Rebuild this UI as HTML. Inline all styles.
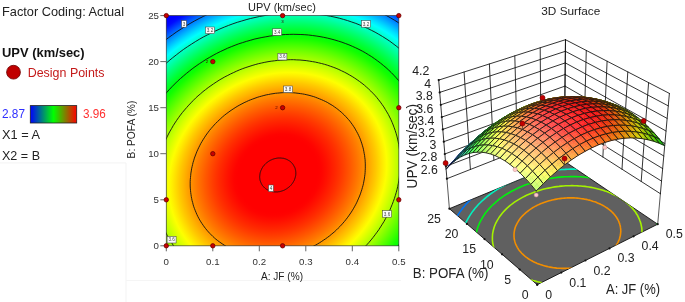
<!DOCTYPE html>
<html><head><meta charset="utf-8"><title>UPV response surface</title>
<style>
html,body{margin:0;padding:0;background:#fff}
body{width:685px;height:302px;overflow:hidden;position:relative;font-family:"Liberation Sans",sans-serif}
svg{position:absolute;left:0;top:0;font-family:"Liberation Sans",sans-serif}
</style></head><body>
<svg width="685" height="302" viewBox="0 0 685 302">
<rect x="0" y="0" width="685" height="302" fill="#fff"/>
<g id="legend">
<text x="2" y="15.8" font-size="13" textLength="122" lengthAdjust="spacingAndGlyphs" fill="#222">Factor Coding: Actual</text>
<text x="2" y="56.6" font-size="11.9" textLength="82.6" lengthAdjust="spacingAndGlyphs" font-weight="bold" fill="#111">UPV (km/sec)</text>
<circle cx="13.5" cy="72.2" r="6.9" fill="#c00000" stroke="#6a0000" stroke-width="0.8"/>
<text x="27.7" y="77" font-size="13.1" textLength="76.8" lengthAdjust="spacingAndGlyphs" fill="#c41a1a">Design Points</text>
<text x="2" y="118.4" font-size="12.4" textLength="23" lengthAdjust="spacingAndGlyphs" fill="#2f2fff">2.87</text>
<rect x="30.3" y="105.6" width="46.4" height="17.4" fill="url(#lg)" stroke="#222" stroke-width="0.8"/>
<text x="83" y="118.4" font-size="12.4" textLength="22.8" lengthAdjust="spacingAndGlyphs" fill="#ff2f2f">3.96</text>
<text x="2" y="139" font-size="12.5" textLength="38" lengthAdjust="spacingAndGlyphs" fill="#222">X1 = A</text>
<text x="2" y="159.8" font-size="12.5" textLength="38" lengthAdjust="spacingAndGlyphs" fill="#222">X2 = B</text>
</g>
<path d="M0 162.9H126V302" fill="none" stroke="#f3f3f3" stroke-width="1"/>
<path d="M126 280.5H401" fill="none" stroke="#f5f5f5" stroke-width="1"/>
<g id="contour">
<defs><radialGradient id="hg" gradientUnits="userSpaceOnUse" cx="0" cy="0" r="1" gradientTransform="matrix(-194.04421 112.27451 99.26805 171.56511 277.770 174.968)"><stop offset="0.0000" stop-color="#ff0000"/><stop offset="0.0167" stop-color="#ff0000"/><stop offset="0.0333" stop-color="#ff0000"/><stop offset="0.0500" stop-color="#ff0000"/><stop offset="0.0667" stop-color="#ff0000"/><stop offset="0.0833" stop-color="#ff0000"/><stop offset="0.1000" stop-color="#ff0000"/><stop offset="0.1167" stop-color="#ff0000"/><stop offset="0.1333" stop-color="#ff0000"/><stop offset="0.1500" stop-color="#ff0000"/><stop offset="0.1667" stop-color="#ff0000"/><stop offset="0.1833" stop-color="#ff0000"/><stop offset="0.2000" stop-color="#ff0300"/><stop offset="0.2167" stop-color="#ff0b00"/><stop offset="0.2333" stop-color="#ff1400"/><stop offset="0.2500" stop-color="#ff1e00"/><stop offset="0.2667" stop-color="#ff2800"/><stop offset="0.2833" stop-color="#ff3300"/><stop offset="0.3000" stop-color="#ff3f00"/><stop offset="0.3167" stop-color="#ff4c00"/><stop offset="0.3333" stop-color="#ff5900"/><stop offset="0.3500" stop-color="#ff6700"/><stop offset="0.3667" stop-color="#ff7500"/><stop offset="0.3833" stop-color="#ff8400"/><stop offset="0.4000" stop-color="#ff9400"/><stop offset="0.4167" stop-color="#ffa400"/><stop offset="0.4333" stop-color="#ffb600"/><stop offset="0.4500" stop-color="#ffc700"/><stop offset="0.4667" stop-color="#ffda00"/><stop offset="0.4833" stop-color="#ffed00"/><stop offset="0.5000" stop-color="#fdff00"/><stop offset="0.5167" stop-color="#e8ff00"/><stop offset="0.5333" stop-color="#d3ff00"/><stop offset="0.5500" stop-color="#bdff00"/><stop offset="0.5667" stop-color="#a7ff00"/><stop offset="0.5833" stop-color="#90ff00"/><stop offset="0.6000" stop-color="#78ff00"/><stop offset="0.6167" stop-color="#5fff00"/><stop offset="0.6333" stop-color="#46ff00"/><stop offset="0.6500" stop-color="#2cff00"/><stop offset="0.6667" stop-color="#12ff00"/><stop offset="0.6833" stop-color="#00ff0a"/><stop offset="0.7000" stop-color="#00ff26"/><stop offset="0.7167" stop-color="#00ff42"/><stop offset="0.7333" stop-color="#00ff5f"/><stop offset="0.7500" stop-color="#00ff7d"/><stop offset="0.7667" stop-color="#00ff9c"/><stop offset="0.7833" stop-color="#00ffbb"/><stop offset="0.8000" stop-color="#00ffdb"/><stop offset="0.8167" stop-color="#00fffc"/><stop offset="0.8333" stop-color="#00e1ff"/><stop offset="0.8500" stop-color="#00bfff"/><stop offset="0.8667" stop-color="#009cff"/><stop offset="0.8833" stop-color="#0079ff"/><stop offset="0.9000" stop-color="#0055ff"/><stop offset="0.9167" stop-color="#0030ff"/><stop offset="0.9333" stop-color="#000bff"/><stop offset="0.9500" stop-color="#0000ff"/><stop offset="0.9667" stop-color="#0000ff"/><stop offset="0.9833" stop-color="#0000ff"/><stop offset="1.0000" stop-color="#0000ff"/></radialGradient><clipPath id="pc"><rect x="166.3" y="15.6" width="232.5" height="230.2"/></clipPath><linearGradient id="lg" x1="0" x2="1" y1="0" y2="0"><stop offset="0" stop-color="#0000ff"/><stop offset="0.5" stop-color="#00ff00"/><stop offset="1" stop-color="#ff0000"/></linearGradient></defs>
<rect x="166.3" y="15.6" width="232.5" height="230.2" fill="url(#hg)"/>
<g clip-path="url(#pc)" fill="none" stroke="#111" stroke-width="0.9">
<path d="M106.4 274.1 L108.8 278.0 L111.3 281.9 L113.8 285.7 L116.5 289.4 L119.3 293.0 L122.3 296.6 L125.3 300.1 L128.4 303.4 L131.6 306.7 L135.0 309.9 L138.4 313.0 L141.9 316.1 L145.5 319.0 L149.2 321.8 L153.0 324.5 L156.9 327.1 L160.9 329.7 L164.9 332.1 L169.0 334.4 L173.2 336.6 L177.5 338.6 L181.8 340.6 L186.2 342.5 L190.7 344.2 L195.2 345.8 L199.8 347.3 L204.4 348.7 L209.1 350.0 L213.8 351.2 L218.6 352.2 L223.4 353.1 L228.3 353.9 L233.1 354.5 L238.1 355.1 L243.0 355.5 L248.0 355.8 L253.0 356.0 L258.0 356.0 L263.0 355.9 L268.0 355.7 L273.0 355.4 L278.1 355.0 L283.1 354.4 L288.2 353.7 L293.2 352.9 L298.2 351.9 L303.2 350.9 L308.2 349.7 L313.2 348.4 L318.1 347.0 L323.0 345.4 L327.9 343.8 L332.7 342.0 L337.5 340.1 L342.3 338.1 L347.0 336.0 L351.7 333.8 L356.3 331.4 L360.9 329.0 L365.4 326.5 L369.9 323.8 L374.3 321.1 L378.6 318.2 L382.9 315.3 L387.0 312.2 L391.1 309.1 L395.2 305.9 L399.1 302.5 L403.0 299.1 L406.8 295.6 L410.5 292.1 L414.1 288.4 L417.6 284.7 L421.0 280.9 L424.3 277.0 L427.5 273.0 L430.6 269.0 L433.7 264.9 L436.6 260.8 L439.3 256.6 L442.0 252.3 L444.6 248.0 L447.1 243.7 L449.4 239.3 L451.6 234.8 L453.7 230.3 L455.7 225.8 L457.6 221.2 L459.3 216.6 L460.9 212.0 L462.4 207.3 L463.7 202.7 L465.0 198.0 L466.1 193.3 L467.1 188.5 L467.9 183.8 L468.6 179.1 L469.2 174.3 L469.7 169.6 L470.0 164.9 L470.2 160.1 L470.2 155.4 L470.2 150.7 L469.9 146.0 L469.6 141.4 L469.1 136.7 L468.5 132.1 L467.8 127.5 L466.9 122.9 L466.0 118.4 L464.8 113.9 L463.6 109.5 L462.2 105.1 L460.7 100.8 L459.1 96.5 L457.3 92.2 L455.5 88.0 L453.5 83.9 L451.3 79.8 L449.1 75.8 L446.8 71.9 L444.3 68.0 L441.7 64.3 L439.0 60.5 L436.2 56.9 L433.3 53.4 L430.3 49.9 L427.1 46.5 L423.9 43.2 L420.6 40.0 L417.2 36.9 L413.6 33.9 L410.0 30.9 L406.3 28.1 L402.5 25.4 L398.6 22.8 L394.7 20.3 L390.6 17.9 L386.5 15.6 L382.3 13.4 L378.1 11.3 L373.7 9.3 L369.3 7.5 L364.9 5.7 L360.3 4.1 L355.8 2.6 L351.1 1.2 L346.4 -0.1 L341.7 -1.2 L336.9 -2.3 L332.1 -3.2 L327.3 -3.9 L322.4 -4.6 L317.5 -5.1 L312.5 -5.6 L307.6 -5.9 L302.6 -6.0 L297.6 -6.1 L292.6 -6.0 L287.5 -5.8 L282.5 -5.5 L277.5 -5.0 L272.4 -4.4 L267.4 -3.7 L262.4 -2.9 L257.3 -2.0 L252.3 -0.9 L247.4 0.3 L242.4 1.6 L237.5 3.0 L232.5 4.5 L227.7 6.2 L222.8 7.9 L218.0 9.8 L213.2 11.8 L208.5 13.9 L203.8 16.2 L199.2 18.5 L194.6 20.9 L190.1 23.5 L185.7 26.1 L181.3 28.9 L176.9 31.7 L172.7 34.7 L168.5 37.7 L164.4 40.9 L160.4 44.1 L156.4 47.4 L152.5 50.8 L148.8 54.3 L145.1 57.9 L141.5 61.5 L138.0 65.3 L134.5 69.1 L131.2 72.9 L128.0 76.9 L124.9 80.9 L121.9 85.0 L119.0 89.1 L116.2 93.3 L113.5 97.6 L110.9 101.9 L108.5 106.3 L106.1 110.7 L103.9 115.1 L101.8 119.6 L99.8 124.2 L98.0 128.7 L96.2 133.3 L94.6 137.9 L93.2 142.6 L91.8 147.3 L90.6 152.0 L89.5 156.7 L88.5 161.4 L87.6 166.1 L86.9 170.9 L86.3 175.6 L85.9 180.3 L85.6 185.1 L85.4 189.8 L85.3 194.5 L85.4 199.2 L85.6 203.9 L85.9 208.6 L86.4 213.2 L87.0 217.8 L87.7 222.4 L88.6 227.0 L89.6 231.5 L90.7 236.0 L92.0 240.4 L93.3 244.8 L94.8 249.2 L96.5 253.5 L98.2 257.7 L100.1 261.9 L102.1 266.0 L104.2 270.1 L106.4 274.1Z"/>
<path d="M124.4 263.7 L126.5 267.3 L128.7 270.7 L131.0 274.1 L133.4 277.4 L135.9 280.7 L138.5 283.9 L141.2 287.0 L144.0 290.0 L146.9 292.9 L149.9 295.8 L153.0 298.6 L156.1 301.3 L159.4 303.9 L162.7 306.5 L166.1 308.9 L169.5 311.2 L173.1 313.5 L176.7 315.6 L180.4 317.7 L184.1 319.7 L188.0 321.5 L191.8 323.3 L195.8 325.0 L199.8 326.5 L203.8 328.0 L207.9 329.3 L212.1 330.6 L216.3 331.7 L220.5 332.7 L224.8 333.7 L229.1 334.5 L233.4 335.2 L237.8 335.8 L242.2 336.2 L246.6 336.6 L251.1 336.9 L255.6 337.0 L260.0 337.1 L264.5 337.0 L269.0 336.8 L273.5 336.5 L278.1 336.1 L282.6 335.6 L287.1 335.0 L291.6 334.3 L296.1 333.4 L300.5 332.5 L305.0 331.4 L309.4 330.2 L313.9 329.0 L318.3 327.6 L322.6 326.1 L327.0 324.5 L331.3 322.8 L335.6 321.0 L339.8 319.1 L344.0 317.2 L348.1 315.1 L352.2 312.9 L356.3 310.6 L360.2 308.2 L364.2 305.8 L368.0 303.2 L371.9 300.6 L375.6 297.9 L379.3 295.1 L382.9 292.2 L386.4 289.2 L389.9 286.1 L393.3 283.0 L396.6 279.8 L399.8 276.5 L403.0 273.2 L406.0 269.8 L409.0 266.3 L411.9 262.8 L414.7 259.2 L417.4 255.5 L419.9 251.8 L422.4 248.1 L424.8 244.2 L427.1 240.4 L429.3 236.5 L431.4 232.5 L433.4 228.5 L435.3 224.5 L437.1 220.5 L438.8 216.4 L440.3 212.3 L441.7 208.1 L443.1 203.9 L444.3 199.8 L445.4 195.6 L446.4 191.3 L447.3 187.1 L448.0 182.9 L448.7 178.6 L449.2 174.4 L449.6 170.2 L449.9 165.9 L450.0 161.7 L450.1 157.5 L450.0 153.2 L449.8 149.0 L449.5 144.9 L449.1 140.7 L448.6 136.6 L447.9 132.5 L447.2 128.4 L446.3 124.3 L445.3 120.3 L444.2 116.3 L442.9 112.4 L441.6 108.5 L440.1 104.7 L438.6 100.9 L436.9 97.1 L435.1 93.4 L433.2 89.8 L431.2 86.2 L429.1 82.7 L426.9 79.2 L424.6 75.8 L422.1 72.5 L419.6 69.3 L417.0 66.1 L414.3 63.0 L411.5 59.9 L408.6 57.0 L405.6 54.1 L402.6 51.3 L399.4 48.6 L396.2 46.0 L392.9 43.5 L389.5 41.0 L386.0 38.7 L382.5 36.5 L378.8 34.3 L375.1 32.2 L371.4 30.3 L367.6 28.4 L363.7 26.6 L359.8 25.0 L355.8 23.4 L351.7 22.0 L347.6 20.6 L343.5 19.4 L339.3 18.2 L335.0 17.2 L330.8 16.3 L326.4 15.5 L322.1 14.8 L317.7 14.2 L313.3 13.7 L308.9 13.3 L304.5 13.1 L300.0 12.9 L295.5 12.9 L291.0 12.9 L286.5 13.1 L282.0 13.4 L277.5 13.8 L273.0 14.3 L268.5 14.9 L264.0 15.7 L259.5 16.5 L255.0 17.5 L250.5 18.5 L246.1 19.7 L241.7 21.0 L237.3 22.3 L232.9 23.8 L228.6 25.4 L224.3 27.1 L220.0 28.9 L215.8 30.8 L211.6 32.8 L207.4 34.9 L203.3 37.0 L199.3 39.3 L195.3 41.7 L191.4 44.2 L187.5 46.7 L183.7 49.3 L179.9 52.1 L176.3 54.9 L172.6 57.8 L169.1 60.7 L165.6 63.8 L162.3 66.9 L158.9 70.1 L155.7 73.4 L152.6 76.7 L149.5 80.1 L146.6 83.6 L143.7 87.2 L140.9 90.8 L138.2 94.4 L135.6 98.1 L133.1 101.9 L130.7 105.7 L128.4 109.6 L126.2 113.5 L124.1 117.4 L122.1 121.4 L120.2 125.4 L118.5 129.5 L116.8 133.6 L115.2 137.7 L113.8 141.8 L112.5 146.0 L111.2 150.2 L110.1 154.4 L109.2 158.6 L108.3 162.8 L107.5 167.1 L106.9 171.3 L106.4 175.5 L106.0 179.8 L105.7 184.0 L105.5 188.3 L105.4 192.5 L105.5 196.7 L105.7 200.9 L106.0 205.1 L106.4 209.2 L107.0 213.4 L107.6 217.5 L108.4 221.6 L109.3 225.6 L110.3 229.6 L111.4 233.6 L112.6 237.5 L114.0 241.4 L115.4 245.3 L117.0 249.1 L118.7 252.8 L120.5 256.5 L122.4 260.2 L124.4 263.7Z"/>
<path d="M144.7 252.0 L146.5 255.0 L148.4 258.0 L150.4 261.0 L152.5 263.9 L154.7 266.7 L157.0 269.4 L159.3 272.1 L161.7 274.8 L164.2 277.3 L166.8 279.8 L169.5 282.2 L172.2 284.6 L175.0 286.9 L177.9 289.0 L180.9 291.2 L183.9 293.2 L186.9 295.1 L190.1 297.0 L193.3 298.8 L196.5 300.5 L199.9 302.1 L203.2 303.7 L206.6 305.1 L210.1 306.4 L213.6 307.7 L217.2 308.9 L220.8 310.0 L224.4 310.9 L228.1 311.8 L231.8 312.6 L235.5 313.3 L239.3 314.0 L243.1 314.5 L246.9 314.9 L250.8 315.2 L254.6 315.4 L258.5 315.6 L262.4 315.6 L266.3 315.6 L270.2 315.4 L274.1 315.1 L278.0 314.8 L281.9 314.3 L285.8 313.8 L289.7 313.2 L293.6 312.4 L297.5 311.6 L301.4 310.7 L305.3 309.7 L309.1 308.6 L312.9 307.4 L316.7 306.1 L320.5 304.7 L324.2 303.3 L327.9 301.7 L331.6 300.1 L335.2 298.3 L338.8 296.5 L342.4 294.6 L345.9 292.7 L349.3 290.6 L352.7 288.5 L356.1 286.2 L359.4 284.0 L362.7 281.6 L365.8 279.2 L369.0 276.6 L372.1 274.1 L375.1 271.4 L378.0 268.7 L380.9 265.9 L383.7 263.1 L386.4 260.2 L389.0 257.2 L391.6 254.2 L394.1 251.2 L396.5 248.0 L398.9 244.9 L401.1 241.6 L403.3 238.4 L405.4 235.1 L407.4 231.7 L409.3 228.3 L411.1 224.9 L412.8 221.5 L414.5 218.0 L416.0 214.4 L417.4 210.9 L418.8 207.3 L420.0 203.7 L421.2 200.1 L422.3 196.5 L423.2 192.8 L424.1 189.2 L424.8 185.5 L425.5 181.8 L426.0 178.2 L426.5 174.5 L426.8 170.8 L427.1 167.1 L427.2 163.4 L427.3 159.8 L427.2 156.1 L427.1 152.5 L426.8 148.9 L426.4 145.2 L426.0 141.7 L425.4 138.1 L424.7 134.5 L424.0 131.0 L423.1 127.6 L422.1 124.1 L421.1 120.7 L419.9 117.3 L418.6 114.0 L417.3 110.7 L415.8 107.4 L414.3 104.2 L412.6 101.1 L410.9 98.0 L409.0 94.9 L407.1 91.9 L405.1 89.0 L403.0 86.1 L400.8 83.3 L398.6 80.5 L396.2 77.8 L393.8 75.2 L391.3 72.6 L388.7 70.1 L386.1 67.7 L383.3 65.4 L380.5 63.1 L377.6 60.9 L374.7 58.8 L371.7 56.7 L368.6 54.8 L365.5 52.9 L362.3 51.1 L359.0 49.4 L355.7 47.8 L352.3 46.3 L348.9 44.8 L345.4 43.5 L341.9 42.2 L338.4 41.1 L334.8 40.0 L331.1 39.0 L327.4 38.1 L323.7 37.3 L320.0 36.6 L316.2 36.0 L312.4 35.5 L308.6 35.0 L304.8 34.7 L300.9 34.5 L297.0 34.4 L293.2 34.3 L289.3 34.4 L285.4 34.5 L281.4 34.8 L277.5 35.1 L273.6 35.6 L269.7 36.1 L265.8 36.8 L261.9 37.5 L258.0 38.3 L254.1 39.2 L250.3 40.3 L246.4 41.4 L242.6 42.6 L238.8 43.8 L235.1 45.2 L231.3 46.7 L227.6 48.2 L224.0 49.9 L220.3 51.6 L216.7 53.4 L213.2 55.3 L209.7 57.3 L206.2 59.3 L202.8 61.5 L199.4 63.7 L196.1 66.0 L192.9 68.3 L189.7 70.8 L186.6 73.3 L183.5 75.9 L180.5 78.5 L177.5 81.2 L174.7 84.0 L171.9 86.8 L169.2 89.7 L166.5 92.7 L163.9 95.7 L161.4 98.8 L159.0 101.9 L156.7 105.1 L154.4 108.3 L152.2 111.6 L150.2 114.9 L148.2 118.2 L146.3 121.6 L144.4 125.0 L142.7 128.5 L141.1 132.0 L139.5 135.5 L138.1 139.0 L136.8 142.6 L135.5 146.2 L134.3 149.8 L133.3 153.5 L132.3 157.1 L131.5 160.8 L130.7 164.4 L130.1 168.1 L129.5 171.8 L129.1 175.5 L128.7 179.1 L128.5 182.8 L128.3 186.5 L128.3 190.2 L128.3 193.8 L128.5 197.5 L128.7 201.1 L129.1 204.7 L129.6 208.3 L130.1 211.8 L130.8 215.4 L131.6 218.9 L132.4 222.4 L133.4 225.8 L134.5 229.2 L135.7 232.6 L136.9 236.0 L138.3 239.3 L139.7 242.5 L141.3 245.7 L142.9 248.9 L144.7 252.0Z"/>
<path d="M168.7 238.1 L170.2 240.6 L171.8 243.0 L173.4 245.5 L175.1 247.8 L176.9 250.1 L178.8 252.4 L180.7 254.6 L182.7 256.8 L184.7 258.8 L186.9 260.9 L189.0 262.9 L191.3 264.8 L193.6 266.7 L195.9 268.4 L198.4 270.2 L200.8 271.8 L203.3 273.5 L205.9 275.0 L208.5 276.4 L211.2 277.8 L213.9 279.2 L216.7 280.4 L219.5 281.6 L222.3 282.7 L225.2 283.7 L228.1 284.7 L231.1 285.6 L234.0 286.4 L237.1 287.1 L240.1 287.8 L243.2 288.4 L246.3 288.9 L249.4 289.3 L252.5 289.6 L255.6 289.9 L258.8 290.1 L262.0 290.2 L265.2 290.2 L268.4 290.2 L271.6 290.0 L274.8 289.8 L278.0 289.5 L281.2 289.2 L284.4 288.7 L287.6 288.2 L290.8 287.6 L294.0 286.9 L297.1 286.2 L300.3 285.4 L303.4 284.5 L306.6 283.5 L309.7 282.4 L312.8 281.3 L315.8 280.1 L318.9 278.8 L321.9 277.5 L324.8 276.1 L327.8 274.6 L330.7 273.0 L333.6 271.4 L336.4 269.7 L339.2 268.0 L342.0 266.2 L344.7 264.3 L347.3 262.3 L349.9 260.3 L352.5 258.3 L355.0 256.2 L357.5 254.0 L359.9 251.8 L362.3 249.5 L364.5 247.2 L366.8 244.8 L369.0 242.4 L371.1 239.9 L373.1 237.4 L375.1 234.8 L377.0 232.2 L378.9 229.6 L380.6 226.9 L382.3 224.2 L384.0 221.5 L385.5 218.7 L387.0 215.9 L388.4 213.1 L389.8 210.2 L391.0 207.3 L392.2 204.4 L393.3 201.5 L394.4 198.5 L395.3 195.6 L396.2 192.6 L397.0 189.6 L397.7 186.6 L398.3 183.6 L398.8 180.6 L399.3 177.6 L399.6 174.6 L399.9 171.5 L400.1 168.5 L400.3 165.5 L400.3 162.5 L400.2 159.5 L400.1 156.5 L399.9 153.6 L399.6 150.6 L399.2 147.7 L398.8 144.7 L398.2 141.8 L397.6 139.0 L396.9 136.1 L396.1 133.3 L395.2 130.5 L394.2 127.7 L393.2 125.0 L392.1 122.3 L390.9 119.6 L389.6 117.0 L388.3 114.4 L386.8 111.9 L385.3 109.4 L383.8 106.9 L382.1 104.5 L380.4 102.1 L378.6 99.8 L376.8 97.5 L374.9 95.3 L372.9 93.2 L370.8 91.1 L368.7 89.0 L366.5 87.1 L364.3 85.1 L362.0 83.3 L359.6 81.5 L357.2 79.8 L354.7 78.1 L352.2 76.5 L349.6 75.0 L347.0 73.5 L344.3 72.1 L341.6 70.8 L338.9 69.5 L336.1 68.3 L333.2 67.2 L330.3 66.2 L327.4 65.2 L324.5 64.3 L321.5 63.5 L318.5 62.8 L315.4 62.1 L312.4 61.6 L309.3 61.1 L306.2 60.6 L303.0 60.3 L299.9 60.0 L296.7 59.9 L293.6 59.7 L290.4 59.7 L287.2 59.8 L284.0 59.9 L280.8 60.1 L277.6 60.4 L274.4 60.8 L271.2 61.2 L268.0 61.7 L264.8 62.3 L261.6 63.0 L258.4 63.7 L255.2 64.6 L252.1 65.5 L249.0 66.5 L245.9 67.5 L242.8 68.6 L239.7 69.8 L236.7 71.1 L233.7 72.5 L230.7 73.9 L227.8 75.4 L224.8 76.9 L222.0 78.5 L219.1 80.2 L216.3 82.0 L213.6 83.8 L210.9 85.7 L208.2 87.6 L205.6 89.6 L203.0 91.6 L200.5 93.8 L198.0 95.9 L195.6 98.1 L193.3 100.4 L191.0 102.8 L188.8 105.1 L186.6 107.6 L184.5 110.0 L182.4 112.5 L180.4 115.1 L178.5 117.7 L176.7 120.3 L174.9 123.0 L173.2 125.7 L171.6 128.5 L170.0 131.2 L168.5 134.0 L167.1 136.9 L165.8 139.7 L164.5 142.6 L163.3 145.5 L162.2 148.5 L161.2 151.4 L160.2 154.4 L159.4 157.3 L158.6 160.3 L157.9 163.3 L157.3 166.3 L156.7 169.3 L156.3 172.4 L155.9 175.4 L155.6 178.4 L155.4 181.4 L155.3 184.4 L155.3 187.4 L155.3 190.4 L155.4 193.4 L155.6 196.4 L155.9 199.3 L156.3 202.3 L156.8 205.2 L157.3 208.1 L158.0 211.0 L158.7 213.8 L159.5 216.6 L160.4 219.4 L161.3 222.2 L162.3 225.0 L163.5 227.7 L164.7 230.3 L165.9 232.9 L167.3 235.5 L168.7 238.1Z"/>
<path d="M199.8 220.1 L200.9 221.9 L202.0 223.6 L203.2 225.3 L204.4 227.0 L205.7 228.7 L207.0 230.3 L208.4 231.9 L209.8 233.4 L211.3 234.9 L212.8 236.4 L214.3 237.8 L215.9 239.2 L217.6 240.5 L219.3 241.8 L221.0 243.0 L222.8 244.2 L224.6 245.4 L226.4 246.5 L228.3 247.5 L230.2 248.5 L232.1 249.4 L234.1 250.3 L236.1 251.2 L238.1 252.0 L240.2 252.7 L242.3 253.4 L244.4 254.0 L246.5 254.6 L248.7 255.1 L250.8 255.6 L253.0 256.0 L255.2 256.4 L257.5 256.7 L259.7 256.9 L262.0 257.1 L264.2 257.2 L266.5 257.3 L268.8 257.3 L271.0 257.3 L273.3 257.2 L275.6 257.1 L277.9 256.9 L280.2 256.6 L282.5 256.3 L284.8 255.9 L287.1 255.5 L289.3 255.0 L291.6 254.5 L293.9 253.9 L296.1 253.2 L298.4 252.5 L300.6 251.8 L302.8 251.0 L305.0 250.1 L307.1 249.2 L309.3 248.2 L311.4 247.2 L313.5 246.2 L315.6 245.1 L317.7 243.9 L319.7 242.7 L321.7 241.4 L323.6 240.1 L325.6 238.8 L327.5 237.4 L329.4 236.0 L331.2 234.5 L333.0 233.0 L334.8 231.5 L336.5 229.9 L338.2 228.2 L339.8 226.6 L341.4 224.9 L342.9 223.2 L344.5 221.4 L345.9 219.6 L347.3 217.8 L348.7 215.9 L350.0 214.0 L351.3 212.1 L352.5 210.2 L353.7 208.2 L354.8 206.2 L355.9 204.2 L356.9 202.2 L357.8 200.1 L358.7 198.1 L359.6 196.0 L360.4 193.9 L361.1 191.8 L361.8 189.7 L362.4 187.6 L363.0 185.4 L363.5 183.3 L363.9 181.1 L364.3 179.0 L364.6 176.8 L364.9 174.7 L365.1 172.5 L365.2 170.4 L365.3 168.2 L365.3 166.1 L365.3 163.9 L365.2 161.8 L365.1 159.7 L364.8 157.6 L364.6 155.5 L364.2 153.4 L363.8 151.3 L363.4 149.2 L362.9 147.2 L362.3 145.2 L361.7 143.2 L361.0 141.2 L360.3 139.2 L359.5 137.3 L358.6 135.4 L357.7 133.5 L356.7 131.7 L355.7 129.9 L354.7 128.1 L353.5 126.3 L352.4 124.6 L351.1 122.9 L349.9 121.2 L348.5 119.6 L347.2 118.1 L345.7 116.5 L344.3 115.0 L342.8 113.6 L341.2 112.1 L339.6 110.8 L337.9 109.4 L336.3 108.2 L334.5 106.9 L332.8 105.7 L331.0 104.6 L329.1 103.5 L327.3 102.4 L325.3 101.4 L323.4 100.5 L321.4 99.6 L319.4 98.8 L317.4 98.0 L315.3 97.2 L313.3 96.5 L311.2 95.9 L309.0 95.3 L306.9 94.8 L304.7 94.3 L302.5 93.9 L300.3 93.6 L298.1 93.3 L295.8 93.0 L293.6 92.8 L291.3 92.7 L289.1 92.6 L286.8 92.6 L284.5 92.6 L282.2 92.7 L279.9 92.9 L277.6 93.1 L275.3 93.3 L273.0 93.7 L270.8 94.0 L268.5 94.5 L266.2 94.9 L263.9 95.5 L261.7 96.1 L259.4 96.7 L257.2 97.4 L255.0 98.2 L252.8 99.0 L250.6 99.8 L248.4 100.7 L246.3 101.7 L244.1 102.7 L242.0 103.8 L239.9 104.9 L237.9 106.0 L235.9 107.2 L233.9 108.5 L231.9 109.8 L230.0 111.1 L228.1 112.5 L226.2 113.9 L224.3 115.4 L222.5 116.9 L220.8 118.5 L219.1 120.1 L217.4 121.7 L215.7 123.4 L214.2 125.0 L212.6 126.8 L211.1 128.5 L209.6 130.3 L208.2 132.2 L206.8 134.0 L205.5 135.9 L204.3 137.8 L203.0 139.8 L201.9 141.7 L200.7 143.7 L199.7 145.7 L198.7 147.7 L197.7 149.8 L196.8 151.8 L196.0 153.9 L195.2 156.0 L194.4 158.1 L193.8 160.2 L193.1 162.4 L192.6 164.5 L192.1 166.6 L191.6 168.8 L191.3 170.9 L190.9 173.1 L190.7 175.3 L190.5 177.4 L190.3 179.6 L190.2 181.7 L190.2 183.9 L190.2 186.0 L190.3 188.1 L190.5 190.3 L190.7 192.4 L191.0 194.5 L191.3 196.6 L191.7 198.6 L192.1 200.7 L192.7 202.7 L193.2 204.8 L193.8 206.8 L194.5 208.7 L195.3 210.7 L196.1 212.6 L196.9 214.5 L197.8 216.4 L198.8 218.3 L199.8 220.1Z"/>
<path d="M261.7 184.3 L261.9 184.6 L262.2 185.0 L262.4 185.4 L262.6 185.7 L262.9 186.0 L263.2 186.4 L263.5 186.7 L263.8 187.0 L264.1 187.3 L264.4 187.6 L264.7 187.9 L265.0 188.2 L265.4 188.5 L265.7 188.7 L266.1 189.0 L266.4 189.2 L266.8 189.5 L267.2 189.7 L267.6 189.9 L268.0 190.1 L268.4 190.3 L268.8 190.5 L269.2 190.7 L269.6 190.8 L270.0 191.0 L270.5 191.1 L270.9 191.3 L271.3 191.4 L271.8 191.5 L272.2 191.6 L272.7 191.7 L273.1 191.7 L273.6 191.8 L274.0 191.9 L274.5 191.9 L275.0 191.9 L275.4 191.9 L275.9 191.9 L276.4 191.9 L276.9 191.9 L277.3 191.9 L277.8 191.9 L278.3 191.8 L278.7 191.7 L279.2 191.7 L279.7 191.6 L280.2 191.5 L280.6 191.4 L281.1 191.2 L281.6 191.1 L282.0 191.0 L282.5 190.8 L282.9 190.6 L283.4 190.5 L283.8 190.3 L284.3 190.1 L284.7 189.9 L285.1 189.6 L285.6 189.4 L286.0 189.2 L286.4 188.9 L286.8 188.7 L287.2 188.4 L287.6 188.1 L288.0 187.8 L288.4 187.5 L288.8 187.2 L289.2 186.9 L289.5 186.6 L289.9 186.3 L290.2 186.0 L290.6 185.6 L290.9 185.3 L291.2 184.9 L291.5 184.5 L291.8 184.2 L292.1 183.8 L292.4 183.4 L292.7 183.0 L292.9 182.6 L293.2 182.2 L293.4 181.8 L293.6 181.4 L293.9 181.0 L294.1 180.6 L294.3 180.2 L294.5 179.7 L294.6 179.3 L294.8 178.9 L294.9 178.4 L295.1 178.0 L295.2 177.6 L295.3 177.1 L295.4 176.7 L295.5 176.2 L295.6 175.8 L295.7 175.4 L295.7 174.9 L295.8 174.5 L295.8 174.0 L295.8 173.6 L295.8 173.1 L295.8 172.7 L295.8 172.3 L295.8 171.8 L295.7 171.4 L295.7 170.9 L295.6 170.5 L295.5 170.1 L295.4 169.7 L295.3 169.2 L295.2 168.8 L295.1 168.4 L294.9 168.0 L294.8 167.6 L294.6 167.2 L294.4 166.8 L294.2 166.4 L294.1 166.0 L293.8 165.7 L293.6 165.3 L293.4 164.9 L293.1 164.6 L292.9 164.2 L292.6 163.9 L292.4 163.6 L292.1 163.2 L291.8 162.9 L291.5 162.6 L291.2 162.3 L290.8 162.0 L290.5 161.7 L290.2 161.5 L289.8 161.2 L289.5 160.9 L289.1 160.7 L288.7 160.5 L288.4 160.2 L288.0 160.0 L287.6 159.8 L287.2 159.6 L286.8 159.4 L286.4 159.3 L285.9 159.1 L285.5 158.9 L285.1 158.8 L284.7 158.7 L284.2 158.5 L283.8 158.4 L283.3 158.3 L282.9 158.3 L282.4 158.2 L282.0 158.1 L281.5 158.1 L281.0 158.0 L280.6 158.0 L280.1 158.0 L279.6 158.0 L279.2 158.0 L278.7 158.0 L278.2 158.0 L277.7 158.1 L277.3 158.1 L276.8 158.2 L276.3 158.3 L275.9 158.4 L275.4 158.5 L274.9 158.6 L274.5 158.7 L274.0 158.8 L273.5 159.0 L273.1 159.1 L272.6 159.3 L272.2 159.5 L271.7 159.7 L271.3 159.9 L270.8 160.1 L270.4 160.3 L270.0 160.5 L269.5 160.8 L269.1 161.0 L268.7 161.3 L268.3 161.5 L267.9 161.8 L267.5 162.1 L267.1 162.4 L266.8 162.7 L266.4 163.0 L266.0 163.3 L265.7 163.6 L265.3 164.0 L265.0 164.3 L264.7 164.7 L264.3 165.0 L264.0 165.4 L263.7 165.8 L263.4 166.1 L263.1 166.5 L262.9 166.9 L262.6 167.3 L262.4 167.7 L262.1 168.1 L261.9 168.5 L261.7 168.9 L261.5 169.4 L261.3 169.8 L261.1 170.2 L260.9 170.6 L260.7 171.1 L260.6 171.5 L260.5 171.9 L260.3 172.4 L260.2 172.8 L260.1 173.3 L260.0 173.7 L259.9 174.1 L259.9 174.6 L259.8 175.0 L259.8 175.5 L259.7 175.9 L259.7 176.4 L259.7 176.8 L259.7 177.2 L259.7 177.7 L259.8 178.1 L259.8 178.6 L259.9 179.0 L259.9 179.4 L260.0 179.8 L260.1 180.3 L260.2 180.7 L260.3 181.1 L260.5 181.5 L260.6 181.9 L260.8 182.3 L260.9 182.7 L261.1 183.1 L261.3 183.5 L261.5 183.9 L261.7 184.3Z"/>
</g>
<rect x="166.3" y="15.6" width="232.5" height="230.2" fill="none" stroke="#1a1a1a" stroke-opacity="0.75" stroke-width="0.8"/>
<g stroke="#666" stroke-width="1">
<line x1="166.3" y1="245.8" x2="166.3" y2="251.3"/>
<line x1="160.3" y1="245.8" x2="166.3" y2="245.8"/>
<line x1="212.8" y1="245.8" x2="212.8" y2="251.3"/>
<line x1="160.3" y1="199.8" x2="166.3" y2="199.8"/>
<line x1="259.3" y1="245.8" x2="259.3" y2="251.3"/>
<line x1="160.3" y1="153.7" x2="166.3" y2="153.7"/>
<line x1="305.8" y1="245.8" x2="305.8" y2="251.3"/>
<line x1="160.3" y1="107.7" x2="166.3" y2="107.7"/>
<line x1="352.3" y1="245.8" x2="352.3" y2="251.3"/>
<line x1="160.3" y1="61.6" x2="166.3" y2="61.6"/>
<line x1="398.8" y1="245.8" x2="398.8" y2="251.3"/>
<line x1="160.3" y1="15.6" x2="166.3" y2="15.6"/>
</g>
<g font-size="9.7" fill="#333">
<text x="166.3" y="264.7" text-anchor="middle">0</text>
<text x="159" y="249.3" text-anchor="end">0</text>
<text x="212.8" y="264.7" text-anchor="middle">0.1</text>
<text x="159" y="203.3" text-anchor="end">5</text>
<text x="259.3" y="264.7" text-anchor="middle">0.2</text>
<text x="159" y="157.2" text-anchor="end">10</text>
<text x="305.8" y="264.7" text-anchor="middle">0.3</text>
<text x="159" y="111.2" text-anchor="end">15</text>
<text x="352.3" y="264.7" text-anchor="middle">0.4</text>
<text x="159" y="65.1" text-anchor="end">20</text>
<text x="398.8" y="264.7" text-anchor="middle">0.5</text>
<text x="159" y="19.1" text-anchor="end">25</text>
</g>
<text x="261" y="280.4" font-size="10.5" textLength="42" lengthAdjust="spacingAndGlyphs" fill="#222">A: JF (%)</text>
<text transform="translate(135.3 158.4) rotate(-90)" font-size="10.5" textLength="57.7" lengthAdjust="spacingAndGlyphs" fill="#222">B: POFA (%)</text>
<text x="248" y="10.8" font-size="10.6" textLength="67.8" lengthAdjust="spacingAndGlyphs" fill="#222">UPV (km/sec)</text>
<rect x="181.6" y="20.6" width="4.8" height="6.6" fill="#fbfbfb" stroke="#444" stroke-width="0.55"/>
<text x="184.0" y="25.6" font-size="4.6" text-anchor="middle" fill="#444">3</text>
<rect x="205.5" y="27.0" width="9.0" height="6.6" fill="#fbfbfb" stroke="#444" stroke-width="0.55"/>
<text x="210.0" y="32.0" font-size="4.6" text-anchor="middle" fill="#444">3.2</text>
<rect x="272.6" y="28.8" width="9.0" height="6.6" fill="#fbfbfb" stroke="#444" stroke-width="0.55"/>
<text x="277.1" y="33.8" font-size="4.6" text-anchor="middle" fill="#444">3.4</text>
<rect x="277.9" y="53.4" width="9.0" height="6.6" fill="#fbfbfb" stroke="#444" stroke-width="0.55"/>
<text x="282.4" y="58.4" font-size="4.6" text-anchor="middle" fill="#444">3.6</text>
<rect x="283.5" y="86.0" width="9.0" height="6.6" fill="#fbfbfb" stroke="#444" stroke-width="0.55"/>
<text x="288.0" y="91.0" font-size="4.6" text-anchor="middle" fill="#444">3.8</text>
<rect x="268.6" y="185.0" width="4.8" height="6.6" fill="#fbfbfb" stroke="#444" stroke-width="0.55"/>
<text x="271.0" y="190.0" font-size="4.6" text-anchor="middle" fill="#444">4</text>
<rect x="361.5" y="20.6" width="9.0" height="6.6" fill="#fbfbfb" stroke="#444" stroke-width="0.55"/>
<text x="366.0" y="25.6" font-size="4.6" text-anchor="middle" fill="#444">3.2</text>
<rect x="382.5" y="210.6" width="9.0" height="6.6" fill="#fbfbfb" stroke="#444" stroke-width="0.55"/>
<text x="387.0" y="215.6" font-size="4.6" text-anchor="middle" fill="#444">3.6</text>
<rect x="167.1" y="236.4" width="9.0" height="6.6" fill="#fbfbfb" stroke="#444" stroke-width="0.55"/>
<text x="171.6" y="241.4" font-size="4.6" text-anchor="middle" fill="#444">3.6</text>
<circle cx="166.3" cy="15.6" r="2.2" fill="#c80000" stroke="#6a0000" stroke-width="0.8"/>
<circle cx="282.6" cy="15.6" r="2.2" fill="#c80000" stroke="#6a0000" stroke-width="0.8"/>
<circle cx="398.8" cy="15.6" r="2.2" fill="#c80000" stroke="#6a0000" stroke-width="0.8"/>
<circle cx="212.8" cy="61.6" r="2.2" fill="#c80000" stroke="#6a0000" stroke-width="0.8"/>
<circle cx="282.6" cy="107.7" r="2.2" fill="#c80000" stroke="#6a0000" stroke-width="0.8"/>
<circle cx="398.8" cy="107.7" r="2.2" fill="#c80000" stroke="#6a0000" stroke-width="0.8"/>
<circle cx="212.8" cy="153.7" r="2.2" fill="#c80000" stroke="#6a0000" stroke-width="0.8"/>
<circle cx="166.3" cy="199.8" r="2.2" fill="#c80000" stroke="#6a0000" stroke-width="0.8"/>
<circle cx="398.8" cy="199.8" r="2.2" fill="#c80000" stroke="#6a0000" stroke-width="0.8"/>
<circle cx="166.3" cy="245.8" r="2.2" fill="#c80000" stroke="#6a0000" stroke-width="0.8"/>
<circle cx="212.8" cy="245.8" r="2.2" fill="#c80000" stroke="#6a0000" stroke-width="0.8"/>
<circle cx="282.6" cy="245.8" r="2.2" fill="#c80000" stroke="#6a0000" stroke-width="0.8"/>
<text x="207.0" y="63.2" font-size="4.4" text-anchor="middle" fill="#400">2</text>
<text x="282.5" y="22.6" font-size="4.4" text-anchor="middle" fill="#400">3</text>
<text x="276.6" y="109.2" font-size="4.4" text-anchor="middle" fill="#400">2</text>
</g>
<g id="surface">
<g stroke-linecap="round">
<line x1="438.7" y1="80.1" x2="446.9" y2="178.7" stroke="#111" stroke-width="0.85"/>
<line x1="565.5" y1="39.7" x2="564.5" y2="132.5" stroke="#111" stroke-width="0.85"/>
<line x1="464.1" y1="72.0" x2="470.4" y2="169.4" stroke="#111" stroke-width="0.85"/>
<line x1="586.3" y1="50.4" x2="583.7" y2="144.7" stroke="#111" stroke-width="0.85"/>
<line x1="489.4" y1="64.0" x2="493.9" y2="160.2" stroke="#111" stroke-width="0.85"/>
<line x1="607.1" y1="61.2" x2="602.9" y2="157.0" stroke="#111" stroke-width="0.85"/>
<line x1="514.8" y1="55.9" x2="517.5" y2="151.0" stroke="#111" stroke-width="0.85"/>
<line x1="627.8" y1="71.9" x2="622.0" y2="169.2" stroke="#111" stroke-width="0.85"/>
<line x1="540.2" y1="47.8" x2="541.0" y2="141.7" stroke="#111" stroke-width="0.85"/>
<line x1="648.6" y1="82.6" x2="641.2" y2="181.4" stroke="#111" stroke-width="0.85"/>
<line x1="565.5" y1="39.7" x2="564.5" y2="132.5" stroke="#111" stroke-width="0.85"/>
<line x1="669.4" y1="93.4" x2="660.4" y2="193.7" stroke="#111" stroke-width="0.85"/>
<line x1="438.7" y1="80.1" x2="565.5" y2="39.7" stroke="#111" stroke-width="0.85"/>
<line x1="565.5" y1="39.7" x2="669.4" y2="93.4" stroke="#111" stroke-width="0.85"/>
<line x1="439.7" y1="92.4" x2="565.4" y2="51.3" stroke="#111" stroke-width="0.85"/>
<line x1="565.4" y1="51.3" x2="668.3" y2="105.9" stroke="#111" stroke-width="0.85"/>
<line x1="440.8" y1="104.8" x2="565.3" y2="62.9" stroke="#111" stroke-width="0.85"/>
<line x1="565.3" y1="62.9" x2="667.1" y2="118.4" stroke="#111" stroke-width="0.85"/>
<line x1="441.8" y1="117.1" x2="565.1" y2="74.5" stroke="#111" stroke-width="0.85"/>
<line x1="565.1" y1="74.5" x2="666.0" y2="131.0" stroke="#111" stroke-width="0.85"/>
<line x1="442.8" y1="129.4" x2="565.0" y2="86.1" stroke="#111" stroke-width="0.85"/>
<line x1="565.0" y1="86.1" x2="664.9" y2="143.5" stroke="#111" stroke-width="0.85"/>
<line x1="443.8" y1="141.7" x2="564.9" y2="97.7" stroke="#111" stroke-width="0.85"/>
<line x1="564.9" y1="97.7" x2="663.8" y2="156.0" stroke="#111" stroke-width="0.85"/>
<line x1="444.8" y1="154.0" x2="564.8" y2="109.3" stroke="#111" stroke-width="0.85"/>
<line x1="564.8" y1="109.3" x2="662.7" y2="168.6" stroke="#111" stroke-width="0.85"/>
<line x1="445.9" y1="166.3" x2="564.6" y2="120.9" stroke="#111" stroke-width="0.85"/>
<line x1="564.6" y1="120.9" x2="661.5" y2="181.1" stroke="#111" stroke-width="0.85"/>
<line x1="446.9" y1="178.7" x2="564.5" y2="132.5" stroke="#111" stroke-width="0.85"/>
<line x1="564.5" y1="132.5" x2="660.4" y2="193.7" stroke="#111" stroke-width="0.85"/>
<line x1="446.9" y1="178.7" x2="449.4" y2="208.7" stroke="#111" stroke-width="0.7"/>
<line x1="660.4" y1="193.7" x2="657.7" y2="224.2" stroke="#111" stroke-width="0.7"/>
<line x1="564.5" y1="132.5" x2="564.2" y2="161.1" stroke="#111" stroke-width="0.7"/>
</g>
<polygon points="449.4,208.7 537.2,284.7 657.7,224.2 564.2,161.1" fill="#606060" stroke="#111" stroke-width="0.9" stroke-linejoin="round"/>
<clipPath id="fc"><polygon points="449.4,208.7 537.2,284.7 657.7,224.2 564.2,161.1"/></clipPath>
<g clip-path="url(#fc)" fill="none" stroke-width="1.6">
<path d="M514.2 313.7 L518.0 314.8 L521.9 315.7 L525.8 316.6 L529.8 317.3 L533.8 318.0 L537.9 318.6 L542.0 319.0 L546.2 319.4 L550.4 319.6 L554.6 319.8 L558.8 319.9 L563.0 319.8 L567.2 319.7 L571.5 319.5 L575.7 319.1 L579.9 318.7 L584.1 318.2 L588.2 317.5 L592.4 316.8 L596.5 316.0 L600.5 315.1 L604.5 314.0 L608.5 312.9 L612.4 311.8 L616.2 310.5 L619.9 309.1 L623.6 307.7 L627.2 306.2 L630.7 304.6 L634.2 302.9 L637.5 301.2 L640.7 299.3 L643.9 297.5 L646.9 295.5 L649.9 293.6 L652.7 291.5 L655.4 289.4 L658.0 287.2 L660.5 285.1 L662.9 282.8 L665.2 280.5 L667.3 278.2 L669.3 275.9 L671.2 273.5 L673.0 271.1 L674.6 268.7 L676.2 266.2 L677.6 263.7 L678.8 261.3 L680.0 258.8 L681.0 256.3 L681.9 253.8 L682.7 251.2 L683.3 248.7 L683.9 246.2 L684.3 243.7 L684.5 241.2 L684.7 238.7 L684.8 236.3 L684.7 233.8 L684.5 231.4 L684.2 229.0 L683.8 226.6 L683.3 224.2 L682.7 221.8 L681.9 219.5 L681.1 217.2 L680.1 215.0 L679.1 212.7 L678.0 210.5 L676.7 208.4 L675.4 206.3 L674.0 204.2 L672.5 202.2 L670.9 200.2 L669.2 198.2 L667.4 196.3 L665.6 194.4 L663.7 192.6 L661.7 190.8 L659.6 189.1 L657.4 187.4 L655.2 185.8 L652.9 184.2 L650.6 182.7 L648.2 181.2 L645.7 179.8 L643.2 178.5 L640.6 177.1 L638.0 175.9 L635.3 174.7 L632.6 173.5 L629.8 172.5 L627.0 171.4 L624.1 170.4 L621.2 169.5 L618.3 168.7 L615.3 167.9 L612.3 167.1 L609.2 166.4 L606.1 165.8 L603.1 165.2 L599.9 164.7 L596.8 164.2 L593.6 163.9 L590.4 163.5 L587.2 163.2 L584.0 163.0 L580.8 162.9 L577.6 162.8 L574.3 162.7 L571.1 162.8 L567.8 162.8 L564.5 163.0 L561.3 163.2 L558.0 163.4 L554.8 163.8 L551.6 164.1 L548.3 164.6 L545.1 165.1 L541.9 165.6 L538.7 166.2 L535.5 166.9 L532.4 167.6 L529.2 168.4 L526.1 169.3 L523.0 170.2 L520.0 171.1 L517.0 172.2 L514.0 173.2 L511.0 174.4 L508.1 175.6 L505.2 176.8 L502.4 178.1 L499.6 179.4 L496.9 180.9 L494.2 182.3 L491.5 183.8 L488.9 185.4 L486.4 187.0 L483.9 188.7 L481.5 190.4 L479.2 192.1 L476.9 193.9 L474.7 195.8 L472.6 197.7 L470.5 199.6 L468.5 201.6 L466.6 203.6 L464.8 205.7 L463.0 207.8 L461.4 210.0 L459.8 212.1 L458.3 214.4 L457.0 216.6 L455.7 218.9 L454.5 221.2 L453.4 223.5 L452.4 225.9 L451.5 228.3 L450.8 230.7 L450.1 233.1 L449.5 235.6 L449.1 238.1 L448.8 240.5 L448.6 243.0 L448.5 245.5 L448.5 248.0 L448.7 250.5 L448.9 253.1 L449.3 255.6 L449.9 258.1 L450.5 260.6 L451.3 263.1 L452.2 265.5 L453.2 268.0 L454.4 270.4 L455.7 272.8 L457.1 275.2 L458.7 277.6 L460.3 279.9 L462.1 282.2 L464.1 284.4 L466.1 286.6 L468.3 288.8 L470.6 290.9 L473.0 293.0 L475.6 295.0 L478.2 296.9 L481.0 298.8 L483.9 300.7 L486.9 302.4 L490.0 304.1 L493.2 305.7 L496.4 307.3 L499.8 308.7 L503.3 310.1 L506.9 311.4 L510.5 312.6 L514.2 313.7Z" stroke="#0074f2"/>
<path d="M520.5 304.0 L523.9 304.9 L527.3 305.7 L530.7 306.5 L534.3 307.1 L537.8 307.7 L541.4 308.2 L545.1 308.6 L548.7 308.9 L552.4 309.2 L556.1 309.3 L559.8 309.4 L563.5 309.3 L567.3 309.2 L571.0 309.0 L574.7 308.7 L578.4 308.3 L582.1 307.9 L585.8 307.3 L589.4 306.7 L593.1 306.0 L596.6 305.2 L600.2 304.3 L603.7 303.3 L607.1 302.3 L610.5 301.2 L613.8 300.0 L617.1 298.7 L620.3 297.4 L623.4 296.0 L626.4 294.6 L629.4 293.1 L632.3 291.5 L635.1 289.8 L637.8 288.1 L640.5 286.4 L643.0 284.6 L645.4 282.8 L647.8 280.9 L650.0 278.9 L652.2 277.0 L654.2 275.0 L656.1 272.9 L658.0 270.9 L659.7 268.8 L661.3 266.6 L662.8 264.5 L664.2 262.3 L665.5 260.1 L666.7 258.0 L667.7 255.7 L668.7 253.5 L669.5 251.3 L670.3 249.1 L670.9 246.8 L671.4 244.6 L671.8 242.4 L672.1 240.1 L672.3 237.9 L672.4 235.7 L672.4 233.5 L672.3 231.3 L672.1 229.2 L671.7 227.0 L671.3 224.9 L670.8 222.8 L670.2 220.7 L669.5 218.6 L668.7 216.6 L667.8 214.6 L666.8 212.6 L665.7 210.7 L664.6 208.8 L663.3 206.9 L662.0 205.0 L660.6 203.2 L659.1 201.5 L657.5 199.7 L655.9 198.0 L654.2 196.4 L652.4 194.8 L650.6 193.2 L648.7 191.7 L646.7 190.2 L644.7 188.8 L642.6 187.4 L640.4 186.1 L638.2 184.8 L635.9 183.5 L633.6 182.3 L631.2 181.2 L628.8 180.1 L626.4 179.0 L623.9 178.0 L621.3 177.1 L618.7 176.2 L616.1 175.3 L613.5 174.6 L610.8 173.8 L608.0 173.1 L605.3 172.5 L602.5 171.9 L599.7 171.4 L596.9 170.9 L594.0 170.5 L591.2 170.2 L588.3 169.8 L585.4 169.6 L582.5 169.4 L579.6 169.3 L576.6 169.2 L573.7 169.1 L570.7 169.1 L567.8 169.2 L564.8 169.4 L561.9 169.5 L558.9 169.8 L556.0 170.1 L553.1 170.4 L550.1 170.8 L547.2 171.3 L544.3 171.8 L541.4 172.3 L538.5 173.0 L535.7 173.6 L532.9 174.4 L530.1 175.1 L527.3 176.0 L524.5 176.8 L521.8 177.8 L519.1 178.8 L516.4 179.8 L513.8 180.9 L511.2 182.0 L508.7 183.2 L506.2 184.4 L503.7 185.7 L501.3 187.0 L498.9 188.4 L496.6 189.8 L494.3 191.3 L492.1 192.8 L490.0 194.4 L487.9 196.0 L485.9 197.6 L483.9 199.3 L482.0 201.0 L480.2 202.8 L478.4 204.5 L476.7 206.4 L475.1 208.3 L473.6 210.2 L472.1 212.1 L470.8 214.1 L469.5 216.1 L468.3 218.1 L467.2 220.1 L466.1 222.2 L465.2 224.3 L464.4 226.4 L463.6 228.6 L463.0 230.7 L462.4 232.9 L462.0 235.1 L461.6 237.3 L461.4 239.5 L461.2 241.8 L461.2 244.0 L461.3 246.2 L461.5 248.4 L461.8 250.7 L462.2 252.9 L462.7 255.1 L463.3 257.3 L464.0 259.5 L464.9 261.7 L465.9 263.9 L466.9 266.1 L468.1 268.2 L469.4 270.3 L470.8 272.4 L472.4 274.4 L474.0 276.4 L475.8 278.4 L477.6 280.3 L479.6 282.2 L481.7 284.1 L483.8 285.9 L486.1 287.7 L488.5 289.4 L491.0 291.0 L493.5 292.6 L496.2 294.2 L499.0 295.6 L501.8 297.0 L504.7 298.4 L507.7 299.7 L510.8 300.9 L514.0 302.0 L517.2 303.0 L520.5 304.0Z" stroke="#00f2bf"/>
<path d="M527.4 293.3 L530.3 294.1 L533.2 294.8 L536.2 295.4 L539.2 296.0 L542.2 296.4 L545.3 296.9 L548.4 297.2 L551.5 297.5 L554.6 297.7 L557.8 297.8 L561.0 297.8 L564.1 297.8 L567.3 297.7 L570.5 297.5 L573.7 297.3 L576.8 297.0 L580.0 296.6 L583.1 296.1 L586.2 295.6 L589.3 295.0 L592.4 294.3 L595.4 293.6 L598.4 292.8 L601.3 291.9 L604.2 291.0 L607.1 290.0 L609.9 288.9 L612.6 287.8 L615.3 286.6 L617.9 285.4 L620.5 284.1 L623.0 282.8 L625.4 281.4 L627.8 280.0 L630.0 278.5 L632.2 277.0 L634.4 275.4 L636.4 273.8 L638.3 272.2 L640.2 270.5 L642.0 268.8 L643.7 267.1 L645.3 265.3 L646.8 263.5 L648.2 261.7 L649.6 259.9 L650.8 258.0 L652.0 256.1 L653.0 254.2 L654.0 252.4 L654.9 250.4 L655.6 248.5 L656.3 246.6 L656.9 244.7 L657.4 242.8 L657.8 240.8 L658.1 238.9 L658.3 237.0 L658.4 235.1 L658.5 233.2 L658.4 231.3 L658.3 229.4 L658.0 227.6 L657.7 225.7 L657.3 223.9 L656.8 222.1 L656.2 220.3 L655.6 218.5 L654.8 216.7 L654.0 215.0 L653.1 213.3 L652.1 211.6 L651.1 210.0 L650.0 208.4 L648.8 206.8 L647.5 205.2 L646.2 203.7 L644.8 202.2 L643.3 200.7 L641.8 199.3 L640.2 197.9 L638.6 196.6 L636.8 195.3 L635.1 194.0 L633.3 192.8 L631.4 191.6 L629.5 190.5 L627.5 189.4 L625.5 188.3 L623.4 187.3 L621.3 186.3 L619.2 185.4 L617.0 184.5 L614.8 183.7 L612.5 182.9 L610.2 182.1 L607.9 181.4 L605.5 180.8 L603.1 180.1 L600.7 179.6 L598.3 179.1 L595.8 178.6 L593.4 178.2 L590.8 177.8 L588.3 177.5 L585.8 177.2 L583.2 177.0 L580.7 176.8 L578.1 176.7 L575.5 176.6 L572.9 176.6 L570.4 176.6 L567.8 176.7 L565.2 176.8 L562.6 176.9 L560.0 177.1 L557.4 177.4 L554.8 177.7 L552.2 178.1 L549.7 178.5 L547.1 178.9 L544.6 179.4 L542.1 180.0 L539.6 180.6 L537.1 181.2 L534.6 181.9 L532.2 182.7 L529.8 183.4 L527.4 184.3 L525.0 185.1 L522.7 186.1 L520.4 187.0 L518.1 188.0 L515.9 189.1 L513.7 190.2 L511.6 191.3 L509.5 192.5 L507.4 193.7 L505.4 194.9 L503.5 196.2 L501.5 197.6 L499.7 198.9 L497.9 200.4 L496.1 201.8 L494.5 203.3 L492.8 204.8 L491.3 206.3 L489.8 207.9 L488.3 209.5 L486.9 211.2 L485.6 212.8 L484.4 214.5 L483.3 216.3 L482.2 218.0 L481.2 219.8 L480.2 221.6 L479.4 223.4 L478.6 225.2 L477.9 227.0 L477.3 228.9 L476.8 230.8 L476.4 232.7 L476.0 234.6 L475.8 236.5 L475.6 238.4 L475.5 240.3 L475.6 242.2 L475.7 244.2 L475.9 246.1 L476.2 248.0 L476.6 249.9 L477.0 251.8 L477.6 253.7 L478.3 255.6 L479.1 257.5 L480.0 259.3 L480.9 261.2 L482.0 263.0 L483.2 264.8 L484.4 266.6 L485.8 268.3 L487.2 270.0 L488.7 271.7 L490.4 273.4 L492.1 275.0 L493.9 276.5 L495.8 278.1 L497.8 279.6 L499.8 281.0 L502.0 282.4 L504.2 283.7 L506.5 285.0 L508.9 286.3 L511.3 287.5 L513.9 288.6 L516.4 289.7 L519.1 290.7 L521.8 291.6 L524.6 292.5 L527.4 293.3Z" stroke="#00f20d"/>
<path d="M535.3 281.1 L537.6 281.7 L539.9 282.3 L542.3 282.8 L544.7 283.2 L547.2 283.6 L549.6 283.9 L552.1 284.2 L554.6 284.4 L557.2 284.5 L559.7 284.6 L562.3 284.7 L564.8 284.6 L567.4 284.6 L569.9 284.4 L572.5 284.2 L575.0 284.0 L577.5 283.7 L580.1 283.3 L582.6 282.9 L585.0 282.4 L587.5 281.9 L589.9 281.3 L592.4 280.7 L594.7 280.0 L597.1 279.3 L599.4 278.5 L601.6 277.6 L603.9 276.8 L606.0 275.8 L608.2 274.9 L610.2 273.8 L612.3 272.8 L614.2 271.7 L616.2 270.5 L618.0 269.4 L619.8 268.2 L621.6 266.9 L623.2 265.6 L624.8 264.3 L626.4 263.0 L627.9 261.6 L629.3 260.2 L630.6 258.8 L631.9 257.4 L633.1 255.9 L634.2 254.4 L635.2 253.0 L636.2 251.4 L637.1 249.9 L637.9 248.4 L638.7 246.9 L639.3 245.3 L639.9 243.7 L640.5 242.2 L640.9 240.6 L641.3 239.1 L641.6 237.5 L641.8 235.9 L641.9 234.4 L642.0 232.8 L642.0 231.3 L641.9 229.7 L641.8 228.2 L641.5 226.7 L641.2 225.1 L640.9 223.7 L640.5 222.2 L639.9 220.7 L639.4 219.3 L638.7 217.8 L638.0 216.4 L637.3 215.0 L636.4 213.7 L635.6 212.3 L634.6 211.0 L633.6 209.7 L632.5 208.4 L631.4 207.2 L630.2 206.0 L629.0 204.8 L627.7 203.6 L626.4 202.5 L625.0 201.4 L623.5 200.4 L622.0 199.3 L620.5 198.3 L618.9 197.4 L617.3 196.4 L615.7 195.6 L614.0 194.7 L612.2 193.9 L610.5 193.1 L608.7 192.3 L606.8 191.6 L604.9 191.0 L603.0 190.3 L601.1 189.7 L599.2 189.2 L597.2 188.7 L595.2 188.2 L593.2 187.8 L591.1 187.4 L589.0 187.0 L587.0 186.7 L584.9 186.4 L582.8 186.2 L580.6 186.0 L578.5 185.9 L576.4 185.7 L574.2 185.7 L572.0 185.6 L569.9 185.7 L567.7 185.7 L565.6 185.8 L563.4 186.0 L561.2 186.1 L559.1 186.4 L556.9 186.6 L554.8 186.9 L552.7 187.3 L550.5 187.7 L548.4 188.1 L546.3 188.5 L544.2 189.0 L542.2 189.6 L540.1 190.2 L538.1 190.8 L536.1 191.5 L534.1 192.2 L532.2 192.9 L530.3 193.7 L528.4 194.5 L526.5 195.3 L524.7 196.2 L522.9 197.1 L521.1 198.1 L519.4 199.1 L517.7 200.1 L516.1 201.1 L514.5 202.2 L512.9 203.3 L511.4 204.5 L509.9 205.7 L508.5 206.9 L507.1 208.1 L505.8 209.4 L504.6 210.6 L503.3 212.0 L502.2 213.3 L501.1 214.7 L500.1 216.0 L499.1 217.4 L498.2 218.9 L497.3 220.3 L496.5 221.8 L495.8 223.2 L495.1 224.7 L494.5 226.2 L494.0 227.8 L493.6 229.3 L493.2 230.8 L492.9 232.4 L492.6 233.9 L492.5 235.5 L492.4 237.1 L492.4 238.6 L492.4 240.2 L492.6 241.8 L492.8 243.3 L493.1 244.9 L493.4 246.4 L493.9 248.0 L494.4 249.5 L495.0 251.0 L495.6 252.5 L496.4 254.0 L497.2 255.5 L498.1 257.0 L499.1 258.4 L500.2 259.8 L501.3 261.2 L502.5 262.6 L503.8 264.0 L505.1 265.3 L506.5 266.6 L508.0 267.8 L509.6 269.0 L511.2 270.2 L512.9 271.4 L514.7 272.5 L516.5 273.5 L518.3 274.6 L520.3 275.6 L522.3 276.5 L524.3 277.4 L526.4 278.2 L528.6 279.0 L530.7 279.8 L533.0 280.5 L535.3 281.1Z" stroke="#a4f200"/>
<path d="M545.0 266.0 L546.6 266.4 L548.3 266.8 L550.0 267.1 L551.6 267.4 L553.4 267.7 L555.1 267.9 L556.8 268.1 L558.6 268.2 L560.3 268.3 L562.1 268.4 L563.9 268.4 L565.6 268.4 L567.4 268.3 L569.2 268.2 L571.0 268.1 L572.8 267.9 L574.5 267.7 L576.3 267.5 L578.0 267.2 L579.8 266.9 L581.5 266.5 L583.2 266.1 L584.9 265.7 L586.5 265.2 L588.2 264.7 L589.8 264.2 L591.4 263.6 L592.9 263.0 L594.5 262.4 L596.0 261.7 L597.4 261.0 L598.9 260.3 L600.3 259.5 L601.6 258.7 L603.0 257.9 L604.3 257.1 L605.5 256.2 L606.7 255.4 L607.9 254.5 L609.0 253.5 L610.0 252.6 L611.1 251.6 L612.0 250.6 L612.9 249.6 L613.8 248.6 L614.6 247.6 L615.4 246.5 L616.1 245.5 L616.8 244.4 L617.4 243.3 L618.0 242.3 L618.5 241.2 L619.0 240.1 L619.4 239.0 L619.7 237.9 L620.0 236.7 L620.3 235.6 L620.5 234.5 L620.6 233.4 L620.7 232.3 L620.8 231.2 L620.7 230.1 L620.7 229.0 L620.5 227.9 L620.4 226.8 L620.2 225.7 L619.9 224.7 L619.6 223.6 L619.2 222.6 L618.8 221.5 L618.3 220.5 L617.8 219.5 L617.2 218.5 L616.6 217.5 L615.9 216.6 L615.2 215.6 L614.5 214.7 L613.7 213.8 L612.9 212.9 L612.0 212.0 L611.1 211.2 L610.2 210.4 L609.2 209.6 L608.2 208.8 L607.1 208.0 L606.0 207.3 L604.9 206.6 L603.7 205.9 L602.5 205.2 L601.3 204.6 L600.1 204.0 L598.8 203.4 L597.5 202.9 L596.2 202.3 L594.8 201.8 L593.4 201.4 L592.0 200.9 L590.6 200.5 L589.2 200.1 L587.7 199.8 L586.2 199.4 L584.8 199.2 L583.2 198.9 L581.7 198.7 L580.2 198.5 L578.7 198.3 L577.1 198.1 L575.5 198.0 L574.0 197.9 L572.4 197.9 L570.8 197.9 L569.3 197.9 L567.7 197.9 L566.1 198.0 L564.5 198.1 L562.9 198.2 L561.4 198.4 L559.8 198.6 L558.2 198.8 L556.7 199.1 L555.1 199.4 L553.6 199.7 L552.1 200.0 L550.6 200.4 L549.1 200.8 L547.6 201.2 L546.1 201.7 L544.7 202.2 L543.2 202.7 L541.8 203.3 L540.4 203.8 L539.1 204.4 L537.7 205.1 L536.4 205.7 L535.1 206.4 L533.8 207.1 L532.6 207.8 L531.4 208.6 L530.2 209.4 L529.1 210.1 L528.0 211.0 L526.9 211.8 L525.9 212.7 L524.9 213.6 L523.9 214.5 L523.0 215.4 L522.1 216.3 L521.2 217.3 L520.4 218.2 L519.7 219.2 L519.0 220.2 L518.3 221.3 L517.7 222.3 L517.1 223.3 L516.6 224.4 L516.1 225.4 L515.6 226.5 L515.2 227.6 L514.9 228.7 L514.6 229.8 L514.4 230.9 L514.2 232.0 L514.1 233.1 L514.0 234.2 L514.0 235.3 L514.0 236.4 L514.1 237.5 L514.2 238.7 L514.4 239.8 L514.7 240.9 L515.0 242.0 L515.3 243.0 L515.7 244.1 L516.2 245.2 L516.7 246.2 L517.3 247.3 L517.9 248.3 L518.5 249.4 L519.3 250.4 L520.0 251.3 L520.9 252.3 L521.7 253.3 L522.7 254.2 L523.7 255.1 L524.7 256.0 L525.7 256.9 L526.9 257.7 L528.0 258.5 L529.2 259.3 L530.5 260.1 L531.8 260.8 L533.1 261.5 L534.5 262.2 L535.9 262.8 L537.3 263.4 L538.8 264.0 L540.3 264.6 L541.9 265.1 L543.4 265.6 L545.0 266.0Z" stroke="#f28e00"/>
</g>
<circle cx="537.2" cy="284.7" r="1.1" fill="#111"/>
<circle cx="537.2" cy="284.7" r="1.1" fill="#111"/>
<circle cx="519.7" cy="269.5" r="1.1" fill="#111"/>
<circle cx="561.3" cy="272.6" r="1.1" fill="#111"/>
<circle cx="502.1" cy="254.3" r="1.1" fill="#111"/>
<circle cx="585.4" cy="260.5" r="1.1" fill="#111"/>
<circle cx="484.5" cy="239.1" r="1.1" fill="#111"/>
<circle cx="609.5" cy="248.4" r="1.1" fill="#111"/>
<circle cx="466.9" cy="223.9" r="1.1" fill="#111"/>
<circle cx="633.6" cy="236.3" r="1.1" fill="#111"/>
<circle cx="449.4" cy="208.7" r="1.1" fill="#111"/>
<circle cx="657.7" cy="224.2" r="1.1" fill="#111"/>
<circle cx="438.7" cy="80.1" r="1.1" fill="#111"/>
<circle cx="439.7" cy="92.4" r="1.1" fill="#111"/>
<circle cx="440.8" cy="104.8" r="1.1" fill="#111"/>
<circle cx="441.8" cy="117.1" r="1.1" fill="#111"/>
<circle cx="442.8" cy="129.4" r="1.1" fill="#111"/>
<circle cx="443.8" cy="141.7" r="1.1" fill="#111"/>
<circle cx="444.8" cy="154.0" r="1.1" fill="#111"/>
<circle cx="445.9" cy="166.3" r="1.1" fill="#111"/>
<circle cx="446.9" cy="178.7" r="1.1" fill="#111"/>
<g stroke-linejoin="round">
<polygon points="563.7,109.6 566.4,110.3 564.2,111.8 561.4,111.1" fill="#0083bf" stroke="#0083bf" stroke-width="0.4"/>
<polygon points="561.4,111.1 564.2,111.8 562.0,113.4 559.2,112.7" fill="#0060be" stroke="#0060be" stroke-width="0.4"/>
<polygon points="566.4,110.3 569.1,111.1 566.9,112.6 564.2,111.8" fill="#006cbc" stroke="#006cbc" stroke-width="0.4"/>
<polygon points="564.2,111.8 566.9,112.6 564.7,114.1 562.0,113.4" fill="#004abc" stroke="#004abc" stroke-width="0.4"/>
<polygon points="563.7,109.6 569.1,111.1 564.7,114.1 559.2,112.7" fill="none" stroke="#101010" stroke-width="0.85"/>
<polygon points="558.1,108.5 560.9,109.0 558.7,110.5 555.9,110.1" fill="#01afc3" stroke="#01afc3" stroke-width="0.4"/>
<polygon points="555.9,110.1 558.7,110.5 556.5,112.2 553.7,111.7" fill="#018ac3" stroke="#018ac3" stroke-width="0.4"/>
<polygon points="560.9,109.0 563.7,109.6 561.4,111.1 558.7,110.5" fill="#009ac1" stroke="#009ac1" stroke-width="0.4"/>
<polygon points="558.7,110.5 561.4,111.1 559.2,112.7 556.5,112.2" fill="#0076c0" stroke="#0076c0" stroke-width="0.4"/>
<polygon points="558.1,108.5 563.7,109.6 559.2,112.7 553.7,111.7" fill="none" stroke="#101010" stroke-width="0.85"/>
<polygon points="568.2,106.9 570.9,107.7 568.6,108.9 565.9,108.2" fill="#00bfb8" stroke="#00bfb8" stroke-width="0.4"/>
<polygon points="565.9,108.2 568.6,108.9 566.4,110.3 563.7,109.6" fill="#00a6bf" stroke="#00a6bf" stroke-width="0.4"/>
<polygon points="570.9,107.7 573.6,108.5 571.4,109.8 568.6,108.9" fill="#00aebd" stroke="#00aebd" stroke-width="0.4"/>
<polygon points="568.6,108.9 571.4,109.8 569.1,111.1 566.4,110.3" fill="#008ebd" stroke="#008ebd" stroke-width="0.4"/>
<polygon points="568.2,106.9 573.6,108.5 569.1,111.1 563.7,109.6" fill="none" stroke="#101010" stroke-width="0.85"/>
<polygon points="552.5,107.8 555.3,108.1 553.1,109.7 550.3,109.4" fill="#01c8b8" stroke="#01c8b8" stroke-width="0.4"/>
<polygon points="550.3,109.4 553.1,109.7 550.9,111.3 548.1,111.1" fill="#01b1c7" stroke="#01b1c7" stroke-width="0.4"/>
<polygon points="555.3,108.1 558.1,108.5 555.9,110.1 553.1,109.7" fill="#01c4c5" stroke="#01c4c5" stroke-width="0.4"/>
<polygon points="553.1,109.7 555.9,110.1 553.7,111.7 550.9,111.3" fill="#019ec5" stroke="#019ec5" stroke-width="0.4"/>
<polygon points="552.5,107.8 558.1,108.5 553.7,111.7 548.1,111.1" fill="none" stroke="#101010" stroke-width="0.85"/>
<polygon points="562.6,105.8 565.4,106.3 563.1,107.6 560.3,107.1" fill="#01c493" stroke="#01c493" stroke-width="0.4"/>
<polygon points="560.3,107.1 563.1,107.6 560.9,109.0 558.1,108.5" fill="#01c4b5" stroke="#01c4b5" stroke-width="0.4"/>
<polygon points="565.4,106.3 568.2,106.9 565.9,108.2 563.1,107.6" fill="#00c2a5" stroke="#00c2a5" stroke-width="0.4"/>
<polygon points="563.1,107.6 565.9,108.2 563.7,109.6 560.9,109.0" fill="#00bdc1" stroke="#00bdc1" stroke-width="0.4"/>
<polygon points="562.6,105.8 568.2,106.9 563.7,109.6 558.1,108.5" fill="none" stroke="#101010" stroke-width="0.85"/>
<polygon points="572.7,104.7 575.5,105.4 573.2,106.5 570.4,105.7" fill="#00c07c" stroke="#00c07c" stroke-width="0.4"/>
<polygon points="570.4,105.7 573.2,106.5 570.9,107.7 568.2,106.9" fill="#00c099" stroke="#00c099" stroke-width="0.4"/>
<polygon points="575.5,105.4 578.2,106.3 575.9,107.4 573.2,106.5" fill="#00be90" stroke="#00be90" stroke-width="0.4"/>
<polygon points="573.2,106.5 575.9,107.4 573.6,108.5 570.9,107.7" fill="#00bdad" stroke="#00bdad" stroke-width="0.4"/>
<polygon points="572.7,104.7 578.2,106.3 573.6,108.5 568.2,106.9" fill="none" stroke="#101010" stroke-width="0.85"/>
<polygon points="546.8,107.6 549.6,107.7 547.4,109.3 544.6,109.2" fill="#02cc9d" stroke="#02cc9d" stroke-width="0.4"/>
<polygon points="544.6,109.2 547.4,109.3 545.3,111.0 542.4,110.9" fill="#01ccc3" stroke="#01ccc3" stroke-width="0.4"/>
<polygon points="549.6,107.7 552.5,107.8 550.3,109.4 547.4,109.3" fill="#01caaa" stroke="#01caaa" stroke-width="0.4"/>
<polygon points="547.4,109.3 550.3,109.4 548.1,111.1 545.3,111.0" fill="#01c3c9" stroke="#01c3c9" stroke-width="0.4"/>
<polygon points="546.8,107.6 552.5,107.8 548.1,111.1 542.4,110.9" fill="none" stroke="#101010" stroke-width="0.85"/>
<polygon points="556.9,105.0 559.8,105.3 557.5,106.7 554.7,106.4" fill="#01c972" stroke="#01c972" stroke-width="0.4"/>
<polygon points="554.7,106.4 557.5,106.7 555.3,108.1 552.5,107.8" fill="#01c894" stroke="#01c894" stroke-width="0.4"/>
<polygon points="559.8,105.3 562.6,105.8 560.3,107.1 557.5,106.7" fill="#01c682" stroke="#01c682" stroke-width="0.4"/>
<polygon points="557.5,106.7 560.3,107.1 558.1,108.5 555.3,108.1" fill="#01c6a4" stroke="#01c6a4" stroke-width="0.4"/>
<polygon points="556.9,105.0 562.6,105.8 558.1,108.5 552.5,107.8" fill="none" stroke="#101010" stroke-width="0.85"/>
<polygon points="541.0,107.8 543.9,107.6 541.7,109.2 538.8,109.4" fill="#02d186" stroke="#02d186" stroke-width="0.4"/>
<polygon points="538.8,109.4 541.7,109.2 539.6,111.0 536.7,111.2" fill="#02d0ad" stroke="#02d0ad" stroke-width="0.4"/>
<polygon points="543.9,107.6 546.8,107.6 544.6,109.2 541.7,109.2" fill="#02ce91" stroke="#02ce91" stroke-width="0.4"/>
<polygon points="541.7,109.2 544.6,109.2 542.4,110.9 539.6,111.0" fill="#02ceb8" stroke="#02ceb8" stroke-width="0.4"/>
<polygon points="541.0,107.8 546.8,107.6 542.4,110.9 536.7,111.2" fill="none" stroke="#101010" stroke-width="0.85"/>
<polygon points="567.1,103.4 569.9,104.0 567.6,105.1 564.8,104.5" fill="#01c555" stroke="#01c555" stroke-width="0.4"/>
<polygon points="564.8,104.5 567.6,105.1 565.4,106.3 562.6,105.8" fill="#01c473" stroke="#01c473" stroke-width="0.4"/>
<polygon points="569.9,104.0 572.7,104.7 570.4,105.7 567.6,105.1" fill="#01c268" stroke="#01c268" stroke-width="0.4"/>
<polygon points="567.6,105.1 570.4,105.7 568.2,106.9 565.4,106.3" fill="#00c286" stroke="#00c286" stroke-width="0.4"/>
<polygon points="567.1,103.4 572.7,104.7 568.2,106.9 562.6,105.8" fill="none" stroke="#101010" stroke-width="0.85"/>
<polygon points="577.4,102.8 580.2,103.6 577.8,104.5 575.0,103.7" fill="#00c145" stroke="#00c145" stroke-width="0.4"/>
<polygon points="575.0,103.7 577.8,104.5 575.5,105.4 572.7,104.7" fill="#00c060" stroke="#00c060" stroke-width="0.4"/>
<polygon points="580.2,103.6 582.9,104.6 580.6,105.4 577.8,104.5" fill="#00be5a" stroke="#00be5a" stroke-width="0.4"/>
<polygon points="577.8,104.5 580.6,105.4 578.2,106.3 575.5,105.4" fill="#00be75" stroke="#00be75" stroke-width="0.4"/>
<polygon points="577.4,102.8 582.9,104.6 578.2,106.3 572.7,104.7" fill="none" stroke="#101010" stroke-width="0.85"/>
<polygon points="551.2,104.7 554.1,104.8 551.8,106.2 549.0,106.1" fill="#02cd55" stroke="#02cd55" stroke-width="0.4"/>
<polygon points="549.0,106.1 551.8,106.2 549.6,107.7 546.8,107.6" fill="#02cd78" stroke="#02cd78" stroke-width="0.4"/>
<polygon points="554.1,104.8 556.9,105.0 554.7,106.4 551.8,106.2" fill="#01cb63" stroke="#01cb63" stroke-width="0.4"/>
<polygon points="551.8,106.2 554.7,106.4 552.5,107.8 549.6,107.7" fill="#01ca86" stroke="#01ca86" stroke-width="0.4"/>
<polygon points="551.2,104.7 556.9,105.0 552.5,107.8 546.8,107.6" fill="none" stroke="#101010" stroke-width="0.85"/>
<polygon points="535.1,108.4 538.1,108.0 535.9,109.7 533.0,110.1" fill="#03d575" stroke="#03d575" stroke-width="0.4"/>
<polygon points="533.0,110.1 535.9,109.7 533.8,111.4 530.9,111.8" fill="#03d49d" stroke="#03d49d" stroke-width="0.4"/>
<polygon points="538.1,108.0 541.0,107.8 538.8,109.4 535.9,109.7" fill="#03d37d" stroke="#03d37d" stroke-width="0.4"/>
<polygon points="535.9,109.7 538.8,109.4 536.7,111.2 533.8,111.4" fill="#03d2a4" stroke="#03d2a4" stroke-width="0.4"/>
<polygon points="535.1,108.4 541.0,107.8 536.7,111.2 530.9,111.8" fill="none" stroke="#101010" stroke-width="0.85"/>
<polygon points="561.4,102.6 564.3,102.9 562.0,104.1 559.2,103.7" fill="#01ca32" stroke="#01ca32" stroke-width="0.4"/>
<polygon points="559.2,103.7 562.0,104.1 559.8,105.3 556.9,105.0" fill="#01c951" stroke="#01c951" stroke-width="0.4"/>
<polygon points="564.3,102.9 567.1,103.4 564.8,104.5 562.0,104.1" fill="#01c743" stroke="#01c743" stroke-width="0.4"/>
<polygon points="562.0,104.1 564.8,104.5 562.6,105.8 559.8,105.3" fill="#01c762" stroke="#01c762" stroke-width="0.4"/>
<polygon points="561.4,102.6 567.1,103.4 562.6,105.8 556.9,105.0" fill="none" stroke="#101010" stroke-width="0.85"/>
<polygon points="571.8,101.5 574.6,102.1 572.3,103.0 569.4,102.4" fill="#01c61c" stroke="#01c61c" stroke-width="0.4"/>
<polygon points="569.4,102.4 572.3,103.0 569.9,104.0 567.1,103.4" fill="#01c538" stroke="#01c538" stroke-width="0.4"/>
<polygon points="574.6,102.1 577.4,102.8 575.0,103.7 572.3,103.0" fill="#01c330" stroke="#01c330" stroke-width="0.4"/>
<polygon points="572.3,103.0 575.0,103.7 572.7,104.7 569.9,104.0" fill="#01c34b" stroke="#01c34b" stroke-width="0.4"/>
<polygon points="571.8,101.5 577.4,102.8 572.7,104.7 567.1,103.4" fill="none" stroke="#101010" stroke-width="0.85"/>
<polygon points="545.4,104.8 548.3,104.7 546.1,106.1 543.2,106.2" fill="#03d23d" stroke="#03d23d" stroke-width="0.4"/>
<polygon points="543.2,106.2 546.1,106.1 543.9,107.6 541.0,107.8" fill="#02d161" stroke="#02d161" stroke-width="0.4"/>
<polygon points="548.3,104.7 551.2,104.7 549.0,106.1 546.1,106.1" fill="#02d048" stroke="#02d048" stroke-width="0.4"/>
<polygon points="546.1,106.1 549.0,106.1 546.8,107.6 543.9,107.6" fill="#02cf6c" stroke="#02cf6c" stroke-width="0.4"/>
<polygon points="545.4,104.8 551.2,104.7 546.8,107.6 541.0,107.8" fill="none" stroke="#101010" stroke-width="0.85"/>
<polygon points="529.2,109.4 532.2,108.9 530.1,110.5 527.1,111.1" fill="#05da68" stroke="#05da68" stroke-width="0.4"/>
<polygon points="527.1,111.1 530.1,110.5 528.0,112.3 525.0,112.9" fill="#04d991" stroke="#04d991" stroke-width="0.4"/>
<polygon points="532.2,108.9 535.1,108.4 533.0,110.1 530.1,110.5" fill="#04d76e" stroke="#04d76e" stroke-width="0.4"/>
<polygon points="530.1,110.5 533.0,110.1 530.9,111.8 528.0,112.3" fill="#04d796" stroke="#04d796" stroke-width="0.4"/>
<polygon points="529.2,109.4 535.1,108.4 530.9,111.8 525.0,112.9" fill="none" stroke="#101010" stroke-width="0.85"/>
<polygon points="582.1,101.5 584.9,102.3 582.5,102.9 579.7,102.1" fill="#00c113" stroke="#00c113" stroke-width="0.4"/>
<polygon points="579.7,102.1 582.5,102.9 580.2,103.6 577.4,102.8" fill="#00c12b" stroke="#00c12b" stroke-width="0.4"/>
<polygon points="584.9,102.3 587.7,103.3 585.3,103.9 582.5,102.9" fill="#00bf2a" stroke="#00bf2a" stroke-width="0.4"/>
<polygon points="582.5,102.9 585.3,103.9 582.9,104.6 580.2,103.6" fill="#00be41" stroke="#00be41" stroke-width="0.4"/>
<polygon points="582.1,101.5 587.7,103.3 582.9,104.6 577.4,102.8" fill="none" stroke="#101010" stroke-width="0.85"/>
<polygon points="555.7,102.2 558.6,102.3 556.3,103.5 553.4,103.4" fill="#02cf13" stroke="#02cf13" stroke-width="0.4"/>
<polygon points="553.4,103.4 556.3,103.5 554.1,104.8 551.2,104.7" fill="#02ce33" stroke="#02ce33" stroke-width="0.4"/>
<polygon points="558.6,102.3 561.4,102.6 559.2,103.7 556.3,103.5" fill="#02cc22" stroke="#02cc22" stroke-width="0.4"/>
<polygon points="556.3,103.5 559.2,103.7 556.9,105.0 554.1,104.8" fill="#01cc42" stroke="#01cc42" stroke-width="0.4"/>
<polygon points="555.7,102.2 561.4,102.6 556.9,105.0 551.2,104.7" fill="none" stroke="#101010" stroke-width="0.85"/>
<polygon points="539.5,105.3 542.4,105.0 540.2,106.5 537.3,106.8" fill="#04d729" stroke="#04d729" stroke-width="0.4"/>
<polygon points="537.3,106.8 540.2,106.5 538.1,108.0 535.1,108.4" fill="#04d64e" stroke="#04d64e" stroke-width="0.4"/>
<polygon points="542.4,105.0 545.4,104.8 543.2,106.2 540.2,106.5" fill="#03d532" stroke="#03d532" stroke-width="0.4"/>
<polygon points="540.2,106.5 543.2,106.2 541.0,107.8 538.1,108.0" fill="#03d457" stroke="#03d457" stroke-width="0.4"/>
<polygon points="539.5,105.3 545.4,104.8 541.0,107.8 535.1,108.4" fill="none" stroke="#101010" stroke-width="0.85"/>
<polygon points="523.3,111.0 526.3,110.1 524.2,111.9 521.2,112.7" fill="#06de61" stroke="#06de61" stroke-width="0.4"/>
<polygon points="521.2,112.7 524.2,111.9 522.1,113.7 519.1,114.5" fill="#06dd8b" stroke="#06dd8b" stroke-width="0.4"/>
<polygon points="526.3,110.1 529.2,109.4 527.1,111.1 524.2,111.9" fill="#05dc64" stroke="#05dc64" stroke-width="0.4"/>
<polygon points="524.2,111.9 527.1,111.1 525.0,112.9 522.1,113.7" fill="#05db8d" stroke="#05db8d" stroke-width="0.4"/>
<polygon points="523.3,111.0 529.2,109.4 525.0,112.9 519.1,114.5" fill="none" stroke="#101010" stroke-width="0.85"/>
<polygon points="566.1,100.6 568.9,101.0 566.6,101.9 563.7,101.5" fill="#0ccb01" stroke="#0ccb01" stroke-width="0.4"/>
<polygon points="563.7,101.5 566.6,101.9 564.3,102.9 561.4,102.6" fill="#01ca14" stroke="#01ca14" stroke-width="0.4"/>
<polygon points="568.9,101.0 571.8,101.5 569.4,102.4 566.6,101.9" fill="#01c809" stroke="#01c809" stroke-width="0.4"/>
<polygon points="566.6,101.9 569.4,102.4 567.1,103.4 564.3,102.9" fill="#01c825" stroke="#01c825" stroke-width="0.4"/>
<polygon points="566.1,100.6 571.8,101.5 567.1,103.4 561.4,102.6" fill="none" stroke="#101010" stroke-width="0.85"/>
<polygon points="576.5,100.1 579.3,100.7 576.9,101.4 574.1,100.7" fill="#19c601" stroke="#19c601" stroke-width="0.4"/>
<polygon points="574.1,100.7 576.9,101.4 574.6,102.1 571.8,101.5" fill="#01c601" stroke="#01c601" stroke-width="0.4"/>
<polygon points="579.3,100.7 582.1,101.5 579.7,102.1 576.9,101.4" fill="#04c401" stroke="#04c401" stroke-width="0.4"/>
<polygon points="576.9,101.4 579.7,102.1 577.4,102.8 574.6,102.1" fill="#01c416" stroke="#01c416" stroke-width="0.4"/>
<polygon points="576.5,100.1 582.1,101.5 577.4,102.8 571.8,101.5" fill="none" stroke="#101010" stroke-width="0.85"/>
<polygon points="549.8,102.2 552.8,102.2 550.5,103.4 547.6,103.5" fill="#0ed403" stroke="#0ed403" stroke-width="0.4"/>
<polygon points="547.6,103.5 550.5,103.4 548.3,104.7 545.4,104.8" fill="#03d31a" stroke="#03d31a" stroke-width="0.4"/>
<polygon points="552.8,102.2 555.7,102.2 553.4,103.4 550.5,103.4" fill="#02d105" stroke="#02d105" stroke-width="0.4"/>
<polygon points="550.5,103.4 553.4,103.4 551.2,104.7 548.3,104.7" fill="#02d026" stroke="#02d026" stroke-width="0.4"/>
<polygon points="549.8,102.2 555.7,102.2 551.2,104.7 545.4,104.8" fill="none" stroke="#101010" stroke-width="0.85"/>
<polygon points="586.9,100.6 589.7,101.5 587.3,101.8 584.5,101.0" fill="#1ac200" stroke="#1ac200" stroke-width="0.4"/>
<polygon points="584.5,101.0 587.3,101.8 584.9,102.3 582.1,101.5" fill="#05c200" stroke="#05c200" stroke-width="0.4"/>
<polygon points="589.7,101.5 592.5,102.4 590.1,102.8 587.3,101.8" fill="#02bf00" stroke="#02bf00" stroke-width="0.4"/>
<polygon points="587.3,101.8 590.1,102.8 587.7,103.3 584.9,102.3" fill="#00bf13" stroke="#00bf13" stroke-width="0.4"/>
<polygon points="586.9,100.6 592.5,102.4 587.7,103.3 582.1,101.5" fill="none" stroke="#101010" stroke-width="0.85"/>
<polygon points="517.3,112.9 520.3,111.9 518.2,113.6 515.2,114.7" fill="#08e260" stroke="#08e260" stroke-width="0.4"/>
<polygon points="515.2,114.7 518.2,113.6 516.1,115.5 513.1,116.5" fill="#08e18a" stroke="#08e18a" stroke-width="0.4"/>
<polygon points="520.3,111.9 523.3,111.0 521.2,112.7 518.2,113.6" fill="#07e060" stroke="#07e060" stroke-width="0.4"/>
<polygon points="518.2,113.6 521.2,112.7 519.1,114.5 516.1,115.5" fill="#07df8a" stroke="#07df8a" stroke-width="0.4"/>
<polygon points="517.3,112.9 523.3,111.0 519.1,114.5 513.1,116.5" fill="none" stroke="#101010" stroke-width="0.85"/>
<polygon points="533.5,106.3 536.5,105.8 534.3,107.3 531.4,107.8" fill="#05dc1b" stroke="#05dc1b" stroke-width="0.4"/>
<polygon points="531.4,107.8 534.3,107.3 532.2,108.9 529.2,109.4" fill="#05db41" stroke="#05db41" stroke-width="0.4"/>
<polygon points="536.5,105.8 539.5,105.3 537.3,106.8 534.3,107.3" fill="#05d921" stroke="#05d921" stroke-width="0.4"/>
<polygon points="534.3,107.3 537.3,106.8 535.1,108.4 532.2,108.9" fill="#04d847" stroke="#04d847" stroke-width="0.4"/>
<polygon points="533.5,106.3 539.5,105.3 535.1,108.4 529.2,109.4" fill="none" stroke="#101010" stroke-width="0.85"/>
<polygon points="560.3,100.2 563.2,100.3 560.9,101.3 558.0,101.1" fill="#2fd002" stroke="#2fd002" stroke-width="0.4"/>
<polygon points="558.0,101.1 560.9,101.3 558.6,102.3 555.7,102.2" fill="#11cf02" stroke="#11cf02" stroke-width="0.4"/>
<polygon points="563.2,100.3 566.1,100.6 563.7,101.5 560.9,101.3" fill="#1ecd02" stroke="#1ecd02" stroke-width="0.4"/>
<polygon points="560.9,101.3 563.7,101.5 561.4,102.6 558.6,102.3" fill="#02cd03" stroke="#02cd03" stroke-width="0.4"/>
<polygon points="560.3,100.2 566.1,100.6 561.4,102.6 555.7,102.2" fill="none" stroke="#101010" stroke-width="0.85"/>
<polygon points="511.2,115.4 514.2,114.1 512.2,115.8 509.2,117.1" fill="#0be665" stroke="#0be665" stroke-width="0.4"/>
<polygon points="509.2,117.1 512.2,115.8 510.2,117.7 507.1,119.0" fill="#0ae58f" stroke="#0ae58f" stroke-width="0.4"/>
<polygon points="514.2,114.1 517.3,112.9 515.2,114.7 512.2,115.8" fill="#09e462" stroke="#09e462" stroke-width="0.4"/>
<polygon points="512.2,115.8 515.2,114.7 513.1,116.5 510.2,117.7" fill="#09e38c" stroke="#09e38c" stroke-width="0.4"/>
<polygon points="511.2,115.4 517.3,112.9 513.1,116.5 507.1,119.0" fill="none" stroke="#101010" stroke-width="0.85"/>
<polygon points="570.8,99.1 573.6,99.5 571.3,100.2 568.4,99.8" fill="#42cc01" stroke="#42cc01" stroke-width="0.4"/>
<polygon points="568.4,99.8 571.3,100.2 568.9,101.0 566.1,100.6" fill="#27cb01" stroke="#27cb01" stroke-width="0.4"/>
<polygon points="573.6,99.5 576.5,100.1 574.1,100.7 571.3,100.2" fill="#2ec901" stroke="#2ec901" stroke-width="0.4"/>
<polygon points="571.3,100.2 574.1,100.7 571.8,101.5 568.9,101.0" fill="#14c901" stroke="#14c901" stroke-width="0.4"/>
<polygon points="570.8,99.1 576.5,100.1 571.8,101.5 566.1,100.6" fill="none" stroke="#101010" stroke-width="0.85"/>
<polygon points="543.9,102.7 546.9,102.4 544.6,103.7 541.7,104.0" fill="#26d904" stroke="#26d904" stroke-width="0.4"/>
<polygon points="541.7,104.0 544.6,103.7 542.4,105.0 539.5,105.3" fill="#04d805" stroke="#04d805" stroke-width="0.4"/>
<polygon points="546.9,102.4 549.8,102.2 547.6,103.5 544.6,103.7" fill="#1ad604" stroke="#1ad604" stroke-width="0.4"/>
<polygon points="544.6,103.7 547.6,103.5 545.4,104.8 542.4,105.0" fill="#03d50f" stroke="#03d50f" stroke-width="0.4"/>
<polygon points="543.9,102.7 549.8,102.2 545.4,104.8 539.5,105.3" fill="none" stroke="#101010" stroke-width="0.85"/>
<polygon points="527.5,107.8 530.6,107.0 528.4,108.5 525.4,109.3" fill="#07e012" stroke="#07e012" stroke-width="0.4"/>
<polygon points="525.4,109.3 528.4,108.5 526.3,110.1 523.3,111.0" fill="#07df39" stroke="#07df39" stroke-width="0.4"/>
<polygon points="530.6,107.0 533.5,106.3 531.4,107.8 528.4,108.5" fill="#06de16" stroke="#06de16" stroke-width="0.4"/>
<polygon points="528.4,108.5 531.4,107.8 529.2,109.4 526.3,110.1" fill="#06dd3c" stroke="#06dd3c" stroke-width="0.4"/>
<polygon points="527.5,107.8 533.5,106.3 529.2,109.4 523.3,111.0" fill="none" stroke="#101010" stroke-width="0.85"/>
<polygon points="581.3,99.1 584.1,99.8 581.7,100.2 578.9,99.5" fill="#47c701" stroke="#47c701" stroke-width="0.4"/>
<polygon points="578.9,99.5 581.7,100.2 579.3,100.7 576.5,100.1" fill="#31c701" stroke="#31c701" stroke-width="0.4"/>
<polygon points="584.1,99.8 586.9,100.6 584.5,101.0 581.7,100.2" fill="#31c401" stroke="#31c401" stroke-width="0.4"/>
<polygon points="581.7,100.2 584.5,101.0 582.1,101.5 579.3,100.7" fill="#1bc401" stroke="#1bc401" stroke-width="0.4"/>
<polygon points="581.3,99.1 586.9,100.6 582.1,101.5 576.5,100.1" fill="none" stroke="#101010" stroke-width="0.85"/>
<polygon points="591.8,100.1 594.6,101.1 592.1,101.2 589.3,100.3" fill="#41c201" stroke="#41c201" stroke-width="0.4"/>
<polygon points="589.3,100.3 592.1,101.2 589.7,101.5 586.9,100.6" fill="#2ec201" stroke="#2ec201" stroke-width="0.4"/>
<polygon points="594.6,101.1 597.3,102.1 594.9,102.2 592.1,101.2" fill="#28c000" stroke="#28c000" stroke-width="0.4"/>
<polygon points="592.1,101.2 594.9,102.2 592.5,102.4 589.7,101.5" fill="#16bf00" stroke="#16bf00" stroke-width="0.4"/>
<polygon points="591.8,100.1 597.3,102.1 592.5,102.4 586.9,100.6" fill="none" stroke="#101010" stroke-width="0.85"/>
<polygon points="554.4,100.1 557.3,100.1 555.0,101.1 552.1,101.1" fill="#4dd503" stroke="#4dd503" stroke-width="0.4"/>
<polygon points="552.1,101.1 555.0,101.1 552.8,102.2 549.8,102.2" fill="#2ed403" stroke="#2ed403" stroke-width="0.4"/>
<polygon points="557.3,100.1 560.3,100.2 558.0,101.1 555.0,101.1" fill="#3ed303" stroke="#3ed303" stroke-width="0.4"/>
<polygon points="555.0,101.1 558.0,101.1 555.7,102.2 552.8,102.2" fill="#20d203" stroke="#20d203" stroke-width="0.4"/>
<polygon points="554.4,100.1 560.3,100.2 555.7,102.2 549.8,102.2" fill="none" stroke="#101010" stroke-width="0.85"/>
<polygon points="505.1,118.3 508.2,116.7 506.1,118.5 503.1,120.0" fill="#0dea70" stroke="#0dea70" stroke-width="0.4"/>
<polygon points="503.1,120.0 506.1,118.5 504.1,120.4 501.1,121.9" fill="#0ce99b" stroke="#0ce99b" stroke-width="0.4"/>
<polygon points="508.2,116.7 511.2,115.4 509.2,117.1 506.1,118.5" fill="#0ce869" stroke="#0ce869" stroke-width="0.4"/>
<polygon points="506.1,118.5 509.2,117.1 507.1,119.0 504.1,120.4" fill="#0be794" stroke="#0be794" stroke-width="0.4"/>
<polygon points="505.1,118.3 511.2,115.4 507.1,119.0 501.1,121.9" fill="none" stroke="#101010" stroke-width="0.85"/>
<polygon points="537.9,103.7 540.9,103.2 538.7,104.4 535.7,105.0" fill="#39dd06" stroke="#39dd06" stroke-width="0.4"/>
<polygon points="535.7,105.0 538.7,104.4 536.5,105.8 533.5,106.3" fill="#15dd06" stroke="#15dd06" stroke-width="0.4"/>
<polygon points="540.9,103.2 543.9,102.7 541.7,104.0 538.7,104.4" fill="#30db05" stroke="#30db05" stroke-width="0.4"/>
<polygon points="538.7,104.4 541.7,104.0 539.5,105.3 536.5,105.8" fill="#0dda05" stroke="#0dda05" stroke-width="0.4"/>
<polygon points="537.9,103.7 543.9,102.7 539.5,105.3 533.5,106.3" fill="none" stroke="#101010" stroke-width="0.85"/>
<polygon points="521.5,109.7 524.5,108.7 522.4,110.2 519.4,111.3" fill="#09e410" stroke="#09e410" stroke-width="0.4"/>
<polygon points="519.4,111.3 522.4,110.2 520.3,111.9 517.3,112.9" fill="#09e337" stroke="#09e337" stroke-width="0.4"/>
<polygon points="524.5,108.7 527.5,107.8 525.4,109.3 522.4,110.2" fill="#08e210" stroke="#08e210" stroke-width="0.4"/>
<polygon points="522.4,110.2 525.4,109.3 523.3,111.0 520.3,111.9" fill="#08e137" stroke="#08e137" stroke-width="0.4"/>
<polygon points="521.5,109.7 527.5,107.8 523.3,111.0 517.3,112.9" fill="none" stroke="#101010" stroke-width="0.85"/>
<polygon points="564.9,98.6 567.9,98.8 565.5,99.5 562.6,99.3" fill="#66d102" stroke="#66d102" stroke-width="0.4"/>
<polygon points="562.6,99.3 565.5,99.5 563.2,100.3 560.3,100.2" fill="#4bd102" stroke="#4bd102" stroke-width="0.4"/>
<polygon points="567.9,98.8 570.8,99.1 568.4,99.8 565.5,99.5" fill="#54ce02" stroke="#54ce02" stroke-width="0.4"/>
<polygon points="565.5,99.5 568.4,99.8 566.1,100.6 563.2,100.3" fill="#3ace02" stroke="#3ace02" stroke-width="0.4"/>
<polygon points="564.9,98.6 570.8,99.1 566.1,100.6 560.3,100.2" fill="none" stroke="#101010" stroke-width="0.85"/>
<polygon points="499.0,121.6 502.1,119.9 500.1,121.7 497.0,123.4" fill="#10ed80" stroke="#10ed80" stroke-width="0.4"/>
<polygon points="497.0,123.4 500.1,121.7 498.1,123.6 495.0,125.3" fill="#0fecac" stroke="#0fecac" stroke-width="0.4"/>
<polygon points="502.1,119.9 505.1,118.3 503.1,120.0 500.1,121.7" fill="#0eec77" stroke="#0eec77" stroke-width="0.4"/>
<polygon points="500.1,121.7 503.1,120.0 501.1,121.9 498.1,123.6" fill="#0deaa3" stroke="#0deaa3" stroke-width="0.4"/>
<polygon points="499.0,121.6 505.1,118.3 501.1,121.9 495.0,125.3" fill="none" stroke="#101010" stroke-width="0.85"/>
<polygon points="575.5,98.1 578.4,98.5 576.0,99.0 573.1,98.5" fill="#72cd02" stroke="#72cd02" stroke-width="0.4"/>
<polygon points="573.1,98.5 576.0,99.0 573.6,99.5 570.8,99.1" fill="#5acc02" stroke="#5acc02" stroke-width="0.4"/>
<polygon points="578.4,98.5 581.3,99.1 578.9,99.5 576.0,99.0" fill="#5dca01" stroke="#5dca01" stroke-width="0.4"/>
<polygon points="576.0,99.0 578.9,99.5 576.5,100.1 573.6,99.5" fill="#46ca01" stroke="#46ca01" stroke-width="0.4"/>
<polygon points="575.5,98.1 581.3,99.1 576.5,100.1 570.8,99.1" fill="none" stroke="#101010" stroke-width="0.85"/>
<polygon points="548.5,100.6 551.4,100.3 549.2,101.3 546.2,101.6" fill="#67da05" stroke="#67da05" stroke-width="0.4"/>
<polygon points="546.2,101.6 549.2,101.3 546.9,102.4 543.9,102.7" fill="#47d905" stroke="#47d905" stroke-width="0.4"/>
<polygon points="551.4,100.3 554.4,100.1 552.1,101.1 549.2,101.3" fill="#5bd804" stroke="#5bd804" stroke-width="0.4"/>
<polygon points="549.2,101.3 552.1,101.1 549.8,102.2 546.9,102.4" fill="#3bd704" stroke="#3bd704" stroke-width="0.4"/>
<polygon points="548.5,100.6 554.4,100.1 549.8,102.2 543.9,102.7" fill="none" stroke="#101010" stroke-width="0.85"/>
<polygon points="515.4,112.1 518.5,110.9 516.3,112.4 513.3,113.7" fill="#0ce914" stroke="#0ce914" stroke-width="0.4"/>
<polygon points="513.3,113.7 516.3,112.4 514.2,114.1 511.2,115.4" fill="#0be73b" stroke="#0be73b" stroke-width="0.4"/>
<polygon points="518.5,110.9 521.5,109.7 519.4,111.3 516.3,112.4" fill="#0be711" stroke="#0be711" stroke-width="0.4"/>
<polygon points="516.3,112.4 519.4,111.3 517.3,112.9 514.2,114.1" fill="#0ae539" stroke="#0ae539" stroke-width="0.4"/>
<polygon points="515.4,112.1 521.5,109.7 517.3,112.9 511.2,115.4" fill="none" stroke="#101010" stroke-width="0.85"/>
<polygon points="586.1,98.6 589.0,99.3 586.5,99.5 583.7,98.8" fill="#70c801" stroke="#70c801" stroke-width="0.4"/>
<polygon points="583.7,98.8 586.5,99.5 584.1,99.8 581.3,99.1" fill="#5cc801" stroke="#5cc801" stroke-width="0.4"/>
<polygon points="589.0,99.3 591.8,100.1 589.3,100.3 586.5,99.5" fill="#58c501" stroke="#58c501" stroke-width="0.4"/>
<polygon points="586.5,99.5 589.3,100.3 586.9,100.6 584.1,99.8" fill="#45c501" stroke="#45c501" stroke-width="0.4"/>
<polygon points="586.1,98.6 591.8,100.1 586.9,100.6 581.3,99.1" fill="none" stroke="#101010" stroke-width="0.85"/>
<polygon points="596.7,100.2 599.5,101.2 597.0,101.1 594.2,100.1" fill="#61c301" stroke="#61c301" stroke-width="0.4"/>
<polygon points="594.2,100.1 597.0,101.1 594.6,101.1 591.8,100.1" fill="#52c301" stroke="#52c301" stroke-width="0.4"/>
<polygon points="599.5,101.2 602.3,102.2 599.8,102.1 597.0,101.1" fill="#48c000" stroke="#48c000" stroke-width="0.4"/>
<polygon points="597.0,101.1 599.8,102.1 597.3,102.1 594.6,101.1" fill="#39c000" stroke="#39c000" stroke-width="0.4"/>
<polygon points="596.7,100.2 602.3,102.2 597.3,102.1 591.8,100.1" fill="none" stroke="#101010" stroke-width="0.85"/>
<polygon points="531.9,105.1 534.9,104.3 532.7,105.6 529.7,106.4" fill="#47e208" stroke="#47e208" stroke-width="0.4"/>
<polygon points="529.7,106.4 532.7,105.6 530.6,107.0 527.5,107.8" fill="#22e108" stroke="#22e108" stroke-width="0.4"/>
<polygon points="534.9,104.3 537.9,103.7 535.7,105.0 532.7,105.6" fill="#41e007" stroke="#41e007" stroke-width="0.4"/>
<polygon points="532.7,105.6 535.7,105.0 533.5,106.3 530.6,107.0" fill="#1cdf07" stroke="#1cdf07" stroke-width="0.4"/>
<polygon points="531.9,105.1 537.9,103.7 533.5,106.3 527.5,107.8" fill="none" stroke="#101010" stroke-width="0.85"/>
<polygon points="492.9,125.5 495.9,123.5 493.9,125.3 490.9,127.3" fill="#13f197" stroke="#13f197" stroke-width="0.4"/>
<polygon points="490.9,127.3 493.9,125.3 492.0,127.2 488.9,129.2" fill="#12efc3" stroke="#12efc3" stroke-width="0.4"/>
<polygon points="495.9,123.5 499.0,121.6 497.0,123.4 493.9,125.3" fill="#11ef8b" stroke="#11ef8b" stroke-width="0.4"/>
<polygon points="493.9,125.3 497.0,123.4 495.0,125.3 492.0,127.2" fill="#10eeb7" stroke="#10eeb7" stroke-width="0.4"/>
<polygon points="492.9,125.5 499.0,121.6 495.0,125.3 488.9,129.2" fill="none" stroke="#101010" stroke-width="0.85"/>
<polygon points="559.0,98.5 562.0,98.5 559.7,99.2 556.7,99.3" fill="#87d704" stroke="#87d704" stroke-width="0.4"/>
<polygon points="556.7,99.3 559.7,99.2 557.3,100.1 554.4,100.1" fill="#6bd604" stroke="#6bd604" stroke-width="0.4"/>
<polygon points="562.0,98.5 564.9,98.6 562.6,99.3 559.7,99.2" fill="#77d403" stroke="#77d403" stroke-width="0.4"/>
<polygon points="559.7,99.2 562.6,99.3 560.3,100.2 557.3,100.1" fill="#5cd303" stroke="#5cd303" stroke-width="0.4"/>
<polygon points="559.0,98.5 564.9,98.6 560.3,100.2 554.4,100.1" fill="none" stroke="#101010" stroke-width="0.85"/>
<polygon points="486.7,129.8 489.8,127.6 487.8,129.4 484.7,131.6" fill="#16f4b4" stroke="#16f4b4" stroke-width="0.4"/>
<polygon points="484.7,131.6 487.8,129.4 485.9,131.3 482.8,133.5" fill="#15f2e0" stroke="#15f2e0" stroke-width="0.4"/>
<polygon points="489.8,127.6 492.9,125.5 490.9,127.3 487.8,129.4" fill="#14f2a5" stroke="#14f2a5" stroke-width="0.4"/>
<polygon points="487.8,129.4 490.9,127.3 488.9,129.2 485.9,131.3" fill="#13f1d1" stroke="#13f1d1" stroke-width="0.4"/>
<polygon points="486.7,129.8 492.9,125.5 488.9,129.2 482.8,133.5" fill="none" stroke="#101010" stroke-width="0.85"/>
<polygon points="509.3,115.0 512.3,113.5 510.2,115.1 507.2,116.6" fill="#0fec1e" stroke="#0fec1e" stroke-width="0.4"/>
<polygon points="507.2,116.6 510.2,115.1 508.2,116.7 505.1,118.3" fill="#0eeb46" stroke="#0eeb46" stroke-width="0.4"/>
<polygon points="512.3,113.5 515.4,112.1 513.3,113.7 510.2,115.1" fill="#0eeb18" stroke="#0eeb18" stroke-width="0.4"/>
<polygon points="510.2,115.1 513.3,113.7 511.2,115.4 508.2,116.7" fill="#0de940" stroke="#0de940" stroke-width="0.4"/>
<polygon points="509.3,115.0 515.4,112.1 511.2,115.4 505.1,118.3" fill="none" stroke="#101010" stroke-width="0.85"/>
<polygon points="542.4,101.5 545.5,101.0 543.2,102.0 540.2,102.5" fill="#7ddf07" stroke="#7ddf07" stroke-width="0.4"/>
<polygon points="540.2,102.5 543.2,102.0 540.9,103.2 537.9,103.7" fill="#5bde07" stroke="#5bde07" stroke-width="0.4"/>
<polygon points="545.5,101.0 548.5,100.6 546.2,101.6 543.2,102.0" fill="#73dd06" stroke="#73dd06" stroke-width="0.4"/>
<polygon points="543.2,102.0 546.2,101.6 543.9,102.7 540.9,103.2" fill="#52dc06" stroke="#52dc06" stroke-width="0.4"/>
<polygon points="542.4,101.5 548.5,100.6 543.9,102.7 537.9,103.7" fill="none" stroke="#101010" stroke-width="0.85"/>
<polygon points="569.7,97.5 572.6,97.7 570.2,98.2 567.3,98.0" fill="#98d203" stroke="#98d203" stroke-width="0.4"/>
<polygon points="567.3,98.0 570.2,98.2 567.9,98.8 564.9,98.6" fill="#80d203" stroke="#80d203" stroke-width="0.4"/>
<polygon points="572.6,97.7 575.5,98.1 573.1,98.5 570.2,98.2" fill="#85cf02" stroke="#85cf02" stroke-width="0.4"/>
<polygon points="570.2,98.2 573.1,98.5 570.8,99.1 567.9,98.8" fill="#6ecf02" stroke="#6ecf02" stroke-width="0.4"/>
<polygon points="569.7,97.5 575.5,98.1 570.8,99.1 564.9,98.6" fill="none" stroke="#101010" stroke-width="0.85"/>
<polygon points="525.8,107.0 528.9,106.0 526.7,107.3 523.6,108.3" fill="#50e70b" stroke="#50e70b" stroke-width="0.4"/>
<polygon points="523.6,108.3 526.7,107.3 524.5,108.7 521.5,109.7" fill="#2ae60a" stroke="#2ae60a" stroke-width="0.4"/>
<polygon points="528.9,106.0 531.9,105.1 529.7,106.4 526.7,107.3" fill="#4ce40a" stroke="#4ce40a" stroke-width="0.4"/>
<polygon points="526.7,107.3 529.7,106.4 527.5,107.8 524.5,108.7" fill="#27e309" stroke="#27e309" stroke-width="0.4"/>
<polygon points="525.8,107.0 531.9,105.1 527.5,107.8 521.5,109.7" fill="none" stroke="#101010" stroke-width="0.85"/>
<polygon points="480.5,134.6 483.6,132.1 481.7,133.9 478.6,136.4" fill="#19f6d7" stroke="#19f6d7" stroke-width="0.4"/>
<polygon points="478.6,136.4 481.7,133.9 479.8,135.8 476.7,138.3" fill="#18e6f5" stroke="#18e6f5" stroke-width="0.4"/>
<polygon points="483.6,132.1 486.7,129.8 484.7,131.6 481.7,133.9" fill="#18f5c5" stroke="#18f5c5" stroke-width="0.4"/>
<polygon points="481.7,133.9 484.7,131.6 482.8,133.5 479.8,135.8" fill="#16f4f1" stroke="#16f4f1" stroke-width="0.4"/>
<polygon points="480.5,134.6 486.7,129.8 482.8,133.5 476.7,138.3" fill="none" stroke="#101010" stroke-width="0.85"/>
<polygon points="580.4,97.5 583.3,98.0 580.8,98.2 577.9,97.7" fill="#9cce02" stroke="#9cce02" stroke-width="0.4"/>
<polygon points="577.9,97.7 580.8,98.2 578.4,98.5 575.5,98.1" fill="#88cd02" stroke="#88cd02" stroke-width="0.4"/>
<polygon points="583.3,98.0 586.1,98.6 583.7,98.8 580.8,98.2" fill="#86cb01" stroke="#86cb01" stroke-width="0.4"/>
<polygon points="580.8,98.2 583.7,98.8 581.3,99.1 578.4,98.5" fill="#72ca01" stroke="#72ca01" stroke-width="0.4"/>
<polygon points="580.4,97.5 586.1,98.6 581.3,99.1 575.5,98.1" fill="none" stroke="#101010" stroke-width="0.85"/>
<polygon points="591.1,98.6 593.9,99.4 591.4,99.3 588.6,98.6" fill="#92c801" stroke="#92c801" stroke-width="0.4"/>
<polygon points="588.6,98.6 591.4,99.3 589.0,99.3 586.1,98.6" fill="#82c801" stroke="#82c801" stroke-width="0.4"/>
<polygon points="593.9,99.4 596.7,100.2 594.2,100.1 591.4,99.3" fill="#7ac601" stroke="#7ac601" stroke-width="0.4"/>
<polygon points="591.4,99.3 594.2,100.1 591.8,100.1 589.0,99.3" fill="#6ac501" stroke="#6ac501" stroke-width="0.4"/>
<polygon points="591.1,98.6 596.7,100.2 591.8,100.1 586.1,98.6" fill="none" stroke="#101010" stroke-width="0.85"/>
<polygon points="503.1,118.3 506.2,116.6 504.1,118.2 501.0,119.9" fill="#12f02e" stroke="#12f02e" stroke-width="0.4"/>
<polygon points="501.0,119.9 504.1,118.2 502.1,119.9 499.0,121.6" fill="#11ef57" stroke="#11ef57" stroke-width="0.4"/>
<polygon points="506.2,116.6 509.3,115.0 507.2,116.6 504.1,118.2" fill="#11ee25" stroke="#11ee25" stroke-width="0.4"/>
<polygon points="504.1,118.2 507.2,116.6 505.1,118.3 502.1,119.9" fill="#10ed4d" stroke="#10ed4d" stroke-width="0.4"/>
<polygon points="503.1,118.3 509.3,115.0 505.1,118.3 499.0,121.6" fill="none" stroke="#101010" stroke-width="0.85"/>
<polygon points="601.7,100.8 604.5,101.8 602.0,101.4 599.2,100.5" fill="#7dc301" stroke="#7dc301" stroke-width="0.4"/>
<polygon points="599.2,100.5 602.0,101.4 599.5,101.2 596.7,100.2" fill="#70c301" stroke="#70c301" stroke-width="0.4"/>
<polygon points="604.5,101.8 607.3,102.9 604.8,102.5 602.0,101.4" fill="#62c000" stroke="#62c000" stroke-width="0.4"/>
<polygon points="602.0,101.4 604.8,102.5 602.3,102.2 599.5,101.2" fill="#56c000" stroke="#56c000" stroke-width="0.4"/>
<polygon points="601.7,100.8 607.3,102.9 602.3,102.2 596.7,100.2" fill="none" stroke="#101010" stroke-width="0.85"/>
<polygon points="553.1,98.9 556.1,98.6 553.7,99.4 550.8,99.7" fill="#a3dc06" stroke="#a3dc06" stroke-width="0.4"/>
<polygon points="550.8,99.7 553.7,99.4 551.4,100.3 548.5,100.6" fill="#86db05" stroke="#86db05" stroke-width="0.4"/>
<polygon points="556.1,98.6 559.0,98.5 556.7,99.3 553.7,99.4" fill="#96d905" stroke="#96d905" stroke-width="0.4"/>
<polygon points="553.7,99.4 556.7,99.3 554.4,100.1 551.4,100.3" fill="#79d904" stroke="#79d904" stroke-width="0.4"/>
<polygon points="553.1,98.9 559.0,98.5 554.4,100.1 548.5,100.6" fill="none" stroke="#101010" stroke-width="0.85"/>
<polygon points="474.3,139.8 477.4,137.1 475.5,139.0 472.4,141.6" fill="#1df2f9" stroke="#1df2f9" stroke-width="0.4"/>
<polygon points="472.4,141.6 475.5,139.0 473.6,140.9 470.6,143.6" fill="#1bc3f7" stroke="#1bc3f7" stroke-width="0.4"/>
<polygon points="477.4,137.1 480.5,134.6 478.6,136.4 475.5,139.0" fill="#1bf7ea" stroke="#1bf7ea" stroke-width="0.4"/>
<polygon points="475.5,139.0 478.6,136.4 476.7,138.3 473.6,140.9" fill="#19d5f6" stroke="#19d5f6" stroke-width="0.4"/>
<polygon points="474.3,139.8 480.5,134.6 476.7,138.3 470.6,143.6" fill="none" stroke="#101010" stroke-width="0.85"/>
<polygon points="519.7,109.3 522.8,108.1 520.6,109.4 517.5,110.7" fill="#53eb0e" stroke="#53eb0e" stroke-width="0.4"/>
<polygon points="517.5,110.7 520.6,109.4 518.5,110.9 515.4,112.1" fill="#2cea0d" stroke="#2cea0d" stroke-width="0.4"/>
<polygon points="522.8,108.1 525.8,107.0 523.6,108.3 520.6,109.4" fill="#52e90c" stroke="#52e90c" stroke-width="0.4"/>
<polygon points="520.6,109.4 523.6,108.3 521.5,109.7 518.5,110.9" fill="#2ce80c" stroke="#2ce80c" stroke-width="0.4"/>
<polygon points="519.7,109.3 525.8,107.0 521.5,109.7 515.4,112.1" fill="none" stroke="#101010" stroke-width="0.85"/>
<polygon points="536.4,102.8 539.4,102.1 537.2,103.2 534.1,103.9" fill="#8ce409" stroke="#8ce409" stroke-width="0.4"/>
<polygon points="534.1,103.9 537.2,103.2 534.9,104.3 531.9,105.1" fill="#6ae309" stroke="#6ae309" stroke-width="0.4"/>
<polygon points="539.4,102.1 542.4,101.5 540.2,102.5 537.2,103.2" fill="#85e208" stroke="#85e208" stroke-width="0.4"/>
<polygon points="537.2,103.2 540.2,102.5 537.9,103.7 534.9,104.3" fill="#64e108" stroke="#64e108" stroke-width="0.4"/>
<polygon points="536.4,102.8 542.4,101.5 537.9,103.7 531.9,105.1" fill="none" stroke="#101010" stroke-width="0.85"/>
<polygon points="496.9,122.2 500.0,120.2 497.9,121.8 494.8,123.8" fill="#16f345" stroke="#16f345" stroke-width="0.4"/>
<polygon points="494.8,123.8 497.9,121.8 495.9,123.5 492.9,125.5" fill="#14f26d" stroke="#14f26d" stroke-width="0.4"/>
<polygon points="500.0,120.2 503.1,118.3 501.0,119.9 497.9,121.8" fill="#14f239" stroke="#14f239" stroke-width="0.4"/>
<polygon points="497.9,121.8 501.0,119.9 499.0,121.6 495.9,123.5" fill="#13f061" stroke="#13f061" stroke-width="0.4"/>
<polygon points="496.9,122.2 503.1,118.3 499.0,121.6 492.9,125.5" fill="none" stroke="#101010" stroke-width="0.85"/>
<polygon points="563.8,97.3 566.7,97.4 564.4,97.9 561.4,97.9" fill="#bbd804" stroke="#bbd804" stroke-width="0.4"/>
<polygon points="561.4,97.9 564.4,97.9 562.0,98.5 559.0,98.5" fill="#a2d704" stroke="#a2d704" stroke-width="0.4"/>
<polygon points="566.7,97.4 569.7,97.5 567.3,98.0 564.4,97.9" fill="#aad503" stroke="#aad503" stroke-width="0.4"/>
<polygon points="564.4,97.9 567.3,98.0 564.9,98.6 562.0,98.5" fill="#91d503" stroke="#91d503" stroke-width="0.4"/>
<polygon points="563.8,97.3 569.7,97.5 564.9,98.6 559.0,98.5" fill="none" stroke="#101010" stroke-width="0.85"/>
<polygon points="468.1,145.5 471.2,142.6 469.3,144.4 466.3,147.4" fill="#20c9fb" stroke="#20c9fb" stroke-width="0.4"/>
<polygon points="466.3,147.4 469.3,144.4 467.5,146.4 464.4,149.3" fill="#1e9af9" stroke="#1e9af9" stroke-width="0.4"/>
<polygon points="471.2,142.6 474.3,139.8 472.4,141.6 469.3,144.4" fill="#1edefa" stroke="#1edefa" stroke-width="0.4"/>
<polygon points="469.3,144.4 472.4,141.6 470.6,143.6 467.5,146.4" fill="#1caff8" stroke="#1caff8" stroke-width="0.4"/>
<polygon points="468.1,145.5 474.3,139.8 470.6,143.6 464.4,149.3" fill="none" stroke="#101010" stroke-width="0.85"/>
<polygon points="461.9,151.7 465.0,148.6 463.2,150.4 460.1,153.5" fill="#239afd" stroke="#239afd" stroke-width="0.4"/>
<polygon points="460.1,153.5 463.2,150.4 461.4,152.3 458.3,155.4" fill="#216afb" stroke="#216afb" stroke-width="0.4"/>
<polygon points="465.0,148.6 468.1,145.5 466.3,147.4 463.2,150.4" fill="#21b2fc" stroke="#21b2fc" stroke-width="0.4"/>
<polygon points="463.2,150.4 466.3,147.4 464.4,149.3 461.4,152.3" fill="#1f83fa" stroke="#1f83fa" stroke-width="0.4"/>
<polygon points="461.9,151.7 468.1,145.5 464.4,149.3 458.3,155.4" fill="none" stroke="#101010" stroke-width="0.85"/>
<polygon points="574.5,96.9 577.5,97.1 575.0,97.4 572.1,97.1" fill="#c4d303" stroke="#c4d303" stroke-width="0.4"/>
<polygon points="572.1,97.1 575.0,97.4 572.6,97.7 569.7,97.5" fill="#afd303" stroke="#afd303" stroke-width="0.4"/>
<polygon points="577.5,97.1 580.4,97.5 577.9,97.7 575.0,97.4" fill="#b1d002" stroke="#b1d002" stroke-width="0.4"/>
<polygon points="575.0,97.4 577.9,97.7 575.5,98.1 572.6,97.7" fill="#9cd002" stroke="#9cd002" stroke-width="0.4"/>
<polygon points="574.5,96.9 580.4,97.5 575.5,98.1 569.7,97.5" fill="none" stroke="#101010" stroke-width="0.85"/>
<polygon points="513.5,112.2 516.6,110.7 514.4,112.0 511.4,113.5" fill="#50ef11" stroke="#50ef11" stroke-width="0.4"/>
<polygon points="511.4,113.5 514.4,112.0 512.3,113.5 509.3,115.0" fill="#29ee10" stroke="#29ee10" stroke-width="0.4"/>
<polygon points="516.6,110.7 519.7,109.3 517.5,110.7 514.4,112.0" fill="#52ed10" stroke="#52ed10" stroke-width="0.4"/>
<polygon points="514.4,112.0 517.5,110.7 515.4,112.1 512.3,113.5" fill="#2bec0f" stroke="#2bec0f" stroke-width="0.4"/>
<polygon points="513.5,112.2 519.7,109.3 515.4,112.1 509.3,115.0" fill="none" stroke="#101010" stroke-width="0.85"/>
<polygon points="547.0,99.7 550.1,99.2 547.8,100.0 544.7,100.5" fill="#bae108" stroke="#bae108" stroke-width="0.4"/>
<polygon points="544.7,100.5 547.8,100.0 545.5,101.0 542.4,101.5" fill="#9ce007" stroke="#9ce007" stroke-width="0.4"/>
<polygon points="550.1,99.2 553.1,98.9 550.8,99.7 547.8,100.0" fill="#afdf07" stroke="#afdf07" stroke-width="0.4"/>
<polygon points="547.8,100.0 550.8,99.7 548.5,100.6 545.5,101.0" fill="#92de06" stroke="#92de06" stroke-width="0.4"/>
<polygon points="547.0,99.7 553.1,98.9 548.5,100.6 542.4,101.5" fill="none" stroke="#101010" stroke-width="0.85"/>
<polygon points="490.6,126.5 493.8,124.2 491.8,125.9 488.6,128.1" fill="#19f661" stroke="#19f661" stroke-width="0.4"/>
<polygon points="488.6,128.1 491.8,125.9 489.8,127.6 486.7,129.8" fill="#18f58a" stroke="#18f58a" stroke-width="0.4"/>
<polygon points="493.8,124.2 496.9,122.2 494.8,123.8 491.8,125.9" fill="#18f552" stroke="#18f552" stroke-width="0.4"/>
<polygon points="491.8,125.9 494.8,123.8 492.9,125.5 489.8,127.6" fill="#16f37b" stroke="#16f37b" stroke-width="0.4"/>
<polygon points="490.6,126.5 496.9,122.2 492.9,125.5 486.7,129.8" fill="none" stroke="#101010" stroke-width="0.85"/>
<polygon points="585.3,97.5 588.2,98.0 585.7,97.9 582.8,97.4" fill="#c0ce02" stroke="#c0ce02" stroke-width="0.4"/>
<polygon points="582.8,97.4 585.7,97.9 583.3,98.0 580.4,97.5" fill="#afce02" stroke="#afce02" stroke-width="0.4"/>
<polygon points="588.2,98.0 591.1,98.6 588.6,98.6 585.7,97.9" fill="#aacb01" stroke="#aacb01" stroke-width="0.4"/>
<polygon points="585.7,97.9 588.6,98.6 586.1,98.6 583.3,98.0" fill="#99cb01" stroke="#99cb01" stroke-width="0.4"/>
<polygon points="585.3,97.5 591.1,98.6 586.1,98.6 580.4,97.5" fill="none" stroke="#101010" stroke-width="0.85"/>
<polygon points="455.7,158.4 458.8,155.0 457.0,156.8 453.9,160.2" fill="#2666fe" stroke="#2666fe" stroke-width="0.4"/>
<polygon points="453.9,160.2 457.0,156.8 455.2,158.7 452.2,162.1" fill="#2436fd" stroke="#2436fd" stroke-width="0.4"/>
<polygon points="458.8,155.0 461.9,151.7 460.1,153.5 457.0,156.8" fill="#2581fd" stroke="#2581fd" stroke-width="0.4"/>
<polygon points="457.0,156.8 460.1,153.5 458.3,155.4 455.2,158.7" fill="#2251fc" stroke="#2251fc" stroke-width="0.4"/>
<polygon points="455.7,158.4 461.9,151.7 458.3,155.4 452.2,162.1" fill="none" stroke="#101010" stroke-width="0.85"/>
<polygon points="530.2,104.7 533.3,103.7 531.1,104.8 528.0,105.8" fill="#97e90c" stroke="#97e90c" stroke-width="0.4"/>
<polygon points="528.0,105.8 531.1,104.8 528.9,106.0 525.8,107.0" fill="#74e80c" stroke="#74e80c" stroke-width="0.4"/>
<polygon points="533.3,103.7 536.4,102.8 534.1,103.9 531.1,104.8" fill="#92e70b" stroke="#92e70b" stroke-width="0.4"/>
<polygon points="531.1,104.8 534.1,103.9 531.9,105.1 528.9,106.0" fill="#70e60a" stroke="#70e60a" stroke-width="0.4"/>
<polygon points="530.2,104.7 536.4,102.8 531.9,105.1 525.8,107.0" fill="none" stroke="#101010" stroke-width="0.85"/>
<polygon points="606.8,101.9 609.6,102.9 607.0,102.3 604.2,101.3" fill="#92c301" stroke="#92c301" stroke-width="0.4"/>
<polygon points="604.2,101.3 607.0,102.3 604.5,101.8 601.7,100.8" fill="#88c301" stroke="#88c301" stroke-width="0.4"/>
<polygon points="609.6,102.9 612.3,104.1 609.8,103.4 607.0,102.3" fill="#77c000" stroke="#77c000" stroke-width="0.4"/>
<polygon points="607.0,102.3 609.8,103.4 607.3,102.9 604.5,101.8" fill="#6dc000" stroke="#6dc000" stroke-width="0.4"/>
<polygon points="606.8,101.9 612.3,104.1 607.3,102.9 601.7,100.8" fill="none" stroke="#101010" stroke-width="0.85"/>
<polygon points="596.1,99.2 598.9,99.9 596.4,99.6 593.5,98.8" fill="#afc901" stroke="#afc901" stroke-width="0.4"/>
<polygon points="593.5,98.8 596.4,99.6 593.9,99.4 591.1,98.6" fill="#a1c901" stroke="#a1c901" stroke-width="0.4"/>
<polygon points="598.9,99.9 601.7,100.8 599.2,100.5 596.4,99.6" fill="#96c601" stroke="#96c601" stroke-width="0.4"/>
<polygon points="596.4,99.6 599.2,100.5 596.7,100.2 593.9,99.4" fill="#89c601" stroke="#89c601" stroke-width="0.4"/>
<polygon points="596.1,99.2 601.7,100.8 596.7,100.2 591.1,98.6" fill="none" stroke="#101010" stroke-width="0.85"/>
<polygon points="449.6,165.5 452.6,161.9 450.9,163.7 447.8,167.3" fill="#292dff" stroke="#292dff" stroke-width="0.4"/>
<polygon points="447.8,167.3 450.9,163.7 449.1,165.6 446.1,169.2" fill="#2626fe" stroke="#2626fe" stroke-width="0.4"/>
<polygon points="452.6,161.9 455.7,158.4 453.9,160.2 450.9,163.7" fill="#274aff" stroke="#274aff" stroke-width="0.4"/>
<polygon points="450.9,163.7 453.9,160.2 452.2,162.1 449.1,165.6" fill="#2525fe" stroke="#2525fe" stroke-width="0.4"/>
<polygon points="449.6,165.5 455.7,158.4 452.2,162.1 446.1,169.2" fill="none" stroke="#101010" stroke-width="0.85"/>
<polygon points="557.8,97.7 560.8,97.5 558.4,98.0 555.4,98.2" fill="#d9de06" stroke="#d9de06" stroke-width="0.4"/>
<polygon points="555.4,98.2 558.4,98.0 556.1,98.6 553.1,98.9" fill="#bfdd06" stroke="#bfdd06" stroke-width="0.4"/>
<polygon points="560.8,97.5 563.8,97.3 561.4,97.9 558.4,98.0" fill="#cbdb05" stroke="#cbdb05" stroke-width="0.4"/>
<polygon points="558.4,98.0 561.4,97.9 559.0,98.5 556.1,98.6" fill="#b1da05" stroke="#b1da05" stroke-width="0.4"/>
<polygon points="557.8,97.7 563.8,97.3 559.0,98.5 553.1,98.9" fill="none" stroke="#101010" stroke-width="0.85"/>
<polygon points="484.4,131.2 487.5,128.8 485.5,130.4 482.4,132.8" fill="#1df984" stroke="#1df984" stroke-width="0.4"/>
<polygon points="482.4,132.8 485.5,130.4 483.6,132.1 480.5,134.6" fill="#1bf8ac" stroke="#1bf8ac" stroke-width="0.4"/>
<polygon points="487.5,128.8 490.6,126.5 488.6,128.1 485.5,130.4" fill="#1bf872" stroke="#1bf872" stroke-width="0.4"/>
<polygon points="485.5,130.4 488.6,128.1 486.7,129.8 483.6,132.1" fill="#19f69a" stroke="#19f69a" stroke-width="0.4"/>
<polygon points="484.4,131.2 490.6,126.5 486.7,129.8 480.5,134.6" fill="none" stroke="#101010" stroke-width="0.85"/>
<polygon points="507.3,115.5 510.4,113.8 508.3,115.1 505.2,116.9" fill="#47f315" stroke="#47f315" stroke-width="0.4"/>
<polygon points="505.2,116.9 508.3,115.1 506.2,116.6 503.1,118.3" fill="#1ff114" stroke="#1ff114" stroke-width="0.4"/>
<polygon points="510.4,113.8 513.5,112.2 511.4,113.5 508.3,115.1" fill="#4cf113" stroke="#4cf113" stroke-width="0.4"/>
<polygon points="508.3,115.1 511.4,113.5 509.3,115.0 506.2,116.6" fill="#25f012" stroke="#25f012" stroke-width="0.4"/>
<polygon points="507.3,115.5 513.5,112.2 509.3,115.0 503.1,118.3" fill="none" stroke="#101010" stroke-width="0.85"/>
<polygon points="540.9,101.0 544.0,100.3 541.7,101.2 538.6,101.9" fill="#cce60b" stroke="#cce60b" stroke-width="0.4"/>
<polygon points="538.6,101.9 541.7,101.2 539.4,102.1 536.4,102.8" fill="#ade50a" stroke="#ade50a" stroke-width="0.4"/>
<polygon points="544.0,100.3 547.0,99.7 544.7,100.5 541.7,101.2" fill="#c4e409" stroke="#c4e409" stroke-width="0.4"/>
<polygon points="541.7,101.2 544.7,100.5 542.4,101.5 539.4,102.1" fill="#a5e309" stroke="#a5e309" stroke-width="0.4"/>
<polygon points="540.9,101.0 547.0,99.7 542.4,101.5 536.4,102.8" fill="none" stroke="#101010" stroke-width="0.85"/>
<polygon points="524.1,107.0 527.2,105.8 524.9,106.9 521.9,108.1" fill="#9bed10" stroke="#9bed10" stroke-width="0.4"/>
<polygon points="521.9,108.1 524.9,106.9 522.8,108.1 519.7,109.3" fill="#78ec0f" stroke="#78ec0f" stroke-width="0.4"/>
<polygon points="527.2,105.8 530.2,104.7 528.0,105.8 524.9,106.9" fill="#99eb0e" stroke="#99eb0e" stroke-width="0.4"/>
<polygon points="524.9,106.9 528.0,105.8 525.8,107.0 522.8,108.1" fill="#76ea0d" stroke="#76ea0d" stroke-width="0.4"/>
<polygon points="524.1,107.0 530.2,104.7 525.8,107.0 519.7,109.3" fill="none" stroke="#101010" stroke-width="0.85"/>
<polygon points="568.6,96.7 571.6,96.7 569.2,97.0 566.2,97.0" fill="#d9c905" stroke="#d9c905" stroke-width="0.4"/>
<polygon points="566.2,97.0 569.2,97.0 566.7,97.4 563.8,97.3" fill="#d3d904" stroke="#d3d904" stroke-width="0.4"/>
<polygon points="571.6,96.7 574.5,96.9 572.1,97.1 569.2,97.0" fill="#d6d504" stroke="#d6d504" stroke-width="0.4"/>
<polygon points="569.2,97.0 572.1,97.1 569.7,97.5 566.7,97.4" fill="#c2d603" stroke="#c2d603" stroke-width="0.4"/>
<polygon points="568.6,96.7 574.5,96.9 569.7,97.5 563.8,97.3" fill="none" stroke="#101010" stroke-width="0.85"/>
<polygon points="478.1,136.5 481.3,133.8 479.3,135.4 476.2,138.1" fill="#21fbab" stroke="#21fbab" stroke-width="0.4"/>
<polygon points="476.2,138.1 479.3,135.4 477.4,137.1 474.3,139.8" fill="#1ffad4" stroke="#1ffad4" stroke-width="0.4"/>
<polygon points="481.3,133.8 484.4,131.2 482.4,132.8 479.3,135.4" fill="#1ffa97" stroke="#1ffa97" stroke-width="0.4"/>
<polygon points="479.3,135.4 482.4,132.8 480.5,134.6 477.4,137.1" fill="#1df9c0" stroke="#1df9c0" stroke-width="0.4"/>
<polygon points="478.1,136.5 484.4,131.2 480.5,134.6 474.3,139.8" fill="none" stroke="#101010" stroke-width="0.85"/>
<polygon points="579.4,96.8 582.4,97.1 579.9,97.0 577.0,96.8" fill="#d4be03" stroke="#d4be03" stroke-width="0.4"/>
<polygon points="577.0,96.8 579.9,97.0 577.5,97.1 574.5,96.9" fill="#d4cf03" stroke="#d4cf03" stroke-width="0.4"/>
<polygon points="582.4,97.1 585.3,97.5 582.8,97.4 579.9,97.0" fill="#d1cd02" stroke="#d1cd02" stroke-width="0.4"/>
<polygon points="579.9,97.0 582.8,97.4 580.4,97.5 577.5,97.1" fill="#c4d102" stroke="#c4d102" stroke-width="0.4"/>
<polygon points="579.4,96.8 585.3,97.5 580.4,97.5 574.5,96.9" fill="none" stroke="#101010" stroke-width="0.85"/>
<polygon points="501.0,119.3 504.1,117.3 502.0,118.7 498.9,120.7" fill="#38f619" stroke="#38f619" stroke-width="0.4"/>
<polygon points="498.9,120.7 502.0,118.7 500.0,120.2 496.9,122.2" fill="#17f51e" stroke="#17f51e" stroke-width="0.4"/>
<polygon points="504.1,117.3 507.3,115.5 505.2,116.9 502.0,118.7" fill="#40f417" stroke="#40f417" stroke-width="0.4"/>
<polygon points="502.0,118.7 505.2,116.9 503.1,118.3 500.0,120.2" fill="#19f315" stroke="#19f315" stroke-width="0.4"/>
<polygon points="501.0,119.3 507.3,115.5 503.1,118.3 496.9,122.2" fill="none" stroke="#101010" stroke-width="0.85"/>
<polygon points="611.9,103.6 614.7,104.6 612.1,103.7 609.3,102.7" fill="#a1c301" stroke="#a1c301" stroke-width="0.4"/>
<polygon points="609.3,102.7 612.1,103.7 609.6,102.9 606.8,101.9" fill="#9ac301" stroke="#9ac301" stroke-width="0.4"/>
<polygon points="614.7,104.6 617.4,105.7 614.9,104.8 612.1,103.7" fill="#86c000" stroke="#86c000" stroke-width="0.4"/>
<polygon points="612.1,103.7 614.9,104.8 612.3,104.1 609.6,102.9" fill="#7fc000" stroke="#7fc000" stroke-width="0.4"/>
<polygon points="611.9,103.6 617.4,105.7 612.3,104.1 606.8,101.9" fill="none" stroke="#101010" stroke-width="0.85"/>
<polygon points="471.9,142.2 475.0,139.3 473.1,140.9 470.0,143.8" fill="#24fdd8" stroke="#24fdd8" stroke-width="0.4"/>
<polygon points="470.0,143.8 473.1,140.9 471.2,142.6 468.1,145.5" fill="#22f7fc" stroke="#22f7fc" stroke-width="0.4"/>
<polygon points="475.0,139.3 478.1,136.5 476.2,138.1 473.1,140.9" fill="#23fcc1" stroke="#23fcc1" stroke-width="0.4"/>
<polygon points="473.1,140.9 476.2,138.1 474.3,139.8 471.2,142.6" fill="#20fbea" stroke="#20fbea" stroke-width="0.4"/>
<polygon points="471.9,142.2 478.1,136.5 474.3,139.8 468.1,145.5" fill="none" stroke="#101010" stroke-width="0.85"/>
<polygon points="590.3,98.0 593.2,98.5 590.7,98.2 587.8,97.7" fill="#cfbf02" stroke="#cfbf02" stroke-width="0.4"/>
<polygon points="587.8,97.7 590.7,98.2 588.2,98.0 585.3,97.5" fill="#cfcd02" stroke="#cfcd02" stroke-width="0.4"/>
<polygon points="593.2,98.5 596.1,99.2 593.5,98.8 590.7,98.2" fill="#c7cc01" stroke="#c7cc01" stroke-width="0.4"/>
<polygon points="590.7,98.2 593.5,98.8 591.1,98.6 588.2,98.0" fill="#b9cc01" stroke="#b9cc01" stroke-width="0.4"/>
<polygon points="590.3,98.0 596.1,99.2 591.1,98.6 585.3,97.5" fill="none" stroke="#101010" stroke-width="0.85"/>
<polygon points="601.1,100.2 604.0,101.0 601.4,100.4 598.6,99.6" fill="#c5c901" stroke="#c5c901" stroke-width="0.4"/>
<polygon points="598.6,99.6 601.4,100.4 598.9,99.9 596.1,99.2" fill="#bbc901" stroke="#bbc901" stroke-width="0.4"/>
<polygon points="604.0,101.0 606.8,101.9 604.2,101.3 601.4,100.4" fill="#acc601" stroke="#acc601" stroke-width="0.4"/>
<polygon points="601.4,100.4 604.2,101.3 601.7,100.8 598.9,99.9" fill="#a2c601" stroke="#a2c601" stroke-width="0.4"/>
<polygon points="601.1,100.2 606.8,101.9 601.7,100.8 596.1,99.2" fill="none" stroke="#101010" stroke-width="0.85"/>
<polygon points="551.7,98.5 554.8,98.0 552.4,98.6 549.4,99.0" fill="#e3d509" stroke="#e3d509" stroke-width="0.4"/>
<polygon points="549.4,99.0 552.4,98.6 550.1,99.2 547.0,99.7" fill="#d7e208" stroke="#d7e208" stroke-width="0.4"/>
<polygon points="554.8,98.0 557.8,97.7 555.4,98.2 552.4,98.6" fill="#e0db07" stroke="#e0db07" stroke-width="0.4"/>
<polygon points="552.4,98.6 555.4,98.2 553.1,98.9 550.1,99.2" fill="#cbe007" stroke="#cbe007" stroke-width="0.4"/>
<polygon points="551.7,98.5 557.8,97.7 553.1,98.9 547.0,99.7" fill="none" stroke="#101010" stroke-width="0.85"/>
<polygon points="517.8,109.8 520.9,108.3 518.8,109.5 515.6,110.9" fill="#99f214" stroke="#99f214" stroke-width="0.4"/>
<polygon points="515.6,110.9 518.8,109.5 516.6,110.7 513.5,112.2" fill="#75f013" stroke="#75f013" stroke-width="0.4"/>
<polygon points="520.9,108.3 524.1,107.0 521.9,108.1 518.8,109.5" fill="#9bf012" stroke="#9bf012" stroke-width="0.4"/>
<polygon points="518.8,109.5 521.9,108.1 519.7,109.3 516.6,110.7" fill="#77ee11" stroke="#77ee11" stroke-width="0.4"/>
<polygon points="517.8,109.8 524.1,107.0 519.7,109.3 513.5,112.2" fill="none" stroke="#101010" stroke-width="0.85"/>
<polygon points="465.6,148.4 468.7,145.3 466.9,146.9 463.7,150.0" fill="#28f4ff" stroke="#28f4ff" stroke-width="0.4"/>
<polygon points="463.7,150.0 466.9,146.9 465.0,148.6 461.9,151.7" fill="#25c8fe" stroke="#25c8fe" stroke-width="0.4"/>
<polygon points="468.7,145.3 471.9,142.2 470.0,143.8 466.9,146.9" fill="#26fef1" stroke="#26fef1" stroke-width="0.4"/>
<polygon points="466.9,146.9 470.0,143.8 468.1,145.5 465.0,148.6" fill="#24e0fd" stroke="#24e0fd" stroke-width="0.4"/>
<polygon points="465.6,148.4 471.9,142.2 468.1,145.5 461.9,151.7" fill="none" stroke="#101010" stroke-width="0.85"/>
<polygon points="534.8,102.8 537.9,101.9 535.6,102.7 532.5,103.7" fill="#d7eb0e" stroke="#d7eb0e" stroke-width="0.4"/>
<polygon points="532.5,103.7 535.6,102.7 533.3,103.7 530.2,104.7" fill="#b8ea0d" stroke="#b8ea0d" stroke-width="0.4"/>
<polygon points="537.9,101.9 540.9,101.0 538.6,101.9 535.6,102.7" fill="#d2e90c" stroke="#d2e90c" stroke-width="0.4"/>
<polygon points="535.6,102.7 538.6,101.9 536.4,102.8 533.3,103.7" fill="#b3e80c" stroke="#b3e80c" stroke-width="0.4"/>
<polygon points="534.8,102.8 540.9,101.0 536.4,102.8 530.2,104.7" fill="none" stroke="#101010" stroke-width="0.85"/>
<polygon points="494.7,123.6 497.9,121.4 495.8,122.8 492.7,125.0" fill="#24f91d" stroke="#24f91d" stroke-width="0.4"/>
<polygon points="492.7,125.0 495.8,122.8 493.8,124.2 490.6,126.5" fill="#1bf83b" stroke="#1bf83b" stroke-width="0.4"/>
<polygon points="497.9,121.4 501.0,119.3 498.9,120.7 495.8,122.8" fill="#2ff71b" stroke="#2ff71b" stroke-width="0.4"/>
<polygon points="495.8,122.8 498.9,120.7 496.9,122.2 493.8,124.2" fill="#19f62c" stroke="#19f62c" stroke-width="0.4"/>
<polygon points="494.7,123.6 501.0,119.3 496.9,122.2 490.6,126.5" fill="none" stroke="#101010" stroke-width="0.85"/>
<polygon points="459.4,155.1 462.5,151.7 460.6,153.3 457.5,156.7" fill="#2bbfff" stroke="#2bbfff" stroke-width="0.4"/>
<polygon points="457.5,156.7 460.6,153.3 458.8,155.0 455.7,158.4" fill="#2894ff" stroke="#2894ff" stroke-width="0.4"/>
<polygon points="462.5,151.7 465.6,148.4 463.7,150.0 460.6,153.3" fill="#29daff" stroke="#29daff" stroke-width="0.4"/>
<polygon points="460.6,153.3 463.7,150.0 461.9,151.7 458.8,155.0" fill="#27afff" stroke="#27afff" stroke-width="0.4"/>
<polygon points="459.4,155.1 465.6,148.4 461.9,151.7 455.7,158.4" fill="none" stroke="#101010" stroke-width="0.85"/>
<polygon points="562.6,97.0 565.6,96.8 563.2,97.0 560.2,97.2" fill="#dfb607" stroke="#dfb607" stroke-width="0.4"/>
<polygon points="560.2,97.2 563.2,97.0 560.8,97.5 557.8,97.7" fill="#decb06" stroke="#decb06" stroke-width="0.4"/>
<polygon points="565.6,96.8 568.6,96.7 566.2,97.0 563.2,97.0" fill="#dcbf06" stroke="#dcbf06" stroke-width="0.4"/>
<polygon points="563.2,97.0 566.2,97.0 563.8,97.3 560.8,97.5" fill="#dbd405" stroke="#dbd405" stroke-width="0.4"/>
<polygon points="562.6,97.0 568.6,96.7 563.8,97.3 557.8,97.7" fill="none" stroke="#101010" stroke-width="0.85"/>
<polygon points="453.1,162.2 456.2,158.6 454.4,160.2 451.3,163.8" fill="#2e87ff" stroke="#2e87ff" stroke-width="0.4"/>
<polygon points="451.3,163.8 454.4,160.2 452.6,161.9 449.6,165.5" fill="#2b5bff" stroke="#2b5bff" stroke-width="0.4"/>
<polygon points="456.2,158.6 459.4,155.1 457.5,156.7 454.4,160.2" fill="#2da4ff" stroke="#2da4ff" stroke-width="0.4"/>
<polygon points="454.4,160.2 457.5,156.7 455.7,158.4 452.6,161.9" fill="#2a78ff" stroke="#2a78ff" stroke-width="0.4"/>
<polygon points="453.1,162.2 459.4,155.1 455.7,158.4 449.6,165.5" fill="none" stroke="#101010" stroke-width="0.85"/>
<polygon points="488.4,128.3 491.6,125.9 489.5,127.3 486.4,129.7" fill="#21fc38" stroke="#21fc38" stroke-width="0.4"/>
<polygon points="486.4,129.7 489.5,127.3 487.5,128.8 484.4,131.2" fill="#1ffa5d" stroke="#1ffa5d" stroke-width="0.4"/>
<polygon points="491.6,125.9 494.7,123.6 492.7,125.0 489.5,127.3" fill="#1ffa27" stroke="#1ffa27" stroke-width="0.4"/>
<polygon points="489.5,127.3 492.7,125.0 490.6,126.5 487.5,128.8" fill="#1df94b" stroke="#1df94b" stroke-width="0.4"/>
<polygon points="488.4,128.3 494.7,123.6 490.6,126.5 484.4,131.2" fill="none" stroke="#101010" stroke-width="0.85"/>
<polygon points="511.5,113.1 514.7,111.4 512.5,112.5 509.4,114.2" fill="#91f518" stroke="#91f518" stroke-width="0.4"/>
<polygon points="509.4,114.2 512.5,112.5 510.4,113.8 507.3,115.5" fill="#6df417" stroke="#6df417" stroke-width="0.4"/>
<polygon points="514.7,111.4 517.8,109.8 515.6,110.9 512.5,112.5" fill="#96f316" stroke="#96f316" stroke-width="0.4"/>
<polygon points="512.5,112.5 515.6,110.9 513.5,112.2 510.4,113.8" fill="#72f215" stroke="#72f215" stroke-width="0.4"/>
<polygon points="511.5,113.1 517.8,109.8 513.5,112.2 507.3,115.5" fill="none" stroke="#101010" stroke-width="0.85"/>
<polygon points="573.5,96.5 576.5,96.6 574.0,96.6 571.0,96.5" fill="#daa405" stroke="#daa405" stroke-width="0.4"/>
<polygon points="571.0,96.5 574.0,96.6 571.6,96.7 568.6,96.7" fill="#dab605" stroke="#dab605" stroke-width="0.4"/>
<polygon points="576.5,96.6 579.4,96.8 577.0,96.8 574.0,96.6" fill="#d7b004" stroke="#d7b004" stroke-width="0.4"/>
<polygon points="574.0,96.6 577.0,96.8 574.5,96.9 571.6,96.7" fill="#d7c204" stroke="#d7c204" stroke-width="0.4"/>
<polygon points="573.5,96.5 579.4,96.8 574.5,96.9 568.6,96.7" fill="none" stroke="#101010" stroke-width="0.85"/>
<polygon points="545.6,99.7 548.7,99.0 546.3,99.6 543.2,100.3" fill="#e9cc0c" stroke="#e9cc0c" stroke-width="0.4"/>
<polygon points="543.2,100.3 546.3,99.6 544.0,100.3 540.9,101.0" fill="#e7e60b" stroke="#e7e60b" stroke-width="0.4"/>
<polygon points="548.7,99.0 551.7,98.5 549.4,99.0 546.3,99.6" fill="#e6d00a" stroke="#e6d00a" stroke-width="0.4"/>
<polygon points="546.3,99.6 549.4,99.0 547.0,99.7 544.0,100.3" fill="#e1e50a" stroke="#e1e50a" stroke-width="0.4"/>
<polygon points="545.6,99.7 551.7,98.5 547.0,99.7 540.9,101.0" fill="none" stroke="#101010" stroke-width="0.85"/>
<polygon points="617.0,105.7 619.8,106.8 617.2,105.6 614.5,104.6" fill="#abc301" stroke="#abc301" stroke-width="0.4"/>
<polygon points="614.5,104.6 617.2,105.6 614.7,104.6 611.9,103.6" fill="#a7c301" stroke="#a7c301" stroke-width="0.4"/>
<polygon points="619.8,106.8 622.6,108.0 620.0,106.8 617.2,105.6" fill="#8fc000" stroke="#8fc000" stroke-width="0.4"/>
<polygon points="617.2,105.6 620.0,106.8 617.4,105.7 614.7,104.6" fill="#8bc000" stroke="#8bc000" stroke-width="0.4"/>
<polygon points="617.0,105.7 622.6,108.0 617.4,105.7 611.9,103.6" fill="none" stroke="#101010" stroke-width="0.85"/>
<polygon points="528.5,105.1 531.7,103.9 529.4,104.8 526.3,106.0" fill="#ddf012" stroke="#ddf012" stroke-width="0.4"/>
<polygon points="526.3,106.0 529.4,104.8 527.2,105.8 524.1,107.0" fill="#bdef11" stroke="#bdef11" stroke-width="0.4"/>
<polygon points="531.7,103.9 534.8,102.8 532.5,103.7 529.4,104.8" fill="#dbee10" stroke="#dbee10" stroke-width="0.4"/>
<polygon points="529.4,104.8 532.5,103.7 530.2,104.7 527.2,105.8" fill="#bbec0f" stroke="#bbec0f" stroke-width="0.4"/>
<polygon points="528.5,105.1 534.8,102.8 530.2,104.7 524.1,107.0" fill="none" stroke="#101010" stroke-width="0.85"/>
<polygon points="584.4,97.2 587.4,97.5 584.9,97.2 581.9,96.9" fill="#d5a003" stroke="#d5a003" stroke-width="0.4"/>
<polygon points="581.9,96.9 584.9,97.2 582.4,97.1 579.4,96.8" fill="#d5ae03" stroke="#d5ae03" stroke-width="0.4"/>
<polygon points="587.4,97.5 590.3,98.0 587.8,97.7 584.9,97.2" fill="#d2af03" stroke="#d2af03" stroke-width="0.4"/>
<polygon points="584.9,97.2 587.8,97.7 585.3,97.5 582.4,97.1" fill="#d2bd02" stroke="#d2bd02" stroke-width="0.4"/>
<polygon points="584.4,97.2 590.3,98.0 585.3,97.5 579.4,96.8" fill="none" stroke="#101010" stroke-width="0.85"/>
<polygon points="606.2,101.8 609.1,102.6 606.5,101.8 603.7,100.9" fill="#c9bd01" stroke="#c9bd01" stroke-width="0.4"/>
<polygon points="603.7,100.9 606.5,101.8 604.0,101.0 601.1,100.2" fill="#c9c401" stroke="#c9c401" stroke-width="0.4"/>
<polygon points="609.1,102.6 611.9,103.6 609.3,102.7 606.5,101.8" fill="#bcc601" stroke="#bcc601" stroke-width="0.4"/>
<polygon points="606.5,101.8 609.3,102.7 606.8,101.9 604.0,101.0" fill="#b5c601" stroke="#b5c601" stroke-width="0.4"/>
<polygon points="606.2,101.8 611.9,103.6 606.8,101.9 601.1,100.2" fill="none" stroke="#101010" stroke-width="0.85"/>
<polygon points="595.3,98.9 598.2,99.5 595.7,98.9 592.8,98.4" fill="#cfa802" stroke="#cfa802" stroke-width="0.4"/>
<polygon points="592.8,98.4 595.7,98.9 593.2,98.5 590.3,98.0" fill="#cfb302" stroke="#cfb302" stroke-width="0.4"/>
<polygon points="598.2,99.5 601.1,100.2 598.6,99.6 595.7,98.9" fill="#ccba02" stroke="#ccba02" stroke-width="0.4"/>
<polygon points="595.7,98.9 598.6,99.6 596.1,99.2 593.2,98.5" fill="#ccc502" stroke="#ccc502" stroke-width="0.4"/>
<polygon points="595.3,98.9 601.1,100.2 596.1,99.2 590.3,98.0" fill="none" stroke="#101010" stroke-width="0.85"/>
<polygon points="482.1,133.6 485.3,130.9 483.2,132.3 480.1,135.0" fill="#25fe60" stroke="#25fe60" stroke-width="0.4"/>
<polygon points="480.1,135.0 483.2,132.3 481.3,133.8 478.1,136.5" fill="#23fd85" stroke="#23fd85" stroke-width="0.4"/>
<polygon points="485.3,130.9 488.4,128.3 486.4,129.7 483.2,132.3" fill="#23fd4c" stroke="#23fd4c" stroke-width="0.4"/>
<polygon points="483.2,132.3 486.4,129.7 484.4,131.2 481.3,133.8" fill="#21fb70" stroke="#21fb70" stroke-width="0.4"/>
<polygon points="482.1,133.6 488.4,128.3 484.4,131.2 478.1,136.5" fill="none" stroke="#101010" stroke-width="0.85"/>
<polygon points="505.2,116.9 508.4,114.9 506.3,116.1 503.1,118.0" fill="#83f91d" stroke="#83f91d" stroke-width="0.4"/>
<polygon points="503.1,118.0 506.3,116.1 504.1,117.3 501.0,119.3" fill="#5ff71b" stroke="#5ff71b" stroke-width="0.4"/>
<polygon points="508.4,114.9 511.5,113.1 509.4,114.2 506.3,116.1" fill="#8bf71a" stroke="#8bf71a" stroke-width="0.4"/>
<polygon points="506.3,116.1 509.4,114.2 507.3,115.5 504.1,117.3" fill="#67f619" stroke="#67f619" stroke-width="0.4"/>
<polygon points="505.2,116.9 511.5,113.1 507.3,115.5 501.0,119.3" fill="none" stroke="#101010" stroke-width="0.85"/>
<polygon points="556.5,97.7 559.5,97.3 557.1,97.6 554.1,98.0" fill="#e5a70a" stroke="#e5a70a" stroke-width="0.4"/>
<polygon points="554.1,98.0 557.1,97.6 554.8,98.0 551.7,98.5" fill="#e4bd09" stroke="#e4bd09" stroke-width="0.4"/>
<polygon points="559.5,97.3 562.6,97.0 560.2,97.2 557.1,97.6" fill="#e2ad08" stroke="#e2ad08" stroke-width="0.4"/>
<polygon points="557.1,97.6 560.2,97.2 557.8,97.7 554.8,98.0" fill="#e1c308" stroke="#e1c308" stroke-width="0.4"/>
<polygon points="556.5,97.7 562.6,97.0 557.8,97.7 551.7,98.5" fill="none" stroke="#101010" stroke-width="0.85"/>
<polygon points="475.8,139.3 478.9,136.4 477.0,137.8 473.8,140.7" fill="#29ff8c" stroke="#29ff8c" stroke-width="0.4"/>
<polygon points="473.8,140.7 477.0,137.8 475.0,139.3 471.9,142.2" fill="#27ffb1" stroke="#27ffb1" stroke-width="0.4"/>
<polygon points="478.9,136.4 482.1,133.6 480.1,135.0 477.0,137.8" fill="#27ff76" stroke="#27ff76" stroke-width="0.4"/>
<polygon points="477.0,137.8 480.1,135.0 478.1,136.5 475.0,139.3" fill="#25fe9a" stroke="#25fe9a" stroke-width="0.4"/>
<polygon points="475.8,139.3 482.1,133.6 478.1,136.5 471.9,142.2" fill="none" stroke="#101010" stroke-width="0.85"/>
<polygon points="522.3,107.9 525.4,106.4 523.2,107.3 520.0,108.8" fill="#dcf417" stroke="#dcf417" stroke-width="0.4"/>
<polygon points="520.0,108.8 523.2,107.3 520.9,108.3 517.8,109.8" fill="#bbf315" stroke="#bbf315" stroke-width="0.4"/>
<polygon points="525.4,106.4 528.5,105.1 526.3,106.0 523.2,107.3" fill="#ddf214" stroke="#ddf214" stroke-width="0.4"/>
<polygon points="523.2,107.3 526.3,106.0 524.1,107.0 520.9,108.3" fill="#bdf113" stroke="#bdf113" stroke-width="0.4"/>
<polygon points="522.3,107.9 528.5,105.1 524.1,107.0 517.8,109.8" fill="none" stroke="#101010" stroke-width="0.85"/>
<polygon points="539.4,101.5 542.5,100.6 540.2,101.2 537.1,102.1" fill="#eeca10" stroke="#eeca10" stroke-width="0.4"/>
<polygon points="537.1,102.1 540.2,101.2 537.9,101.9 534.8,102.8" fill="#ece40f" stroke="#ece40f" stroke-width="0.4"/>
<polygon points="542.5,100.6 545.6,99.7 543.2,100.3 540.2,101.2" fill="#ebca0e" stroke="#ebca0e" stroke-width="0.4"/>
<polygon points="540.2,101.2 543.2,100.3 540.9,101.0 537.9,101.9" fill="#eae40d" stroke="#eae40d" stroke-width="0.4"/>
<polygon points="539.4,101.5 545.6,99.7 540.9,101.0 534.8,102.8" fill="none" stroke="#101010" stroke-width="0.85"/>
<polygon points="567.4,96.7 570.5,96.6 568.0,96.6 565.0,96.8" fill="#e08f07" stroke="#e08f07" stroke-width="0.4"/>
<polygon points="565.0,96.8 568.0,96.6 565.6,96.8 562.6,97.0" fill="#e0a107" stroke="#e0a107" stroke-width="0.4"/>
<polygon points="570.5,96.6 573.5,96.5 571.0,96.5 568.0,96.6" fill="#dd9906" stroke="#dd9906" stroke-width="0.4"/>
<polygon points="568.0,96.6 571.0,96.5 568.6,96.7 565.6,96.8" fill="#ddab06" stroke="#ddab06" stroke-width="0.4"/>
<polygon points="567.4,96.7 573.5,96.5 568.6,96.7 562.6,97.0" fill="none" stroke="#101010" stroke-width="0.85"/>
<polygon points="469.4,145.5 472.6,142.4 470.7,143.8 467.5,146.9" fill="#2dffbc" stroke="#2dffbc" stroke-width="0.4"/>
<polygon points="467.5,146.9 470.7,143.8 468.7,145.3 465.6,148.4" fill="#2affe2" stroke="#2affe2" stroke-width="0.4"/>
<polygon points="472.6,142.4 475.8,139.3 473.8,140.7 470.7,143.8" fill="#2bffa4" stroke="#2bffa4" stroke-width="0.4"/>
<polygon points="470.7,143.8 473.8,140.7 471.9,142.2 468.7,145.3" fill="#29ffc9" stroke="#29ffc9" stroke-width="0.4"/>
<polygon points="469.4,145.5 475.8,139.3 471.9,142.2 465.6,148.4" fill="none" stroke="#101010" stroke-width="0.85"/>
<polygon points="498.9,121.1 502.1,118.9 500.0,120.1 496.8,122.3" fill="#70fc21" stroke="#70fc21" stroke-width="0.4"/>
<polygon points="496.8,122.3 500.0,120.1 497.9,121.4 494.7,123.6" fill="#4bfa1f" stroke="#4bfa1f" stroke-width="0.4"/>
<polygon points="502.1,118.9 505.2,116.9 503.1,118.0 500.0,120.1" fill="#7afa1f" stroke="#7afa1f" stroke-width="0.4"/>
<polygon points="500.0,120.1 503.1,118.0 501.0,119.3 497.9,121.4" fill="#56f91d" stroke="#56f91d" stroke-width="0.4"/>
<polygon points="498.9,121.1 505.2,116.9 501.0,119.3 494.7,123.6" fill="none" stroke="#101010" stroke-width="0.85"/>
<polygon points="622.2,108.5 625.0,109.5 622.4,108.1 619.6,107.0" fill="#aec301" stroke="#aec301" stroke-width="0.4"/>
<polygon points="619.6,107.0 622.4,108.1 619.8,106.8 617.0,105.7" fill="#adc301" stroke="#adc301" stroke-width="0.4"/>
<polygon points="625.0,109.5 627.8,110.7 625.2,109.3 622.4,108.1" fill="#92c000" stroke="#92c000" stroke-width="0.4"/>
<polygon points="622.4,108.1 625.2,109.3 622.6,108.0 619.8,106.8" fill="#91c000" stroke="#91c000" stroke-width="0.4"/>
<polygon points="622.2,108.5 627.8,110.7 622.6,108.0 617.0,105.7" fill="none" stroke="#101010" stroke-width="0.85"/>
<polygon points="578.4,96.9 581.4,97.0 578.9,96.7 576.0,96.6" fill="#db8505" stroke="#db8505" stroke-width="0.4"/>
<polygon points="576.0,96.6 578.9,96.7 576.5,96.6 573.5,96.5" fill="#db9405" stroke="#db9405" stroke-width="0.4"/>
<polygon points="581.4,97.0 584.4,97.2 581.9,96.9 578.9,96.7" fill="#d89204" stroke="#d89204" stroke-width="0.4"/>
<polygon points="578.9,96.7 581.9,96.9 579.4,96.8 576.5,96.6" fill="#d8a004" stroke="#d8a004" stroke-width="0.4"/>
<polygon points="578.4,96.9 584.4,97.2 579.4,96.8 573.5,96.5" fill="none" stroke="#101010" stroke-width="0.85"/>
<polygon points="463.1,152.2 466.3,148.8 464.4,150.2 461.2,153.6" fill="#31fff0" stroke="#31fff0" stroke-width="0.4"/>
<polygon points="461.2,153.6 464.4,150.2 462.5,151.7 459.4,155.1" fill="#2ee8ff" stroke="#2ee8ff" stroke-width="0.4"/>
<polygon points="466.3,148.8 469.4,145.5 467.5,146.9 464.4,150.2" fill="#2fffd6" stroke="#2fffd6" stroke-width="0.4"/>
<polygon points="464.4,150.2 467.5,146.9 465.6,148.4 462.5,151.7" fill="#2cfffb" stroke="#2cfffb" stroke-width="0.4"/>
<polygon points="463.1,152.2 469.4,145.5 465.6,148.4 459.4,155.1" fill="none" stroke="#101010" stroke-width="0.85"/>
<polygon points="611.4,103.9 614.2,104.8 611.6,103.6 608.8,102.8" fill="#c9b201" stroke="#c9b201" stroke-width="0.4"/>
<polygon points="608.8,102.8 611.6,103.6 609.1,102.6 606.2,101.8" fill="#c9b701" stroke="#c9b701" stroke-width="0.4"/>
<polygon points="614.2,104.8 617.0,105.7 614.5,104.6 611.6,103.6" fill="#c6c601" stroke="#c6c601" stroke-width="0.4"/>
<polygon points="611.6,103.6 614.5,104.6 611.9,103.6 609.1,102.6" fill="#c2c601" stroke="#c2c601" stroke-width="0.4"/>
<polygon points="611.4,103.9 617.0,105.7 611.9,103.6 606.2,101.8" fill="none" stroke="#101010" stroke-width="0.85"/>
<polygon points="589.4,98.1 592.4,98.5 589.9,97.9 586.9,97.6" fill="#d68803" stroke="#d68803" stroke-width="0.4"/>
<polygon points="586.9,97.6 589.9,97.9 587.4,97.5 584.4,97.2" fill="#d59303" stroke="#d59303" stroke-width="0.4"/>
<polygon points="592.4,98.5 595.3,98.9 592.8,98.4 589.9,97.9" fill="#d29703" stroke="#d29703" stroke-width="0.4"/>
<polygon points="589.9,97.9 592.8,98.4 590.3,98.0 587.4,97.5" fill="#d2a203" stroke="#d2a203" stroke-width="0.4"/>
<polygon points="589.4,98.1 595.3,98.9 590.3,98.0 584.4,97.2" fill="none" stroke="#101010" stroke-width="0.85"/>
<polygon points="600.4,100.5 603.3,101.1 600.8,100.2 597.9,99.6" fill="#d09702" stroke="#d09702" stroke-width="0.4"/>
<polygon points="597.9,99.6 600.8,100.2 598.2,99.5 595.3,98.9" fill="#cf9f02" stroke="#cf9f02" stroke-width="0.4"/>
<polygon points="603.3,101.1 606.2,101.8 603.7,100.9 600.8,100.2" fill="#cca902" stroke="#cca902" stroke-width="0.4"/>
<polygon points="600.8,100.2 603.7,100.9 601.1,100.2 598.2,99.5" fill="#ccb102" stroke="#ccb102" stroke-width="0.4"/>
<polygon points="600.4,100.5 606.2,101.8 601.1,100.2 595.3,98.9" fill="none" stroke="#101010" stroke-width="0.85"/>
<polygon points="550.3,98.9 553.4,98.2 551.0,98.6 547.9,99.3" fill="#ea9e0e" stroke="#ea9e0e" stroke-width="0.4"/>
<polygon points="547.9,99.3 551.0,98.6 548.7,99.0 545.6,99.7" fill="#e9b40d" stroke="#e9b40d" stroke-width="0.4"/>
<polygon points="553.4,98.2 556.5,97.7 554.1,98.0 551.0,98.6" fill="#e8a10c" stroke="#e8a10c" stroke-width="0.4"/>
<polygon points="551.0,98.6 554.1,98.0 551.7,98.5 548.7,99.0" fill="#e7b80b" stroke="#e7b80b" stroke-width="0.4"/>
<polygon points="550.3,98.9 556.5,97.7 551.7,98.5 545.6,99.7" fill="none" stroke="#101010" stroke-width="0.85"/>
<polygon points="515.9,111.2 519.1,109.5 516.9,110.4 513.7,112.1" fill="#d5f81c" stroke="#d5f81c" stroke-width="0.4"/>
<polygon points="513.7,112.1 516.9,110.4 514.7,111.4 511.5,113.1" fill="#b4f71a" stroke="#b4f71a" stroke-width="0.4"/>
<polygon points="519.1,109.5 522.3,107.9 520.0,108.8 516.9,110.4" fill="#d9f619" stroke="#d9f619" stroke-width="0.4"/>
<polygon points="516.9,110.4 520.0,108.8 517.8,109.8 514.7,111.4" fill="#b8f518" stroke="#b8f518" stroke-width="0.4"/>
<polygon points="515.9,111.2 522.3,107.9 517.8,109.8 511.5,113.1" fill="none" stroke="#101010" stroke-width="0.85"/>
<polygon points="456.8,159.4 460.0,155.8 458.1,157.1 455.0,160.8" fill="#34d6ff" stroke="#34d6ff" stroke-width="0.4"/>
<polygon points="455.0,160.8 458.1,157.1 456.2,158.6 453.1,162.2" fill="#31b0ff" stroke="#31b0ff" stroke-width="0.4"/>
<polygon points="460.0,155.8 463.1,152.2 461.2,153.6 458.1,157.1" fill="#32f3ff" stroke="#32f3ff" stroke-width="0.4"/>
<polygon points="458.1,157.1 461.2,153.6 459.4,155.1 456.2,158.6" fill="#2fccff" stroke="#2fccff" stroke-width="0.4"/>
<polygon points="456.8,159.4 463.1,152.2 459.4,155.1 453.1,162.2" fill="none" stroke="#101010" stroke-width="0.85"/>
<polygon points="492.5,125.9 495.7,123.5 493.6,124.6 490.5,127.1" fill="#57fe26" stroke="#57fe26" stroke-width="0.4"/>
<polygon points="490.5,127.1 493.6,124.6 491.6,125.9 488.4,128.3" fill="#31fd24" stroke="#31fd24" stroke-width="0.4"/>
<polygon points="495.7,123.5 498.9,121.1 496.8,122.3 493.6,124.6" fill="#64fd24" stroke="#64fd24" stroke-width="0.4"/>
<polygon points="493.6,124.6 496.8,122.3 494.7,123.6 491.6,125.9" fill="#3ffc21" stroke="#3ffc21" stroke-width="0.4"/>
<polygon points="492.5,125.9 498.9,121.1 494.7,123.6 488.4,128.3" fill="none" stroke="#101010" stroke-width="0.85"/>
<polygon points="533.1,103.7 536.2,102.5 533.9,103.2 530.8,104.4" fill="#f2cd15" stroke="#f2cd15" stroke-width="0.4"/>
<polygon points="530.8,104.4 533.9,103.2 531.7,103.9 528.5,105.1" fill="#f1e713" stroke="#f1e713" stroke-width="0.4"/>
<polygon points="536.2,102.5 539.4,101.5 537.1,102.1 533.9,103.2" fill="#f0cb12" stroke="#f0cb12" stroke-width="0.4"/>
<polygon points="533.9,103.2 537.1,102.1 534.8,102.8 531.7,103.9" fill="#efe511" stroke="#efe511" stroke-width="0.4"/>
<polygon points="533.1,103.7 539.4,101.5 534.8,102.8 528.5,105.1" fill="none" stroke="#101010" stroke-width="0.85"/>
<polygon points="561.3,97.4 564.4,97.0 562.0,97.1 558.9,97.5" fill="#e67f0b" stroke="#e67f0b" stroke-width="0.4"/>
<polygon points="558.9,97.5 562.0,97.1 559.5,97.3 556.5,97.7" fill="#e6920a" stroke="#e6920a" stroke-width="0.4"/>
<polygon points="564.4,97.0 567.4,96.7 565.0,96.8 562.0,97.1" fill="#e48609" stroke="#e48609" stroke-width="0.4"/>
<polygon points="562.0,97.1 565.0,96.8 562.6,97.0 559.5,97.3" fill="#e39909" stroke="#e39909" stroke-width="0.4"/>
<polygon points="561.3,97.4 567.4,96.7 562.6,97.0 556.5,97.7" fill="none" stroke="#101010" stroke-width="0.85"/>
<polygon points="486.2,131.1 489.3,128.5 487.3,129.6 484.1,132.3" fill="#38ff2b" stroke="#38ff2b" stroke-width="0.4"/>
<polygon points="484.1,132.3 487.3,129.6 485.3,130.9 482.1,133.6" fill="#28ff3d" stroke="#28ff3d" stroke-width="0.4"/>
<polygon points="489.3,128.5 492.5,125.9 490.5,127.1 487.3,129.6" fill="#48ff28" stroke="#48ff28" stroke-width="0.4"/>
<polygon points="487.3,129.6 490.5,127.1 488.4,128.3 485.3,130.9" fill="#26fe29" stroke="#26fe29" stroke-width="0.4"/>
<polygon points="486.2,131.1 492.5,125.9 488.4,128.3 482.1,133.6" fill="none" stroke="#101010" stroke-width="0.85"/>
<polygon points="627.5,111.7 630.2,112.8 627.6,111.1 624.8,110.0" fill="#acc301" stroke="#acc301" stroke-width="0.4"/>
<polygon points="624.8,110.0 627.6,111.1 625.0,109.5 622.2,108.5" fill="#adc301" stroke="#adc301" stroke-width="0.4"/>
<polygon points="630.2,112.8 633.0,114.1 630.4,112.3 627.6,111.1" fill="#8fc000" stroke="#8fc000" stroke-width="0.4"/>
<polygon points="627.6,111.1 630.4,112.3 627.8,110.7 625.0,109.5" fill="#91c000" stroke="#91c000" stroke-width="0.4"/>
<polygon points="627.5,111.7 633.0,114.1 627.8,110.7 622.2,108.5" fill="none" stroke="#101010" stroke-width="0.85"/>
<polygon points="509.6,114.9 512.8,113.0 510.6,113.9 507.4,115.8" fill="#c7fb21" stroke="#c7fb21" stroke-width="0.4"/>
<polygon points="507.4,115.8 510.6,113.9 508.4,114.9 505.2,116.9" fill="#a6fa1f" stroke="#a6fa1f" stroke-width="0.4"/>
<polygon points="512.8,113.0 515.9,111.2 513.7,112.1 510.6,113.9" fill="#cffa1e" stroke="#cffa1e" stroke-width="0.4"/>
<polygon points="510.6,113.9 513.7,112.1 511.5,113.1 508.4,114.9" fill="#aef81c" stroke="#aef81c" stroke-width="0.4"/>
<polygon points="509.6,114.9 515.9,111.2 511.5,113.1 505.2,116.9" fill="none" stroke="#101010" stroke-width="0.85"/>
<polygon points="572.4,97.1 575.4,96.9 572.9,96.7 569.9,96.8" fill="#e26e08" stroke="#e26e08" stroke-width="0.4"/>
<polygon points="569.9,96.8 572.9,96.7 570.5,96.6 567.4,96.7" fill="#e17e08" stroke="#e17e08" stroke-width="0.4"/>
<polygon points="575.4,96.9 578.4,96.9 576.0,96.6 572.9,96.7" fill="#df7907" stroke="#df7907" stroke-width="0.4"/>
<polygon points="572.9,96.7 576.0,96.6 573.5,96.5 570.5,96.6" fill="#de8806" stroke="#de8806" stroke-width="0.4"/>
<polygon points="572.4,97.1 578.4,96.9 573.5,96.5 567.4,96.7" fill="none" stroke="#101010" stroke-width="0.85"/>
<polygon points="544.1,100.6 547.2,99.7 544.8,100.1 541.7,101.0" fill="#f09a12" stroke="#f09a12" stroke-width="0.4"/>
<polygon points="541.7,101.0 544.8,100.1 542.5,100.6 539.4,101.5" fill="#efb111" stroke="#efb111" stroke-width="0.4"/>
<polygon points="547.2,99.7 550.3,98.9 547.9,99.3 544.8,100.1" fill="#ed9b10" stroke="#ed9b10" stroke-width="0.4"/>
<polygon points="544.8,100.1 547.9,99.3 545.6,99.7 542.5,100.6" fill="#ecb20f" stroke="#ecb20f" stroke-width="0.4"/>
<polygon points="544.1,100.6 550.3,98.9 545.6,99.7 539.4,101.5" fill="none" stroke="#101010" stroke-width="0.85"/>
<polygon points="616.6,106.6 619.4,107.5 616.8,106.1 614.0,105.2" fill="#c9ae01" stroke="#c9ae01" stroke-width="0.4"/>
<polygon points="614.0,105.2 616.8,106.1 614.2,104.8 611.4,103.9" fill="#c9af01" stroke="#c9af01" stroke-width="0.4"/>
<polygon points="619.4,107.5 622.2,108.5 619.6,107.0 616.8,106.1" fill="#c6c301" stroke="#c6c301" stroke-width="0.4"/>
<polygon points="616.8,106.1 619.6,107.0 617.0,105.7 614.2,104.8" fill="#c6c401" stroke="#c6c401" stroke-width="0.4"/>
<polygon points="616.6,106.6 622.2,108.5 617.0,105.7 611.4,103.9" fill="none" stroke="#101010" stroke-width="0.85"/>
<polygon points="526.8,106.5 530.0,105.0 527.7,105.7 524.5,107.1" fill="#f7d61a" stroke="#f7d61a" stroke-width="0.4"/>
<polygon points="524.5,107.1 527.7,105.7 525.4,106.4 522.3,107.9" fill="#f5f018" stroke="#f5f018" stroke-width="0.4"/>
<polygon points="530.0,105.0 533.1,103.7 530.8,104.4 527.7,105.7" fill="#f5d117" stroke="#f5d117" stroke-width="0.4"/>
<polygon points="527.7,105.7 530.8,104.4 528.5,105.1 525.4,106.4" fill="#f3eb16" stroke="#f3eb16" stroke-width="0.4"/>
<polygon points="526.8,106.5 533.1,103.7 528.5,105.1 522.3,107.9" fill="none" stroke="#101010" stroke-width="0.85"/>
<polygon points="479.8,136.9 483.0,134.0 480.9,135.1 477.8,138.0" fill="#2fff49" stroke="#2fff49" stroke-width="0.4"/>
<polygon points="477.8,138.0 480.9,135.1 478.9,136.4 475.8,139.3" fill="#2cff69" stroke="#2cff69" stroke-width="0.4"/>
<polygon points="483.0,134.0 486.2,131.1 484.1,132.3 480.9,135.1" fill="#2dff33" stroke="#2dff33" stroke-width="0.4"/>
<polygon points="480.9,135.1 484.1,132.3 482.1,133.6 478.9,136.4" fill="#2aff53" stroke="#2aff53" stroke-width="0.4"/>
<polygon points="479.8,136.9 486.2,131.1 482.1,133.6 475.8,139.3" fill="none" stroke="#101010" stroke-width="0.85"/>
<polygon points="583.5,97.8 586.5,97.9 583.9,97.4 581.0,97.3" fill="#dc6b06" stroke="#dc6b06" stroke-width="0.4"/>
<polygon points="581.0,97.3 583.9,97.4 581.4,97.0 578.4,96.9" fill="#dc7705" stroke="#dc7705" stroke-width="0.4"/>
<polygon points="586.5,97.9 589.4,98.1 586.9,97.6 583.9,97.4" fill="#d97904" stroke="#d97904" stroke-width="0.4"/>
<polygon points="583.9,97.4 586.9,97.6 584.4,97.2 581.4,97.0" fill="#d98404" stroke="#d98404" stroke-width="0.4"/>
<polygon points="583.5,97.8 589.4,98.1 584.4,97.2 578.4,96.9" fill="none" stroke="#101010" stroke-width="0.85"/>
<polygon points="605.6,102.6 608.5,103.2 605.9,102.1 603.0,101.5" fill="#d08c02" stroke="#d08c02" stroke-width="0.4"/>
<polygon points="603.0,101.5 605.9,102.1 603.3,101.1 600.4,100.5" fill="#d09102" stroke="#d09102" stroke-width="0.4"/>
<polygon points="608.5,103.2 611.4,103.9 608.8,102.8 605.9,102.1" fill="#cc9f02" stroke="#cc9f02" stroke-width="0.4"/>
<polygon points="605.9,102.1 608.8,102.8 606.2,101.8 603.3,101.1" fill="#cca302" stroke="#cca302" stroke-width="0.4"/>
<polygon points="605.6,102.6 611.4,103.9 606.2,101.8 600.4,100.5" fill="none" stroke="#101010" stroke-width="0.85"/>
<polygon points="594.6,99.6 597.5,100.0 594.9,99.2 592.0,98.8" fill="#d67504" stroke="#d67504" stroke-width="0.4"/>
<polygon points="592.0,98.8 594.9,99.2 592.4,98.5 589.4,98.1" fill="#d67e04" stroke="#d67e04" stroke-width="0.4"/>
<polygon points="597.5,100.0 600.4,100.5 597.9,99.6 594.9,99.2" fill="#d38603" stroke="#d38603" stroke-width="0.4"/>
<polygon points="594.9,99.2 597.9,99.6 595.3,98.9 592.4,98.5" fill="#d38e03" stroke="#d38e03" stroke-width="0.4"/>
<polygon points="594.6,99.6 600.4,100.5 595.3,98.9 589.4,98.1" fill="none" stroke="#101010" stroke-width="0.85"/>
<polygon points="503.2,119.2 506.4,117.0 504.2,117.9 501.0,120.1" fill="#b4fe26" stroke="#b4fe26" stroke-width="0.4"/>
<polygon points="501.0,120.1 504.2,117.9 502.1,118.9 498.9,121.1" fill="#93fd24" stroke="#93fd24" stroke-width="0.4"/>
<polygon points="506.4,117.0 509.6,114.9 507.4,115.8 504.2,117.9" fill="#befd23" stroke="#befd23" stroke-width="0.4"/>
<polygon points="504.2,117.9 507.4,115.8 505.2,116.9 502.1,118.9" fill="#9dfb21" stroke="#9dfb21" stroke-width="0.4"/>
<polygon points="503.2,119.2 509.6,114.9 505.2,116.9 498.9,121.1" fill="none" stroke="#101010" stroke-width="0.85"/>
<polygon points="473.4,143.1 476.6,139.9 474.6,141.1 471.4,144.3" fill="#33ff79" stroke="#33ff79" stroke-width="0.4"/>
<polygon points="471.4,144.3 474.6,141.1 472.6,142.4 469.4,145.5" fill="#30ff99" stroke="#30ff99" stroke-width="0.4"/>
<polygon points="476.6,139.9 479.8,136.9 477.8,138.0 474.6,141.1" fill="#31ff61" stroke="#31ff61" stroke-width="0.4"/>
<polygon points="474.6,141.1 477.8,138.0 475.8,139.3 472.6,142.4" fill="#2eff81" stroke="#2eff81" stroke-width="0.4"/>
<polygon points="473.4,143.1 479.8,136.9 475.8,139.3 469.4,145.5" fill="none" stroke="#101010" stroke-width="0.85"/>
<polygon points="555.1,98.6 558.2,98.0 555.8,98.0 552.7,98.7" fill="#ec750f" stroke="#ec750f" stroke-width="0.4"/>
<polygon points="552.7,98.7 555.8,98.0 553.4,98.2 550.3,98.9" fill="#eb890e" stroke="#eb890e" stroke-width="0.4"/>
<polygon points="558.2,98.0 561.3,97.4 558.9,97.5 555.8,98.0" fill="#e9790d" stroke="#e9790d" stroke-width="0.4"/>
<polygon points="555.8,98.0 558.9,97.5 556.5,97.7 553.4,98.2" fill="#e98d0c" stroke="#e98d0c" stroke-width="0.4"/>
<polygon points="555.1,98.6 561.3,97.4 556.5,97.7 550.3,98.9" fill="none" stroke="#101010" stroke-width="0.85"/>
<polygon points="632.7,115.6 635.5,116.7 632.9,114.7 630.1,113.6" fill="#a3c201" stroke="#a3c201" stroke-width="0.4"/>
<polygon points="630.1,113.6 632.9,114.7 630.2,112.8 627.5,111.7" fill="#a8c301" stroke="#a8c301" stroke-width="0.4"/>
<polygon points="635.5,116.7 638.2,117.9 635.6,115.9 632.9,114.7" fill="#87bf00" stroke="#87bf00" stroke-width="0.4"/>
<polygon points="632.9,114.7 635.6,115.9 633.0,114.1 630.2,112.8" fill="#8cc000" stroke="#8cc000" stroke-width="0.4"/>
<polygon points="632.7,115.6 638.2,117.9 633.0,114.1 627.5,111.7" fill="none" stroke="#101010" stroke-width="0.85"/>
<polygon points="467.0,149.8 470.2,146.4 468.2,147.6 465.0,151.0" fill="#37ffac" stroke="#37ffac" stroke-width="0.4"/>
<polygon points="465.0,151.0 468.2,147.6 466.3,148.8 463.1,152.2" fill="#34ffcd" stroke="#34ffcd" stroke-width="0.4"/>
<polygon points="470.2,146.4 473.4,143.1 471.4,144.3 468.2,147.6" fill="#35ff92" stroke="#35ff92" stroke-width="0.4"/>
<polygon points="468.2,147.6 471.4,144.3 469.4,145.5 466.3,148.8" fill="#32ffb2" stroke="#32ffb2" stroke-width="0.4"/>
<polygon points="467.0,149.8 473.4,143.1 469.4,145.5 463.1,152.2" fill="none" stroke="#101010" stroke-width="0.85"/>
<polygon points="520.4,109.7 523.6,108.0 521.3,108.7 518.2,110.4" fill="#fae41f" stroke="#fae41f" stroke-width="0.4"/>
<polygon points="518.2,110.4 521.3,108.7 519.1,109.5 515.9,111.2" fill="#f3f91e" stroke="#f3f91e" stroke-width="0.4"/>
<polygon points="523.6,108.0 526.8,106.5 524.5,107.1 521.3,108.7" fill="#f9dc1d" stroke="#f9dc1d" stroke-width="0.4"/>
<polygon points="521.3,108.7 524.5,107.1 522.3,107.9 519.1,109.5" fill="#f7f71b" stroke="#f7f71b" stroke-width="0.4"/>
<polygon points="520.4,109.7 526.8,106.5 522.3,107.9 515.9,111.2" fill="none" stroke="#101010" stroke-width="0.85"/>
<polygon points="537.8,102.8 540.9,101.7 538.6,102.0 535.4,103.2" fill="#f59d17" stroke="#f59d17" stroke-width="0.4"/>
<polygon points="535.4,103.2 538.6,102.0 536.2,102.5 533.1,103.7" fill="#f3b416" stroke="#f3b416" stroke-width="0.4"/>
<polygon points="540.9,101.7 544.1,100.6 541.7,101.0 538.6,102.0" fill="#f29b15" stroke="#f29b15" stroke-width="0.4"/>
<polygon points="538.6,102.0 541.7,101.0 539.4,101.5 536.2,102.5" fill="#f1b213" stroke="#f1b213" stroke-width="0.4"/>
<polygon points="537.8,102.8 544.1,100.6 539.4,101.5 533.1,103.7" fill="none" stroke="#101010" stroke-width="0.85"/>
<polygon points="496.8,123.9 500.0,121.5 497.8,122.4 494.6,124.8" fill="#9bff2b" stroke="#9bff2b" stroke-width="0.4"/>
<polygon points="494.6,124.8 497.8,122.4 495.7,123.5 492.5,125.9" fill="#7aff29" stroke="#7aff29" stroke-width="0.4"/>
<polygon points="500.0,121.5 503.2,119.2 501.0,120.1 497.8,122.4" fill="#a8ff29" stroke="#a8ff29" stroke-width="0.4"/>
<polygon points="497.8,122.4 501.0,120.1 498.9,121.1 495.7,123.5" fill="#87fe26" stroke="#87fe26" stroke-width="0.4"/>
<polygon points="496.8,123.9 503.2,119.2 498.9,121.1 492.5,125.9" fill="none" stroke="#101010" stroke-width="0.85"/>
<polygon points="460.6,157.0 463.8,153.4 461.9,154.5 458.7,158.1" fill="#3bffe2" stroke="#3bffe2" stroke-width="0.4"/>
<polygon points="458.7,158.1 461.9,154.5 460.0,155.8 456.8,159.4" fill="#37faff" stroke="#37faff" stroke-width="0.4"/>
<polygon points="463.8,153.4 467.0,149.8 465.0,151.0 461.9,154.5" fill="#39ffc7" stroke="#39ffc7" stroke-width="0.4"/>
<polygon points="461.9,154.5 465.0,151.0 463.1,152.2 460.0,155.8" fill="#36ffe8" stroke="#36ffe8" stroke-width="0.4"/>
<polygon points="460.6,157.0 467.0,149.8 463.1,152.2 456.8,159.4" fill="none" stroke="#101010" stroke-width="0.85"/>
<polygon points="566.3,97.7 569.3,97.3 566.9,97.1 563.8,97.5" fill="#e85e0c" stroke="#e85e0c" stroke-width="0.4"/>
<polygon points="563.8,97.5 566.9,97.1 564.4,97.0 561.3,97.4" fill="#e76e0b" stroke="#e76e0b" stroke-width="0.4"/>
<polygon points="569.3,97.3 572.4,97.1 569.9,96.8 566.9,97.1" fill="#e5650a" stroke="#e5650a" stroke-width="0.4"/>
<polygon points="566.9,97.1 569.9,96.8 567.4,96.7 564.4,97.0" fill="#e47509" stroke="#e47509" stroke-width="0.4"/>
<polygon points="566.3,97.7 572.4,97.1 567.4,96.7 561.3,97.4" fill="none" stroke="#101010" stroke-width="0.85"/>
<polygon points="621.8,109.8 624.7,110.7 622.0,109.0 619.2,108.2" fill="#c9af01" stroke="#c9af01" stroke-width="0.4"/>
<polygon points="619.2,108.2 622.0,109.0 619.4,107.5 616.6,106.6" fill="#c9ae01" stroke="#c9ae01" stroke-width="0.4"/>
<polygon points="624.7,110.7 627.5,111.7 624.8,110.0 622.0,109.0" fill="#c6c401" stroke="#c6c401" stroke-width="0.4"/>
<polygon points="622.0,109.0 624.8,110.0 622.2,108.5 619.4,107.5" fill="#c6c301" stroke="#c6c301" stroke-width="0.4"/>
<polygon points="621.8,109.8 627.5,111.7 622.2,108.5 616.6,106.6" fill="none" stroke="#101010" stroke-width="0.85"/>
<polygon points="577.4,97.9 580.5,97.8 577.9,97.3 574.9,97.4" fill="#e35409" stroke="#e35409" stroke-width="0.4"/>
<polygon points="574.9,97.4 577.9,97.3 575.4,96.9 572.4,97.1" fill="#e26008" stroke="#e26008" stroke-width="0.4"/>
<polygon points="580.5,97.8 583.5,97.8 581.0,97.3 577.9,97.3" fill="#df5f07" stroke="#df5f07" stroke-width="0.4"/>
<polygon points="577.9,97.3 581.0,97.3 578.4,96.9 575.4,96.9" fill="#df6b07" stroke="#df6b07" stroke-width="0.4"/>
<polygon points="577.4,97.9 583.5,97.8 578.4,96.9 572.4,97.1" fill="none" stroke="#101010" stroke-width="0.85"/>
<polygon points="610.8,105.2 613.7,105.8 611.1,104.4 608.2,103.8" fill="#cf8702" stroke="#cf8702" stroke-width="0.4"/>
<polygon points="608.2,103.8 611.1,104.4 608.5,103.2 605.6,102.6" fill="#d08902" stroke="#d08902" stroke-width="0.4"/>
<polygon points="613.7,105.8 616.6,106.6 614.0,105.2 611.1,104.4" fill="#cc9a02" stroke="#cc9a02" stroke-width="0.4"/>
<polygon points="611.1,104.4 614.0,105.2 611.4,103.9 608.5,103.2" fill="#cc9b02" stroke="#cc9b02" stroke-width="0.4"/>
<polygon points="610.8,105.2 616.6,106.6 611.4,103.9 605.6,102.6" fill="none" stroke="#101010" stroke-width="0.85"/>
<polygon points="490.3,129.2 493.6,126.5 491.4,127.4 488.2,130.1" fill="#7cff31" stroke="#7cff31" stroke-width="0.4"/>
<polygon points="488.2,130.1 491.4,127.4 489.3,128.5 486.2,131.1" fill="#5bff2e" stroke="#5bff2e" stroke-width="0.4"/>
<polygon points="493.6,126.5 496.8,123.9 494.6,124.8 491.4,127.4" fill="#8cff2e" stroke="#8cff2e" stroke-width="0.4"/>
<polygon points="491.4,127.4 494.6,124.8 492.5,125.9 489.3,128.5" fill="#6bff2b" stroke="#6bff2b" stroke-width="0.4"/>
<polygon points="490.3,129.2 496.8,123.9 492.5,125.9 486.2,131.1" fill="none" stroke="#101010" stroke-width="0.85"/>
<polygon points="514.0,113.4 517.2,111.5 515.0,112.2 511.8,114.1" fill="#fef825" stroke="#fef825" stroke-width="0.4"/>
<polygon points="511.8,114.1 515.0,112.2 512.8,113.0 509.6,114.9" fill="#e6fd23" stroke="#e6fd23" stroke-width="0.4"/>
<polygon points="517.2,111.5 520.4,109.7 518.2,110.4 515.0,112.2" fill="#fcee22" stroke="#fcee22" stroke-width="0.4"/>
<polygon points="515.0,112.2 518.2,110.4 515.9,111.2 512.8,113.0" fill="#eefb20" stroke="#eefb20" stroke-width="0.4"/>
<polygon points="514.0,113.4 520.4,109.7 515.9,111.2 509.6,114.9" fill="none" stroke="#101010" stroke-width="0.85"/>
<polygon points="588.6,99.2 591.6,99.4 589.0,98.6 586.0,98.4" fill="#dd5806" stroke="#dd5806" stroke-width="0.4"/>
<polygon points="586.0,98.4 589.0,98.6 586.5,97.9 583.5,97.8" fill="#dc6106" stroke="#dc6106" stroke-width="0.4"/>
<polygon points="591.6,99.4 594.6,99.6 592.0,98.8 589.0,98.6" fill="#d96605" stroke="#d96605" stroke-width="0.4"/>
<polygon points="589.0,98.6 592.0,98.8 589.4,98.1 586.5,97.9" fill="#d96f04" stroke="#d96f04" stroke-width="0.4"/>
<polygon points="588.6,99.2 594.6,99.6 589.4,98.1 583.5,97.8" fill="none" stroke="#101010" stroke-width="0.85"/>
<polygon points="599.7,101.7 602.7,102.1 600.1,101.0 597.1,100.6" fill="#d66904" stroke="#d66904" stroke-width="0.4"/>
<polygon points="597.1,100.6 600.1,101.0 597.5,100.0 594.6,99.6" fill="#d66f04" stroke="#d66f04" stroke-width="0.4"/>
<polygon points="602.7,102.1 605.6,102.6 603.0,101.5 600.1,101.0" fill="#d37a03" stroke="#d37a03" stroke-width="0.4"/>
<polygon points="600.1,101.0 603.0,101.5 600.4,100.5 597.5,100.0" fill="#d37f03" stroke="#d37f03" stroke-width="0.4"/>
<polygon points="599.7,101.7 605.6,102.6 600.4,100.5 594.6,99.6" fill="none" stroke="#101010" stroke-width="0.85"/>
<polygon points="548.9,100.3 552.0,99.4 549.6,99.5 546.5,100.4" fill="#f27214" stroke="#f27214" stroke-width="0.4"/>
<polygon points="546.5,100.4 549.6,99.5 547.2,99.7 544.1,100.6" fill="#f18513" stroke="#f18513" stroke-width="0.4"/>
<polygon points="552.0,99.4 555.1,98.6 552.7,98.7 549.6,99.5" fill="#ef7311" stroke="#ef7311" stroke-width="0.4"/>
<polygon points="549.6,99.5 552.7,98.7 550.3,98.9 547.2,99.7" fill="#ee8611" stroke="#ee8611" stroke-width="0.4"/>
<polygon points="548.9,100.3 555.1,98.6 550.3,98.9 544.1,100.6" fill="none" stroke="#101010" stroke-width="0.85"/>
<polygon points="638.0,120.0 640.8,121.1 638.1,118.8 635.4,117.7" fill="#95c200" stroke="#95c200" stroke-width="0.4"/>
<polygon points="635.4,117.7 638.1,118.8 635.5,116.7 632.7,115.6" fill="#9dc200" stroke="#9dc200" stroke-width="0.4"/>
<polygon points="640.8,121.1 643.5,122.4 640.9,120.1 638.1,118.8" fill="#79bf00" stroke="#79bf00" stroke-width="0.4"/>
<polygon points="638.1,118.8 640.9,120.1 638.2,117.9 635.5,116.7" fill="#80bf00" stroke="#80bf00" stroke-width="0.4"/>
<polygon points="638.0,120.0 643.5,122.4 638.2,117.9 632.7,115.6" fill="none" stroke="#101010" stroke-width="0.85"/>
<polygon points="531.4,105.5 534.6,104.1 532.3,104.5 529.1,105.9" fill="#f9a61d" stroke="#f9a61d" stroke-width="0.4"/>
<polygon points="529.1,105.9 532.3,104.5 530.0,105.0 526.8,106.5" fill="#f8bd1c" stroke="#f8bd1c" stroke-width="0.4"/>
<polygon points="534.6,104.1 537.8,102.8 535.4,103.2 532.3,104.5" fill="#f7a11a" stroke="#f7a11a" stroke-width="0.4"/>
<polygon points="532.3,104.5 535.4,103.2 533.1,103.7 530.0,105.0" fill="#f6b819" stroke="#f6b819" stroke-width="0.4"/>
<polygon points="531.4,105.5 537.8,102.8 533.1,103.7 526.8,106.5" fill="none" stroke="#101010" stroke-width="0.85"/>
<polygon points="483.9,134.9 487.1,132.0 485.0,132.9 481.8,135.8" fill="#5aff35" stroke="#5aff35" stroke-width="0.4"/>
<polygon points="481.8,135.8 485.0,132.9 483.0,134.0 479.8,136.9" fill="#39ff32" stroke="#39ff32" stroke-width="0.4"/>
<polygon points="487.1,132.0 490.3,129.2 488.2,130.1 485.0,132.9" fill="#6cff33" stroke="#6cff33" stroke-width="0.4"/>
<polygon points="485.0,132.9 488.2,130.1 486.2,131.1 483.0,134.0" fill="#4bff30" stroke="#4bff30" stroke-width="0.4"/>
<polygon points="483.9,134.9 490.3,129.2 486.2,131.1 479.8,136.9" fill="none" stroke="#101010" stroke-width="0.85"/>
<polygon points="560.0,98.8 563.2,98.2 560.7,98.0 557.6,98.7" fill="#ee5310" stroke="#ee5310" stroke-width="0.4"/>
<polygon points="557.6,98.7 560.7,98.0 558.2,98.0 555.1,98.6" fill="#ed6410" stroke="#ed6410" stroke-width="0.4"/>
<polygon points="563.2,98.2 566.3,97.7 563.8,97.5 560.7,98.0" fill="#eb580e" stroke="#eb580e" stroke-width="0.4"/>
<polygon points="560.7,98.0 563.8,97.5 561.3,97.4 558.2,98.0" fill="#ea680d" stroke="#ea680d" stroke-width="0.4"/>
<polygon points="560.0,98.8 566.3,97.7 561.3,97.4 555.1,98.6" fill="none" stroke="#101010" stroke-width="0.85"/>
<polygon points="507.6,117.7 510.8,115.5 508.6,116.2 505.4,118.4" fill="#efff2b" stroke="#efff2b" stroke-width="0.4"/>
<polygon points="505.4,118.4 508.6,116.2 506.4,117.0 503.2,119.2" fill="#d3ff29" stroke="#d3ff29" stroke-width="0.4"/>
<polygon points="510.8,115.5 514.0,113.4 511.8,114.1 508.6,116.2" fill="#fbff28" stroke="#fbff28" stroke-width="0.4"/>
<polygon points="508.6,116.2 511.8,114.1 509.6,114.9 506.4,117.0" fill="#defe26" stroke="#defe26" stroke-width="0.4"/>
<polygon points="507.6,117.7 514.0,113.4 509.6,114.9 503.2,119.2" fill="none" stroke="#101010" stroke-width="0.85"/>
<polygon points="627.1,113.7 629.9,114.6 627.3,112.6 624.5,111.7" fill="#c8b601" stroke="#c8b601" stroke-width="0.4"/>
<polygon points="624.5,111.7 627.3,112.6 624.7,110.7 621.8,109.8" fill="#c9b201" stroke="#c9b201" stroke-width="0.4"/>
<polygon points="629.9,114.6 632.7,115.6 630.1,113.6 627.3,112.6" fill="#bfc501" stroke="#bfc501" stroke-width="0.4"/>
<polygon points="627.3,112.6 630.1,113.6 627.5,111.7 624.7,110.7" fill="#c4c601" stroke="#c4c601" stroke-width="0.4"/>
<polygon points="627.1,113.7 632.7,115.6 627.5,111.7 621.8,109.8" fill="none" stroke="#101010" stroke-width="0.85"/>
<polygon points="477.4,141.1 480.7,138.0 478.6,138.9 475.4,142.1" fill="#3aff40" stroke="#3aff40" stroke-width="0.4"/>
<polygon points="475.4,142.1 478.6,138.9 476.6,139.9 473.4,143.1" fill="#37ff5b" stroke="#37ff5b" stroke-width="0.4"/>
<polygon points="480.7,138.0 483.9,134.9 481.8,135.8 478.6,138.9" fill="#47ff38" stroke="#47ff38" stroke-width="0.4"/>
<polygon points="478.6,138.9 481.8,135.8 479.8,136.9 476.6,139.9" fill="#34ff43" stroke="#34ff43" stroke-width="0.4"/>
<polygon points="477.4,141.1 483.9,134.9 479.8,136.9 473.4,143.1" fill="none" stroke="#101010" stroke-width="0.85"/>
<polygon points="542.5,102.5 545.7,101.3 543.3,101.4 540.1,102.6" fill="#f7741a" stroke="#f7741a" stroke-width="0.4"/>
<polygon points="540.1,102.6 543.3,101.4 540.9,101.7 537.8,102.8" fill="#f68819" stroke="#f68819" stroke-width="0.4"/>
<polygon points="545.7,101.3 548.9,100.3 546.5,100.4 543.3,101.4" fill="#f47217" stroke="#f47217" stroke-width="0.4"/>
<polygon points="543.3,101.4 546.5,100.4 544.1,100.6 540.9,101.7" fill="#f38616" stroke="#f38616" stroke-width="0.4"/>
<polygon points="542.5,102.5 548.9,100.3 544.1,100.6 537.8,102.8" fill="none" stroke="#101010" stroke-width="0.85"/>
<polygon points="571.2,98.5 574.3,98.2 571.8,97.7 568.7,98.0" fill="#e9430c" stroke="#e9430c" stroke-width="0.4"/>
<polygon points="568.7,98.0 571.8,97.7 569.3,97.3 566.3,97.7" fill="#e8500c" stroke="#e8500c" stroke-width="0.4"/>
<polygon points="574.3,98.2 577.4,97.9 574.9,97.4 571.8,97.7" fill="#e64b0a" stroke="#e64b0a" stroke-width="0.4"/>
<polygon points="571.8,97.7 574.9,97.4 572.4,97.1 569.3,97.3" fill="#e5570a" stroke="#e5570a" stroke-width="0.4"/>
<polygon points="571.2,98.5 577.4,97.9 572.4,97.1 566.3,97.7" fill="none" stroke="#101010" stroke-width="0.85"/>
<polygon points="525.0,108.8 528.2,107.1 525.9,107.5 522.7,109.2" fill="#fdb424" stroke="#fdb424" stroke-width="0.4"/>
<polygon points="522.7,109.2 525.9,107.5 523.6,108.0 520.4,109.7" fill="#fccb22" stroke="#fccb22" stroke-width="0.4"/>
<polygon points="528.2,107.1 531.4,105.5 529.1,105.9 525.9,107.5" fill="#fbad20" stroke="#fbad20" stroke-width="0.4"/>
<polygon points="525.9,107.5 529.1,105.9 526.8,106.5 523.6,108.0" fill="#fac41e" stroke="#fac41e" stroke-width="0.4"/>
<polygon points="525.0,108.8 531.4,105.5 526.8,106.5 520.4,109.7" fill="none" stroke="#101010" stroke-width="0.85"/>
<polygon points="616.1,108.4 619.0,109.1 616.3,107.4 613.4,106.7" fill="#cf8802" stroke="#cf8802" stroke-width="0.4"/>
<polygon points="613.4,106.7 616.3,107.4 613.7,105.8 610.8,105.2" fill="#cf8602" stroke="#cf8602" stroke-width="0.4"/>
<polygon points="619.0,109.1 621.8,109.8 619.2,108.2 616.3,107.4" fill="#cc9b01" stroke="#cc9b01" stroke-width="0.4"/>
<polygon points="616.3,107.4 619.2,108.2 616.6,106.6 613.7,105.8" fill="#cc9a02" stroke="#cc9a02" stroke-width="0.4"/>
<polygon points="616.1,108.4 621.8,109.8 616.6,106.6 610.8,105.2" fill="none" stroke="#101010" stroke-width="0.85"/>
<polygon points="643.3,125.0 646.1,126.1 643.4,123.5 640.7,122.4" fill="#81c100" stroke="#81c100" stroke-width="0.4"/>
<polygon points="640.7,122.4 643.4,123.5 640.8,121.1 638.0,120.0" fill="#8cc100" stroke="#8cc100" stroke-width="0.4"/>
<polygon points="646.1,126.1 648.8,127.4 646.2,124.8 643.4,123.5" fill="#65be00" stroke="#65be00" stroke-width="0.4"/>
<polygon points="643.4,123.5 646.2,124.8 643.5,122.4 640.8,121.1" fill="#6fbf00" stroke="#6fbf00" stroke-width="0.4"/>
<polygon points="643.3,125.0 648.8,127.4 643.5,122.4 638.0,120.0" fill="none" stroke="#101010" stroke-width="0.85"/>
<polygon points="471.0,147.9 474.2,144.4 472.2,145.4 469.0,148.8" fill="#3eff72" stroke="#3eff72" stroke-width="0.4"/>
<polygon points="469.0,148.8 472.2,145.4 470.2,146.4 467.0,149.8" fill="#3bff8e" stroke="#3bff8e" stroke-width="0.4"/>
<polygon points="474.2,144.4 477.4,141.1 475.4,142.1 472.2,145.4" fill="#3cff59" stroke="#3cff59" stroke-width="0.4"/>
<polygon points="472.2,145.4 475.4,142.1 473.4,143.1 470.2,146.4" fill="#39ff74" stroke="#39ff74" stroke-width="0.4"/>
<polygon points="471.0,147.9 477.4,141.1 473.4,143.1 467.0,149.8" fill="none" stroke="#101010" stroke-width="0.85"/>
<polygon points="582.5,99.3 585.5,99.2 583.0,98.4 579.9,98.5" fill="#e34009" stroke="#e34009" stroke-width="0.4"/>
<polygon points="579.9,98.5 583.0,98.4 580.5,97.8 577.4,97.9" fill="#e34909" stroke="#e34909" stroke-width="0.4"/>
<polygon points="585.5,99.2 588.6,99.2 586.0,98.4 583.0,98.4" fill="#e04b07" stroke="#e04b07" stroke-width="0.4"/>
<polygon points="583.0,98.4 586.0,98.4 583.5,97.8 580.5,97.8" fill="#e05407" stroke="#e05407" stroke-width="0.4"/>
<polygon points="582.5,99.3 588.6,99.2 583.5,97.8 577.4,97.9" fill="none" stroke="#101010" stroke-width="0.85"/>
<polygon points="604.9,104.3 607.9,104.7 605.3,103.3 602.3,102.9" fill="#d66304" stroke="#d66304" stroke-width="0.4"/>
<polygon points="602.3,102.9 605.3,103.3 602.7,102.1 599.7,101.7" fill="#d66604" stroke="#d66604" stroke-width="0.4"/>
<polygon points="607.9,104.7 610.8,105.2 608.2,103.8 605.3,103.3" fill="#d37503" stroke="#d37503" stroke-width="0.4"/>
<polygon points="605.3,103.3 608.2,103.8 605.6,102.6 602.7,102.1" fill="#d37703" stroke="#d37703" stroke-width="0.4"/>
<polygon points="604.9,104.3 610.8,105.2 605.6,102.6 599.7,101.7" fill="none" stroke="#101010" stroke-width="0.85"/>
<polygon points="501.1,122.4 504.3,120.0 502.2,120.7 498.9,123.1" fill="#d5ff31" stroke="#d5ff31" stroke-width="0.4"/>
<polygon points="498.9,123.1 502.2,120.7 500.0,121.5 496.8,123.9" fill="#b9ff2e" stroke="#b9ff2e" stroke-width="0.4"/>
<polygon points="504.3,120.0 507.6,117.7 505.4,118.4 502.2,120.7" fill="#e3ff2e" stroke="#e3ff2e" stroke-width="0.4"/>
<polygon points="502.2,120.7 505.4,118.4 503.2,119.2 500.0,121.5" fill="#c7ff2c" stroke="#c7ff2c" stroke-width="0.4"/>
<polygon points="501.1,122.4 507.6,117.7 503.2,119.2 496.8,123.9" fill="none" stroke="#101010" stroke-width="0.85"/>
<polygon points="593.7,101.2 596.7,101.4 594.1,100.3 591.1,100.2" fill="#dd4b06" stroke="#dd4b06" stroke-width="0.4"/>
<polygon points="591.1,100.2 594.1,100.3 591.6,99.4 588.6,99.2" fill="#dd5106" stroke="#dd5106" stroke-width="0.4"/>
<polygon points="596.7,101.4 599.7,101.7 597.1,100.6 594.1,100.3" fill="#da5a05" stroke="#da5a05" stroke-width="0.4"/>
<polygon points="594.1,100.3 597.1,100.6 594.6,99.6 591.6,99.4" fill="#d95f05" stroke="#d95f05" stroke-width="0.4"/>
<polygon points="593.7,101.2 599.7,101.7 594.6,99.6 588.6,99.2" fill="none" stroke="#101010" stroke-width="0.85"/>
<polygon points="464.6,155.1 467.8,151.4 465.8,152.3 462.6,156.0" fill="#42ffa8" stroke="#42ffa8" stroke-width="0.4"/>
<polygon points="462.6,156.0 465.8,152.3 463.8,153.4 460.6,157.0" fill="#3effc4" stroke="#3effc4" stroke-width="0.4"/>
<polygon points="467.8,151.4 471.0,147.9 469.0,148.8 465.8,152.3" fill="#40ff8d" stroke="#40ff8d" stroke-width="0.4"/>
<polygon points="465.8,152.3 469.0,148.8 467.0,149.8 463.8,153.4" fill="#3cffa8" stroke="#3cffa8" stroke-width="0.4"/>
<polygon points="464.6,155.1 471.0,147.9 467.0,149.8 460.6,157.0" fill="none" stroke="#101010" stroke-width="0.85"/>
<polygon points="553.7,100.5 556.9,99.6 554.4,99.4 551.3,100.3" fill="#f35016" stroke="#f35016" stroke-width="0.4"/>
<polygon points="551.3,100.3 554.4,99.4 552.0,99.4 548.9,100.3" fill="#f36015" stroke="#f36015" stroke-width="0.4"/>
<polygon points="556.9,99.6 560.0,98.8 557.6,98.7 554.4,99.4" fill="#f15113" stroke="#f15113" stroke-width="0.4"/>
<polygon points="554.4,99.4 557.6,98.7 555.1,98.6 552.0,99.4" fill="#f06112" stroke="#f06112" stroke-width="0.4"/>
<polygon points="553.7,100.5 560.0,98.8 555.1,98.6 548.9,100.3" fill="none" stroke="#101010" stroke-width="0.85"/>
<polygon points="632.4,118.0 635.2,118.9 632.6,116.7 629.7,115.8" fill="#c8c301" stroke="#c8c301" stroke-width="0.4"/>
<polygon points="629.7,115.8 632.6,116.7 629.9,114.6 627.1,113.7" fill="#c8bc01" stroke="#c8bc01" stroke-width="0.4"/>
<polygon points="635.2,118.9 638.0,120.0 635.4,117.7 632.6,116.7" fill="#b1c501" stroke="#b1c501" stroke-width="0.4"/>
<polygon points="632.6,116.7 635.4,117.7 632.7,115.6 629.9,114.6" fill="#b9c501" stroke="#b9c501" stroke-width="0.4"/>
<polygon points="632.4,118.0 638.0,120.0 632.7,115.6 627.1,113.7" fill="none" stroke="#101010" stroke-width="0.85"/>
<polygon points="518.6,112.5 521.8,110.5 519.5,111.0 516.3,112.9" fill="#ffc72a" stroke="#ffc72a" stroke-width="0.4"/>
<polygon points="516.3,112.9 519.5,111.0 517.2,111.5 514.0,113.4" fill="#ffdf28" stroke="#ffdf28" stroke-width="0.4"/>
<polygon points="521.8,110.5 525.0,108.8 522.7,109.2 519.5,111.0" fill="#ffbe27" stroke="#ffbe27" stroke-width="0.4"/>
<polygon points="519.5,111.0 522.7,109.2 520.4,109.7 517.2,111.5" fill="#fdd525" stroke="#fdd525" stroke-width="0.4"/>
<polygon points="518.6,112.5 525.0,108.8 520.4,109.7 514.0,113.4" fill="none" stroke="#101010" stroke-width="0.85"/>
<polygon points="494.6,127.7 497.9,125.0 495.7,125.7 492.5,128.3" fill="#b7ff37" stroke="#b7ff37" stroke-width="0.4"/>
<polygon points="492.5,128.3 495.7,125.7 493.6,126.5 490.3,129.2" fill="#9bff34" stroke="#9bff34" stroke-width="0.4"/>
<polygon points="497.9,125.0 501.1,122.4 498.9,123.1 495.7,125.7" fill="#c7ff34" stroke="#c7ff34" stroke-width="0.4"/>
<polygon points="495.7,125.7 498.9,123.1 496.8,123.9 493.6,126.5" fill="#abff31" stroke="#abff31" stroke-width="0.4"/>
<polygon points="494.6,127.7 501.1,122.4 496.8,123.9 490.3,129.2" fill="none" stroke="#101010" stroke-width="0.85"/>
<polygon points="536.1,105.1 539.3,103.7 537.0,103.9 533.8,105.3" fill="#fb7d21" stroke="#fb7d21" stroke-width="0.4"/>
<polygon points="533.8,105.3 537.0,103.9 534.6,104.1 531.4,105.5" fill="#fa911f" stroke="#fa911f" stroke-width="0.4"/>
<polygon points="539.3,103.7 542.5,102.5 540.1,102.6 537.0,103.9" fill="#f9781d" stroke="#f9781d" stroke-width="0.4"/>
<polygon points="537.0,103.9 540.1,102.6 537.8,102.8 534.6,104.1" fill="#f88c1c" stroke="#f88c1c" stroke-width="0.4"/>
<polygon points="536.1,105.1 542.5,102.5 537.8,102.8 531.4,105.5" fill="none" stroke="#101010" stroke-width="0.85"/>
<polygon points="648.7,130.5 651.4,131.7 648.7,128.8 646.0,127.7" fill="#67c000" stroke="#67c000" stroke-width="0.4"/>
<polygon points="646.0,127.7 648.7,128.8 646.1,126.1 643.3,125.0" fill="#75c100" stroke="#75c100" stroke-width="0.4"/>
<polygon points="651.4,131.7 654.1,132.9 651.5,130.1 648.7,128.8" fill="#4bbe00" stroke="#4bbe00" stroke-width="0.4"/>
<polygon points="648.7,128.8 651.5,130.1 648.8,127.4 646.1,126.1" fill="#59be00" stroke="#59be00" stroke-width="0.4"/>
<polygon points="648.7,130.5 654.1,132.9 648.8,127.4 643.3,125.0" fill="none" stroke="#101010" stroke-width="0.85"/>
<polygon points="565.0,99.6 568.1,99.0 565.6,98.5 562.5,99.2" fill="#ef3812" stroke="#ef3812" stroke-width="0.4"/>
<polygon points="562.5,99.2 565.6,98.5 563.2,98.2 560.0,98.8" fill="#ef4511" stroke="#ef4511" stroke-width="0.4"/>
<polygon points="568.1,99.0 571.2,98.5 568.7,98.0 565.6,98.5" fill="#ec3d0f" stroke="#ec3d0f" stroke-width="0.4"/>
<polygon points="565.6,98.5 568.7,98.0 566.3,97.7 563.2,98.2" fill="#ec490e" stroke="#ec490e" stroke-width="0.4"/>
<polygon points="565.0,99.6 571.2,98.5 566.3,97.7 560.0,98.8" fill="none" stroke="#101010" stroke-width="0.85"/>
<polygon points="621.3,112.2 624.2,112.9 621.6,110.9 618.7,110.2" fill="#cf8e02" stroke="#cf8e02" stroke-width="0.4"/>
<polygon points="618.7,110.2 621.6,110.9 619.0,109.1 616.1,108.4" fill="#cf8a02" stroke="#cf8a02" stroke-width="0.4"/>
<polygon points="624.2,112.9 627.1,113.7 624.5,111.7 621.6,110.9" fill="#cba201" stroke="#cba201" stroke-width="0.4"/>
<polygon points="621.6,110.9 624.5,111.7 621.8,109.8 619.0,109.1" fill="#cc9e01" stroke="#cc9e01" stroke-width="0.4"/>
<polygon points="621.3,112.2 627.1,113.7 621.8,109.8 616.1,108.4" fill="none" stroke="#101010" stroke-width="0.85"/>
<polygon points="488.1,133.4 491.4,130.5 489.2,131.2 486.0,134.1" fill="#96ff3c" stroke="#96ff3c" stroke-width="0.4"/>
<polygon points="486.0,134.1 489.2,131.2 487.1,132.0 483.9,134.9" fill="#79ff39" stroke="#79ff39" stroke-width="0.4"/>
<polygon points="491.4,130.5 494.6,127.7 492.5,128.3 489.2,131.2" fill="#a7ff3a" stroke="#a7ff3a" stroke-width="0.4"/>
<polygon points="489.2,131.2 492.5,128.3 490.3,129.2 487.1,132.0" fill="#8aff36" stroke="#8aff36" stroke-width="0.4"/>
<polygon points="488.1,133.4 494.6,127.7 490.3,129.2 483.9,134.9" fill="none" stroke="#101010" stroke-width="0.85"/>
<polygon points="576.3,99.9 579.4,99.5 576.9,98.8 573.8,99.1" fill="#ea2e0d" stroke="#ea2e0d" stroke-width="0.4"/>
<polygon points="573.8,99.1 576.9,98.8 574.3,98.2 571.2,98.5" fill="#e9380d" stroke="#e9380d" stroke-width="0.4"/>
<polygon points="579.4,99.5 582.5,99.3 579.9,98.5 576.9,98.8" fill="#e7360b" stroke="#e7360b" stroke-width="0.4"/>
<polygon points="576.9,98.8 579.9,98.5 577.4,97.9 574.3,98.2" fill="#e6400b" stroke="#e6400b" stroke-width="0.4"/>
<polygon points="576.3,99.9 582.5,99.3 577.4,97.9 571.2,98.5" fill="none" stroke="#101010" stroke-width="0.85"/>
<polygon points="512.1,116.7 515.3,114.5 513.1,114.9 509.8,117.1" fill="#ffdd31" stroke="#ffdd31" stroke-width="0.4"/>
<polygon points="509.8,117.1 513.1,114.9 510.8,115.5 507.6,117.7" fill="#fff52e" stroke="#fff52e" stroke-width="0.4"/>
<polygon points="515.3,114.5 518.6,112.5 516.3,112.9 513.1,114.9" fill="#ffd22e" stroke="#ffd22e" stroke-width="0.4"/>
<polygon points="513.1,114.9 516.3,112.9 514.0,113.4 510.8,115.5" fill="#ffe92b" stroke="#ffe92b" stroke-width="0.4"/>
<polygon points="512.1,116.7 518.6,112.5 514.0,113.4 507.6,117.7" fill="none" stroke="#101010" stroke-width="0.85"/>
<polygon points="610.2,107.4 613.1,107.9 610.5,106.2 607.5,105.8" fill="#d66403" stroke="#d66403" stroke-width="0.4"/>
<polygon points="607.5,105.8 610.5,106.2 607.9,104.7 604.9,104.3" fill="#d66304" stroke="#d66304" stroke-width="0.4"/>
<polygon points="613.1,107.9 616.1,108.4 613.4,106.7 610.5,106.2" fill="#d27503" stroke="#d27503" stroke-width="0.4"/>
<polygon points="610.5,106.2 613.4,106.7 610.8,105.2 607.9,104.7" fill="#d37403" stroke="#d37403" stroke-width="0.4"/>
<polygon points="610.2,107.4 616.1,108.4 610.8,105.2 604.9,104.3" fill="none" stroke="#101010" stroke-width="0.85"/>
<polygon points="547.4,102.6 550.6,101.5 548.1,101.3 544.9,102.5" fill="#f9521d" stroke="#f9521d" stroke-width="0.4"/>
<polygon points="544.9,102.5 548.1,101.3 545.7,101.3 542.5,102.5" fill="#f8621b" stroke="#f8621b" stroke-width="0.4"/>
<polygon points="550.6,101.5 553.7,100.5 551.3,100.3 548.1,101.3" fill="#f65019" stroke="#f65019" stroke-width="0.4"/>
<polygon points="548.1,101.3 551.3,100.3 548.9,100.3 545.7,101.3" fill="#f56018" stroke="#f56018" stroke-width="0.4"/>
<polygon points="547.4,102.6 553.7,100.5 548.9,100.3 542.5,102.5" fill="none" stroke="#101010" stroke-width="0.85"/>
<polygon points="587.6,101.3 590.7,101.2 588.1,100.1 585.1,100.2" fill="#e43209" stroke="#e43209" stroke-width="0.4"/>
<polygon points="585.1,100.2 588.1,100.1 585.5,99.2 582.5,99.3" fill="#e43809" stroke="#e43809" stroke-width="0.4"/>
<polygon points="590.7,101.2 593.7,101.2 591.1,100.2 588.1,100.1" fill="#e03e07" stroke="#e03e07" stroke-width="0.4"/>
<polygon points="588.1,100.1 591.1,100.2 588.6,99.2 585.5,99.2" fill="#e04407" stroke="#e04407" stroke-width="0.4"/>
<polygon points="587.6,101.3 593.7,101.2 588.6,99.2 582.5,99.3" fill="none" stroke="#101010" stroke-width="0.85"/>
<polygon points="598.9,103.8 601.9,104.0 599.3,102.6 596.3,102.4" fill="#dd4506" stroke="#dd4506" stroke-width="0.4"/>
<polygon points="596.3,102.4 599.3,102.6 596.7,101.4 593.7,101.2" fill="#dd4706" stroke="#dd4706" stroke-width="0.4"/>
<polygon points="601.9,104.0 604.9,104.3 602.3,102.9 599.3,102.6" fill="#d95305" stroke="#d95305" stroke-width="0.4"/>
<polygon points="599.3,102.6 602.3,102.9 599.7,101.7 596.7,101.4" fill="#da5605" stroke="#da5605" stroke-width="0.4"/>
<polygon points="598.9,103.8 604.9,104.3 599.7,101.7 593.7,101.2" fill="none" stroke="#101010" stroke-width="0.85"/>
<polygon points="637.7,123.0 640.5,123.9 637.9,121.4 635.1,120.4" fill="#b8c701" stroke="#b8c701" stroke-width="0.4"/>
<polygon points="635.1,120.4 637.9,121.4 635.2,118.9 632.4,118.0" fill="#c3c701" stroke="#c3c701" stroke-width="0.4"/>
<polygon points="640.5,123.9 643.3,125.0 640.7,122.4 637.9,121.4" fill="#9dc401" stroke="#9dc401" stroke-width="0.4"/>
<polygon points="637.9,121.4 640.7,122.4 638.0,120.0 635.2,118.9" fill="#a7c401" stroke="#a7c401" stroke-width="0.4"/>
<polygon points="637.7,123.0 643.3,125.0 638.0,120.0 632.4,118.0" fill="none" stroke="#101010" stroke-width="0.85"/>
<polygon points="529.7,108.3 532.9,106.7 530.6,106.8 527.3,108.5" fill="#ff8c28" stroke="#ff8c28" stroke-width="0.4"/>
<polygon points="527.3,108.5 530.6,106.8 528.2,107.1 525.0,108.8" fill="#fe9f26" stroke="#fe9f26" stroke-width="0.4"/>
<polygon points="532.9,106.7 536.1,105.1 533.8,105.3 530.6,106.8" fill="#fd8424" stroke="#fd8424" stroke-width="0.4"/>
<polygon points="530.6,106.8 533.8,105.3 531.4,105.5 528.2,107.1" fill="#fc9722" stroke="#fc9722" stroke-width="0.4"/>
<polygon points="529.7,108.3 536.1,105.1 531.4,105.5 525.0,108.8" fill="none" stroke="#101010" stroke-width="0.85"/>
<polygon points="481.6,139.6 484.9,136.5 482.8,137.1 479.5,140.3" fill="#71ff41" stroke="#71ff41" stroke-width="0.4"/>
<polygon points="479.5,140.3 482.8,137.1 480.7,138.0 477.4,141.1" fill="#53ff3e" stroke="#53ff3e" stroke-width="0.4"/>
<polygon points="484.9,136.5 488.1,133.4 486.0,134.1 482.8,137.1" fill="#84ff3f" stroke="#84ff3f" stroke-width="0.4"/>
<polygon points="482.8,137.1 486.0,134.1 483.9,134.9 480.7,138.0" fill="#67ff3b" stroke="#67ff3b" stroke-width="0.4"/>
<polygon points="481.6,139.6 488.1,133.4 483.9,134.9 477.4,141.1" fill="none" stroke="#101010" stroke-width="0.85"/>
<polygon points="654.0,136.6 656.7,137.8 654.1,134.6 651.3,133.5" fill="#48c000" stroke="#48c000" stroke-width="0.4"/>
<polygon points="651.3,133.5 654.1,134.6 651.4,131.7 648.7,130.5" fill="#58c000" stroke="#58c000" stroke-width="0.4"/>
<polygon points="656.7,137.8 659.4,139.0 656.8,135.9 654.1,134.6" fill="#2cbd00" stroke="#2cbd00" stroke-width="0.4"/>
<polygon points="654.1,134.6 656.8,135.9 654.1,132.9 651.4,131.7" fill="#3cbd00" stroke="#3cbd00" stroke-width="0.4"/>
<polygon points="654.0,136.6 659.4,139.0 654.1,132.9 648.7,130.5" fill="none" stroke="#101010" stroke-width="0.85"/>
<polygon points="475.1,146.4 478.4,142.9 476.3,143.6 473.0,147.1" fill="#48ff46" stroke="#48ff46" stroke-width="0.4"/>
<polygon points="473.0,147.1 476.3,143.6 474.2,144.4 471.0,147.9" fill="#42ff5a" stroke="#42ff5a" stroke-width="0.4"/>
<polygon points="478.4,142.9 481.6,139.6 479.5,140.3 476.3,143.6" fill="#5dff44" stroke="#5dff44" stroke-width="0.4"/>
<polygon points="476.3,143.6 479.5,140.3 477.4,141.1 474.2,144.4" fill="#40ff40" stroke="#40ff40" stroke-width="0.4"/>
<polygon points="475.1,146.4 481.6,139.6 477.4,141.1 471.0,147.9" fill="none" stroke="#101010" stroke-width="0.85"/>
<polygon points="505.6,121.4 508.8,119.0 506.6,119.4 503.3,121.8" fill="#fff738" stroke="#fff738" stroke-width="0.4"/>
<polygon points="503.3,121.8 506.6,119.4 504.3,120.0 501.1,122.4" fill="#efff34" stroke="#efff34" stroke-width="0.4"/>
<polygon points="508.8,119.0 512.1,116.7 509.8,117.1 506.6,119.4" fill="#ffea34" stroke="#ffea34" stroke-width="0.4"/>
<polygon points="506.6,119.4 509.8,117.1 507.6,117.7 504.3,120.0" fill="#fdff31" stroke="#fdff31" stroke-width="0.4"/>
<polygon points="505.6,121.4 512.1,116.7 507.6,117.7 501.1,122.4" fill="none" stroke="#101010" stroke-width="0.85"/>
<polygon points="558.7,101.2 561.9,100.4 559.4,99.9 556.2,100.8" fill="#f53418" stroke="#f53418" stroke-width="0.4"/>
<polygon points="556.2,100.8 559.4,99.9 556.9,99.6 553.7,100.5" fill="#f44117" stroke="#f44117" stroke-width="0.4"/>
<polygon points="561.9,100.4 565.0,99.6 562.5,99.2 559.4,99.9" fill="#f23514" stroke="#f23514" stroke-width="0.4"/>
<polygon points="559.4,99.9 562.5,99.2 560.0,98.8 556.9,99.6" fill="#f14214" stroke="#f14214" stroke-width="0.4"/>
<polygon points="558.7,101.2 565.0,99.6 560.0,98.8 553.7,100.5" fill="none" stroke="#101010" stroke-width="0.85"/>
<polygon points="626.7,116.5 629.5,117.2 626.9,115.0 624.0,114.3" fill="#ce9b02" stroke="#ce9b02" stroke-width="0.4"/>
<polygon points="624.0,114.3 626.9,115.0 624.2,112.9 621.3,112.2" fill="#ce9402" stroke="#ce9402" stroke-width="0.4"/>
<polygon points="629.5,117.2 632.4,118.0 629.7,115.8 626.9,115.0" fill="#cbaf01" stroke="#cbaf01" stroke-width="0.4"/>
<polygon points="626.9,115.0 629.7,115.8 627.1,113.7 624.2,112.9" fill="#cba801" stroke="#cba801" stroke-width="0.4"/>
<polygon points="626.7,116.5 632.4,118.0 627.1,113.7 621.3,112.2" fill="none" stroke="#101010" stroke-width="0.85"/>
<polygon points="468.6,153.6 471.9,149.9 469.8,150.6 466.6,154.3" fill="#4aff77" stroke="#4aff77" stroke-width="0.4"/>
<polygon points="466.6,154.3 469.8,150.6 467.8,151.4 464.6,155.1" fill="#46ff8e" stroke="#46ff8e" stroke-width="0.4"/>
<polygon points="471.9,149.9 475.1,146.4 473.0,147.1 469.8,150.6" fill="#48ff5d" stroke="#48ff5d" stroke-width="0.4"/>
<polygon points="469.8,150.6 473.0,147.1 471.0,147.9 467.8,151.4" fill="#44ff74" stroke="#44ff74" stroke-width="0.4"/>
<polygon points="468.6,153.6 475.1,146.4 471.0,147.9 464.6,155.1" fill="none" stroke="#101010" stroke-width="0.85"/>
<polygon points="523.2,112.0 526.5,110.1 524.1,110.3 520.9,112.2" fill="#ff9e2f" stroke="#ff9e2f" stroke-width="0.4"/>
<polygon points="520.9,112.2 524.1,110.3 521.8,110.5 518.6,112.5" fill="#ffb22d" stroke="#ffb22d" stroke-width="0.4"/>
<polygon points="526.5,110.1 529.7,108.3 527.3,108.5 524.1,110.3" fill="#ff942c" stroke="#ff942c" stroke-width="0.4"/>
<polygon points="524.1,110.3 527.3,108.5 525.0,108.8 521.8,110.5" fill="#ffa829" stroke="#ffa829" stroke-width="0.4"/>
<polygon points="523.2,112.0 529.7,108.3 525.0,108.8 518.6,112.5" fill="none" stroke="#101010" stroke-width="0.85"/>
<polygon points="541.0,105.3 544.2,103.9 541.7,103.7 538.5,105.1" fill="#fd5b24" stroke="#fd5b24" stroke-width="0.4"/>
<polygon points="538.5,105.1 541.7,103.7 539.3,103.7 536.1,105.1" fill="#fc6b22" stroke="#fc6b22" stroke-width="0.4"/>
<polygon points="544.2,103.9 547.4,102.6 544.9,102.5 541.7,103.7" fill="#fb5620" stroke="#fb5620" stroke-width="0.4"/>
<polygon points="541.7,103.7 544.9,102.5 542.5,102.5 539.3,103.7" fill="#fa661f" stroke="#fa661f" stroke-width="0.4"/>
<polygon points="541.0,105.3 547.4,102.6 542.5,102.5 536.1,105.1" fill="none" stroke="#101010" stroke-width="0.85"/>
<polygon points="659.3,143.3 662.0,144.5 659.4,141.1 656.7,139.9" fill="#23bf00" stroke="#23bf00" stroke-width="0.4"/>
<polygon points="656.7,139.9 659.4,141.1 656.7,137.8 654.0,136.6" fill="#36bf00" stroke="#36bf00" stroke-width="0.4"/>
<polygon points="662.0,144.5 664.7,145.7 662.1,142.3 659.4,141.1" fill="#08bc00" stroke="#08bc00" stroke-width="0.4"/>
<polygon points="659.4,141.1 662.1,142.3 659.4,139.0 656.7,137.8" fill="#1abd00" stroke="#1abd00" stroke-width="0.4"/>
<polygon points="659.3,143.3 664.7,145.7 659.4,139.0 654.0,136.6" fill="none" stroke="#101010" stroke-width="0.85"/>
<polygon points="570.1,100.9 573.2,100.3 570.7,99.6 567.5,100.2" fill="#f02313" stroke="#f02313" stroke-width="0.4"/>
<polygon points="567.5,100.2 570.7,99.6 568.1,99.0 565.0,99.6" fill="#f02d12" stroke="#f02d12" stroke-width="0.4"/>
<polygon points="573.2,100.3 576.3,99.9 573.8,99.1 570.7,99.6" fill="#ed2810" stroke="#ed2810" stroke-width="0.4"/>
<polygon points="570.7,99.6 573.8,99.1 571.2,98.5 568.1,99.0" fill="#ed310f" stroke="#ed310f" stroke-width="0.4"/>
<polygon points="570.1,100.9 576.3,99.9 571.2,98.5 565.0,99.6" fill="none" stroke="#101010" stroke-width="0.85"/>
<polygon points="643.1,128.5 645.9,129.5 643.2,126.6 640.4,125.7" fill="#9ec601" stroke="#9ec601" stroke-width="0.4"/>
<polygon points="640.4,125.7 643.2,126.6 640.5,123.9 637.7,123.0" fill="#abc701" stroke="#abc701" stroke-width="0.4"/>
<polygon points="645.9,129.5 648.7,130.5 646.0,127.7 643.2,126.6" fill="#83c301" stroke="#83c301" stroke-width="0.4"/>
<polygon points="643.2,126.6 646.0,127.7 643.3,125.0 640.5,123.9" fill="#90c401" stroke="#90c401" stroke-width="0.4"/>
<polygon points="643.1,128.5 648.7,130.5 643.3,125.0 637.7,123.0" fill="none" stroke="#101010" stroke-width="0.85"/>
<polygon points="615.5,111.2 618.4,111.6 615.8,109.7 612.8,109.2" fill="#d56a03" stroke="#d56a03" stroke-width="0.4"/>
<polygon points="612.8,109.2 615.8,109.7 613.1,107.9 610.2,107.4" fill="#d66603" stroke="#d66603" stroke-width="0.4"/>
<polygon points="618.4,111.6 621.3,112.2 618.7,110.2 615.8,109.7" fill="#d27c03" stroke="#d27c03" stroke-width="0.4"/>
<polygon points="615.8,109.7 618.7,110.2 616.1,108.4 613.1,107.9" fill="#d27803" stroke="#d27803" stroke-width="0.4"/>
<polygon points="615.5,111.2 621.3,112.2 616.1,108.4 610.2,107.4" fill="none" stroke="#101010" stroke-width="0.85"/>
<polygon points="499.0,126.7 502.3,124.0 500.1,124.4 496.8,127.1" fill="#e9ff3e" stroke="#e9ff3e" stroke-width="0.4"/>
<polygon points="496.8,127.1 500.1,124.4 497.9,125.0 494.6,127.7" fill="#d1ff3a" stroke="#d1ff3a" stroke-width="0.4"/>
<polygon points="502.3,124.0 505.6,121.4 503.3,121.8 500.1,124.4" fill="#f8ff3b" stroke="#f8ff3b" stroke-width="0.4"/>
<polygon points="500.1,124.4 503.3,121.8 501.1,122.4 497.9,125.0" fill="#e1ff37" stroke="#e1ff37" stroke-width="0.4"/>
<polygon points="499.0,126.7 505.6,121.4 501.1,122.4 494.6,127.7" fill="none" stroke="#101010" stroke-width="0.85"/>
<polygon points="581.5,101.8 584.6,101.5 582.0,100.4 578.9,100.8" fill="#ea200d" stroke="#ea200d" stroke-width="0.4"/>
<polygon points="578.9,100.8 582.0,100.4 579.4,99.5 576.3,99.9" fill="#ea260d" stroke="#ea260d" stroke-width="0.4"/>
<polygon points="584.6,101.5 587.6,101.3 585.1,100.2 582.0,100.4" fill="#e7280b" stroke="#e7280b" stroke-width="0.4"/>
<polygon points="582.0,100.4 585.1,100.2 582.5,99.3 579.4,99.5" fill="#e72e0b" stroke="#e72e0b" stroke-width="0.4"/>
<polygon points="581.5,101.8 587.6,101.3 582.5,99.3 576.3,99.9" fill="none" stroke="#101010" stroke-width="0.85"/>
<polygon points="604.2,106.9 607.2,107.1 604.6,105.5 601.6,105.3" fill="#dd4406" stroke="#dd4406" stroke-width="0.4"/>
<polygon points="601.6,105.3 604.6,105.5 601.9,104.0 598.9,103.8" fill="#dd4406" stroke="#dd4406" stroke-width="0.4"/>
<polygon points="607.2,107.1 610.2,107.4 607.5,105.8 604.6,105.5" fill="#d95305" stroke="#d95305" stroke-width="0.4"/>
<polygon points="604.6,105.5 607.5,105.8 604.9,104.3 601.9,104.0" fill="#d95305" stroke="#d95305" stroke-width="0.4"/>
<polygon points="604.2,106.9 610.2,107.4 604.9,104.3 598.9,103.8" fill="none" stroke="#101010" stroke-width="0.85"/>
<polygon points="592.8,103.8 595.9,103.7 593.3,102.4 590.2,102.5" fill="#e42b09" stroke="#e42b09" stroke-width="0.4"/>
<polygon points="590.2,102.5 593.3,102.4 590.7,101.2 587.6,101.3" fill="#e42e09" stroke="#e42e09" stroke-width="0.4"/>
<polygon points="595.9,103.7 598.9,103.8 596.3,102.4 593.3,102.4" fill="#e03707" stroke="#e03707" stroke-width="0.4"/>
<polygon points="593.3,102.4 596.3,102.4 593.7,101.2 590.7,101.2" fill="#e03a07" stroke="#e03a07" stroke-width="0.4"/>
<polygon points="592.8,103.8 598.9,103.8 593.7,101.2 587.6,101.3" fill="none" stroke="#101010" stroke-width="0.85"/>
<polygon points="492.5,132.4 495.7,129.5 493.5,129.9 490.3,132.8" fill="#c8ff44" stroke="#c8ff44" stroke-width="0.4"/>
<polygon points="490.3,132.8 493.5,129.9 491.4,130.5 488.1,133.4" fill="#b0ff40" stroke="#b0ff40" stroke-width="0.4"/>
<polygon points="495.7,129.5 499.0,126.7 496.8,127.1 493.5,129.9" fill="#d9ff41" stroke="#d9ff41" stroke-width="0.4"/>
<polygon points="493.5,129.9 496.8,127.1 494.6,127.7 491.4,130.5" fill="#c1ff3d" stroke="#c1ff3d" stroke-width="0.4"/>
<polygon points="492.5,132.4 499.0,126.7 494.6,127.7 488.1,133.4" fill="none" stroke="#101010" stroke-width="0.85"/>
<polygon points="552.3,103.3 555.5,102.2 553.0,101.8 549.8,102.9" fill="#fa371f" stroke="#fa371f" stroke-width="0.4"/>
<polygon points="549.8,102.9 553.0,101.8 550.6,101.5 547.4,102.6" fill="#f9441e" stroke="#f9441e" stroke-width="0.4"/>
<polygon points="555.5,102.2 558.7,101.2 556.2,100.8 553.0,101.8" fill="#f8341b" stroke="#f8341b" stroke-width="0.4"/>
<polygon points="553.0,101.8 556.2,100.8 553.7,100.5 550.6,101.5" fill="#f7411a" stroke="#f7411a" stroke-width="0.4"/>
<polygon points="552.3,103.3 558.7,101.2 553.7,100.5 547.4,102.6" fill="none" stroke="#101010" stroke-width="0.85"/>
<polygon points="516.7,116.2 519.9,114.0 517.6,114.2 514.4,116.4" fill="#ffb537" stroke="#ffb537" stroke-width="0.4"/>
<polygon points="514.4,116.4 517.6,114.2 515.3,114.5 512.1,116.7" fill="#ffc834" stroke="#ffc834" stroke-width="0.4"/>
<polygon points="519.9,114.0 523.2,112.0 520.9,112.2 517.6,114.2" fill="#ffa933" stroke="#ffa933" stroke-width="0.4"/>
<polygon points="517.6,114.2 520.9,112.2 518.6,112.5 515.3,114.5" fill="#ffbc30" stroke="#ffbc30" stroke-width="0.4"/>
<polygon points="516.7,116.2 523.2,112.0 518.6,112.5 512.1,116.7" fill="none" stroke="#101010" stroke-width="0.85"/>
<polygon points="632.0,121.5 634.9,122.2 632.2,119.6 629.3,118.9" fill="#cdae02" stroke="#cdae02" stroke-width="0.4"/>
<polygon points="629.3,118.9 632.2,119.6 629.5,117.2 626.7,116.5" fill="#cea402" stroke="#cea402" stroke-width="0.4"/>
<polygon points="634.9,122.2 637.7,123.0 635.1,120.4 632.2,119.6" fill="#cac201" stroke="#cac201" stroke-width="0.4"/>
<polygon points="632.2,119.6 635.1,120.4 632.4,118.0 629.5,117.2" fill="#cab801" stroke="#cab801" stroke-width="0.4"/>
<polygon points="632.0,121.5 637.7,123.0 632.4,118.0 626.7,116.5" fill="none" stroke="#101010" stroke-width="0.85"/>
<polygon points="534.5,108.4 537.7,106.8 535.3,106.7 532.1,108.3" fill="#ff6a2c" stroke="#ff6a2c" stroke-width="0.4"/>
<polygon points="532.1,108.3 535.3,106.7 532.9,106.7 529.7,108.3" fill="#ff7a2a" stroke="#ff7a2a" stroke-width="0.4"/>
<polygon points="537.7,106.8 541.0,105.3 538.5,105.1 535.3,106.7" fill="#ff6228" stroke="#ff6228" stroke-width="0.4"/>
<polygon points="535.3,106.7 538.5,105.1 536.1,105.1 532.9,106.7" fill="#fe7226" stroke="#fe7226" stroke-width="0.4"/>
<polygon points="534.5,108.4 541.0,105.3 536.1,105.1 529.7,108.3" fill="none" stroke="#101010" stroke-width="0.85"/>
<polygon points="648.4,134.6 651.2,135.6 648.6,132.4 645.8,131.5" fill="#7ec501" stroke="#7ec501" stroke-width="0.4"/>
<polygon points="645.8,131.5 648.6,132.4 645.9,129.5 643.1,128.5" fill="#8ec601" stroke="#8ec601" stroke-width="0.4"/>
<polygon points="651.2,135.6 654.0,136.6 651.3,133.5 648.6,132.4" fill="#63c201" stroke="#63c201" stroke-width="0.4"/>
<polygon points="648.6,132.4 651.3,133.5 648.7,130.5 645.9,129.5" fill="#74c301" stroke="#74c301" stroke-width="0.4"/>
<polygon points="648.4,134.6 654.0,136.6 648.7,130.5 643.1,128.5" fill="none" stroke="#101010" stroke-width="0.85"/>
<polygon points="485.9,138.6 489.2,135.5 487.0,135.9 483.7,139.1" fill="#a4ff49" stroke="#a4ff49" stroke-width="0.4"/>
<polygon points="483.7,139.1 487.0,135.9 484.9,136.5 481.6,139.6" fill="#8bff45" stroke="#8bff45" stroke-width="0.4"/>
<polygon points="489.2,135.5 492.5,132.4 490.3,132.8 487.0,135.9" fill="#b6ff47" stroke="#b6ff47" stroke-width="0.4"/>
<polygon points="487.0,135.9 490.3,132.8 488.1,133.4 484.9,136.5" fill="#9eff43" stroke="#9eff43" stroke-width="0.4"/>
<polygon points="485.9,138.6 492.5,132.4 488.1,133.4 481.6,139.6" fill="none" stroke="#101010" stroke-width="0.85"/>
<polygon points="563.7,102.5 566.9,101.7 564.4,100.9 561.2,101.8" fill="#f61f19" stroke="#f61f19" stroke-width="0.4"/>
<polygon points="561.2,101.8 564.4,100.9 561.9,100.4 558.7,101.2" fill="#f62819" stroke="#f62819" stroke-width="0.4"/>
<polygon points="566.9,101.7 570.1,100.9 567.5,100.2 564.4,100.9" fill="#f32016" stroke="#f32016" stroke-width="0.4"/>
<polygon points="564.4,100.9 567.5,100.2 565.0,99.6 561.9,100.4" fill="#f32a15" stroke="#f32a15" stroke-width="0.4"/>
<polygon points="563.7,102.5 570.1,100.9 565.0,99.6 558.7,101.2" fill="none" stroke="#101010" stroke-width="0.85"/>
<polygon points="620.8,115.5 623.7,116.0 621.1,113.7 618.1,113.3" fill="#d47703" stroke="#d47703" stroke-width="0.4"/>
<polygon points="618.1,113.3 621.1,113.7 618.4,111.6 615.5,111.2" fill="#d57003" stroke="#d57003" stroke-width="0.4"/>
<polygon points="623.7,116.0 626.7,116.5 624.0,114.3 621.1,113.7" fill="#d18802" stroke="#d18802" stroke-width="0.4"/>
<polygon points="621.1,113.7 624.0,114.3 621.3,112.2 618.4,111.6" fill="#d28102" stroke="#d28102" stroke-width="0.4"/>
<polygon points="620.8,115.5 626.7,116.5 621.3,112.2 615.5,111.2" fill="none" stroke="#101010" stroke-width="0.85"/>
<polygon points="510.1,120.9 513.4,118.5 511.1,118.7 507.8,121.1" fill="#ffcf3e" stroke="#ffcf3e" stroke-width="0.4"/>
<polygon points="507.8,121.1 511.1,118.7 508.8,119.0 505.6,121.4" fill="#ffe23b" stroke="#ffe23b" stroke-width="0.4"/>
<polygon points="513.4,118.5 516.7,116.2 514.4,116.4 511.1,118.7" fill="#ffc13b" stroke="#ffc13b" stroke-width="0.4"/>
<polygon points="511.1,118.7 514.4,116.4 512.1,116.7 508.8,119.0" fill="#ffd537" stroke="#ffd537" stroke-width="0.4"/>
<polygon points="510.1,120.9 516.7,116.2 512.1,116.7 505.6,121.4" fill="none" stroke="#101010" stroke-width="0.85"/>
<polygon points="479.3,145.4 482.6,142.0 480.5,142.4 477.2,145.8" fill="#7dff4e" stroke="#7dff4e" stroke-width="0.4"/>
<polygon points="477.2,145.8 480.5,142.4 478.4,142.9 475.1,146.4" fill="#64ff4a" stroke="#64ff4a" stroke-width="0.4"/>
<polygon points="482.6,142.0 485.9,138.6 483.7,139.1 480.5,142.4" fill="#91ff4c" stroke="#91ff4c" stroke-width="0.4"/>
<polygon points="480.5,142.4 483.7,139.1 481.6,139.6 478.4,142.9" fill="#78ff48" stroke="#78ff48" stroke-width="0.4"/>
<polygon points="479.3,145.4 485.9,138.6 481.6,139.6 475.1,146.4" fill="none" stroke="#101010" stroke-width="0.85"/>
<polygon points="575.2,102.8 578.3,102.2 575.8,101.2 572.6,101.8" fill="#f11413" stroke="#f11413" stroke-width="0.4"/>
<polygon points="572.6,101.8 575.8,101.2 573.2,100.3 570.1,100.9" fill="#f11b13" stroke="#f11b13" stroke-width="0.4"/>
<polygon points="578.3,102.2 581.5,101.8 578.9,100.8 575.8,101.2" fill="#ee1910" stroke="#ee1910" stroke-width="0.4"/>
<polygon points="575.8,101.2 578.9,100.8 576.3,99.9 573.2,100.3" fill="#ed1f10" stroke="#ed1f10" stroke-width="0.4"/>
<polygon points="575.2,102.8 581.5,101.8 576.3,99.9 570.1,100.9" fill="none" stroke="#101010" stroke-width="0.85"/>
<polygon points="609.5,110.6 612.5,110.8 609.8,108.9 606.8,108.7" fill="#dc4a06" stroke="#dc4a06" stroke-width="0.4"/>
<polygon points="606.8,108.7 609.8,108.9 607.2,107.1 604.2,106.9" fill="#dc4606" stroke="#dc4606" stroke-width="0.4"/>
<polygon points="612.5,110.8 615.5,111.2 612.8,109.2 609.8,108.9" fill="#d95a04" stroke="#d95a04" stroke-width="0.4"/>
<polygon points="609.8,108.9 612.8,109.2 610.2,107.4 607.2,107.1" fill="#d95604" stroke="#d95604" stroke-width="0.4"/>
<polygon points="609.5,110.6 615.5,111.2 610.2,107.4 604.2,106.9" fill="none" stroke="#101010" stroke-width="0.85"/>
<polygon points="545.9,105.9 549.1,104.6 546.6,104.1 543.4,105.5" fill="#ff4027" stroke="#ff4027" stroke-width="0.4"/>
<polygon points="543.4,105.5 546.6,104.1 544.2,103.9 541.0,105.3" fill="#fe4d26" stroke="#fe4d26" stroke-width="0.4"/>
<polygon points="549.1,104.6 552.3,103.3 549.8,102.9 546.6,104.1" fill="#fd3b23" stroke="#fd3b23" stroke-width="0.4"/>
<polygon points="546.6,104.1 549.8,102.9 547.4,102.6 544.2,103.9" fill="#fc4822" stroke="#fc4822" stroke-width="0.4"/>
<polygon points="545.9,105.9 552.3,103.3 547.4,102.6 541.0,105.3" fill="none" stroke="#101010" stroke-width="0.85"/>
<polygon points="637.4,127.0 640.2,127.7 637.6,124.9 634.7,124.1" fill="#ccc702" stroke="#ccc702" stroke-width="0.4"/>
<polygon points="634.7,124.1 637.6,124.9 634.9,122.2 632.0,121.5" fill="#cdba02" stroke="#cdba02" stroke-width="0.4"/>
<polygon points="640.2,127.7 643.1,128.5 640.4,125.7 637.6,124.9" fill="#b8c901" stroke="#b8c901" stroke-width="0.4"/>
<polygon points="637.6,124.9 640.4,125.7 637.7,123.0 634.9,122.2" fill="#c6ca01" stroke="#c6ca01" stroke-width="0.4"/>
<polygon points="637.4,127.0 643.1,128.5 637.7,123.0 632.0,121.5" fill="none" stroke="#101010" stroke-width="0.85"/>
<polygon points="586.7,104.3 589.8,104.0 587.1,102.6 584.0,103.0" fill="#eb180e" stroke="#eb180e" stroke-width="0.4"/>
<polygon points="584.0,103.0 587.1,102.6 584.6,101.5 581.5,101.8" fill="#eb1b0e" stroke="#eb1b0e" stroke-width="0.4"/>
<polygon points="589.8,104.0 592.8,103.8 590.2,102.5 587.1,102.6" fill="#e7210b" stroke="#e7210b" stroke-width="0.4"/>
<polygon points="587.1,102.6 590.2,102.5 587.6,101.3 584.6,101.5" fill="#e7240b" stroke="#e7240b" stroke-width="0.4"/>
<polygon points="586.7,104.3 592.8,103.8 587.6,101.3 581.5,101.8" fill="none" stroke="#101010" stroke-width="0.85"/>
<polygon points="598.1,106.9 601.2,106.8 598.5,105.2 595.5,105.3" fill="#e32a09" stroke="#e32a09" stroke-width="0.4"/>
<polygon points="595.5,105.3 598.5,105.2 595.9,103.7 592.8,103.8" fill="#e42a09" stroke="#e42a09" stroke-width="0.4"/>
<polygon points="601.2,106.8 604.2,106.9 601.6,105.3 598.5,105.2" fill="#e03607" stroke="#e03607" stroke-width="0.4"/>
<polygon points="598.5,105.2 601.6,105.3 598.9,103.8 595.9,103.7" fill="#e03607" stroke="#e03607" stroke-width="0.4"/>
<polygon points="598.1,106.9 604.2,106.9 598.9,103.8 592.8,103.8" fill="none" stroke="#101010" stroke-width="0.85"/>
<polygon points="527.9,112.1 531.2,110.2 528.8,110.1 525.6,112.0" fill="#ff7d35" stroke="#ff7d35" stroke-width="0.4"/>
<polygon points="525.6,112.0 528.8,110.1 526.5,110.1 523.2,112.0" fill="#ff8d32" stroke="#ff8d32" stroke-width="0.4"/>
<polygon points="531.2,110.2 534.5,108.4 532.1,108.3 528.8,110.1" fill="#ff7330" stroke="#ff7330" stroke-width="0.4"/>
<polygon points="528.8,110.1 532.1,108.3 529.7,108.3 526.5,110.1" fill="#ff832e" stroke="#ff832e" stroke-width="0.4"/>
<polygon points="527.9,112.1 534.5,108.4 529.7,108.3 523.2,112.0" fill="none" stroke="#101010" stroke-width="0.85"/>
<polygon points="653.8,141.3 656.6,142.3 653.9,138.8 651.1,137.9" fill="#58c401" stroke="#58c401" stroke-width="0.4"/>
<polygon points="651.1,137.9 653.9,138.8 651.2,135.6 648.4,134.6" fill="#6cc501" stroke="#6cc501" stroke-width="0.4"/>
<polygon points="656.6,142.3 659.3,143.3 656.7,139.9 653.9,138.8" fill="#3ec200" stroke="#3ec200" stroke-width="0.4"/>
<polygon points="653.9,138.8 656.7,139.9 654.0,136.6 651.2,135.6" fill="#51c200" stroke="#51c200" stroke-width="0.4"/>
<polygon points="653.8,141.3 659.3,143.3 654.0,136.6 648.4,134.6" fill="none" stroke="#101010" stroke-width="0.85"/>
<polygon points="472.8,152.6 476.0,149.0 473.9,149.4 470.7,153.1" fill="#53ff52" stroke="#53ff52" stroke-width="0.4"/>
<polygon points="470.7,153.1 473.9,149.4 471.9,149.9 468.6,153.6" fill="#4eff63" stroke="#4eff63" stroke-width="0.4"/>
<polygon points="476.0,149.0 479.3,145.4 477.2,145.8 473.9,149.4" fill="#68ff50" stroke="#68ff50" stroke-width="0.4"/>
<polygon points="473.9,149.4 477.2,145.8 475.1,146.4 471.9,149.9" fill="#4eff4c" stroke="#4eff4c" stroke-width="0.4"/>
<polygon points="472.8,152.6 479.3,145.4 475.1,146.4 468.6,153.6" fill="none" stroke="#101010" stroke-width="0.85"/>
<polygon points="503.5,126.2 506.8,123.5 504.5,123.7 501.3,126.3" fill="#ffed45" stroke="#ffed45" stroke-width="0.4"/>
<polygon points="501.3,126.3 504.5,123.7 502.3,124.0 499.0,126.7" fill="#feff42" stroke="#feff42" stroke-width="0.4"/>
<polygon points="506.8,123.5 510.1,120.9 507.8,121.1 504.5,123.7" fill="#ffdd42" stroke="#ffdd42" stroke-width="0.4"/>
<polygon points="504.5,123.7 507.8,121.1 505.6,121.4 502.3,124.0" fill="#fff13e" stroke="#fff13e" stroke-width="0.4"/>
<polygon points="503.5,126.2 510.1,120.9 505.6,121.4 499.0,126.7" fill="none" stroke="#101010" stroke-width="0.85"/>
<polygon points="557.3,104.6 560.5,103.5 558.0,102.8 554.8,103.9" fill="#fb2221" stroke="#fb2221" stroke-width="0.4"/>
<polygon points="554.8,103.9 558.0,102.8 555.5,102.2 552.3,103.3" fill="#fb2b20" stroke="#fb2b20" stroke-width="0.4"/>
<polygon points="560.5,103.5 563.7,102.5 561.2,101.8 558.0,102.8" fill="#f91f1d" stroke="#f91f1d" stroke-width="0.4"/>
<polygon points="558.0,102.8 561.2,101.8 558.7,101.2 555.5,102.2" fill="#f8291c" stroke="#f8291c" stroke-width="0.4"/>
<polygon points="557.3,104.6 563.7,102.5 558.7,101.2 552.3,103.3" fill="none" stroke="#101010" stroke-width="0.85"/>
<polygon points="626.2,120.4 629.1,120.9 626.4,118.3 623.5,117.9" fill="#d38903" stroke="#d38903" stroke-width="0.4"/>
<polygon points="623.5,117.9 626.4,118.3 623.7,116.0 620.8,115.5" fill="#d47f03" stroke="#d47f03" stroke-width="0.4"/>
<polygon points="629.1,120.9 632.0,121.5 629.3,118.9 626.4,118.3" fill="#d09b02" stroke="#d09b02" stroke-width="0.4"/>
<polygon points="626.4,118.3 629.3,118.9 626.7,116.5 623.7,116.0" fill="#d19102" stroke="#d19102" stroke-width="0.4"/>
<polygon points="626.2,120.4 632.0,121.5 626.7,116.5 620.8,115.5" fill="none" stroke="#101010" stroke-width="0.85"/>
<polygon points="521.4,116.3 524.7,114.1 522.3,114.0 519.0,116.2" fill="#ff943d" stroke="#ff943d" stroke-width="0.4"/>
<polygon points="519.0,116.2 522.3,114.0 519.9,114.0 516.7,116.2" fill="#ffa43a" stroke="#ffa43a" stroke-width="0.4"/>
<polygon points="524.7,114.1 527.9,112.1 525.6,112.0 522.3,114.0" fill="#ff8839" stroke="#ff8839" stroke-width="0.4"/>
<polygon points="522.3,114.0 525.6,112.0 523.2,112.0 519.9,114.0" fill="#ff9836" stroke="#ff9836" stroke-width="0.4"/>
<polygon points="521.4,116.3 527.9,112.1 523.2,112.0 516.7,116.2" fill="none" stroke="#101010" stroke-width="0.85"/>
<polygon points="496.9,131.9 500.2,129.0 498.0,129.1 494.7,132.1" fill="#f1ff4c" stroke="#f1ff4c" stroke-width="0.4"/>
<polygon points="494.7,132.1 498.0,129.1 495.7,129.5 492.5,132.4" fill="#deff48" stroke="#deff48" stroke-width="0.4"/>
<polygon points="500.2,129.0 503.5,126.2 501.3,126.3 498.0,129.1" fill="#fffc49" stroke="#fffc49" stroke-width="0.4"/>
<polygon points="498.0,129.1 501.3,126.3 499.0,126.7 495.7,129.5" fill="#eeff45" stroke="#eeff45" stroke-width="0.4"/>
<polygon points="496.9,131.9 503.5,126.2 499.0,126.7 492.5,132.4" fill="none" stroke="#101010" stroke-width="0.85"/>
<polygon points="539.3,109.1 542.6,107.4 540.2,107.0 536.9,108.7" fill="#ff4f30" stroke="#ff4f30" stroke-width="0.4"/>
<polygon points="536.9,108.7 540.2,107.0 537.7,106.8 534.5,108.4" fill="#ff5c2e" stroke="#ff5c2e" stroke-width="0.4"/>
<polygon points="542.6,107.4 545.9,105.9 543.4,105.5 540.2,107.0" fill="#ff472c" stroke="#ff472c" stroke-width="0.4"/>
<polygon points="540.2,107.0 543.4,105.5 541.0,105.3 537.7,106.8" fill="#ff542a" stroke="#ff542a" stroke-width="0.4"/>
<polygon points="539.3,109.1 545.9,105.9 541.0,105.3 534.5,108.4" fill="none" stroke="#101010" stroke-width="0.85"/>
<polygon points="642.8,133.1 645.6,133.8 642.9,130.7 640.1,130.0" fill="#b1cb01" stroke="#b1cb01" stroke-width="0.4"/>
<polygon points="640.1,130.0 642.9,130.7 640.2,127.7 637.4,127.0" fill="#c2cc01" stroke="#c2cc01" stroke-width="0.4"/>
<polygon points="645.6,133.8 648.4,134.6 645.8,131.5 642.9,130.7" fill="#98c801" stroke="#98c801" stroke-width="0.4"/>
<polygon points="642.9,130.7 645.8,131.5 643.1,128.5 640.2,127.7" fill="#a9c901" stroke="#a9c901" stroke-width="0.4"/>
<polygon points="642.8,133.1 648.4,134.6 643.1,128.5 637.4,127.0" fill="none" stroke="#101010" stroke-width="0.85"/>
<polygon points="568.8,104.3 572.0,103.5 569.5,102.5 566.3,103.3" fill="#f71a1a" stroke="#f71a1a" stroke-width="0.4"/>
<polygon points="566.3,103.3 569.5,102.5 566.9,101.7 563.7,102.5" fill="#f71a1a" stroke="#f71a1a" stroke-width="0.4"/>
<polygon points="572.0,103.5 575.2,102.8 572.6,101.8 569.5,102.5" fill="#f41717" stroke="#f41717" stroke-width="0.4"/>
<polygon points="569.5,102.5 572.6,101.8 570.1,100.9 566.9,101.7" fill="#f41716" stroke="#f41716" stroke-width="0.4"/>
<polygon points="568.8,104.3 575.2,102.8 570.1,100.9 563.7,102.5" fill="none" stroke="#101010" stroke-width="0.85"/>
<polygon points="614.8,114.9 617.8,115.1 615.2,112.9 612.2,112.7" fill="#db5605" stroke="#db5605" stroke-width="0.4"/>
<polygon points="612.2,112.7 615.2,112.9 612.5,110.8 609.5,110.6" fill="#dc5005" stroke="#dc5005" stroke-width="0.4"/>
<polygon points="617.8,115.1 620.8,115.5 618.1,113.3 615.2,112.9" fill="#d86604" stroke="#d86604" stroke-width="0.4"/>
<polygon points="615.2,112.9 618.1,113.3 615.5,111.2 612.5,110.8" fill="#d85f04" stroke="#d85f04" stroke-width="0.4"/>
<polygon points="614.8,114.9 620.8,115.5 615.5,111.2 609.5,110.6" fill="none" stroke="#101010" stroke-width="0.85"/>
<polygon points="580.4,105.3 583.5,104.7 580.9,103.4 577.8,104.0" fill="#f11313" stroke="#f11313" stroke-width="0.4"/>
<polygon points="577.8,104.0 580.9,103.4 578.3,102.2 575.2,102.8" fill="#f11313" stroke="#f11313" stroke-width="0.4"/>
<polygon points="583.5,104.7 586.7,104.3 584.0,103.0 580.9,103.4" fill="#ee1110" stroke="#ee1110" stroke-width="0.4"/>
<polygon points="580.9,103.4 584.0,103.0 581.5,101.8 578.3,102.2" fill="#ee1410" stroke="#ee1410" stroke-width="0.4"/>
<polygon points="580.4,105.3 586.7,104.3 581.5,101.8 575.2,102.8" fill="none" stroke="#101010" stroke-width="0.85"/>
<polygon points="603.4,110.6 606.5,110.5 603.8,108.6 600.7,108.7" fill="#e32f09" stroke="#e32f09" stroke-width="0.4"/>
<polygon points="600.7,108.7 603.8,108.6 601.2,106.8 598.1,106.9" fill="#e32c09" stroke="#e32c09" stroke-width="0.4"/>
<polygon points="606.5,110.5 609.5,110.6 606.8,108.7 603.8,108.6" fill="#df3c07" stroke="#df3c07" stroke-width="0.4"/>
<polygon points="603.8,108.6 606.8,108.7 604.2,106.9 601.2,106.8" fill="#e03907" stroke="#e03907" stroke-width="0.4"/>
<polygon points="603.4,110.6 609.5,110.6 604.2,106.9 598.1,106.9" fill="none" stroke="#101010" stroke-width="0.85"/>
<polygon points="490.3,138.2 493.6,135.0 491.4,135.1 488.1,138.3" fill="#ceff51" stroke="#ceff51" stroke-width="0.4"/>
<polygon points="488.1,138.3 491.4,135.1 489.2,135.5 485.9,138.6" fill="#baff4d" stroke="#baff4d" stroke-width="0.4"/>
<polygon points="493.6,135.0 496.9,131.9 494.7,132.1 491.4,135.1" fill="#e0ff4f" stroke="#e0ff4f" stroke-width="0.4"/>
<polygon points="491.4,135.1 494.7,132.1 492.5,132.4 489.2,135.5" fill="#ccff4b" stroke="#ccff4b" stroke-width="0.4"/>
<polygon points="490.3,138.2 496.9,131.9 492.5,132.4 485.9,138.6" fill="none" stroke="#101010" stroke-width="0.85"/>
<polygon points="591.9,107.3 595.0,107.1 592.4,105.4 589.3,105.7" fill="#ea160d" stroke="#ea160d" stroke-width="0.4"/>
<polygon points="589.3,105.7 592.4,105.4 589.8,104.0 586.7,104.3" fill="#ea160e" stroke="#ea160e" stroke-width="0.4"/>
<polygon points="595.0,107.1 598.1,106.9 595.5,105.3 592.4,105.4" fill="#e71f0b" stroke="#e71f0b" stroke-width="0.4"/>
<polygon points="592.4,105.4 595.5,105.3 592.8,103.8 589.8,104.0" fill="#e71f0b" stroke="#e71f0b" stroke-width="0.4"/>
<polygon points="591.9,107.3 598.1,106.9 592.8,103.8 586.7,104.3" fill="none" stroke="#101010" stroke-width="0.85"/>
<polygon points="514.8,121.0 518.1,118.6 515.7,118.5 512.4,120.9" fill="#ffaf45" stroke="#ffaf45" stroke-width="0.4"/>
<polygon points="512.4,120.9 515.7,118.5 513.4,118.5 510.1,120.9" fill="#ffbe42" stroke="#ffbe42" stroke-width="0.4"/>
<polygon points="518.1,118.6 521.4,116.3 519.0,116.2 515.7,118.5" fill="#ffa141" stroke="#ffa141" stroke-width="0.4"/>
<polygon points="515.7,118.5 519.0,116.2 516.7,116.2 513.4,118.5" fill="#ffb03e" stroke="#ffb03e" stroke-width="0.4"/>
<polygon points="514.8,121.0 521.4,116.3 516.7,116.2 510.1,120.9" fill="none" stroke="#101010" stroke-width="0.85"/>
<polygon points="550.8,107.2 554.1,105.8 551.6,105.1 548.3,106.5" fill="#ff2c2a" stroke="#ff2c2a" stroke-width="0.4"/>
<polygon points="548.3,106.5 551.6,105.1 549.1,104.6 545.9,105.9" fill="#ff3529" stroke="#ff3529" stroke-width="0.4"/>
<polygon points="554.1,105.8 557.3,104.6 554.8,103.9 551.6,105.1" fill="#fe2625" stroke="#fe2625" stroke-width="0.4"/>
<polygon points="551.6,105.1 554.8,103.9 552.3,103.3 549.1,104.6" fill="#fd2f24" stroke="#fd2f24" stroke-width="0.4"/>
<polygon points="550.8,107.2 557.3,104.6 552.3,103.3 545.9,105.9" fill="none" stroke="#101010" stroke-width="0.85"/>
<polygon points="631.5,125.9 634.5,126.4 631.8,123.6 628.9,123.1" fill="#d2a203" stroke="#d2a203" stroke-width="0.4"/>
<polygon points="628.9,123.1 631.8,123.6 629.1,120.9 626.2,120.4" fill="#d39503" stroke="#d39503" stroke-width="0.4"/>
<polygon points="634.5,126.4 637.4,127.0 634.7,124.1 631.8,123.6" fill="#cfb402" stroke="#cfb402" stroke-width="0.4"/>
<polygon points="631.8,123.6 634.7,124.1 632.0,121.5 629.1,120.9" fill="#d0a702" stroke="#d0a702" stroke-width="0.4"/>
<polygon points="631.5,125.9 637.4,127.0 632.0,121.5 626.2,120.4" fill="none" stroke="#101010" stroke-width="0.85"/>
<polygon points="648.1,139.8 651.0,140.5 648.3,137.1 645.4,136.4" fill="#8bca01" stroke="#8bca01" stroke-width="0.4"/>
<polygon points="645.4,136.4 648.3,137.1 645.6,133.8 642.8,133.1" fill="#9fca01" stroke="#9fca01" stroke-width="0.4"/>
<polygon points="651.0,140.5 653.8,141.3 651.1,137.9 648.3,137.1" fill="#72c701" stroke="#72c701" stroke-width="0.4"/>
<polygon points="648.3,137.1 651.1,137.9 648.4,134.6 645.6,133.8" fill="#86c801" stroke="#86c801" stroke-width="0.4"/>
<polygon points="648.1,139.8 653.8,141.3 648.4,134.6 642.8,133.1" fill="none" stroke="#101010" stroke-width="0.85"/>
<polygon points="483.7,144.9 487.0,141.5 484.8,141.6 481.5,145.1" fill="#a9ff56" stroke="#a9ff56" stroke-width="0.4"/>
<polygon points="481.5,145.1 484.8,141.6 482.6,142.0 479.3,145.4" fill="#94ff52" stroke="#94ff52" stroke-width="0.4"/>
<polygon points="487.0,141.5 490.3,138.2 488.1,138.3 484.8,141.6" fill="#bcff54" stroke="#bcff54" stroke-width="0.4"/>
<polygon points="484.8,141.6 488.1,138.3 485.9,138.6 482.6,142.0" fill="#a7ff50" stroke="#a7ff50" stroke-width="0.4"/>
<polygon points="483.7,144.9 490.3,138.2 485.9,138.6 479.3,145.4" fill="none" stroke="#101010" stroke-width="0.85"/>
<polygon points="532.8,112.7 536.1,110.8 533.6,110.4 530.3,112.3" fill="#ff6439" stroke="#ff6439" stroke-width="0.4"/>
<polygon points="530.3,112.3 533.6,110.4 531.2,110.2 527.9,112.1" fill="#ff6f37" stroke="#ff6f37" stroke-width="0.4"/>
<polygon points="536.1,110.8 539.3,109.1 536.9,108.7 533.6,110.4" fill="#ff5935" stroke="#ff5935" stroke-width="0.4"/>
<polygon points="533.6,110.4 536.9,108.7 534.5,108.4 531.2,110.2" fill="#ff6533" stroke="#ff6533" stroke-width="0.4"/>
<polygon points="532.8,112.7 539.3,109.1 534.5,108.4 527.9,112.1" fill="none" stroke="#101010" stroke-width="0.85"/>
<polygon points="477.0,152.2 480.4,148.5 478.2,148.7 474.9,152.3" fill="#81ff5b" stroke="#81ff5b" stroke-width="0.4"/>
<polygon points="474.9,152.3 478.2,148.7 476.0,149.0 472.8,152.6" fill="#6bff56" stroke="#6bff56" stroke-width="0.4"/>
<polygon points="480.4,148.5 483.7,144.9 481.5,145.1 478.2,148.7" fill="#95ff59" stroke="#95ff59" stroke-width="0.4"/>
<polygon points="478.2,148.7 481.5,145.1 479.3,145.4 476.0,149.0" fill="#80ff54" stroke="#80ff54" stroke-width="0.4"/>
<polygon points="477.0,152.2 483.7,144.9 479.3,145.4 472.8,152.6" fill="none" stroke="#101010" stroke-width="0.85"/>
<polygon points="562.4,106.4 565.6,105.3 563.1,104.3 559.8,105.4" fill="#fc2323" stroke="#fc2323" stroke-width="0.4"/>
<polygon points="559.8,105.4 563.1,104.3 560.5,103.5 557.3,104.6" fill="#fc2222" stroke="#fc2222" stroke-width="0.4"/>
<polygon points="565.6,105.3 568.8,104.3 566.3,103.3 563.1,104.3" fill="#fa1e1e" stroke="#fa1e1e" stroke-width="0.4"/>
<polygon points="563.1,104.3 566.3,103.3 563.7,102.5 560.5,103.5" fill="#f91e1e" stroke="#f91e1e" stroke-width="0.4"/>
<polygon points="562.4,106.4 568.8,104.3 563.7,102.5 557.3,104.6" fill="none" stroke="#101010" stroke-width="0.85"/>
<polygon points="620.2,119.8 623.2,120.0 620.5,117.5 617.5,117.3" fill="#da6905" stroke="#da6905" stroke-width="0.4"/>
<polygon points="617.5,117.3 620.5,117.5 617.8,115.1 614.8,114.9" fill="#db5f05" stroke="#db5f05" stroke-width="0.4"/>
<polygon points="623.2,120.0 626.2,120.4 623.5,117.9 620.5,117.5" fill="#d77804" stroke="#d77804" stroke-width="0.4"/>
<polygon points="620.5,117.5 623.5,117.9 620.8,115.5 617.8,115.1" fill="#d76e04" stroke="#d76e04" stroke-width="0.4"/>
<polygon points="620.2,119.8 626.2,120.4 620.8,115.5 614.8,114.9" fill="none" stroke="#101010" stroke-width="0.85"/>
<polygon points="508.1,126.2 511.4,123.5 509.1,123.4 505.8,126.1" fill="#ffcc4d" stroke="#ffcc4d" stroke-width="0.4"/>
<polygon points="505.8,126.1 509.1,123.4 506.8,123.5 503.5,126.2" fill="#ffdb49" stroke="#ffdb49" stroke-width="0.4"/>
<polygon points="511.4,123.5 514.8,121.0 512.4,120.9 509.1,123.4" fill="#ffbd49" stroke="#ffbd49" stroke-width="0.4"/>
<polygon points="509.1,123.4 512.4,120.9 510.1,120.9 506.8,123.5" fill="#ffcc45" stroke="#ffcc45" stroke-width="0.4"/>
<polygon points="508.1,126.2 514.8,121.0 510.1,120.9 503.5,126.2" fill="none" stroke="#101010" stroke-width="0.85"/>
<polygon points="574.0,106.8 577.2,106.0 574.6,104.7 571.4,105.5" fill="#f71b1b" stroke="#f71b1b" stroke-width="0.4"/>
<polygon points="571.4,105.5 574.6,104.7 572.0,103.5 568.8,104.3" fill="#f71b1b" stroke="#f71b1b" stroke-width="0.4"/>
<polygon points="577.2,106.0 580.4,105.3 577.8,104.0 574.6,104.7" fill="#f41717" stroke="#f41717" stroke-width="0.4"/>
<polygon points="574.6,104.7 577.8,104.0 575.2,102.8 572.0,103.5" fill="#f41717" stroke="#f41717" stroke-width="0.4"/>
<polygon points="574.0,106.8 580.4,105.3 575.2,102.8 568.8,104.3" fill="none" stroke="#101010" stroke-width="0.85"/>
<polygon points="608.7,114.8 611.8,114.8 609.1,112.6 606.1,112.6" fill="#e23b08" stroke="#e23b08" stroke-width="0.4"/>
<polygon points="606.1,112.6 609.1,112.6 606.5,110.5 603.4,110.6" fill="#e23508" stroke="#e23508" stroke-width="0.4"/>
<polygon points="611.8,114.8 614.8,114.9 612.2,112.7 609.1,112.6" fill="#df4807" stroke="#df4807" stroke-width="0.4"/>
<polygon points="609.1,112.6 612.2,112.7 609.5,110.6 606.5,110.5" fill="#df4107" stroke="#df4107" stroke-width="0.4"/>
<polygon points="608.7,114.8 614.8,114.9 609.5,110.6 603.4,110.6" fill="none" stroke="#101010" stroke-width="0.85"/>
<polygon points="636.9,132.0 639.9,132.5 637.2,129.4 634.2,128.9" fill="#d1c002" stroke="#d1c002" stroke-width="0.4"/>
<polygon points="634.2,128.9 637.2,129.4 634.5,126.4 631.5,125.9" fill="#d2b003" stroke="#d2b003" stroke-width="0.4"/>
<polygon points="639.9,132.5 642.8,133.1 640.1,130.0 637.2,129.4" fill="#cace02" stroke="#cace02" stroke-width="0.4"/>
<polygon points="637.2,129.4 640.1,130.0 637.4,127.0 634.5,126.4" fill="#cfc202" stroke="#cfc202" stroke-width="0.4"/>
<polygon points="636.9,132.0 642.8,133.1 637.4,127.0 631.5,125.9" fill="none" stroke="#101010" stroke-width="0.85"/>
<polygon points="544.3,110.3 547.6,108.6 545.1,108.0 541.8,109.6" fill="#ff3c34" stroke="#ff3c34" stroke-width="0.4"/>
<polygon points="541.8,109.6 545.1,108.0 542.6,107.4 539.3,109.1" fill="#ff4532" stroke="#ff4532" stroke-width="0.4"/>
<polygon points="547.6,108.6 550.8,107.2 548.3,106.5 545.1,108.0" fill="#ff332f" stroke="#ff332f" stroke-width="0.4"/>
<polygon points="545.1,108.0 548.3,106.5 545.9,105.9 542.6,107.4" fill="#ff3c2d" stroke="#ff3c2d" stroke-width="0.4"/>
<polygon points="544.3,110.3 550.8,107.2 545.9,105.9 539.3,109.1" fill="none" stroke="#101010" stroke-width="0.85"/>
<polygon points="526.2,116.9 529.5,114.7 527.1,114.3 523.8,116.5" fill="#ff7c43" stroke="#ff7c43" stroke-width="0.4"/>
<polygon points="523.8,116.5 527.1,114.3 524.7,114.1 521.4,116.3" fill="#ff8740" stroke="#ff8740" stroke-width="0.4"/>
<polygon points="529.5,114.7 532.8,112.7 530.3,112.3 527.1,114.3" fill="#ff6f3e" stroke="#ff6f3e" stroke-width="0.4"/>
<polygon points="527.1,114.3 530.3,112.3 527.9,112.1 524.7,114.1" fill="#ff7b3b" stroke="#ff7b3b" stroke-width="0.4"/>
<polygon points="526.2,116.9 532.8,112.7 527.9,112.1 521.4,116.3" fill="none" stroke="#101010" stroke-width="0.85"/>
<polygon points="585.6,108.3 588.8,107.8 586.1,106.2 583.0,106.7" fill="#f11313" stroke="#f11313" stroke-width="0.4"/>
<polygon points="583.0,106.7 586.1,106.2 583.5,104.7 580.4,105.3" fill="#f11313" stroke="#f11313" stroke-width="0.4"/>
<polygon points="588.8,107.8 591.9,107.3 589.3,105.7 586.1,106.2" fill="#ee1010" stroke="#ee1010" stroke-width="0.4"/>
<polygon points="586.1,106.2 589.3,105.7 586.7,104.3 583.5,104.7" fill="#ee1010" stroke="#ee1010" stroke-width="0.4"/>
<polygon points="585.6,108.3 591.9,107.3 586.7,104.3 580.4,105.3" fill="none" stroke="#101010" stroke-width="0.85"/>
<polygon points="597.2,111.0 600.3,110.7 597.7,108.8 594.5,109.1" fill="#ea1b0d" stroke="#ea1b0d" stroke-width="0.4"/>
<polygon points="594.5,109.1 597.7,108.8 595.0,107.1 591.9,107.3" fill="#ea180d" stroke="#ea180d" stroke-width="0.4"/>
<polygon points="600.3,110.7 603.4,110.6 600.7,108.7 597.7,108.8" fill="#e6240b" stroke="#e6240b" stroke-width="0.4"/>
<polygon points="597.7,108.8 600.7,108.7 598.1,106.9 595.0,107.1" fill="#e7210b" stroke="#e7210b" stroke-width="0.4"/>
<polygon points="597.2,111.0 603.4,110.6 598.1,106.9 591.9,107.3" fill="none" stroke="#101010" stroke-width="0.85"/>
<polygon points="501.5,131.9 504.8,129.0 502.5,128.9 499.2,131.9" fill="#ffec54" stroke="#ffec54" stroke-width="0.4"/>
<polygon points="499.2,131.9 502.5,128.9 500.2,129.0 496.9,131.9" fill="#fffb50" stroke="#fffb50" stroke-width="0.4"/>
<polygon points="504.8,129.0 508.1,126.2 505.8,126.1 502.5,128.9" fill="#ffdc50" stroke="#ffdc50" stroke-width="0.4"/>
<polygon points="502.5,128.9 505.8,126.1 503.5,126.2 500.2,129.0" fill="#ffeb4c" stroke="#ffeb4c" stroke-width="0.4"/>
<polygon points="501.5,131.9 508.1,126.2 503.5,126.2 496.9,131.9" fill="none" stroke="#101010" stroke-width="0.85"/>
<polygon points="625.6,125.3 628.6,125.5 625.9,122.7 622.9,122.5" fill="#d98104" stroke="#d98104" stroke-width="0.4"/>
<polygon points="622.9,122.5 625.9,122.7 623.2,120.0 620.2,119.8" fill="#d97405" stroke="#d97405" stroke-width="0.4"/>
<polygon points="628.6,125.5 631.5,125.9 628.9,123.1 625.9,122.7" fill="#d69103" stroke="#d69103" stroke-width="0.4"/>
<polygon points="625.9,122.7 628.9,123.1 626.2,120.4 623.2,120.0" fill="#d68404" stroke="#d68404" stroke-width="0.4"/>
<polygon points="625.6,125.3 631.5,125.9 626.2,120.4 620.2,119.8" fill="none" stroke="#101010" stroke-width="0.85"/>
<polygon points="555.9,108.9 559.2,107.6 556.6,106.6 553.4,108.0" fill="#ff2c2c" stroke="#ff2c2c" stroke-width="0.4"/>
<polygon points="553.4,108.0 556.6,106.6 554.1,105.8 550.8,107.2" fill="#ff2b2b" stroke="#ff2b2b" stroke-width="0.4"/>
<polygon points="559.2,107.6 562.4,106.4 559.8,105.4 556.6,106.6" fill="#ff2727" stroke="#ff2727" stroke-width="0.4"/>
<polygon points="556.6,106.6 559.8,105.4 557.3,104.6 554.1,105.8" fill="#fe2626" stroke="#fe2626" stroke-width="0.4"/>
<polygon points="555.9,108.9 562.4,106.4 557.3,104.6 550.8,107.2" fill="none" stroke="#101010" stroke-width="0.85"/>
<polygon points="494.8,138.2 498.1,135.0 495.9,134.9 492.5,138.1" fill="#f0ff5a" stroke="#f0ff5a" stroke-width="0.4"/>
<polygon points="492.5,138.1 495.9,134.9 493.6,135.0 490.3,138.2" fill="#e0ff56" stroke="#e0ff56" stroke-width="0.4"/>
<polygon points="498.1,135.0 501.5,131.9 499.2,131.9 495.9,134.9" fill="#fffd57" stroke="#fffd57" stroke-width="0.4"/>
<polygon points="495.9,134.9 499.2,131.9 496.9,131.9 493.6,135.0" fill="#f2ff53" stroke="#f2ff53" stroke-width="0.4"/>
<polygon points="494.8,138.2 501.5,131.9 496.9,131.9 490.3,138.2" fill="none" stroke="#101010" stroke-width="0.85"/>
<polygon points="519.5,121.6 522.8,119.2 520.4,118.8 517.1,121.2" fill="#ff974c" stroke="#ff974c" stroke-width="0.4"/>
<polygon points="517.1,121.2 520.4,118.8 518.1,118.6 514.8,121.0" fill="#ffa248" stroke="#ffa248" stroke-width="0.4"/>
<polygon points="522.8,119.2 526.2,116.9 523.8,116.5 520.4,118.8" fill="#ff8947" stroke="#ff8947" stroke-width="0.4"/>
<polygon points="520.4,118.8 523.8,116.5 521.4,116.3 518.1,118.6" fill="#ff9444" stroke="#ff9444" stroke-width="0.4"/>
<polygon points="519.5,121.6 526.2,116.9 521.4,116.3 514.8,121.0" fill="none" stroke="#101010" stroke-width="0.85"/>
<polygon points="642.4,138.7 645.3,139.2 642.6,135.7 639.7,135.3" fill="#bbd002" stroke="#bbd002" stroke-width="0.4"/>
<polygon points="639.7,135.3 642.6,135.7 639.9,132.5 636.9,132.0" fill="#cfd002" stroke="#cfd002" stroke-width="0.4"/>
<polygon points="645.3,139.2 648.1,139.8 645.4,136.4 642.6,135.7" fill="#a3cd02" stroke="#a3cd02" stroke-width="0.4"/>
<polygon points="642.6,135.7 645.4,136.4 642.8,133.1 639.9,132.5" fill="#b7cd02" stroke="#b7cd02" stroke-width="0.4"/>
<polygon points="642.4,138.7 648.1,139.8 642.8,133.1 636.9,132.0" fill="none" stroke="#101010" stroke-width="0.85"/>
<polygon points="537.7,113.9 541.0,112.0 538.5,111.3 535.2,113.2" fill="#ff513e" stroke="#ff513e" stroke-width="0.4"/>
<polygon points="535.2,113.2 538.5,111.3 536.1,110.8 532.8,112.7" fill="#ff593c" stroke="#ff593c" stroke-width="0.4"/>
<polygon points="541.0,112.0 544.3,110.3 541.8,109.6 538.5,111.3" fill="#ff4639" stroke="#ff4639" stroke-width="0.4"/>
<polygon points="538.5,111.3 541.8,109.6 539.3,109.1 536.1,110.8" fill="#ff4f37" stroke="#ff4f37" stroke-width="0.4"/>
<polygon points="537.7,113.9 544.3,110.3 539.3,109.1 532.8,112.7" fill="none" stroke="#101010" stroke-width="0.85"/>
<polygon points="614.1,119.7 617.2,119.7 614.5,117.2 611.4,117.2" fill="#e14d08" stroke="#e14d08" stroke-width="0.4"/>
<polygon points="611.4,117.2 614.5,117.2 611.8,114.8 608.7,114.8" fill="#e14308" stroke="#e14308" stroke-width="0.4"/>
<polygon points="617.2,119.7 620.2,119.8 617.5,117.3 614.5,117.2" fill="#dd5a06" stroke="#dd5a06" stroke-width="0.4"/>
<polygon points="614.5,117.2 617.5,117.3 614.8,114.9 611.8,114.8" fill="#de5006" stroke="#de5006" stroke-width="0.4"/>
<polygon points="614.1,119.7 620.2,119.8 614.8,114.9 608.7,114.8" fill="none" stroke="#101010" stroke-width="0.85"/>
<polygon points="567.6,108.8 570.8,107.7 568.2,106.4 565.0,107.5" fill="#fd2323" stroke="#fd2323" stroke-width="0.4"/>
<polygon points="565.0,107.5 568.2,106.4 565.6,105.3 562.4,106.4" fill="#fd2323" stroke="#fd2323" stroke-width="0.4"/>
<polygon points="570.8,107.7 574.0,106.8 571.4,105.5 568.2,106.4" fill="#fa1f1f" stroke="#fa1f1f" stroke-width="0.4"/>
<polygon points="568.2,106.4 571.4,105.5 568.8,104.3 565.6,105.3" fill="#fa1f1f" stroke="#fa1f1f" stroke-width="0.4"/>
<polygon points="567.6,108.8 574.0,106.8 568.8,104.3 562.4,106.4" fill="none" stroke="#101010" stroke-width="0.85"/>
<polygon points="488.1,145.0 491.5,141.5 489.2,141.4 485.9,144.9" fill="#ccff5f" stroke="#ccff5f" stroke-width="0.4"/>
<polygon points="485.9,144.9 489.2,141.4 487.0,141.5 483.7,144.9" fill="#bbff5b" stroke="#bbff5b" stroke-width="0.4"/>
<polygon points="491.5,141.5 494.8,138.2 492.5,138.1 489.2,141.4" fill="#deff5d" stroke="#deff5d" stroke-width="0.4"/>
<polygon points="489.2,141.4 492.5,138.1 490.3,138.2 487.0,141.5" fill="#ceff58" stroke="#ceff58" stroke-width="0.4"/>
<polygon points="488.1,145.0 494.8,138.2 490.3,138.2 483.7,144.9" fill="none" stroke="#101010" stroke-width="0.85"/>
<polygon points="602.6,115.2 605.7,115.0 603.0,112.8 599.9,113.1" fill="#e9260c" stroke="#e9260c" stroke-width="0.4"/>
<polygon points="599.9,113.1 603.0,112.8 600.3,110.7 597.2,111.0" fill="#e9200d" stroke="#e9200d" stroke-width="0.4"/>
<polygon points="605.7,115.0 608.7,114.8 606.1,112.6 603.0,112.8" fill="#e5300a" stroke="#e5300a" stroke-width="0.4"/>
<polygon points="603.0,112.8 606.1,112.6 603.4,110.6 600.3,110.7" fill="#e6290a" stroke="#e6290a" stroke-width="0.4"/>
<polygon points="602.6,115.2 608.7,114.8 603.4,110.6 597.2,111.0" fill="none" stroke="#101010" stroke-width="0.85"/>
<polygon points="579.2,109.8 582.4,109.0 579.8,107.4 576.6,108.2" fill="#f71b1b" stroke="#f71b1b" stroke-width="0.4"/>
<polygon points="576.6,108.2 579.8,107.4 577.2,106.0 574.0,106.8" fill="#f71b1b" stroke="#f71b1b" stroke-width="0.4"/>
<polygon points="582.4,109.0 585.6,108.3 583.0,106.7 579.8,107.4" fill="#f41717" stroke="#f41717" stroke-width="0.4"/>
<polygon points="579.8,107.4 583.0,106.7 580.4,105.3 577.2,106.0" fill="#f41717" stroke="#f41717" stroke-width="0.4"/>
<polygon points="579.2,109.8 585.6,108.3 580.4,105.3 574.0,106.8" fill="none" stroke="#101010" stroke-width="0.85"/>
<polygon points="512.8,126.8 516.2,124.1 513.8,123.7 510.5,126.4" fill="#ffb454" stroke="#ffb454" stroke-width="0.4"/>
<polygon points="510.5,126.4 513.8,123.7 511.4,123.5 508.1,126.2" fill="#ffbf50" stroke="#ffbf50" stroke-width="0.4"/>
<polygon points="516.2,124.1 519.5,121.6 517.1,121.2 513.8,123.7" fill="#ffa550" stroke="#ffa550" stroke-width="0.4"/>
<polygon points="513.8,123.7 517.1,121.2 514.8,121.0 511.4,123.5" fill="#ffb04c" stroke="#ffb04c" stroke-width="0.4"/>
<polygon points="512.8,126.8 519.5,121.6 514.8,121.0 508.1,126.2" fill="none" stroke="#101010" stroke-width="0.85"/>
<polygon points="590.9,111.9 594.1,111.4 591.4,109.5 588.3,110.0" fill="#f01313" stroke="#f01313" stroke-width="0.4"/>
<polygon points="588.3,110.0 591.4,109.5 588.8,107.8 585.6,108.3" fill="#f11313" stroke="#f11313" stroke-width="0.4"/>
<polygon points="594.1,111.4 597.2,111.0 594.5,109.1 591.4,109.5" fill="#ed1310" stroke="#ed1310" stroke-width="0.4"/>
<polygon points="591.4,109.5 594.5,109.1 591.9,107.3 588.8,107.8" fill="#ed1010" stroke="#ed1010" stroke-width="0.4"/>
<polygon points="590.9,111.9 597.2,111.0 591.9,107.3 585.6,108.3" fill="none" stroke="#101010" stroke-width="0.85"/>
<polygon points="481.4,152.2 484.8,148.5 482.5,148.4 479.2,152.1" fill="#a6ff63" stroke="#a6ff63" stroke-width="0.4"/>
<polygon points="479.2,152.1 482.5,148.4 480.4,148.5 477.0,152.2" fill="#94ff5f" stroke="#94ff5f" stroke-width="0.4"/>
<polygon points="484.8,148.5 488.1,145.0 485.9,144.9 482.5,148.4" fill="#b9ff61" stroke="#b9ff61" stroke-width="0.4"/>
<polygon points="482.5,148.4 485.9,144.9 483.7,144.9 480.4,148.5" fill="#a8ff5d" stroke="#a8ff5d" stroke-width="0.4"/>
<polygon points="481.4,152.2 488.1,145.0 483.7,144.9 477.0,152.2" fill="none" stroke="#101010" stroke-width="0.85"/>
<polygon points="631.0,131.4 634.0,131.6 631.3,128.5 628.3,128.3" fill="#d7a004" stroke="#d7a004" stroke-width="0.4"/>
<polygon points="628.3,128.3 631.3,128.5 628.6,125.5 625.6,125.3" fill="#d89004" stroke="#d89004" stroke-width="0.4"/>
<polygon points="634.0,131.6 636.9,132.0 634.2,128.9 631.3,128.5" fill="#d4b003" stroke="#d4b003" stroke-width="0.4"/>
<polygon points="631.3,128.5 634.2,128.9 631.5,125.9 628.6,125.5" fill="#d5a003" stroke="#d5a003" stroke-width="0.4"/>
<polygon points="631.0,131.4 636.9,132.0 631.5,125.9 625.6,125.3" fill="none" stroke="#101010" stroke-width="0.85"/>
<polygon points="549.3,112.0 552.6,110.4 550.1,109.5 546.8,111.1" fill="#ff3737" stroke="#ff3737" stroke-width="0.4"/>
<polygon points="546.8,111.1 550.1,109.5 547.6,108.6 544.3,110.3" fill="#ff3535" stroke="#ff3535" stroke-width="0.4"/>
<polygon points="552.6,110.4 555.9,108.9 553.4,108.0 550.1,109.5" fill="#ff3131" stroke="#ff3131" stroke-width="0.4"/>
<polygon points="550.1,109.5 553.4,108.0 550.8,107.2 547.6,108.6" fill="#ff3030" stroke="#ff3030" stroke-width="0.4"/>
<polygon points="549.3,112.0 555.9,108.9 550.8,107.2 544.3,110.3" fill="none" stroke="#101010" stroke-width="0.85"/>
<polygon points="531.0,118.0 534.4,115.9 531.9,115.2 528.6,117.4" fill="#ff6a48" stroke="#ff6a48" stroke-width="0.4"/>
<polygon points="528.6,117.4 531.9,115.2 529.5,114.7 526.2,116.9" fill="#ff7245" stroke="#ff7245" stroke-width="0.4"/>
<polygon points="534.4,115.9 537.7,113.9 535.2,113.2 531.9,115.2" fill="#ff5d43" stroke="#ff5d43" stroke-width="0.4"/>
<polygon points="531.9,115.2 535.2,113.2 532.8,112.7 529.5,114.7" fill="#ff6541" stroke="#ff6541" stroke-width="0.4"/>
<polygon points="531.0,118.0 537.7,113.9 532.8,112.7 526.2,116.9" fill="none" stroke="#101010" stroke-width="0.85"/>
<polygon points="506.1,132.5 509.5,129.6 507.1,129.2 503.8,132.2" fill="#ffd35c" stroke="#ffd35c" stroke-width="0.4"/>
<polygon points="503.8,132.2 507.1,129.2 504.8,129.0 501.5,131.9" fill="#ffdf58" stroke="#ffdf58" stroke-width="0.4"/>
<polygon points="509.5,129.6 512.8,126.8 510.5,126.4 507.1,129.2" fill="#ffc458" stroke="#ffc458" stroke-width="0.4"/>
<polygon points="507.1,129.2 510.5,126.4 508.1,126.2 504.8,129.0" fill="#ffcf54" stroke="#ffcf54" stroke-width="0.4"/>
<polygon points="506.1,132.5 512.8,126.8 508.1,126.2 501.5,131.9" fill="none" stroke="#101010" stroke-width="0.85"/>
<polygon points="619.5,125.2 622.6,125.2 619.9,122.4 616.8,122.4" fill="#df6507" stroke="#df6507" stroke-width="0.4"/>
<polygon points="616.8,122.4 619.9,122.4 617.2,119.7 614.1,119.7" fill="#e05907" stroke="#e05907" stroke-width="0.4"/>
<polygon points="622.6,125.2 625.6,125.3 622.9,122.5 619.9,122.4" fill="#dc7306" stroke="#dc7306" stroke-width="0.4"/>
<polygon points="619.9,122.4 622.9,122.5 620.2,119.8 617.2,119.7" fill="#dd6606" stroke="#dd6606" stroke-width="0.4"/>
<polygon points="619.5,125.2 625.6,125.3 620.2,119.8 614.1,119.7" fill="none" stroke="#101010" stroke-width="0.85"/>
<polygon points="561.0,111.3 564.3,110.0 561.7,108.7 558.5,110.1" fill="#ff2d2d" stroke="#ff2d2d" stroke-width="0.4"/>
<polygon points="558.5,110.1 561.7,108.7 559.2,107.6 555.9,108.9" fill="#ff2d2d" stroke="#ff2d2d" stroke-width="0.4"/>
<polygon points="564.3,110.0 567.6,108.8 565.0,107.5 561.7,108.7" fill="#ff2828" stroke="#ff2828" stroke-width="0.4"/>
<polygon points="561.7,108.7 565.0,107.5 562.4,106.4 559.2,107.6" fill="#ff2828" stroke="#ff2828" stroke-width="0.4"/>
<polygon points="561.0,111.3 567.6,108.8 562.4,106.4 555.9,108.9" fill="none" stroke="#101010" stroke-width="0.85"/>
<polygon points="636.4,138.1 639.4,138.3 636.7,134.9 633.7,134.6" fill="#d6c404" stroke="#d6c404" stroke-width="0.4"/>
<polygon points="633.7,134.6 636.7,134.9 634.0,131.6 631.0,131.4" fill="#d7b104" stroke="#d7b104" stroke-width="0.4"/>
<polygon points="639.4,138.3 642.4,138.7 639.7,135.3 636.7,134.9" fill="#d2d303" stroke="#d2d303" stroke-width="0.4"/>
<polygon points="636.7,134.9 639.7,135.3 636.9,132.0 634.0,131.6" fill="#d4c103" stroke="#d4c103" stroke-width="0.4"/>
<polygon points="636.4,138.1 642.4,138.7 636.9,132.0 631.0,131.4" fill="none" stroke="#101010" stroke-width="0.85"/>
<polygon points="607.9,120.1 611.0,119.8 608.3,117.3 605.2,117.6" fill="#e8370b" stroke="#e8370b" stroke-width="0.4"/>
<polygon points="605.2,117.6 608.3,117.3 605.7,115.0 602.6,115.2" fill="#e82e0c" stroke="#e82e0c" stroke-width="0.4"/>
<polygon points="611.0,119.8 614.1,119.7 611.4,117.2 608.3,117.3" fill="#e44109" stroke="#e44109" stroke-width="0.4"/>
<polygon points="608.3,117.3 611.4,117.2 608.7,114.8 605.7,115.0" fill="#e5380a" stroke="#e5380a" stroke-width="0.4"/>
<polygon points="607.9,120.1 614.1,119.7 608.7,114.8 602.6,115.2" fill="none" stroke="#101010" stroke-width="0.85"/>
<polygon points="524.4,122.7 527.7,120.3 525.3,119.7 521.9,122.1" fill="#ff8552" stroke="#ff8552" stroke-width="0.4"/>
<polygon points="521.9,122.1 525.3,119.7 522.8,119.2 519.5,121.6" fill="#ff8d4f" stroke="#ff8d4f" stroke-width="0.4"/>
<polygon points="527.7,120.3 531.0,118.0 528.6,117.4 525.3,119.7" fill="#ff774d" stroke="#ff774d" stroke-width="0.4"/>
<polygon points="525.3,119.7 528.6,117.4 526.2,116.9 522.8,119.2" fill="#ff7f4a" stroke="#ff7f4a" stroke-width="0.4"/>
<polygon points="524.4,122.7 531.0,118.0 526.2,116.9 519.5,121.6" fill="none" stroke="#101010" stroke-width="0.85"/>
<polygon points="572.8,111.8 576.0,110.7 573.4,109.1 570.2,110.2" fill="#fd2424" stroke="#fd2424" stroke-width="0.4"/>
<polygon points="570.2,110.2 573.4,109.1 570.8,107.7 567.6,108.8" fill="#fd2424" stroke="#fd2424" stroke-width="0.4"/>
<polygon points="576.0,110.7 579.2,109.8 576.6,108.2 573.4,109.1" fill="#fa1f1f" stroke="#fa1f1f" stroke-width="0.4"/>
<polygon points="573.4,109.1 576.6,108.2 574.0,106.8 570.8,107.7" fill="#fa1f1f" stroke="#fa1f1f" stroke-width="0.4"/>
<polygon points="572.8,111.8 579.2,109.8 574.0,106.8 567.6,108.8" fill="none" stroke="#101010" stroke-width="0.85"/>
<polygon points="499.4,138.8 502.8,135.6 500.4,135.2 497.1,138.4" fill="#fff462" stroke="#fff462" stroke-width="0.4"/>
<polygon points="497.1,138.4 500.4,135.2 498.1,135.0 494.8,138.2" fill="#feff5e" stroke="#feff5e" stroke-width="0.4"/>
<polygon points="502.8,135.6 506.1,132.5 503.8,132.2 500.4,135.2" fill="#ffe45f" stroke="#ffe45f" stroke-width="0.4"/>
<polygon points="500.4,135.2 503.8,132.2 501.5,131.9 498.1,135.0" fill="#ffef5b" stroke="#ffef5b" stroke-width="0.4"/>
<polygon points="499.4,138.8 506.1,132.5 501.5,131.9 494.8,138.2" fill="none" stroke="#101010" stroke-width="0.85"/>
<polygon points="542.7,115.6 546.0,113.8 543.5,112.8 540.2,114.7" fill="#ff4441" stroke="#ff4441" stroke-width="0.4"/>
<polygon points="540.2,114.7 543.5,112.8 541.0,112.0 537.7,113.9" fill="#ff4a40" stroke="#ff4a40" stroke-width="0.4"/>
<polygon points="546.0,113.8 549.3,112.0 546.8,111.1 543.5,112.8" fill="#ff3c3c" stroke="#ff3c3c" stroke-width="0.4"/>
<polygon points="543.5,112.8 546.8,111.1 544.3,110.3 541.0,112.0" fill="#ff3e3a" stroke="#ff3e3a" stroke-width="0.4"/>
<polygon points="542.7,115.6 549.3,112.0 544.3,110.3 537.7,113.9" fill="none" stroke="#101010" stroke-width="0.85"/>
<polygon points="596.3,116.2 599.4,115.6 596.7,113.4 593.6,114.0" fill="#f01712" stroke="#f01712" stroke-width="0.4"/>
<polygon points="593.6,114.0 596.7,113.4 594.1,111.4 590.9,111.9" fill="#f01212" stroke="#f01212" stroke-width="0.4"/>
<polygon points="599.4,115.6 602.6,115.2 599.9,113.1 596.7,113.4" fill="#ec1e0f" stroke="#ec1e0f" stroke-width="0.4"/>
<polygon points="596.7,113.4 599.9,113.1 597.2,111.0 594.1,111.4" fill="#ed180f" stroke="#ed180f" stroke-width="0.4"/>
<polygon points="596.3,116.2 602.6,115.2 597.2,111.0 590.9,111.9" fill="none" stroke="#101010" stroke-width="0.85"/>
<polygon points="584.5,113.4 587.7,112.6 585.1,110.7 581.9,111.5" fill="#f71a1a" stroke="#f71a1a" stroke-width="0.4"/>
<polygon points="581.9,111.5 585.1,110.7 582.4,109.0 579.2,109.8" fill="#f71a1a" stroke="#f71a1a" stroke-width="0.4"/>
<polygon points="587.7,112.6 590.9,111.9 588.3,110.0 585.1,110.7" fill="#f41616" stroke="#f41616" stroke-width="0.4"/>
<polygon points="585.1,110.7 588.3,110.0 585.6,108.3 582.4,109.0" fill="#f41717" stroke="#f41717" stroke-width="0.4"/>
<polygon points="584.5,113.4 590.9,111.9 585.6,108.3 579.2,109.8" fill="none" stroke="#101010" stroke-width="0.85"/>
<polygon points="492.7,145.6 496.0,142.1 493.7,141.7 490.4,145.2" fill="#e7ff68" stroke="#e7ff68" stroke-width="0.4"/>
<polygon points="490.4,145.2 493.7,141.7 491.5,141.5 488.1,145.0" fill="#dbff63" stroke="#dbff63" stroke-width="0.4"/>
<polygon points="496.0,142.1 499.4,138.8 497.1,138.4 493.7,141.7" fill="#f9ff65" stroke="#f9ff65" stroke-width="0.4"/>
<polygon points="493.7,141.7 497.1,138.4 494.8,138.2 491.5,141.5" fill="#edff61" stroke="#edff61" stroke-width="0.4"/>
<polygon points="492.7,145.6 499.4,138.8 494.8,138.2 488.1,145.0" fill="none" stroke="#101010" stroke-width="0.85"/>
<polygon points="625.0,131.2 628.0,131.2 625.3,128.1 622.2,128.1" fill="#de8406" stroke="#de8406" stroke-width="0.4"/>
<polygon points="622.2,128.1 625.3,128.1 622.6,125.2 619.5,125.2" fill="#df7407" stroke="#df7407" stroke-width="0.4"/>
<polygon points="628.0,131.2 631.0,131.4 628.3,128.3 625.3,128.1" fill="#db9105" stroke="#db9105" stroke-width="0.4"/>
<polygon points="625.3,128.1 628.3,128.3 625.6,125.3 622.6,125.2" fill="#db8105" stroke="#db8105" stroke-width="0.4"/>
<polygon points="625.0,131.2 631.0,131.4 625.6,125.3 619.5,125.2" fill="none" stroke="#101010" stroke-width="0.85"/>
<polygon points="554.4,114.4 557.7,112.8 555.2,111.5 551.9,113.1" fill="#ff3838" stroke="#ff3838" stroke-width="0.4"/>
<polygon points="551.9,113.1 555.2,111.5 552.6,110.4 549.3,112.0" fill="#ff3838" stroke="#ff3838" stroke-width="0.4"/>
<polygon points="557.7,112.8 561.0,111.3 558.5,110.1 555.2,111.5" fill="#ff3333" stroke="#ff3333" stroke-width="0.4"/>
<polygon points="555.2,111.5 558.5,110.1 555.9,108.9 552.6,110.4" fill="#ff3232" stroke="#ff3232" stroke-width="0.4"/>
<polygon points="554.4,114.4 561.0,111.3 555.9,108.9 549.3,112.0" fill="none" stroke="#101010" stroke-width="0.85"/>
<polygon points="517.6,127.9 521.0,125.3 518.6,124.6 515.2,127.3" fill="#ffa35b" stroke="#ffa35b" stroke-width="0.4"/>
<polygon points="515.2,127.3 518.6,124.6 516.2,124.1 512.8,126.8" fill="#ffab57" stroke="#ffab57" stroke-width="0.4"/>
<polygon points="521.0,125.3 524.4,122.7 521.9,122.1 518.6,124.6" fill="#ff9456" stroke="#ff9456" stroke-width="0.4"/>
<polygon points="518.6,124.6 521.9,122.1 519.5,121.6 516.2,124.1" fill="#ff9c53" stroke="#ff9c53" stroke-width="0.4"/>
<polygon points="517.6,127.9 524.4,122.7 519.5,121.6 512.8,126.8" fill="none" stroke="#101010" stroke-width="0.85"/>
<polygon points="485.9,152.8 489.3,149.1 487.0,148.8 483.7,152.5" fill="#c3ff6c" stroke="#c3ff6c" stroke-width="0.4"/>
<polygon points="483.7,152.5 487.0,148.8 484.8,148.5 481.4,152.2" fill="#b5ff68" stroke="#b5ff68" stroke-width="0.4"/>
<polygon points="489.3,149.1 492.7,145.6 490.4,145.2 487.0,148.8" fill="#d6ff6a" stroke="#d6ff6a" stroke-width="0.4"/>
<polygon points="487.0,148.8 490.4,145.2 488.1,145.0 484.8,148.5" fill="#c8ff66" stroke="#c8ff66" stroke-width="0.4"/>
<polygon points="485.9,152.8 492.7,145.6 488.1,145.0 481.4,152.2" fill="none" stroke="#101010" stroke-width="0.85"/>
<polygon points="536.0,119.8 539.4,117.6 536.9,116.7 533.5,118.8" fill="#ff5e4c" stroke="#ff5e4c" stroke-width="0.4"/>
<polygon points="533.5,118.8 536.9,116.7 534.4,115.9 531.0,118.0" fill="#ff634a" stroke="#ff634a" stroke-width="0.4"/>
<polygon points="539.4,117.6 542.7,115.6 540.2,114.7 536.9,116.7" fill="#ff5047" stroke="#ff5047" stroke-width="0.4"/>
<polygon points="536.9,116.7 540.2,114.7 537.7,113.9 534.4,115.9" fill="#ff5645" stroke="#ff5645" stroke-width="0.4"/>
<polygon points="536.0,119.8 542.7,115.6 537.7,113.9 531.0,118.0" fill="none" stroke="#101010" stroke-width="0.85"/>
<polygon points="613.4,125.5 616.5,125.3 613.7,122.5 610.6,122.7" fill="#e64f0a" stroke="#e64f0a" stroke-width="0.4"/>
<polygon points="610.6,122.7 613.7,122.5 611.0,119.8 607.9,120.1" fill="#e7420b" stroke="#e7420b" stroke-width="0.4"/>
<polygon points="616.5,125.3 619.5,125.2 616.8,122.4 613.7,122.5" fill="#e35909" stroke="#e35909" stroke-width="0.4"/>
<polygon points="613.7,122.5 616.8,122.4 614.1,119.7 611.0,119.8" fill="#e44d09" stroke="#e44d09" stroke-width="0.4"/>
<polygon points="613.4,125.5 619.5,125.2 614.1,119.7 607.9,120.1" fill="none" stroke="#101010" stroke-width="0.85"/>
<polygon points="566.2,114.3 569.5,113.0 566.9,111.4 563.6,112.7" fill="#ff2e2e" stroke="#ff2e2e" stroke-width="0.4"/>
<polygon points="563.6,112.7 566.9,111.4 564.3,110.0 561.0,111.3" fill="#ff2e2e" stroke="#ff2e2e" stroke-width="0.4"/>
<polygon points="569.5,113.0 572.8,111.8 570.2,110.2 566.9,111.4" fill="#ff2929" stroke="#ff2929" stroke-width="0.4"/>
<polygon points="566.9,111.4 570.2,110.2 567.6,108.8 564.3,110.0" fill="#ff2929" stroke="#ff2929" stroke-width="0.4"/>
<polygon points="566.2,114.3 572.8,111.8 567.6,108.8 561.0,111.3" fill="none" stroke="#101010" stroke-width="0.85"/>
<polygon points="510.9,133.7 514.3,130.7 511.9,130.1 508.5,133.0" fill="#ffc163" stroke="#ffc163" stroke-width="0.4"/>
<polygon points="508.5,133.0 511.9,130.1 509.5,129.6 506.1,132.5" fill="#ffca5f" stroke="#ffca5f" stroke-width="0.4"/>
<polygon points="514.3,130.7 517.6,127.9 515.2,127.3 511.9,130.1" fill="#ffb25f" stroke="#ffb25f" stroke-width="0.4"/>
<polygon points="511.9,130.1 515.2,127.3 512.8,126.8 509.5,129.6" fill="#ffba5b" stroke="#ffba5b" stroke-width="0.4"/>
<polygon points="510.9,133.7 517.6,127.9 512.8,126.8 506.1,132.5" fill="none" stroke="#101010" stroke-width="0.85"/>
<polygon points="601.6,121.0 604.8,120.5 602.1,118.0 598.9,118.5" fill="#ee2811" stroke="#ee2811" stroke-width="0.4"/>
<polygon points="598.9,118.5 602.1,118.0 599.4,115.6 596.3,116.2" fill="#ef1f11" stroke="#ef1f11" stroke-width="0.4"/>
<polygon points="604.8,120.5 607.9,120.1 605.2,117.6 602.1,118.0" fill="#eb2f0e" stroke="#eb2f0e" stroke-width="0.4"/>
<polygon points="602.1,118.0 605.2,117.6 602.6,115.2 599.4,115.6" fill="#ec250e" stroke="#ec250e" stroke-width="0.4"/>
<polygon points="601.6,121.0 607.9,120.1 602.6,115.2 596.3,116.2" fill="none" stroke="#101010" stroke-width="0.85"/>
<polygon points="578.1,115.3 581.3,114.3 578.6,112.4 575.4,113.5" fill="#fc2323" stroke="#fc2323" stroke-width="0.4"/>
<polygon points="575.4,113.5 578.6,112.4 576.0,110.7 572.8,111.8" fill="#fd2323" stroke="#fd2323" stroke-width="0.4"/>
<polygon points="581.3,114.3 584.5,113.4 581.9,111.5 578.6,112.4" fill="#fa1e1e" stroke="#fa1e1e" stroke-width="0.4"/>
<polygon points="578.6,112.4 581.9,111.5 579.2,109.8 576.0,110.7" fill="#fa1f1f" stroke="#fa1f1f" stroke-width="0.4"/>
<polygon points="578.1,115.3 584.5,113.4 579.2,109.8 572.8,111.8" fill="none" stroke="#101010" stroke-width="0.85"/>
<polygon points="589.9,117.6 593.1,116.8 590.4,114.6 587.2,115.4" fill="#f61919" stroke="#f61919" stroke-width="0.4"/>
<polygon points="587.2,115.4 590.4,114.6 587.7,112.6 584.5,113.4" fill="#f61a1a" stroke="#f61a1a" stroke-width="0.4"/>
<polygon points="593.1,116.8 596.3,116.2 593.6,114.0 590.4,114.6" fill="#f31515" stroke="#f31515" stroke-width="0.4"/>
<polygon points="590.4,114.6 593.6,114.0 590.9,111.9 587.7,112.6" fill="#f31616" stroke="#f31616" stroke-width="0.4"/>
<polygon points="589.9,117.6 596.3,116.2 590.9,111.9 584.5,113.4" fill="none" stroke="#101010" stroke-width="0.85"/>
<polygon points="630.4,137.9 633.4,137.9 630.7,134.5 627.7,134.5" fill="#dca806" stroke="#dca806" stroke-width="0.4"/>
<polygon points="627.7,134.5 630.7,134.5 628.0,131.2 625.0,131.2" fill="#dd9506" stroke="#dd9506" stroke-width="0.4"/>
<polygon points="633.4,137.9 636.4,138.1 633.7,134.6 630.7,134.5" fill="#d9b604" stroke="#d9b604" stroke-width="0.4"/>
<polygon points="630.7,134.5 633.7,134.6 631.0,131.4 628.0,131.2" fill="#daa305" stroke="#daa305" stroke-width="0.4"/>
<polygon points="630.4,137.9 636.4,138.1 631.0,131.4 625.0,131.2" fill="none" stroke="#101010" stroke-width="0.85"/>
<polygon points="547.8,118.0 551.1,116.1 548.6,114.9 545.2,116.7" fill="#ff4444" stroke="#ff4444" stroke-width="0.4"/>
<polygon points="545.2,116.7 548.6,114.9 546.0,113.8 542.7,115.6" fill="#ff4343" stroke="#ff4343" stroke-width="0.4"/>
<polygon points="551.1,116.1 554.4,114.4 551.9,113.1 548.6,114.9" fill="#ff3e3e" stroke="#ff3e3e" stroke-width="0.4"/>
<polygon points="548.6,114.9 551.9,113.1 549.3,112.0 546.0,113.8" fill="#ff3d3d" stroke="#ff3d3d" stroke-width="0.4"/>
<polygon points="547.8,118.0 554.4,114.4 549.3,112.0 542.7,115.6" fill="none" stroke="#101010" stroke-width="0.85"/>
<polygon points="529.3,124.4 532.7,122.0 530.2,121.1 526.8,123.5" fill="#ff7a57" stroke="#ff7a57" stroke-width="0.4"/>
<polygon points="526.8,123.5 530.2,121.1 527.7,120.3 524.4,122.7" fill="#ff7f54" stroke="#ff7f54" stroke-width="0.4"/>
<polygon points="532.7,122.0 536.0,119.8 533.5,118.8 530.2,121.1" fill="#ff6b52" stroke="#ff6b52" stroke-width="0.4"/>
<polygon points="530.2,121.1 533.5,118.8 531.0,118.0 527.7,120.3" fill="#ff714f" stroke="#ff714f" stroke-width="0.4"/>
<polygon points="529.3,124.4 536.0,119.8 531.0,118.0 524.4,122.7" fill="none" stroke="#101010" stroke-width="0.85"/>
<polygon points="504.1,139.9 507.5,136.7 505.1,136.1 501.7,139.3" fill="#ffe16a" stroke="#ffe16a" stroke-width="0.4"/>
<polygon points="501.7,139.3 505.1,136.1 502.8,135.6 499.4,138.8" fill="#ffea66" stroke="#ffea66" stroke-width="0.4"/>
<polygon points="507.5,136.7 510.9,133.7 508.5,133.0 505.1,136.1" fill="#ffd166" stroke="#ffd166" stroke-width="0.4"/>
<polygon points="505.1,136.1 508.5,133.0 506.1,132.5 502.8,135.6" fill="#ffda63" stroke="#ffda63" stroke-width="0.4"/>
<polygon points="504.1,139.9 510.9,133.7 506.1,132.5 499.4,138.8" fill="none" stroke="#101010" stroke-width="0.85"/>
<polygon points="618.8,131.6 621.9,131.4 619.2,128.3 616.1,128.5" fill="#e46d09" stroke="#e46d09" stroke-width="0.4"/>
<polygon points="616.1,128.5 619.2,128.3 616.5,125.3 613.4,125.5" fill="#e55d0a" stroke="#e55d0a" stroke-width="0.4"/>
<polygon points="621.9,131.4 625.0,131.2 622.2,128.1 619.2,128.3" fill="#e17808" stroke="#e17808" stroke-width="0.4"/>
<polygon points="619.2,128.3 622.2,128.1 619.5,125.2 616.5,125.3" fill="#e26808" stroke="#e26808" stroke-width="0.4"/>
<polygon points="618.8,131.6 625.0,131.2 619.5,125.2 613.4,125.5" fill="none" stroke="#101010" stroke-width="0.85"/>
<polygon points="559.6,117.3 562.9,115.7 560.3,114.2 557.0,115.8" fill="#ff3939" stroke="#ff3939" stroke-width="0.4"/>
<polygon points="557.0,115.8 560.3,114.2 557.7,112.8 554.4,114.4" fill="#ff3939" stroke="#ff3939" stroke-width="0.4"/>
<polygon points="562.9,115.7 566.2,114.3 563.6,112.7 560.3,114.2" fill="#ff3333" stroke="#ff3333" stroke-width="0.4"/>
<polygon points="560.3,114.2 563.6,112.7 561.0,111.3 557.7,112.8" fill="#ff3333" stroke="#ff3333" stroke-width="0.4"/>
<polygon points="559.6,117.3 566.2,114.3 561.0,111.3 554.4,114.4" fill="none" stroke="#101010" stroke-width="0.85"/>
<polygon points="497.3,146.7 500.7,143.2 498.4,142.6 495.0,146.1" fill="#fcff70" stroke="#fcff70" stroke-width="0.4"/>
<polygon points="495.0,146.1 498.4,142.6 496.0,142.1 492.7,145.6" fill="#f2ff6c" stroke="#f2ff6c" stroke-width="0.4"/>
<polygon points="500.7,143.2 504.1,139.9 501.7,139.3 498.4,142.6" fill="#fff26d" stroke="#fff26d" stroke-width="0.4"/>
<polygon points="498.4,142.6 501.7,139.3 499.4,138.8 496.0,142.1" fill="#fffa69" stroke="#fffa69" stroke-width="0.4"/>
<polygon points="497.3,146.7 504.1,139.9 499.4,138.8 492.7,145.6" fill="none" stroke="#101010" stroke-width="0.85"/>
<polygon points="522.5,129.6 525.9,127.0 523.4,126.0 520.1,128.7" fill="#ff9760" stroke="#ff9760" stroke-width="0.4"/>
<polygon points="520.1,128.7 523.4,126.0 521.0,125.3 517.6,127.9" fill="#ff9c5e" stroke="#ff9c5e" stroke-width="0.4"/>
<polygon points="525.9,127.0 529.3,124.4 526.8,123.5 523.4,126.0" fill="#ff885c" stroke="#ff885c" stroke-width="0.4"/>
<polygon points="523.4,126.0 526.8,123.5 524.4,122.7 521.0,125.3" fill="#ff8d59" stroke="#ff8d59" stroke-width="0.4"/>
<polygon points="522.5,129.6 529.3,124.4 524.4,122.7 517.6,127.9" fill="none" stroke="#101010" stroke-width="0.85"/>
<polygon points="607.1,126.4 610.2,125.9 607.5,123.1 604.4,123.6" fill="#ed3f0f" stroke="#ed3f0f" stroke-width="0.4"/>
<polygon points="604.4,123.6 607.5,123.1 604.8,120.5 601.6,121.0" fill="#ed3210" stroke="#ed3210" stroke-width="0.4"/>
<polygon points="610.2,125.9 613.4,125.5 610.6,122.7 607.5,123.1" fill="#e9460d" stroke="#e9460d" stroke-width="0.4"/>
<polygon points="607.5,123.1 610.6,122.7 607.9,120.1 604.8,120.5" fill="#ea3a0d" stroke="#ea3a0d" stroke-width="0.4"/>
<polygon points="607.1,126.4 613.4,125.5 607.9,120.1 601.6,121.0" fill="none" stroke="#101010" stroke-width="0.85"/>
<polygon points="541.1,122.1 544.4,120.0 541.9,118.7 538.5,120.9" fill="#ff564f" stroke="#ff564f" stroke-width="0.4"/>
<polygon points="538.5,120.9 541.9,118.7 539.4,117.6 536.0,119.8" fill="#ff594e" stroke="#ff594e" stroke-width="0.4"/>
<polygon points="544.4,120.0 547.8,118.0 545.2,116.7 541.9,118.7" fill="#ff4a4a" stroke="#ff4a4a" stroke-width="0.4"/>
<polygon points="541.9,118.7 545.2,116.7 542.7,115.6 539.4,117.6" fill="#ff4c48" stroke="#ff4c48" stroke-width="0.4"/>
<polygon points="541.1,122.1 547.8,118.0 542.7,115.6 536.0,119.8" fill="none" stroke="#101010" stroke-width="0.85"/>
<polygon points="571.5,117.8 574.8,116.5 572.1,114.7 568.9,116.0" fill="#ff2d2d" stroke="#ff2d2d" stroke-width="0.4"/>
<polygon points="568.9,116.0 572.1,114.7 569.5,113.0 566.2,114.3" fill="#ff2e2e" stroke="#ff2e2e" stroke-width="0.4"/>
<polygon points="574.8,116.5 578.1,115.3 575.4,113.5 572.1,114.7" fill="#ff2828" stroke="#ff2828" stroke-width="0.4"/>
<polygon points="572.1,114.7 575.4,113.5 572.8,111.8 569.5,113.0" fill="#ff2828" stroke="#ff2828" stroke-width="0.4"/>
<polygon points="571.5,117.8 578.1,115.3 572.8,111.8 566.2,114.3" fill="none" stroke="#101010" stroke-width="0.85"/>
<polygon points="595.3,122.4 598.5,121.6 595.8,119.1 592.6,119.9" fill="#f52017" stroke="#f52017" stroke-width="0.4"/>
<polygon points="592.6,119.9 595.8,119.1 593.1,116.8 589.9,117.6" fill="#f51818" stroke="#f51818" stroke-width="0.4"/>
<polygon points="598.5,121.6 601.6,121.0 598.9,118.5 595.8,119.1" fill="#f12314" stroke="#f12314" stroke-width="0.4"/>
<polygon points="595.8,119.1 598.9,118.5 596.3,116.2 593.1,116.8" fill="#f21a15" stroke="#f21a15" stroke-width="0.4"/>
<polygon points="595.3,122.4 601.6,121.0 596.3,116.2 589.9,117.6" fill="none" stroke="#101010" stroke-width="0.85"/>
<polygon points="490.5,154.0 493.9,150.3 491.6,149.6 488.2,153.3" fill="#d9ff74" stroke="#d9ff74" stroke-width="0.4"/>
<polygon points="488.2,153.3 491.6,149.6 489.3,149.1 485.9,152.8" fill="#cfff70" stroke="#cfff70" stroke-width="0.4"/>
<polygon points="493.9,150.3 497.3,146.7 495.0,146.1 491.6,149.6" fill="#ebff72" stroke="#ebff72" stroke-width="0.4"/>
<polygon points="491.6,149.6 495.0,146.1 492.7,145.6 489.3,149.1" fill="#e1ff6e" stroke="#e1ff6e" stroke-width="0.4"/>
<polygon points="490.5,154.0 497.3,146.7 492.7,145.6 485.9,152.8" fill="none" stroke="#101010" stroke-width="0.85"/>
<polygon points="583.4,119.5 586.6,118.5 584.0,116.3 580.7,117.4" fill="#fc2121" stroke="#fc2121" stroke-width="0.4"/>
<polygon points="580.7,117.4 584.0,116.3 581.3,114.3 578.1,115.3" fill="#fc2222" stroke="#fc2222" stroke-width="0.4"/>
<polygon points="586.6,118.5 589.9,117.6 587.2,115.4 584.0,116.3" fill="#f91d1d" stroke="#f91d1d" stroke-width="0.4"/>
<polygon points="584.0,116.3 587.2,115.4 584.5,113.4 581.3,114.3" fill="#f91e1e" stroke="#f91e1e" stroke-width="0.4"/>
<polygon points="583.4,119.5 589.9,117.6 584.5,113.4 578.1,115.3" fill="none" stroke="#101010" stroke-width="0.85"/>
<polygon points="624.3,138.3 627.4,138.0 624.6,134.6 621.5,134.9" fill="#e29108" stroke="#e29108" stroke-width="0.4"/>
<polygon points="621.5,134.9 624.6,134.6 621.9,131.4 618.8,131.6" fill="#e37e09" stroke="#e37e09" stroke-width="0.4"/>
<polygon points="627.4,138.0 630.4,137.9 627.7,134.5 624.6,134.6" fill="#df9c07" stroke="#df9c07" stroke-width="0.4"/>
<polygon points="624.6,134.6 627.7,134.5 625.0,131.2 621.9,131.4" fill="#e08907" stroke="#e08907" stroke-width="0.4"/>
<polygon points="624.3,138.3 630.4,137.9 625.0,131.2 618.8,131.6" fill="none" stroke="#101010" stroke-width="0.85"/>
<polygon points="515.7,135.4 519.1,132.4 516.7,131.5 513.3,134.4" fill="#ffb569" stroke="#ffb569" stroke-width="0.4"/>
<polygon points="513.3,134.4 516.7,131.5 514.3,130.7 510.9,133.7" fill="#ffbb66" stroke="#ffbb66" stroke-width="0.4"/>
<polygon points="519.1,132.4 522.5,129.6 520.1,128.7 516.7,131.5" fill="#ffa665" stroke="#ffa665" stroke-width="0.4"/>
<polygon points="516.7,131.5 520.1,128.7 517.6,127.9 514.3,130.7" fill="#ffab62" stroke="#ffab62" stroke-width="0.4"/>
<polygon points="515.7,135.4 522.5,129.6 517.6,127.9 510.9,133.7" fill="none" stroke="#101010" stroke-width="0.85"/>
<polygon points="552.9,120.9 556.3,119.0 553.7,117.5 550.3,119.4" fill="#ff4545" stroke="#ff4545" stroke-width="0.4"/>
<polygon points="550.3,119.4 553.7,117.5 551.1,116.1 547.8,118.0" fill="#ff4545" stroke="#ff4545" stroke-width="0.4"/>
<polygon points="556.3,119.0 559.6,117.3 557.0,115.8 553.7,117.5" fill="#ff3f3f" stroke="#ff3f3f" stroke-width="0.4"/>
<polygon points="553.7,117.5 557.0,115.8 554.4,114.4 551.1,116.1" fill="#ff3f3f" stroke="#ff3f3f" stroke-width="0.4"/>
<polygon points="552.9,120.9 559.6,117.3 554.4,114.4 547.8,118.0" fill="none" stroke="#101010" stroke-width="0.85"/>
<polygon points="534.3,126.7 537.7,124.3 535.2,123.1 531.8,125.5" fill="#ff735b" stroke="#ff735b" stroke-width="0.4"/>
<polygon points="531.8,125.5 535.2,123.1 532.7,122.0 529.3,124.4" fill="#ff7659" stroke="#ff7659" stroke-width="0.4"/>
<polygon points="537.7,124.3 541.1,122.1 538.5,120.9 535.2,123.1" fill="#ff6455" stroke="#ff6455" stroke-width="0.4"/>
<polygon points="535.2,123.1 538.5,120.9 536.0,119.8 532.7,122.0" fill="#ff6753" stroke="#ff6753" stroke-width="0.4"/>
<polygon points="534.3,126.7 541.1,122.1 536.0,119.8 529.3,124.4" fill="none" stroke="#101010" stroke-width="0.85"/>
<polygon points="612.5,132.5 615.7,132.0 612.9,128.9 609.8,129.4" fill="#eb5c0e" stroke="#eb5c0e" stroke-width="0.4"/>
<polygon points="609.8,129.4 612.9,128.9 610.2,125.9 607.1,126.4" fill="#ec4d0f" stroke="#ec4d0f" stroke-width="0.4"/>
<polygon points="615.7,132.0 618.8,131.6 616.1,128.5 612.9,128.9" fill="#e8640b" stroke="#e8640b" stroke-width="0.4"/>
<polygon points="612.9,128.9 616.1,128.5 613.4,125.5 610.2,125.9" fill="#e9540c" stroke="#e9540c" stroke-width="0.4"/>
<polygon points="612.5,132.5 618.8,131.6 613.4,125.5 607.1,126.4" fill="none" stroke="#101010" stroke-width="0.85"/>
<polygon points="508.9,141.6 512.3,138.4 509.9,137.5 506.5,140.7" fill="#ffd471" stroke="#ffd471" stroke-width="0.4"/>
<polygon points="506.5,140.7 509.9,137.5 507.5,136.7 504.1,139.9" fill="#ffda6d" stroke="#ffda6d" stroke-width="0.4"/>
<polygon points="512.3,138.4 515.7,135.4 513.3,134.4 509.9,137.5" fill="#ffc56d" stroke="#ffc56d" stroke-width="0.4"/>
<polygon points="509.9,137.5 513.3,134.4 510.9,133.7 507.5,136.7" fill="#ffca6a" stroke="#ffca6a" stroke-width="0.4"/>
<polygon points="508.9,141.6 515.7,135.4 510.9,133.7 504.1,139.9" fill="none" stroke="#101010" stroke-width="0.85"/>
<polygon points="564.9,120.9 568.2,119.3 565.6,117.4 562.2,119.0" fill="#ff3838" stroke="#ff3838" stroke-width="0.4"/>
<polygon points="562.2,119.0 565.6,117.4 562.9,115.7 559.6,117.3" fill="#ff3939" stroke="#ff3939" stroke-width="0.4"/>
<polygon points="568.2,119.3 571.5,117.8 568.9,116.0 565.6,117.4" fill="#ff3333" stroke="#ff3333" stroke-width="0.4"/>
<polygon points="565.6,117.4 568.9,116.0 566.2,114.3 562.9,115.7" fill="#ff3333" stroke="#ff3333" stroke-width="0.4"/>
<polygon points="564.9,120.9 571.5,117.8 566.2,114.3 559.6,117.3" fill="none" stroke="#101010" stroke-width="0.85"/>
<polygon points="600.7,127.8 603.9,127.1 601.2,124.3 598.0,125.0" fill="#f33515" stroke="#f33515" stroke-width="0.4"/>
<polygon points="598.0,125.0 601.2,124.3 598.5,121.6 595.3,122.4" fill="#f42a16" stroke="#f42a16" stroke-width="0.4"/>
<polygon points="603.9,127.1 607.1,126.4 604.4,123.6 601.2,124.3" fill="#f03912" stroke="#f03912" stroke-width="0.4"/>
<polygon points="601.2,124.3 604.4,123.6 601.6,121.0 598.5,121.6" fill="#f12d13" stroke="#f12d13" stroke-width="0.4"/>
<polygon points="600.7,127.8 607.1,126.4 601.6,121.0 595.3,122.4" fill="none" stroke="#101010" stroke-width="0.85"/>
<polygon points="576.8,122.0 580.1,120.7 577.4,118.5 574.2,119.8" fill="#ff2b2b" stroke="#ff2b2b" stroke-width="0.4"/>
<polygon points="574.2,119.8 577.4,118.5 574.8,116.5 571.5,117.8" fill="#ff2c2c" stroke="#ff2c2c" stroke-width="0.4"/>
<polygon points="580.1,120.7 583.4,119.5 580.7,117.4 577.4,118.5" fill="#fe2626" stroke="#fe2626" stroke-width="0.4"/>
<polygon points="577.4,118.5 580.7,117.4 578.1,115.3 574.8,116.5" fill="#ff2727" stroke="#ff2727" stroke-width="0.4"/>
<polygon points="576.8,122.0 583.4,119.5 578.1,115.3 571.5,117.8" fill="none" stroke="#101010" stroke-width="0.85"/>
<polygon points="588.8,124.3 592.0,123.3 589.3,120.8 586.1,121.9" fill="#fa1f1f" stroke="#fa1f1f" stroke-width="0.4"/>
<polygon points="586.1,121.9 589.3,120.8 586.6,118.5 583.4,119.5" fill="#fb2121" stroke="#fb2121" stroke-width="0.4"/>
<polygon points="592.0,123.3 595.3,122.4 592.6,119.9 589.3,120.8" fill="#f81e1b" stroke="#f81e1b" stroke-width="0.4"/>
<polygon points="589.3,120.8 592.6,119.9 589.9,117.6 586.6,118.5" fill="#f81c1c" stroke="#f81c1c" stroke-width="0.4"/>
<polygon points="588.8,124.3 595.3,122.4 589.9,117.6 583.4,119.5" fill="none" stroke="#101010" stroke-width="0.85"/>
<polygon points="527.5,131.9 530.9,129.3 528.4,128.0 525.0,130.7" fill="#ff9065" stroke="#ff9065" stroke-width="0.4"/>
<polygon points="525.0,130.7 528.4,128.0 525.9,127.0 522.5,129.6" fill="#ff9363" stroke="#ff9363" stroke-width="0.4"/>
<polygon points="530.9,129.3 534.3,126.7 531.8,125.5 528.4,128.0" fill="#ff8160" stroke="#ff8160" stroke-width="0.4"/>
<polygon points="528.4,128.0 531.8,125.5 529.3,124.4 525.9,127.0" fill="#ff845e" stroke="#ff845e" stroke-width="0.4"/>
<polygon points="527.5,131.9 534.3,126.7 529.3,124.4 522.5,129.6" fill="none" stroke="#101010" stroke-width="0.85"/>
<polygon points="546.2,125.0 549.6,122.9 547.0,121.3 543.6,123.5" fill="#ff5351" stroke="#ff5351" stroke-width="0.4"/>
<polygon points="543.6,123.5 547.0,121.3 544.4,120.0 541.1,122.1" fill="#ff5450" stroke="#ff5450" stroke-width="0.4"/>
<polygon points="549.6,122.9 552.9,120.9 550.3,119.4 547.0,121.3" fill="#ff4b4b" stroke="#ff4b4b" stroke-width="0.4"/>
<polygon points="547.0,121.3 550.3,119.4 547.8,118.0 544.4,120.0" fill="#ff4b4b" stroke="#ff4b4b" stroke-width="0.4"/>
<polygon points="546.2,125.0 552.9,120.9 547.8,118.0 541.1,122.1" fill="none" stroke="#101010" stroke-width="0.85"/>
<polygon points="502.1,148.4 505.5,145.0 503.1,144.0 499.7,147.5" fill="#fff477" stroke="#fff477" stroke-width="0.4"/>
<polygon points="499.7,147.5 503.1,144.0 500.7,143.2 497.3,146.7" fill="#fffa73" stroke="#fffa73" stroke-width="0.4"/>
<polygon points="505.5,145.0 508.9,141.6 506.5,140.7 503.1,144.0" fill="#ffe474" stroke="#ffe474" stroke-width="0.4"/>
<polygon points="503.1,144.0 506.5,140.7 504.1,139.9 500.7,143.2" fill="#ffea70" stroke="#ffea70" stroke-width="0.4"/>
<polygon points="502.1,148.4 508.9,141.6 504.1,139.9 497.3,146.7" fill="none" stroke="#101010" stroke-width="0.85"/>
<polygon points="495.2,155.7 498.7,152.0 496.3,151.1 492.9,154.8" fill="#e9ff7c" stroke="#e9ff7c" stroke-width="0.4"/>
<polygon points="492.9,154.8 496.3,151.1 493.9,150.3 490.5,154.0" fill="#e2ff78" stroke="#e2ff78" stroke-width="0.4"/>
<polygon points="498.7,152.0 502.1,148.4 499.7,147.5 496.3,151.1" fill="#faff79" stroke="#faff79" stroke-width="0.4"/>
<polygon points="496.3,151.1 499.7,147.5 497.3,146.7 493.9,150.3" fill="#f3ff76" stroke="#f3ff76" stroke-width="0.4"/>
<polygon points="495.2,155.7 502.1,148.4 497.3,146.7 490.5,154.0" fill="none" stroke="#101010" stroke-width="0.85"/>
<polygon points="618.0,139.1 621.1,138.6 618.4,135.2 615.3,135.7" fill="#e9800c" stroke="#e9800c" stroke-width="0.4"/>
<polygon points="615.3,135.7 618.4,135.2 615.7,132.0 612.5,132.5" fill="#ea6d0d" stroke="#ea6d0d" stroke-width="0.4"/>
<polygon points="621.1,138.6 624.3,138.3 621.5,134.9 618.4,135.2" fill="#e6880a" stroke="#e6880a" stroke-width="0.4"/>
<polygon points="618.4,135.2 621.5,134.9 618.8,131.6 615.7,132.0" fill="#e7750b" stroke="#e7750b" stroke-width="0.4"/>
<polygon points="618.0,139.1 624.3,138.3 618.8,131.6 612.5,132.5" fill="none" stroke="#101010" stroke-width="0.85"/>
<polygon points="558.2,124.4 561.5,122.6 558.9,120.7 555.5,122.6" fill="#ff4545" stroke="#ff4545" stroke-width="0.4"/>
<polygon points="555.5,122.6 558.9,120.7 556.3,119.0 552.9,120.9" fill="#ff4545" stroke="#ff4545" stroke-width="0.4"/>
<polygon points="561.5,122.6 564.9,120.9 562.2,119.0 558.9,120.7" fill="#ff3e3e" stroke="#ff3e3e" stroke-width="0.4"/>
<polygon points="558.9,120.7 562.2,119.0 559.6,117.3 556.3,119.0" fill="#ff3f3f" stroke="#ff3f3f" stroke-width="0.4"/>
<polygon points="558.2,124.4 564.9,120.9 559.6,117.3 552.9,120.9" fill="none" stroke="#101010" stroke-width="0.85"/>
<polygon points="520.7,137.7 524.1,134.7 521.6,133.5 518.2,136.4" fill="#ffae6e" stroke="#ffae6e" stroke-width="0.4"/>
<polygon points="518.2,136.4 521.6,133.5 519.1,132.4 515.7,135.4" fill="#ffb16c" stroke="#ffb16c" stroke-width="0.4"/>
<polygon points="524.1,134.7 527.5,131.9 525.0,130.7 521.6,133.5" fill="#ff9f6a" stroke="#ff9f6a" stroke-width="0.4"/>
<polygon points="521.6,133.5 525.0,130.7 522.5,129.6 519.1,132.4" fill="#ffa267" stroke="#ffa267" stroke-width="0.4"/>
<polygon points="520.7,137.7 527.5,131.9 522.5,129.6 515.7,135.4" fill="none" stroke="#101010" stroke-width="0.85"/>
<polygon points="539.4,129.6 542.8,127.2 540.2,125.7 536.9,128.1" fill="#ff6f5d" stroke="#ff6f5d" stroke-width="0.4"/>
<polygon points="536.9,128.1 540.2,125.7 537.7,124.3 534.3,126.7" fill="#ff705c" stroke="#ff705c" stroke-width="0.4"/>
<polygon points="542.8,127.2 546.2,125.0 543.6,123.5 540.2,125.7" fill="#ff6157" stroke="#ff6157" stroke-width="0.4"/>
<polygon points="540.2,125.7 543.6,123.5 541.1,122.1 537.7,124.3" fill="#ff6256" stroke="#ff6256" stroke-width="0.4"/>
<polygon points="539.4,129.6 546.2,125.0 541.1,122.1 534.3,126.7" fill="none" stroke="#101010" stroke-width="0.85"/>
<polygon points="606.1,133.8 609.3,133.1 606.6,130.0 603.4,130.8" fill="#f15213" stroke="#f15213" stroke-width="0.4"/>
<polygon points="603.4,130.8 606.6,130.0 603.9,127.1 600.7,127.8" fill="#f24314" stroke="#f24314" stroke-width="0.4"/>
<polygon points="609.3,133.1 612.5,132.5 609.8,129.4 606.6,130.0" fill="#ee5610" stroke="#ee5610" stroke-width="0.4"/>
<polygon points="606.6,130.0 609.8,129.4 607.1,126.4 603.9,127.1" fill="#ef4711" stroke="#ef4711" stroke-width="0.4"/>
<polygon points="606.1,133.8 612.5,132.5 607.1,126.4 600.7,127.8" fill="none" stroke="#101010" stroke-width="0.85"/>
<polygon points="570.2,125.0 573.5,123.4 570.8,121.3 567.5,122.9" fill="#ff3737" stroke="#ff3737" stroke-width="0.4"/>
<polygon points="567.5,122.9 570.8,121.3 568.2,119.3 564.9,120.9" fill="#ff3838" stroke="#ff3838" stroke-width="0.4"/>
<polygon points="573.5,123.4 576.8,122.0 574.2,119.8 570.8,121.3" fill="#ff3131" stroke="#ff3131" stroke-width="0.4"/>
<polygon points="570.8,121.3 574.2,119.8 571.5,117.8 568.2,119.3" fill="#ff3232" stroke="#ff3232" stroke-width="0.4"/>
<polygon points="570.2,125.0 576.8,122.0 571.5,117.8 564.9,120.9" fill="none" stroke="#101010" stroke-width="0.85"/>
<polygon points="594.2,129.7 597.4,128.7 594.7,125.9 591.5,126.9" fill="#f9331d" stroke="#f9331d" stroke-width="0.4"/>
<polygon points="591.5,126.9 594.7,125.9 592.0,123.3 588.8,124.3" fill="#fa281e" stroke="#fa281e" stroke-width="0.4"/>
<polygon points="597.4,128.7 600.7,127.8 598.0,125.0 594.7,125.9" fill="#f63319" stroke="#f63319" stroke-width="0.4"/>
<polygon points="594.7,125.9 598.0,125.0 595.3,122.4 592.0,123.3" fill="#f7281a" stroke="#f7281a" stroke-width="0.4"/>
<polygon points="594.2,129.7 600.7,127.8 595.3,122.4 588.8,124.3" fill="none" stroke="#101010" stroke-width="0.85"/>
<polygon points="582.2,126.8 585.5,125.5 582.8,123.0 579.5,124.3" fill="#ff2929" stroke="#ff2929" stroke-width="0.4"/>
<polygon points="579.5,124.3 582.8,123.0 580.1,120.7 576.8,122.0" fill="#ff2a2a" stroke="#ff2a2a" stroke-width="0.4"/>
<polygon points="585.5,125.5 588.8,124.3 586.1,121.9 582.8,123.0" fill="#fd2424" stroke="#fd2424" stroke-width="0.4"/>
<polygon points="582.8,123.0 586.1,121.9 583.4,119.5 580.1,120.7" fill="#fe2525" stroke="#fe2525" stroke-width="0.4"/>
<polygon points="582.2,126.8 588.8,124.3 583.4,119.5 576.8,122.0" fill="none" stroke="#101010" stroke-width="0.85"/>
<polygon points="513.8,143.9 517.2,140.7 514.8,139.5 511.4,142.7" fill="#ffcc76" stroke="#ffcc76" stroke-width="0.4"/>
<polygon points="511.4,142.7 514.8,139.5 512.3,138.4 508.9,141.6" fill="#ffd073" stroke="#ffd073" stroke-width="0.4"/>
<polygon points="517.2,140.7 520.7,137.7 518.2,136.4 514.8,139.5" fill="#ffbd72" stroke="#ffbd72" stroke-width="0.4"/>
<polygon points="514.8,139.5 518.2,136.4 515.7,135.4 512.3,138.4" fill="#ffc070" stroke="#ffc070" stroke-width="0.4"/>
<polygon points="513.8,143.9 520.7,137.7 515.7,135.4 508.9,141.6" fill="none" stroke="#101010" stroke-width="0.85"/>
<polygon points="551.4,128.5 554.8,126.4 552.2,124.6 548.8,126.7" fill="#ff5351" stroke="#ff5351" stroke-width="0.4"/>
<polygon points="548.8,126.7 552.2,124.6 549.6,122.9 546.2,125.0" fill="#ff5251" stroke="#ff5251" stroke-width="0.4"/>
<polygon points="554.8,126.4 558.2,124.4 555.5,122.6 552.2,124.6" fill="#ff4b4b" stroke="#ff4b4b" stroke-width="0.4"/>
<polygon points="552.2,124.6 555.5,122.6 552.9,120.9 549.6,122.9" fill="#ff4b4b" stroke="#ff4b4b" stroke-width="0.4"/>
<polygon points="551.4,128.5 558.2,124.4 552.9,120.9 546.2,125.0" fill="none" stroke="#101010" stroke-width="0.85"/>
<polygon points="532.6,134.8 536.0,132.2 533.4,130.6 530.0,133.3" fill="#ff8d67" stroke="#ff8d67" stroke-width="0.4"/>
<polygon points="530.0,133.3 533.4,130.6 530.9,129.3 527.5,131.9" fill="#ff8e66" stroke="#ff8e66" stroke-width="0.4"/>
<polygon points="536.0,132.2 539.4,129.6 536.9,128.1 533.4,130.6" fill="#ff7e62" stroke="#ff7e62" stroke-width="0.4"/>
<polygon points="533.4,130.6 536.9,128.1 534.3,126.7 530.9,129.3" fill="#ff7f61" stroke="#ff7f61" stroke-width="0.4"/>
<polygon points="532.6,134.8 539.4,129.6 534.3,126.7 527.5,131.9" fill="none" stroke="#101010" stroke-width="0.85"/>
<polygon points="506.9,150.7 510.4,147.2 507.9,146.0 504.5,149.5" fill="#ffeb7c" stroke="#ffeb7c" stroke-width="0.4"/>
<polygon points="504.5,149.5 507.9,146.0 505.5,145.0 502.1,148.4" fill="#ffef7a" stroke="#ffef7a" stroke-width="0.4"/>
<polygon points="510.4,147.2 513.8,143.9 511.4,142.7 507.9,146.0" fill="#ffdc79" stroke="#ffdc79" stroke-width="0.4"/>
<polygon points="507.9,146.0 511.4,142.7 508.9,141.6 505.5,145.0" fill="#ffdf77" stroke="#ffdf77" stroke-width="0.4"/>
<polygon points="506.9,150.7 513.8,143.9 508.9,141.6 502.1,148.4" fill="none" stroke="#101010" stroke-width="0.85"/>
<polygon points="611.6,140.5 614.8,139.7 612.1,136.3 608.9,137.1" fill="#ef7511" stroke="#ef7511" stroke-width="0.4"/>
<polygon points="608.9,137.1 612.1,136.3 609.3,133.1 606.1,133.8" fill="#f06212" stroke="#f06212" stroke-width="0.4"/>
<polygon points="614.8,139.7 618.0,139.1 615.3,135.7 612.1,136.3" fill="#ec7a0f" stroke="#ec7a0f" stroke-width="0.4"/>
<polygon points="612.1,136.3 615.3,135.7 612.5,132.5 609.3,133.1" fill="#ed670f" stroke="#ed670f" stroke-width="0.4"/>
<polygon points="611.6,140.5 618.0,139.1 612.5,132.5 606.1,133.8" fill="none" stroke="#101010" stroke-width="0.85"/>
<polygon points="563.5,128.5 566.8,126.7 564.2,124.6 560.8,126.4" fill="#ff4343" stroke="#ff4343" stroke-width="0.4"/>
<polygon points="560.8,126.4 564.2,124.6 561.5,122.6 558.2,124.4" fill="#ff4444" stroke="#ff4444" stroke-width="0.4"/>
<polygon points="566.8,126.7 570.2,125.0 567.5,122.9 564.2,124.6" fill="#ff3d3d" stroke="#ff3d3d" stroke-width="0.4"/>
<polygon points="564.2,124.6 567.5,122.9 564.9,120.9 561.5,122.6" fill="#ff3e3e" stroke="#ff3e3e" stroke-width="0.4"/>
<polygon points="563.5,128.5 570.2,125.0 564.9,120.9 558.2,124.4" fill="none" stroke="#101010" stroke-width="0.85"/>
<polygon points="599.7,135.7 602.9,134.7 600.2,131.6 596.9,132.7" fill="#f74e1a" stroke="#f74e1a" stroke-width="0.4"/>
<polygon points="596.9,132.7 600.2,131.6 597.4,128.7 594.2,129.7" fill="#f8401c" stroke="#f8401c" stroke-width="0.4"/>
<polygon points="602.9,134.7 606.1,133.8 603.4,130.8 600.2,131.6" fill="#f44f17" stroke="#f44f17" stroke-width="0.4"/>
<polygon points="600.2,131.6 603.4,130.8 600.7,127.8 597.4,128.7" fill="#f54018" stroke="#f54018" stroke-width="0.4"/>
<polygon points="599.7,135.7 606.1,133.8 600.7,127.8 594.2,129.7" fill="none" stroke="#101010" stroke-width="0.85"/>
<polygon points="500.0,158.0 503.5,154.3 501.1,153.1 497.6,156.8" fill="#f4ff82" stroke="#f4ff82" stroke-width="0.4"/>
<polygon points="497.6,156.8 501.1,153.1 498.7,152.0 495.2,155.7" fill="#efff7f" stroke="#efff7f" stroke-width="0.4"/>
<polygon points="503.5,154.3 506.9,150.7 504.5,149.5 501.1,153.1" fill="#fffa7f" stroke="#fffa7f" stroke-width="0.4"/>
<polygon points="501.1,153.1 504.5,149.5 502.1,148.4 498.7,152.0" fill="#ffff7c" stroke="#ffff7c" stroke-width="0.4"/>
<polygon points="500.0,158.0 506.9,150.7 502.1,148.4 495.2,155.7" fill="none" stroke="#101010" stroke-width="0.85"/>
<polygon points="575.5,129.8 578.9,128.2 576.2,125.7 572.9,127.3" fill="#ff3434" stroke="#ff3434" stroke-width="0.4"/>
<polygon points="572.9,127.3 576.2,125.7 573.5,123.4 570.2,125.0" fill="#ff3535" stroke="#ff3535" stroke-width="0.4"/>
<polygon points="578.9,128.2 582.2,126.8 579.5,124.3 576.2,125.7" fill="#ff2e2e" stroke="#ff2e2e" stroke-width="0.4"/>
<polygon points="576.2,125.7 579.5,124.3 576.8,122.0 573.5,123.4" fill="#ff3030" stroke="#ff3030" stroke-width="0.4"/>
<polygon points="575.5,129.8 582.2,126.8 576.8,122.0 570.2,125.0" fill="none" stroke="#101010" stroke-width="0.85"/>
<polygon points="525.7,140.5 529.1,137.6 526.6,136.1 523.2,139.0" fill="#ffab71" stroke="#ffab71" stroke-width="0.4"/>
<polygon points="523.2,139.0 526.6,136.1 524.1,134.7 520.7,137.7" fill="#ffac70" stroke="#ffac70" stroke-width="0.4"/>
<polygon points="529.1,137.6 532.6,134.8 530.0,133.3 526.6,136.1" fill="#ff9c6c" stroke="#ff9c6c" stroke-width="0.4"/>
<polygon points="526.6,136.1 530.0,133.3 527.5,131.9 524.1,134.7" fill="#ff9d6b" stroke="#ff9d6b" stroke-width="0.4"/>
<polygon points="525.7,140.5 532.6,134.8 527.5,131.9 520.7,137.7" fill="none" stroke="#101010" stroke-width="0.85"/>
<polygon points="587.6,132.2 590.9,130.9 588.2,128.1 584.9,129.4" fill="#fe3826" stroke="#fe3826" stroke-width="0.4"/>
<polygon points="584.9,129.4 588.2,128.1 585.5,125.5 582.2,126.8" fill="#ff2e28" stroke="#ff2e28" stroke-width="0.4"/>
<polygon points="590.9,130.9 594.2,129.7 591.5,126.9 588.2,128.1" fill="#fc3521" stroke="#fc3521" stroke-width="0.4"/>
<polygon points="588.2,128.1 591.5,126.9 588.8,124.3 585.5,125.5" fill="#fc2a23" stroke="#fc2a23" stroke-width="0.4"/>
<polygon points="587.6,132.2 594.2,129.7 588.8,124.3 582.2,126.8" fill="none" stroke="#101010" stroke-width="0.85"/>
<polygon points="544.6,133.1 548.0,130.8 545.4,128.9 542.0,131.3" fill="#ff6f5d" stroke="#ff6f5d" stroke-width="0.4"/>
<polygon points="542.0,131.3 545.4,128.9 542.8,127.2 539.4,129.6" fill="#ff6f5d" stroke="#ff6f5d" stroke-width="0.4"/>
<polygon points="548.0,130.8 551.4,128.5 548.8,126.7 545.4,128.9" fill="#ff6157" stroke="#ff6157" stroke-width="0.4"/>
<polygon points="545.4,128.9 548.8,126.7 546.2,125.0 542.8,127.2" fill="#ff6157" stroke="#ff6157" stroke-width="0.4"/>
<polygon points="544.6,133.1 551.4,128.5 546.2,125.0 539.4,129.6" fill="none" stroke="#101010" stroke-width="0.85"/>
<polygon points="518.8,146.8 522.3,143.6 519.7,142.1 516.3,145.3" fill="#ffc87a" stroke="#ffc87a" stroke-width="0.4"/>
<polygon points="516.3,145.3 519.7,142.1 517.2,140.7 513.8,143.9" fill="#ffca78" stroke="#ffca78" stroke-width="0.4"/>
<polygon points="522.3,143.6 525.7,140.5 523.2,139.0 519.7,142.1" fill="#ffb976" stroke="#ffb976" stroke-width="0.4"/>
<polygon points="519.7,142.1 523.2,139.0 520.7,137.7 517.2,140.7" fill="#ffbb74" stroke="#ffbb74" stroke-width="0.4"/>
<polygon points="518.8,146.8 525.7,140.5 520.7,137.7 513.8,143.9" fill="none" stroke="#101010" stroke-width="0.85"/>
<polygon points="556.7,132.6 560.1,130.5 557.4,128.4 554.0,130.5" fill="#ff574f" stroke="#ff574f" stroke-width="0.4"/>
<polygon points="554.0,130.5 557.4,128.4 554.8,126.4 551.4,128.5" fill="#ff5550" stroke="#ff5550" stroke-width="0.4"/>
<polygon points="560.1,130.5 563.5,128.5 560.8,126.4 557.4,128.4" fill="#ff4a49" stroke="#ff4a49" stroke-width="0.4"/>
<polygon points="557.4,128.4 560.8,126.4 558.2,124.4 554.8,126.4" fill="#ff4a4a" stroke="#ff4a4a" stroke-width="0.4"/>
<polygon points="556.7,132.6 563.5,128.5 558.2,124.4 551.4,128.5" fill="none" stroke="#101010" stroke-width="0.85"/>
<polygon points="537.7,138.3 541.2,135.7 538.6,133.8 535.1,136.5" fill="#ff8d68" stroke="#ff8d68" stroke-width="0.4"/>
<polygon points="535.1,136.5 538.6,133.8 536.0,132.2 532.6,134.8" fill="#ff8c68" stroke="#ff8c68" stroke-width="0.4"/>
<polygon points="541.2,135.7 544.6,133.1 542.0,131.3 538.6,133.8" fill="#ff7e63" stroke="#ff7e63" stroke-width="0.4"/>
<polygon points="538.6,133.8 542.0,131.3 539.4,129.6 536.0,132.2" fill="#ff7e63" stroke="#ff7e63" stroke-width="0.4"/>
<polygon points="537.7,138.3 544.6,133.1 539.4,129.6 532.6,134.8" fill="none" stroke="#101010" stroke-width="0.85"/>
<polygon points="605.1,142.4 608.4,141.4 605.7,138.0 602.4,139.0" fill="#f57017" stroke="#f57017" stroke-width="0.4"/>
<polygon points="602.4,139.0 605.7,138.0 602.9,134.7 599.7,135.7" fill="#f65e19" stroke="#f65e19" stroke-width="0.4"/>
<polygon points="608.4,141.4 611.6,140.5 608.9,137.1 605.7,138.0" fill="#f27114" stroke="#f27114" stroke-width="0.4"/>
<polygon points="605.7,138.0 608.9,137.1 606.1,133.8 602.9,134.7" fill="#f35f15" stroke="#f35f15" stroke-width="0.4"/>
<polygon points="605.1,142.4 611.6,140.5 606.1,133.8 599.7,135.7" fill="none" stroke="#101010" stroke-width="0.85"/>
<polygon points="568.8,133.3 572.2,131.5 569.5,129.0 566.1,130.8" fill="#ff4740" stroke="#ff4740" stroke-width="0.4"/>
<polygon points="566.1,130.8 569.5,129.0 566.8,126.7 563.5,128.5" fill="#ff4241" stroke="#ff4241" stroke-width="0.4"/>
<polygon points="572.2,131.5 575.5,129.8 572.9,127.3 569.5,129.0" fill="#ff3d3a" stroke="#ff3d3a" stroke-width="0.4"/>
<polygon points="569.5,129.0 572.9,127.3 570.2,125.0 566.8,126.7" fill="#ff3b3b" stroke="#ff3b3b" stroke-width="0.4"/>
<polygon points="568.8,133.3 575.5,129.8 570.2,125.0 563.5,128.5" fill="none" stroke="#101010" stroke-width="0.85"/>
<polygon points="593.1,138.2 596.4,136.9 593.6,133.8 590.3,135.1" fill="#fc5223" stroke="#fc5223" stroke-width="0.4"/>
<polygon points="590.3,135.1 593.6,133.8 590.9,130.9 587.6,132.2" fill="#fd4424" stroke="#fd4424" stroke-width="0.4"/>
<polygon points="596.4,136.9 599.7,135.7 596.9,132.7 593.6,133.8" fill="#fa4f1e" stroke="#fa4f1e" stroke-width="0.4"/>
<polygon points="593.6,133.8 596.9,132.7 594.2,129.7 590.9,130.9" fill="#fb4120" stroke="#fb4120" stroke-width="0.4"/>
<polygon points="593.1,138.2 599.7,135.7 594.2,129.7 587.6,132.2" fill="none" stroke="#101010" stroke-width="0.85"/>
<polygon points="511.9,153.6 515.3,150.1 512.9,148.6 509.4,152.1" fill="#ffe680" stroke="#ffe680" stroke-width="0.4"/>
<polygon points="509.4,152.1 512.9,148.6 510.4,147.2 506.9,150.7" fill="#ffe87f" stroke="#ffe87f" stroke-width="0.4"/>
<polygon points="515.3,150.1 518.8,146.8 516.3,145.3 512.9,148.6" fill="#ffd77d" stroke="#ffd77d" stroke-width="0.4"/>
<polygon points="512.9,148.6 516.3,145.3 513.8,143.9 510.4,147.2" fill="#ffd97c" stroke="#ffd97c" stroke-width="0.4"/>
<polygon points="511.9,153.6 518.8,146.8 513.8,143.9 506.9,150.7" fill="none" stroke="#101010" stroke-width="0.85"/>
<polygon points="581.0,135.1 584.3,133.6 581.6,130.8 578.2,132.4" fill="#ff4430" stroke="#ff4430" stroke-width="0.4"/>
<polygon points="578.2,132.4 581.6,130.8 578.9,128.2 575.5,129.8" fill="#ff3b32" stroke="#ff3b32" stroke-width="0.4"/>
<polygon points="584.3,133.6 587.6,132.2 584.9,129.4 581.6,130.8" fill="#ff3d2b" stroke="#ff3d2b" stroke-width="0.4"/>
<polygon points="581.6,130.8 584.9,129.4 582.2,126.8 578.9,128.2" fill="#ff342d" stroke="#ff342d" stroke-width="0.4"/>
<polygon points="581.0,135.1 587.6,132.2 582.2,126.8 575.5,129.8" fill="none" stroke="#101010" stroke-width="0.85"/>
<polygon points="549.8,137.2 553.3,134.9 550.6,132.7 547.2,135.1" fill="#ff735b" stroke="#ff735b" stroke-width="0.4"/>
<polygon points="547.2,135.1 550.6,132.7 548.0,130.8 544.6,133.1" fill="#ff715c" stroke="#ff715c" stroke-width="0.4"/>
<polygon points="553.3,134.9 556.7,132.6 554.0,130.5 550.6,132.7" fill="#ff6555" stroke="#ff6555" stroke-width="0.4"/>
<polygon points="550.6,132.7 554.0,130.5 551.4,128.5 548.0,130.8" fill="#ff6256" stroke="#ff6256" stroke-width="0.4"/>
<polygon points="549.8,137.2 556.7,132.6 551.4,128.5 544.6,133.1" fill="none" stroke="#101010" stroke-width="0.85"/>
<polygon points="530.8,144.0 534.3,141.1 531.7,139.3 528.3,142.2" fill="#ffaa72" stroke="#ffaa72" stroke-width="0.4"/>
<polygon points="528.3,142.2 531.7,139.3 529.1,137.6 525.7,140.5" fill="#ffaa72" stroke="#ffaa72" stroke-width="0.4"/>
<polygon points="534.3,141.1 537.7,138.3 535.1,136.5 531.7,139.3" fill="#ff9b6d" stroke="#ff9b6d" stroke-width="0.4"/>
<polygon points="531.7,139.3 535.1,136.5 532.6,134.8 529.1,137.6" fill="#ff9b6d" stroke="#ff9b6d" stroke-width="0.4"/>
<polygon points="530.8,144.0 537.7,138.3 532.6,134.8 525.7,140.5" fill="none" stroke="#101010" stroke-width="0.85"/>
<polygon points="505.0,160.9 508.4,157.2 505.9,155.7 502.5,159.4" fill="#faff86" stroke="#faff86" stroke-width="0.4"/>
<polygon points="502.5,159.4 505.9,155.7 503.5,154.3 500.0,158.0" fill="#f7ff84" stroke="#f7ff84" stroke-width="0.4"/>
<polygon points="508.4,157.2 511.9,153.6 509.4,152.1 505.9,155.7" fill="#fff583" stroke="#fff583" stroke-width="0.4"/>
<polygon points="505.9,155.7 509.4,152.1 506.9,150.7 503.5,154.3" fill="#fff781" stroke="#fff781" stroke-width="0.4"/>
<polygon points="505.0,160.9 511.9,153.6 506.9,150.7 500.0,158.0" fill="none" stroke="#101010" stroke-width="0.85"/>
<polygon points="562.0,137.4 565.4,135.3 562.7,132.8 559.3,134.9" fill="#ff5f4c" stroke="#ff5f4c" stroke-width="0.4"/>
<polygon points="559.3,134.9 562.7,132.8 560.1,130.5 556.7,132.6" fill="#ff5a4e" stroke="#ff5a4e" stroke-width="0.4"/>
<polygon points="565.4,135.3 568.8,133.3 566.1,130.8 562.7,132.8" fill="#ff5246" stroke="#ff5246" stroke-width="0.4"/>
<polygon points="562.7,132.8 566.1,130.8 563.5,128.5 560.1,130.5" fill="#ff4e47" stroke="#ff4e47" stroke-width="0.4"/>
<polygon points="562.0,137.4 568.8,133.3 563.5,128.5 556.7,132.6" fill="none" stroke="#101010" stroke-width="0.85"/>
<polygon points="598.6,144.8 601.9,143.5 599.1,140.1 595.8,141.4" fill="#fa721f" stroke="#fa721f" stroke-width="0.4"/>
<polygon points="595.8,141.4 599.1,140.1 596.4,136.9 593.1,138.2" fill="#fb6121" stroke="#fb6121" stroke-width="0.4"/>
<polygon points="601.9,143.5 605.1,142.4 602.4,139.0 599.1,140.1" fill="#f7701b" stroke="#f7701b" stroke-width="0.4"/>
<polygon points="599.1,140.1 602.4,139.0 599.7,135.7 596.4,136.9" fill="#f95f1d" stroke="#f95f1d" stroke-width="0.4"/>
<polygon points="598.6,144.8 605.1,142.4 599.7,135.7 593.1,138.2" fill="none" stroke="#101010" stroke-width="0.85"/>
<polygon points="523.9,150.3 527.4,147.1 524.8,145.3 521.3,148.5" fill="#ffc87b" stroke="#ffc87b" stroke-width="0.4"/>
<polygon points="521.3,148.5 524.8,145.3 522.3,143.6 518.8,146.8" fill="#ffc87b" stroke="#ffc87b" stroke-width="0.4"/>
<polygon points="527.4,147.1 530.8,144.0 528.3,142.2 524.8,145.3" fill="#ffb977" stroke="#ffb977" stroke-width="0.4"/>
<polygon points="524.8,145.3 528.3,142.2 525.7,140.5 522.3,143.6" fill="#ffb976" stroke="#ffb976" stroke-width="0.4"/>
<polygon points="523.9,150.3 530.8,144.0 525.7,140.5 518.8,146.8" fill="none" stroke="#101010" stroke-width="0.85"/>
<polygon points="574.2,138.7 577.6,136.8 574.9,134.1 571.5,135.9" fill="#ff563b" stroke="#ff563b" stroke-width="0.4"/>
<polygon points="571.5,135.9 574.9,134.1 572.2,131.5 568.8,133.3" fill="#ff4e3e" stroke="#ff4e3e" stroke-width="0.4"/>
<polygon points="577.6,136.8 581.0,135.1 578.2,132.4 574.9,134.1" fill="#ff4c36" stroke="#ff4c36" stroke-width="0.4"/>
<polygon points="574.9,134.1 578.2,132.4 575.5,129.8 572.2,131.5" fill="#ff4438" stroke="#ff4438" stroke-width="0.4"/>
<polygon points="574.2,138.7 581.0,135.1 575.5,129.8 568.8,133.3" fill="none" stroke="#101010" stroke-width="0.85"/>
<polygon points="586.4,141.1 589.8,139.6 587.0,136.5 583.7,138.1" fill="#ff5b2c" stroke="#ff5b2c" stroke-width="0.4"/>
<polygon points="583.7,138.1 587.0,136.5 584.3,133.6 581.0,135.1" fill="#ff4f2e" stroke="#ff4f2e" stroke-width="0.4"/>
<polygon points="589.8,139.6 593.1,138.2 590.3,135.1 587.0,136.5" fill="#ff5627" stroke="#ff5627" stroke-width="0.4"/>
<polygon points="587.0,136.5 590.3,135.1 587.6,132.2 584.3,133.6" fill="#ff4929" stroke="#ff4929" stroke-width="0.4"/>
<polygon points="586.4,141.1 593.1,138.2 587.6,132.2 581.0,135.1" fill="none" stroke="#101010" stroke-width="0.85"/>
<polygon points="542.9,142.4 546.4,139.8 543.8,137.6 540.3,140.3" fill="#ff9067" stroke="#ff9067" stroke-width="0.4"/>
<polygon points="540.3,140.3 543.8,137.6 541.2,135.7 537.7,138.3" fill="#ff8e68" stroke="#ff8e68" stroke-width="0.4"/>
<polygon points="546.4,139.8 549.8,137.2 547.2,135.1 543.8,137.6" fill="#ff8161" stroke="#ff8161" stroke-width="0.4"/>
<polygon points="543.8,137.6 547.2,135.1 544.6,133.1 541.2,135.7" fill="#ff7f62" stroke="#ff7f62" stroke-width="0.4"/>
<polygon points="542.9,142.4 549.8,137.2 544.6,133.1 537.7,138.3" fill="none" stroke="#101010" stroke-width="0.85"/>
<polygon points="516.9,157.1 520.4,153.6 517.9,151.8 514.4,155.2" fill="#ffe582" stroke="#ffe582" stroke-width="0.4"/>
<polygon points="514.4,155.2 517.9,151.8 515.3,150.1 511.9,153.6" fill="#ffe582" stroke="#ffe582" stroke-width="0.4"/>
<polygon points="520.4,153.6 523.9,150.3 521.3,148.5 517.9,151.8" fill="#ffd67f" stroke="#ffd67f" stroke-width="0.4"/>
<polygon points="517.9,151.8 521.3,148.5 518.8,146.8 515.3,150.1" fill="#ffd67e" stroke="#ffd67e" stroke-width="0.4"/>
<polygon points="516.9,157.1 523.9,150.3 518.8,146.8 511.9,153.6" fill="none" stroke="#101010" stroke-width="0.85"/>
<polygon points="555.2,142.0 558.6,139.6 555.9,137.2 552.5,139.5" fill="#ff7a58" stroke="#ff7a58" stroke-width="0.4"/>
<polygon points="552.5,139.5 555.9,137.2 553.3,134.9 549.8,137.2" fill="#ff765a" stroke="#ff765a" stroke-width="0.4"/>
<polygon points="558.6,139.6 562.0,137.4 559.3,134.9 555.9,137.2" fill="#ff6c52" stroke="#ff6c52" stroke-width="0.4"/>
<polygon points="555.9,137.2 559.3,134.9 556.7,132.6 553.3,134.9" fill="#ff6854" stroke="#ff6854" stroke-width="0.4"/>
<polygon points="555.2,142.0 562.0,137.4 556.7,132.6 549.8,137.2" fill="none" stroke="#101010" stroke-width="0.85"/>
<polygon points="536.0,148.1 539.5,145.2 536.9,143.1 533.4,146.0" fill="#ffad71" stroke="#ffad71" stroke-width="0.4"/>
<polygon points="533.4,146.0 536.9,143.1 534.3,141.1 530.8,144.0" fill="#ffab72" stroke="#ffab72" stroke-width="0.4"/>
<polygon points="539.5,145.2 542.9,142.4 540.3,140.3 536.9,143.1" fill="#ff9e6c" stroke="#ff9e6c" stroke-width="0.4"/>
<polygon points="536.9,143.1 540.3,140.3 537.7,138.3 534.3,141.1" fill="#ff9c6d" stroke="#ff9c6d" stroke-width="0.4"/>
<polygon points="536.0,148.1 542.9,142.4 537.7,138.3 530.8,144.0" fill="none" stroke="#101010" stroke-width="0.85"/>
<polygon points="510.0,164.4 513.4,160.6 510.9,158.8 507.4,162.6" fill="#fcff88" stroke="#fcff88" stroke-width="0.4"/>
<polygon points="507.4,162.6 510.9,158.8 508.4,157.2 505.0,160.9" fill="#fbff87" stroke="#fbff87" stroke-width="0.4"/>
<polygon points="513.4,160.6 516.9,157.1 514.4,155.2 510.9,158.8" fill="#fff385" stroke="#fff385" stroke-width="0.4"/>
<polygon points="510.9,158.8 514.4,155.2 511.9,153.6 508.4,157.2" fill="#fff485" stroke="#fff485" stroke-width="0.4"/>
<polygon points="510.0,164.4 516.9,157.1 511.9,153.6 505.0,160.9" fill="none" stroke="#101010" stroke-width="0.85"/>
<polygon points="567.4,142.7 570.8,140.6 568.1,137.9 564.7,140.0" fill="#ff6c47" stroke="#ff6c47" stroke-width="0.4"/>
<polygon points="564.7,140.0 568.1,137.9 565.4,135.3 562.0,137.4" fill="#ff654a" stroke="#ff654a" stroke-width="0.4"/>
<polygon points="570.8,140.6 574.2,138.7 571.5,135.9 568.1,137.9" fill="#ff6041" stroke="#ff6041" stroke-width="0.4"/>
<polygon points="568.1,137.9 571.5,135.9 568.8,133.3 565.4,135.3" fill="#ff5944" stroke="#ff5944" stroke-width="0.4"/>
<polygon points="567.4,142.7 574.2,138.7 568.8,133.3 562.0,137.4" fill="none" stroke="#101010" stroke-width="0.85"/>
<polygon points="591.9,147.8 595.3,146.2 592.5,142.8 589.2,144.4" fill="#ff7a28" stroke="#ff7a28" stroke-width="0.4"/>
<polygon points="589.2,144.4 592.5,142.8 589.8,139.6 586.4,141.1" fill="#ff6a2a" stroke="#ff6a2a" stroke-width="0.4"/>
<polygon points="595.3,146.2 598.6,144.8 595.8,141.4 592.5,142.8" fill="#fd7523" stroke="#fd7523" stroke-width="0.4"/>
<polygon points="592.5,142.8 595.8,141.4 593.1,138.2 589.8,139.6" fill="#fe6425" stroke="#fe6425" stroke-width="0.4"/>
<polygon points="591.9,147.8 598.6,144.8 593.1,138.2 586.4,141.1" fill="none" stroke="#101010" stroke-width="0.85"/>
<polygon points="579.7,144.6 583.1,142.8 580.3,139.8 576.9,141.6" fill="#ff6a36" stroke="#ff6a36" stroke-width="0.4"/>
<polygon points="576.9,141.6 580.3,139.8 577.6,136.8 574.2,138.7" fill="#ff5f39" stroke="#ff5f39" stroke-width="0.4"/>
<polygon points="583.1,142.8 586.4,141.1 583.7,138.1 580.3,139.8" fill="#ff6231" stroke="#ff6231" stroke-width="0.4"/>
<polygon points="580.3,139.8 583.7,138.1 581.0,135.1 577.6,136.8" fill="#ff5633" stroke="#ff5633" stroke-width="0.4"/>
<polygon points="579.7,144.6 586.4,141.1 581.0,135.1 574.2,138.7" fill="none" stroke="#101010" stroke-width="0.85"/>
<polygon points="529.0,154.4 532.5,151.2 529.9,149.0 526.5,152.2" fill="#ffca7a" stroke="#ffca7a" stroke-width="0.4"/>
<polygon points="526.5,152.2 529.9,149.0 527.4,147.1 523.9,150.3" fill="#ffc87b" stroke="#ffc87b" stroke-width="0.4"/>
<polygon points="532.5,151.2 536.0,148.1 533.4,146.0 529.9,149.0" fill="#ffbb76" stroke="#ffbb76" stroke-width="0.4"/>
<polygon points="529.9,149.0 533.4,146.0 530.8,144.0 527.4,147.1" fill="#ffba77" stroke="#ffba77" stroke-width="0.4"/>
<polygon points="529.0,154.4 536.0,148.1 530.8,144.0 523.9,150.3" fill="none" stroke="#101010" stroke-width="0.85"/>
<polygon points="548.2,147.1 551.7,144.5 549.0,142.0 545.6,144.7" fill="#ff9663" stroke="#ff9663" stroke-width="0.4"/>
<polygon points="545.6,144.7 549.0,142.0 546.4,139.8 542.9,142.4" fill="#ff9265" stroke="#ff9265" stroke-width="0.4"/>
<polygon points="551.7,144.5 555.2,142.0 552.5,139.5 549.0,142.0" fill="#ff885e" stroke="#ff885e" stroke-width="0.4"/>
<polygon points="549.0,142.0 552.5,139.5 549.8,137.2 546.4,139.8" fill="#ff8460" stroke="#ff8460" stroke-width="0.4"/>
<polygon points="548.2,147.1 555.2,142.0 549.8,137.2 542.9,142.4" fill="none" stroke="#101010" stroke-width="0.85"/>
<polygon points="560.5,147.3 564.0,144.9 561.3,142.2 557.8,144.6" fill="#ff8553" stroke="#ff8553" stroke-width="0.4"/>
<polygon points="557.8,144.6 561.3,142.2 558.6,139.6 555.2,142.0" fill="#ff7f56" stroke="#ff7f56" stroke-width="0.4"/>
<polygon points="564.0,144.9 567.4,142.7 564.7,140.0 561.3,142.2" fill="#ff784d" stroke="#ff784d" stroke-width="0.4"/>
<polygon points="561.3,142.2 564.7,140.0 562.0,137.4 558.6,139.6" fill="#ff7150" stroke="#ff7150" stroke-width="0.4"/>
<polygon points="560.5,147.3 567.4,142.7 562.0,137.4 555.2,142.0" fill="none" stroke="#101010" stroke-width="0.85"/>
<polygon points="522.1,161.1 525.6,157.7 523.0,155.6 519.5,159.0" fill="#ffe782" stroke="#ffe782" stroke-width="0.4"/>
<polygon points="519.5,159.0 523.0,155.6 520.4,153.6 516.9,157.1" fill="#ffe583" stroke="#ffe583" stroke-width="0.4"/>
<polygon points="525.6,157.7 529.0,154.4 526.5,152.2 523.0,155.6" fill="#ffd87e" stroke="#ffd87e" stroke-width="0.4"/>
<polygon points="523.0,155.6 526.5,152.2 523.9,150.3 520.4,153.6" fill="#ffd77f" stroke="#ffd77f" stroke-width="0.4"/>
<polygon points="522.1,161.1 529.0,154.4 523.9,150.3 516.9,157.1" fill="none" stroke="#101010" stroke-width="0.85"/>
<polygon points="572.8,148.7 576.3,146.6 573.5,143.5 570.1,145.6" fill="#ff7e42" stroke="#ff7e42" stroke-width="0.4"/>
<polygon points="570.1,145.6 573.5,143.5 570.8,140.6 567.4,142.7" fill="#ff7444" stroke="#ff7444" stroke-width="0.4"/>
<polygon points="576.3,146.6 579.7,144.6 576.9,141.6 573.5,143.5" fill="#ff743c" stroke="#ff743c" stroke-width="0.4"/>
<polygon points="573.5,143.5 576.9,141.6 574.2,138.7 570.8,140.6" fill="#ff693f" stroke="#ff693f" stroke-width="0.4"/>
<polygon points="572.8,148.7 579.7,144.6 574.2,138.7 567.4,142.7" fill="none" stroke="#101010" stroke-width="0.85"/>
<polygon points="541.3,152.8 544.8,149.9 542.1,147.5 538.6,150.4" fill="#ffb36e" stroke="#ffb36e" stroke-width="0.4"/>
<polygon points="538.6,150.4 542.1,147.5 539.5,145.2 536.0,148.1" fill="#ffaf70" stroke="#ffaf70" stroke-width="0.4"/>
<polygon points="544.8,149.9 548.2,147.1 545.6,144.7 542.1,147.5" fill="#ffa469" stroke="#ffa469" stroke-width="0.4"/>
<polygon points="542.1,147.5 545.6,144.7 542.9,142.4 539.5,145.2" fill="#ffa16b" stroke="#ffa16b" stroke-width="0.4"/>
<polygon points="541.3,152.8 548.2,147.1 542.9,142.4 536.0,148.1" fill="none" stroke="#101010" stroke-width="0.85"/>
<polygon points="585.2,151.3 588.5,149.4 585.8,146.1 582.4,147.9" fill="#ff8631" stroke="#ff8631" stroke-width="0.4"/>
<polygon points="582.4,147.9 585.8,146.1 583.1,142.8 579.7,144.6" fill="#ff7734" stroke="#ff7734" stroke-width="0.4"/>
<polygon points="588.5,149.4 591.9,147.8 589.2,144.4 585.8,146.1" fill="#ff7f2c" stroke="#ff7f2c" stroke-width="0.4"/>
<polygon points="585.8,146.1 589.2,144.4 586.4,141.1 583.1,142.8" fill="#ff702f" stroke="#ff702f" stroke-width="0.4"/>
<polygon points="585.2,151.3 591.9,147.8 586.4,141.1 579.7,144.6" fill="none" stroke="#101010" stroke-width="0.85"/>
<polygon points="515.0,168.5 518.5,164.7 516.0,162.6 512.5,166.3" fill="#faff88" stroke="#faff88" stroke-width="0.4"/>
<polygon points="512.5,166.3 516.0,162.6 513.4,160.6 510.0,164.4" fill="#fcff89" stroke="#fcff89" stroke-width="0.4"/>
<polygon points="518.5,164.7 522.1,161.1 519.5,159.0 516.0,162.6" fill="#fff585" stroke="#fff585" stroke-width="0.4"/>
<polygon points="516.0,162.6 519.5,159.0 516.9,157.1 513.4,160.6" fill="#fff486" stroke="#fff486" stroke-width="0.4"/>
<polygon points="515.0,168.5 522.1,161.1 516.9,157.1 510.0,164.4" fill="none" stroke="#101010" stroke-width="0.85"/>
<polygon points="553.6,152.5 557.1,149.8 554.4,147.1 550.9,149.7" fill="#ffa05e" stroke="#ffa05e" stroke-width="0.4"/>
<polygon points="550.9,149.7 554.4,147.1 551.7,144.5 548.2,147.1" fill="#ff9a61" stroke="#ff9a61" stroke-width="0.4"/>
<polygon points="557.1,149.8 560.5,147.3 557.8,144.6 554.4,147.1" fill="#ff9259" stroke="#ff9259" stroke-width="0.4"/>
<polygon points="554.4,147.1 557.8,144.6 555.2,142.0 551.7,144.5" fill="#ff8c5b" stroke="#ff8c5b" stroke-width="0.4"/>
<polygon points="553.6,152.5 560.5,147.3 555.2,142.0 548.2,147.1" fill="none" stroke="#101010" stroke-width="0.85"/>
<polygon points="534.3,159.1 537.8,155.9 535.2,153.4 531.7,156.6" fill="#ffd078" stroke="#ffd078" stroke-width="0.4"/>
<polygon points="531.7,156.6 535.2,153.4 532.5,151.2 529.0,154.4" fill="#ffcc79" stroke="#ffcc79" stroke-width="0.4"/>
<polygon points="537.8,155.9 541.3,152.8 538.6,150.4 535.2,153.4" fill="#ffc173" stroke="#ffc173" stroke-width="0.4"/>
<polygon points="535.2,153.4 538.6,150.4 536.0,148.1 532.5,151.2" fill="#ffbe75" stroke="#ffbe75" stroke-width="0.4"/>
<polygon points="534.3,159.1 541.3,152.8 536.0,148.1 529.0,154.4" fill="none" stroke="#101010" stroke-width="0.85"/>
<polygon points="566.0,153.3 569.4,150.9 566.7,147.9 563.2,150.2" fill="#ff964d" stroke="#ff964d" stroke-width="0.4"/>
<polygon points="563.2,150.2 566.7,147.9 564.0,144.9 560.5,147.3" fill="#ff8d50" stroke="#ff8d50" stroke-width="0.4"/>
<polygon points="569.4,150.9 572.8,148.7 570.1,145.6 566.7,147.9" fill="#ff8a47" stroke="#ff8a47" stroke-width="0.4"/>
<polygon points="566.7,147.9 570.1,145.6 567.4,142.7 564.0,144.9" fill="#ff804a" stroke="#ff804a" stroke-width="0.4"/>
<polygon points="566.0,153.3 572.8,148.7 567.4,142.7 560.5,147.3" fill="none" stroke="#101010" stroke-width="0.85"/>
<polygon points="578.3,155.3 581.8,153.2 579.0,149.8 575.6,151.9" fill="#ff983c" stroke="#ff983c" stroke-width="0.4"/>
<polygon points="575.6,151.9 579.0,149.8 576.3,146.6 572.8,148.7" fill="#ff8a3f" stroke="#ff8a3f" stroke-width="0.4"/>
<polygon points="581.8,153.2 585.2,151.3 582.4,147.9 579.0,149.8" fill="#ff8f36" stroke="#ff8f36" stroke-width="0.4"/>
<polygon points="579.0,149.8 582.4,147.9 579.7,144.6 576.3,146.6" fill="#ff8039" stroke="#ff8039" stroke-width="0.4"/>
<polygon points="578.3,155.3 585.2,151.3 579.7,144.6 572.8,148.7" fill="none" stroke="#101010" stroke-width="0.85"/>
<polygon points="527.3,165.8 530.8,162.4 528.2,160.0 524.6,163.4" fill="#ffec80" stroke="#ffec80" stroke-width="0.4"/>
<polygon points="524.6,163.4 528.2,160.0 525.6,157.7 522.1,161.1" fill="#ffe981" stroke="#ffe981" stroke-width="0.4"/>
<polygon points="530.8,162.4 534.3,159.1 531.7,156.6 528.2,160.0" fill="#ffde7c" stroke="#ffde7c" stroke-width="0.4"/>
<polygon points="528.2,160.0 531.7,156.6 529.0,154.4 525.6,157.7" fill="#ffdb7d" stroke="#ffdb7d" stroke-width="0.4"/>
<polygon points="527.3,165.8 534.3,159.1 529.0,154.4 522.1,161.1" fill="none" stroke="#101010" stroke-width="0.85"/>
<polygon points="546.6,158.1 550.1,155.2 547.4,152.5 543.9,155.4" fill="#ffbc69" stroke="#ffbc69" stroke-width="0.4"/>
<polygon points="543.9,155.4 547.4,152.5 544.8,149.9 541.3,152.8" fill="#ffb76c" stroke="#ffb76c" stroke-width="0.4"/>
<polygon points="550.1,155.2 553.6,152.5 550.9,149.7 547.4,152.5" fill="#ffae64" stroke="#ffae64" stroke-width="0.4"/>
<polygon points="547.4,152.5 550.9,149.7 548.2,147.1 544.8,149.9" fill="#ffa967" stroke="#ffa967" stroke-width="0.4"/>
<polygon points="546.6,158.1 553.6,152.5 548.2,147.1 541.3,152.8" fill="none" stroke="#101010" stroke-width="0.85"/>
<polygon points="520.2,173.2 523.7,169.4 521.1,167.0 517.6,170.7" fill="#f5ff86" stroke="#f5ff86" stroke-width="0.4"/>
<polygon points="517.6,170.7 521.1,167.0 518.5,164.7 515.0,168.5" fill="#f8ff88" stroke="#f8ff88" stroke-width="0.4"/>
<polygon points="523.7,169.4 527.3,165.8 524.6,163.4 521.1,167.0" fill="#fffb83" stroke="#fffb83" stroke-width="0.4"/>
<polygon points="521.1,167.0 524.6,163.4 522.1,161.1 518.5,164.7" fill="#fff785" stroke="#fff785" stroke-width="0.4"/>
<polygon points="520.2,173.2 527.3,165.8 522.1,161.1 515.0,168.5" fill="none" stroke="#101010" stroke-width="0.85"/>
<polygon points="559.0,158.4 562.5,155.8 559.8,152.7 556.3,155.4" fill="#ffb058" stroke="#ffb058" stroke-width="0.4"/>
<polygon points="556.3,155.4 559.8,152.7 557.1,149.8 553.6,152.5" fill="#ffa75b" stroke="#ffa75b" stroke-width="0.4"/>
<polygon points="562.5,155.8 566.0,153.3 563.2,150.2 559.8,152.7" fill="#ffa353" stroke="#ffa353" stroke-width="0.4"/>
<polygon points="559.8,152.7 563.2,150.2 560.5,147.3 557.1,149.8" fill="#ff9a56" stroke="#ff9a56" stroke-width="0.4"/>
<polygon points="559.0,158.4 566.0,153.3 560.5,147.3 553.6,152.5" fill="none" stroke="#101010" stroke-width="0.85"/>
<polygon points="539.6,164.4 543.1,161.2 540.4,158.5 536.9,161.6" fill="#ffd973" stroke="#ffd973" stroke-width="0.4"/>
<polygon points="536.9,161.6 540.4,158.5 537.8,155.9 534.3,159.1" fill="#ffd475" stroke="#ffd475" stroke-width="0.4"/>
<polygon points="543.1,161.2 546.6,158.1 543.9,155.4 540.4,158.5" fill="#ffcb6e" stroke="#ffcb6e" stroke-width="0.4"/>
<polygon points="540.4,158.5 543.9,155.4 541.3,152.8 537.8,155.9" fill="#ffc571" stroke="#ffc571" stroke-width="0.4"/>
<polygon points="539.6,164.4 546.6,158.1 541.3,152.8 534.3,159.1" fill="none" stroke="#101010" stroke-width="0.85"/>
<polygon points="571.4,159.9 574.9,157.5 572.1,154.1 568.7,156.5" fill="#ffad46" stroke="#ffad46" stroke-width="0.4"/>
<polygon points="568.7,156.5 572.1,154.1 569.4,150.9 566.0,153.3" fill="#ffa14a" stroke="#ffa14a" stroke-width="0.4"/>
<polygon points="574.9,157.5 578.3,155.3 575.6,151.9 572.1,154.1" fill="#ffa241" stroke="#ffa241" stroke-width="0.4"/>
<polygon points="572.1,154.1 575.6,151.9 572.8,148.7 569.4,150.9" fill="#ff9544" stroke="#ff9544" stroke-width="0.4"/>
<polygon points="571.4,159.9 578.3,155.3 572.8,148.7 566.0,153.3" fill="none" stroke="#101010" stroke-width="0.85"/>
<polygon points="552.0,164.1 555.5,161.2 552.8,158.1 549.3,161.0" fill="#ffcb63" stroke="#ffcb63" stroke-width="0.4"/>
<polygon points="549.3,161.0 552.8,158.1 550.1,155.2 546.6,158.1" fill="#ffc366" stroke="#ffc366" stroke-width="0.4"/>
<polygon points="555.5,161.2 559.0,158.4 556.3,155.4 552.8,158.1" fill="#ffbd5d" stroke="#ffbd5d" stroke-width="0.4"/>
<polygon points="552.8,158.1 556.3,155.4 553.6,152.5 550.1,155.2" fill="#ffb561" stroke="#ffb561" stroke-width="0.4"/>
<polygon points="552.0,164.1 559.0,158.4 553.6,152.5 546.6,158.1" fill="none" stroke="#101010" stroke-width="0.85"/>
<polygon points="532.5,171.2 536.1,167.7 533.4,165.0 529.9,168.4" fill="#fff67b" stroke="#fff67b" stroke-width="0.4"/>
<polygon points="529.9,168.4 533.4,165.0 530.8,162.4 527.3,165.8" fill="#fff07e" stroke="#fff07e" stroke-width="0.4"/>
<polygon points="536.1,167.7 539.6,164.4 536.9,161.6 533.4,165.0" fill="#ffe777" stroke="#ffe777" stroke-width="0.4"/>
<polygon points="533.4,165.0 536.9,161.6 534.3,159.1 530.8,162.4" fill="#ffe27a" stroke="#ffe27a" stroke-width="0.4"/>
<polygon points="532.5,171.2 539.6,164.4 534.3,159.1 527.3,165.8" fill="none" stroke="#101010" stroke-width="0.85"/>
<polygon points="564.5,165.0 568.0,162.4 565.2,159.0 561.7,161.6" fill="#ffc651" stroke="#ffc651" stroke-width="0.4"/>
<polygon points="561.7,161.6 565.2,159.0 562.5,155.8 559.0,158.4" fill="#ffba55" stroke="#ffba55" stroke-width="0.4"/>
<polygon points="568.0,162.4 571.4,159.9 568.7,156.5 565.2,159.0" fill="#ffb94c" stroke="#ffb94c" stroke-width="0.4"/>
<polygon points="565.2,159.0 568.7,156.5 566.0,153.3 562.5,155.8" fill="#ffad4f" stroke="#ffad4f" stroke-width="0.4"/>
<polygon points="564.5,165.0 571.4,159.9 566.0,153.3 559.0,158.4" fill="none" stroke="#101010" stroke-width="0.85"/>
<polygon points="525.5,178.5 529.0,174.8 526.4,172.0 522.8,175.7" fill="#ebff82" stroke="#ebff82" stroke-width="0.4"/>
<polygon points="522.8,175.7 526.4,172.0 523.7,169.4 520.2,173.2" fill="#f1ff85" stroke="#f1ff85" stroke-width="0.4"/>
<polygon points="529.0,174.8 532.5,171.2 529.9,168.4 526.4,172.0" fill="#faff7f" stroke="#faff7f" stroke-width="0.4"/>
<polygon points="526.4,172.0 529.9,168.4 527.3,165.8 523.7,169.4" fill="#ffff81" stroke="#ffff81" stroke-width="0.4"/>
<polygon points="525.5,178.5 532.5,171.2 527.3,165.8 520.2,173.2" fill="none" stroke="#101010" stroke-width="0.85"/>
<polygon points="545.0,170.3 548.5,167.1 545.8,164.1 542.3,167.3" fill="#ffe76c" stroke="#ffe76c" stroke-width="0.4"/>
<polygon points="542.3,167.3 545.8,164.1 543.1,161.2 539.6,164.4" fill="#ffe070" stroke="#ffe070" stroke-width="0.4"/>
<polygon points="548.5,167.1 552.0,164.1 549.3,161.0 545.8,164.1" fill="#ffd968" stroke="#ffd968" stroke-width="0.4"/>
<polygon points="545.8,164.1 549.3,161.0 546.6,158.1 543.1,161.2" fill="#ffd16b" stroke="#ffd16b" stroke-width="0.4"/>
<polygon points="545.0,170.3 552.0,164.1 546.6,158.1 539.6,164.4" fill="none" stroke="#101010" stroke-width="0.85"/>
<polygon points="557.5,170.7 561.0,167.8 558.2,164.4 554.7,167.3" fill="#ffe05b" stroke="#ffe05b" stroke-width="0.4"/>
<polygon points="554.7,167.3 558.2,164.4 555.5,161.2 552.0,164.1" fill="#ffd55f" stroke="#ffd55f" stroke-width="0.4"/>
<polygon points="561.0,167.8 564.5,165.0 561.7,161.6 558.2,164.4" fill="#ffd356" stroke="#ffd356" stroke-width="0.4"/>
<polygon points="558.2,164.4 561.7,161.6 559.0,158.4 555.5,161.2" fill="#ffc75a" stroke="#ffc75a" stroke-width="0.4"/>
<polygon points="557.5,170.7 564.5,165.0 559.0,158.4 552.0,164.1" fill="none" stroke="#101010" stroke-width="0.85"/>
<polygon points="537.9,177.1 541.4,173.7 538.7,170.6 535.2,174.1" fill="#faff75" stroke="#faff75" stroke-width="0.4"/>
<polygon points="535.2,174.1 538.7,170.6 536.1,167.7 532.5,171.2" fill="#fffc78" stroke="#fffc78" stroke-width="0.4"/>
<polygon points="541.4,173.7 545.0,170.3 542.3,167.3 538.7,170.6" fill="#fff671" stroke="#fff671" stroke-width="0.4"/>
<polygon points="538.7,170.6 542.3,167.3 539.6,164.4 536.1,167.7" fill="#ffee74" stroke="#ffee74" stroke-width="0.4"/>
<polygon points="537.9,177.1 545.0,170.3 539.6,164.4 532.5,171.2" fill="none" stroke="#101010" stroke-width="0.85"/>
<polygon points="530.8,184.4 534.3,180.7 531.7,177.6 528.1,181.4" fill="#ddff7c" stroke="#ddff7c" stroke-width="0.4"/>
<polygon points="528.1,181.4 531.7,177.6 529.0,174.8 525.5,178.5" fill="#e5ff80" stroke="#e5ff80" stroke-width="0.4"/>
<polygon points="534.3,180.7 537.9,177.1 535.2,174.1 531.7,177.6" fill="#ebff79" stroke="#ebff79" stroke-width="0.4"/>
<polygon points="531.7,177.6 535.2,174.1 532.5,171.2 529.0,174.8" fill="#f3ff7c" stroke="#f3ff7c" stroke-width="0.4"/>
<polygon points="530.8,184.4 537.9,177.1 532.5,171.2 525.5,178.5" fill="none" stroke="#101010" stroke-width="0.85"/>
<polygon points="550.4,176.9 553.9,173.7 551.2,170.4 547.7,173.5" fill="#fffc65" stroke="#fffc65" stroke-width="0.4"/>
<polygon points="547.7,173.5 551.2,170.4 548.5,167.1 545.0,170.3" fill="#fff169" stroke="#fff169" stroke-width="0.4"/>
<polygon points="553.9,173.7 557.5,170.7 554.7,167.3 551.2,170.4" fill="#ffee60" stroke="#ffee60" stroke-width="0.4"/>
<polygon points="551.2,170.4 554.7,167.3 552.0,164.1 548.5,167.1" fill="#ffe364" stroke="#ffe364" stroke-width="0.4"/>
<polygon points="550.4,176.9 557.5,170.7 552.0,164.1 545.0,170.3" fill="none" stroke="#101010" stroke-width="0.85"/>
<polygon points="543.3,183.7 546.8,180.2 544.1,176.9 540.6,180.3" fill="#e6ff6e" stroke="#e6ff6e" stroke-width="0.4"/>
<polygon points="540.6,180.3 544.1,176.9 541.4,173.7 537.9,177.1" fill="#f1ff71" stroke="#f1ff71" stroke-width="0.4"/>
<polygon points="546.8,180.2 550.4,176.9 547.7,173.5 544.1,176.9" fill="#f4ff69" stroke="#f4ff69" stroke-width="0.4"/>
<polygon points="544.1,176.9 547.7,173.5 545.0,170.3 541.4,173.7" fill="#ffff6d" stroke="#ffff6d" stroke-width="0.4"/>
<polygon points="543.3,183.7 550.4,176.9 545.0,170.3 537.9,177.1" fill="none" stroke="#101010" stroke-width="0.85"/>
<polygon points="536.2,191.0 539.7,187.3 537.0,183.9 533.5,187.6" fill="#c9ff75" stroke="#c9ff75" stroke-width="0.4"/>
<polygon points="533.5,187.6 537.0,183.9 534.3,180.7 530.8,184.4" fill="#d4ff79" stroke="#d4ff79" stroke-width="0.4"/>
<polygon points="539.7,187.3 543.3,183.7 540.6,180.3 537.0,183.9" fill="#d7ff71" stroke="#d7ff71" stroke-width="0.4"/>
<polygon points="537.0,183.9 540.6,180.3 537.9,177.1 534.3,180.7" fill="#e2ff75" stroke="#e2ff75" stroke-width="0.4"/>
<polygon points="536.2,191.0 543.3,183.7 537.9,177.1 530.8,184.4" fill="none" stroke="#101010" stroke-width="0.85"/>
</g>
<line x1="446.1" y1="169.2" x2="445.6" y2="163.1" stroke="#333" stroke-width="0.7"/>
<circle cx="445.6" cy="163.1" r="2.5" fill="#c40000" stroke="#6a0000" stroke-width="0.6"/>
<line x1="542.5" y1="102.5" x2="542.5" y2="97.8" stroke="#333" stroke-width="0.7"/>
<circle cx="542.5" cy="97.8" r="2.5" fill="#c40000" stroke="#6a0000" stroke-width="0.6"/>
<line x1="522.5" y1="129.6" x2="522.4" y2="123.6" stroke="#333" stroke-width="0.7"/>
<circle cx="522.4" cy="123.6" r="2.5" fill="#c40000" stroke="#6a0000" stroke-width="0.6"/>
<line x1="643.5" y1="122.4" x2="643.6" y2="120.9" stroke="#333" stroke-width="0.7"/>
<circle cx="643.6" cy="120.9" r="2.5" fill="#c40000" stroke="#6a0000" stroke-width="0.6"/>
<line x1="564.5" y1="165.0" x2="564.5" y2="158.6" stroke="#333" stroke-width="0.7"/>
<circle cx="564.5" cy="158.6" r="2.5" fill="#c40000" stroke="#6a0000" stroke-width="0.6"/>
<line x1="605.1" y1="142.4" x2="604.9" y2="147.4" stroke="#333" stroke-width="0.7"/>
<circle cx="604.9" cy="147.4" r="2.1" fill="#ffc8c8" stroke="#c09090" stroke-width="0.5"/>
<line x1="536.2" y1="191.0" x2="536.2" y2="195.0" stroke="#333" stroke-width="0.7"/>
<circle cx="536.2" cy="195.0" r="2.1" fill="#ffc8c8" stroke="#c09090" stroke-width="0.5"/>
<line x1="515.0" y1="168.5" x2="515.1" y2="169.6" stroke="#333" stroke-width="0.7"/>
<circle cx="515.1" cy="169.6" r="2.1" fill="#ffc8c8" stroke="#c09090" stroke-width="0.5"/>
<g font-size="12.3" fill="#222">
<text x="429.3" y="75.2" text-anchor="end">4.2</text>
<text x="431.0" y="87.5" text-anchor="end">4</text>
<text x="432.8" y="100.3" text-anchor="end">3.8</text>
<text x="433.3" y="112.6" text-anchor="end">3.6</text>
<text x="434.4" y="125.1" text-anchor="end">3.4</text>
<text x="435.1" y="137.1" text-anchor="end">3.2</text>
<text x="436.3" y="149.1" text-anchor="end">3</text>
<text x="437.4" y="161.4" text-anchor="end">2.8</text>
<text x="437.9" y="174.2" text-anchor="end">2.6</text>
<text x="528.7" y="298.9" text-anchor="end">0</text>
<text x="545.2" y="298.7">0</text>
<text x="511.2" y="283.7" text-anchor="end">5</text>
<text x="569.3" y="286.6">0.1</text>
<text x="493.6" y="268.5" text-anchor="end">10</text>
<text x="593.4" y="274.5">0.2</text>
<text x="476.0" y="253.3" text-anchor="end">15</text>
<text x="617.5" y="262.4">0.3</text>
<text x="458.4" y="238.1" text-anchor="end">20</text>
<text x="641.6" y="250.3">0.4</text>
<text x="440.9" y="222.9" text-anchor="end">25</text>
<text x="665.7" y="238.2">0.5</text>
</g>
<g font-size="13.3" fill="#222">
<text x="412.8" y="278" font-size="14" textLength="75.6" lengthAdjust="spacingAndGlyphs">B: POFA (%)</text>
<text x="606" y="293.7" font-size="14" textLength="54" lengthAdjust="spacingAndGlyphs">A: JF (%)</text>
<text transform="translate(416.6 188.4) rotate(-90)" font-size="14" textLength="84.4" lengthAdjust="spacingAndGlyphs">UPV (km/sec)</text>
</g>
<text x="570.8" y="14.7" font-size="11.8" text-anchor="middle" fill="#222">3D Surface</text>
</g>
</svg>
</body></html>
